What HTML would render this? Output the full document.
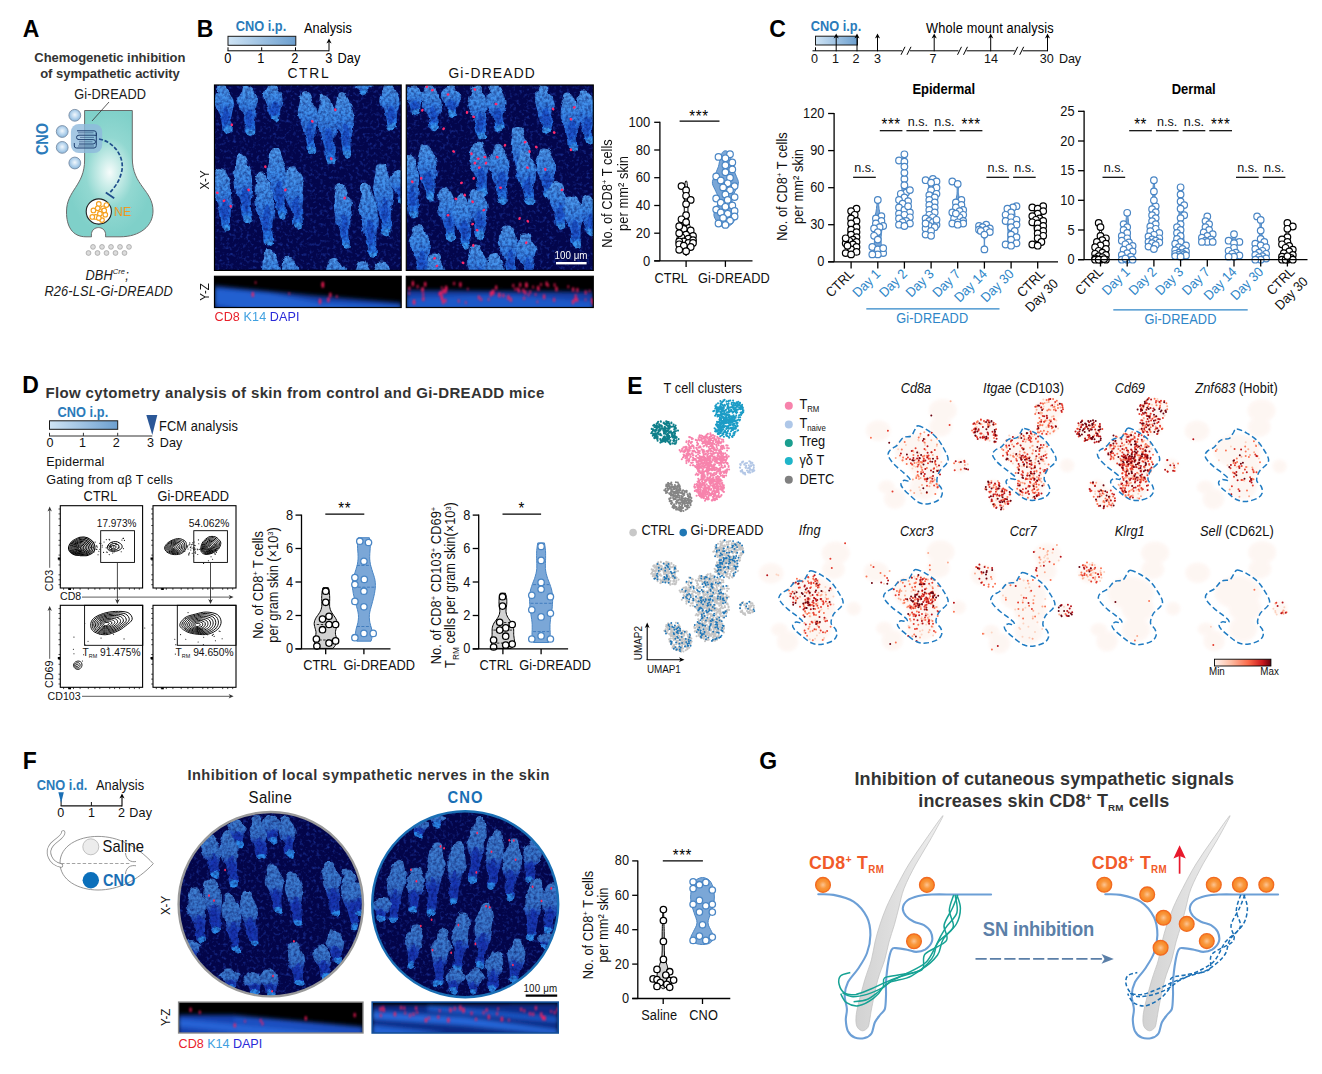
<!DOCTYPE html><html><head><meta charset="utf-8"><title>Figure</title><style>html,body{margin:0;padding:0;background:#fff}svg{display:block}text{font-family:"Liberation Sans",sans-serif}</style></head><body>
<svg width="1322" height="1074" viewBox="0 0 1322 1074">
<rect width="1322" height="1074" fill="#fff"/>
<defs>
<linearGradient id="folg2" x1="0" x2="0" y1="0" y2="1"><stop offset="0" stop-color="#3f80d2"/><stop offset="0.45" stop-color="#3674cc"/><stop offset="0.6" stop-color="#1b42b8"/><stop offset="0.86" stop-color="#1838b4"/><stop offset="1" stop-color="#2a86e6"/></linearGradient>
<linearGradient id="folg" x1="0" x2="0" y1="0" y2="1"><stop offset="0" stop-color="#4f9cee"/><stop offset="0.35" stop-color="#3c8cea"/><stop offset="0.7" stop-color="#2266dc"/><stop offset="1" stop-color="#2a88f2"/></linearGradient>
<filter id="bl" x="-5%" y="-5%" width="110%" height="110%"><feTurbulence type="fractalNoise" baseFrequency="0.11" numOctaves="2" seed="3" result="t"/><feDisplacementMap in="SourceGraphic" in2="t" scale="6" xChannelSelector="R" yChannelSelector="G" result="d"/><feGaussianBlur in="d" stdDeviation="0.75" result="b"/><feTurbulence type="fractalNoise" baseFrequency="0.35" numOctaves="2" seed="9" result="t2"/><feColorMatrix in="t2" type="matrix" values="0 0 0 0 1  0 0 0 0 1  0 0 0 0 1  1.1 0 0 0 0.28" result="m"/><feComposite in="b" in2="m" operator="in"/></filter>
<filter id="bl2" x="-20%" y="-50%" width="140%" height="200%"><feGaussianBlur stdDeviation="2.2"/></filter>
<filter id="rb2" x="-50%" y="-50%" width="200%" height="200%"><feGaussianBlur stdDeviation="0.8"/></filter>
<filter id="rb" x="-50%" y="-50%" width="200%" height="200%"><feGaussianBlur stdDeviation="0.45"/></filter>
<filter id="nz" x="0" y="0" width="100%" height="100%"><feTurbulence type="fractalNoise" baseFrequency="0.3" numOctaves="2" seed="7"/><feColorMatrix type="matrix" values="0 0 0 0 0.02  0 0 0 0 0.07  0 0 0 0 0.55  0 0 1.55 0 -0.8"/></filter>
</defs>
<text font-size="23" font-weight="bold" transform="translate(22.8 37) scale(1 1.08)">A</text>
<text font-size="13" fill="#333" font-weight="bold" textLength="151.1" lengthAdjust="spacing" transform="translate(34.3 61.7)">Chemogenetic inhibition</text>
<text font-size="13" fill="#333" font-weight="bold" textLength="139.6" lengthAdjust="spacing" transform="translate(40.2 78.4)">of sympathetic activity</text>
<text font-size="12.8" fill="#1a1a1a" textLength="71.8" lengthAdjust="spacing" transform="translate(74.2 98.8) scale(1 1.08)">Gi-DREADD</text>
<radialGradient id="neu" cx="0.5" cy="0.49" r="0.5"><stop offset="0" stop-color="#f6fcfb"/><stop offset="0.22" stop-color="#cdeeea"/><stop offset="0.55" stop-color="#92d8d1"/><stop offset="1" stop-color="#7fd0c9"/></radialGradient>
<path d="M84.6 110.5 L132.3 110.5 L132.3 158 C132.3 186 153 190 153 211 C153 226 140 236.8 120 236.8 L105.5 236.8 C107.5 224.5 89.5 224.5 91.5 236.8 L86 236.8 C72 236.8 66.5 226 66.5 212 C66.5 190 84.6 186 84.6 160 Z" fill="url(#neu)" stroke="#6b6b6b" stroke-width="1"/>
<line x1="109" y1="102" x2="92" y2="121" stroke="#333" stroke-width="0.8"/>
<rect x="70.9" y="124" width="31.3" height="29" rx="8" fill="#8fb9dc" opacity="0.8"/>
<path d="M77 130.8 H94 Q96.3 130.8 96.3 133 V136 M96.3 136 Q96.3 135.2 94 135.2 H79 Q76.5 135.2 76.5 137.4 Q76.5 139.6 79 139.6 H93 Q95.5 139.6 95.5 141.8 Q95.5 144 93 144 H79 M96.3 133 V145.5 Q96.3 148 94 148 H76.5 Q74.3 148 74.3 146 V143" fill="none" stroke="#1f3f6f" stroke-width="1.0"/>
<path d="M78 132.8 H93.5 M80 137.4 H94 M79 141.8 H92.5 M78 146 H94" fill="none" stroke="#1f3f6f" stroke-width="0.55"/>
<radialGradient id="cnob" cx="0.5" cy="0.45" r="0.6"><stop offset="0" stop-color="#f2f8fd"/><stop offset="0.5" stop-color="#b9d6ee"/><stop offset="1" stop-color="#7fb0d8"/></radialGradient>
<circle cx="74.8" cy="115.3" r="5.9" fill="url(#cnob)" stroke="#7b8fa6" stroke-width="0.9"/>
<circle cx="62.2" cy="131.5" r="5.9" fill="url(#cnob)" stroke="#7b8fa6" stroke-width="0.9"/>
<circle cx="62.2" cy="147.4" r="5.9" fill="url(#cnob)" stroke="#7b8fa6" stroke-width="0.9"/>
<circle cx="74.8" cy="163" r="5.9" fill="url(#cnob)" stroke="#7b8fa6" stroke-width="0.9"/>
<text font-size="14.5" fill="#2b7bba" text-anchor="middle" font-weight="bold" transform="translate(47.5 139) rotate(-90) scale(1 1.08)">CNO</text>
<path d="M99 139 C116 142 126 160 121 174 C119 182 114 188 110 192.5" fill="none" stroke="#1f4e8c" stroke-width="1.7" stroke-dasharray="4 1.8"/>
<line x1="105.8" y1="192.4" x2="114.2" y2="198.2" stroke="#1f4e8c" stroke-width="1.8"/>
<circle cx="98.8" cy="211.5" r="12.6" fill="#fff" stroke="#222" stroke-width="1.1"/>
<circle cx="93.4" cy="210.4" r="2.3" fill="#fff" stroke="#f5a01e" stroke-width="1.15"/>
<circle cx="98.8" cy="203.9" r="2.3" fill="#fff" stroke="#f5a01e" stroke-width="1.15"/>
<circle cx="103.1" cy="208.3" r="2.3" fill="#fff" stroke="#f5a01e" stroke-width="1.15"/>
<circle cx="105.3" cy="214.7" r="2.3" fill="#fff" stroke="#f5a01e" stroke-width="1.15"/>
<circle cx="99.9" cy="213.7" r="2.3" fill="#fff" stroke="#f5a01e" stroke-width="1.15"/>
<circle cx="95.6" cy="216.9" r="2.3" fill="#fff" stroke="#f5a01e" stroke-width="1.15"/>
<circle cx="102" cy="220.1" r="2.3" fill="#fff" stroke="#f5a01e" stroke-width="1.15"/>
<circle cx="92.3" cy="216.9" r="2.3" fill="#fff" stroke="#f5a01e" stroke-width="1.15"/>
<circle cx="106.4" cy="205" r="2.3" fill="#fff" stroke="#f5a01e" stroke-width="1.15"/>
<circle cx="97.7" cy="208.3" r="2.3" fill="#fff" stroke="#f5a01e" stroke-width="1.15"/>
<circle cx="98.8" cy="218" r="2.3" fill="#fff" stroke="#f5a01e" stroke-width="1.15"/>
<circle cx="104.2" cy="210.4" r="2.3" fill="#fff" stroke="#f5a01e" stroke-width="1.15"/>
<text font-size="12.5" fill="#5ec7bf" transform="translate(114.8 216.4) scale(1 1.08)">NE</text>
<text font-size="12.5" fill="#f39a1e" transform="translate(114 216) scale(1 1.08)">NE</text>
<circle cx="93" cy="246.9" r="2.4" fill="#dcdcdc" stroke="#9c9c9c" stroke-width="0.7"/>
<circle cx="88.5" cy="253" r="2.4" fill="#dcdcdc" stroke="#9c9c9c" stroke-width="0.7"/>
<circle cx="102" cy="246.9" r="2.4" fill="#dcdcdc" stroke="#9c9c9c" stroke-width="0.7"/>
<circle cx="97.5" cy="253" r="2.4" fill="#dcdcdc" stroke="#9c9c9c" stroke-width="0.7"/>
<circle cx="111" cy="246.9" r="2.4" fill="#dcdcdc" stroke="#9c9c9c" stroke-width="0.7"/>
<circle cx="106.5" cy="253" r="2.4" fill="#dcdcdc" stroke="#9c9c9c" stroke-width="0.7"/>
<circle cx="120" cy="246.9" r="2.4" fill="#dcdcdc" stroke="#9c9c9c" stroke-width="0.7"/>
<circle cx="115.5" cy="253" r="2.4" fill="#dcdcdc" stroke="#9c9c9c" stroke-width="0.7"/>
<circle cx="129" cy="246.9" r="2.4" fill="#dcdcdc" stroke="#9c9c9c" stroke-width="0.7"/>
<circle cx="124.5" cy="253" r="2.4" fill="#dcdcdc" stroke="#9c9c9c" stroke-width="0.7"/>
<text font-size="12.8" fill="#1a1a1a" font-style="italic" textLength="43.3" lengthAdjust="spacing" transform="translate(85.4 279.5) scale(1 1.08)">DBH<tspan font-size="7.5" dy="-5">Cre</tspan><tspan dy="5">;</tspan></text>
<text font-size="12.8" fill="#1a1a1a" font-style="italic" textLength="128.4" lengthAdjust="spacing" transform="translate(44.4 295.5) scale(1 1.08)">R26-LSL-Gi-DREADD</text>
<text font-size="23" font-weight="bold" transform="translate(196.8 36.8) scale(1 1.08)">B</text>
<text font-size="12.8" fill="#2b7bba" font-weight="bold" textLength="50.4" lengthAdjust="spacing" transform="translate(235.8 30.8) scale(1 1.08)">CNO i.p.</text>
<text font-size="12.8" textLength="47.8" lengthAdjust="spacing" transform="translate(304 32.5) scale(1 1.08)">Analysis</text>
<linearGradient id="gb" x1="0" x2="1" y1="0" y2="0"><stop offset="0" stop-color="#cfe4f5"/><stop offset="1" stop-color="#6c9fcf"/></linearGradient>
<rect x="228" y="36.3" width="67.8" height="9" fill="url(#gb)" stroke="#1a1a1a" stroke-width="1"/>
<line x1="227.5" y1="50.8" x2="329" y2="50.8" stroke="#000" stroke-width="1"/>
<line x1="228" y1="50.8" x2="228" y2="47.3" stroke="#000" stroke-width="1"/>
<line x1="261.7" y1="50.8" x2="261.7" y2="47.3" stroke="#000" stroke-width="1"/>
<line x1="295.5" y1="50.8" x2="295.5" y2="47.3" stroke="#000" stroke-width="1"/>
<line x1="329" y1="51.3" x2="329" y2="41.5" stroke="#000" stroke-width="1"/>
<path d="M329 38.5L326.4 43.5L329 42L331.6 43.5Z" fill="#000"/>
<text font-size="12.8" text-anchor="middle" transform="translate(227.8 62.5) scale(1 1.08)">0</text>
<text font-size="12.8" text-anchor="middle" transform="translate(260.8 62.5) scale(1 1.08)">1</text>
<text font-size="12.8" text-anchor="middle" transform="translate(294.7 62.5) scale(1 1.08)">2</text>
<text font-size="12.8" text-anchor="middle" transform="translate(328.8 62.5) scale(1 1.08)">3</text>
<text font-size="12.8" textLength="22.8" lengthAdjust="spacing" transform="translate(337.5 62.5) scale(1 1.08)">Day</text>
<text font-size="13.8" fill="#111" textLength="41.3" lengthAdjust="spacing" transform="translate(287.4 78) scale(1 1.08)">CTRL</text>
<text font-size="13.8" fill="#111" textLength="86.4" lengthAdjust="spacing" transform="translate(448.4 78) scale(1 1.08)">Gi-DREADD</text>
<clipPath id="cB1"><rect x="214.5" y="85" width="186.7" height="185.4"/></clipPath>
<g clip-path="url(#cB1)">
<rect x="214.5" y="85" width="186.7" height="185.4" fill="#03064c"/>
<rect x="214.5" y="85" width="186.7" height="185.4" fill="#000" filter="url(#nz)"/>
<g filter="url(#bl)">
<path d="M218.7 85.6C217.2 86.6 217.7 89.8 216.8 91.9C215.9 94 213.6 96.1 213.3 98.2C213 100.3 214.2 102.4 214.9 104.5C215.5 106.7 216.3 108.8 217.2 110.9C218.1 113 219.5 115.1 220.2 117.2C221 119.3 221.3 121.4 221.7 123.5C222.2 125.6 221.9 128.1 222.8 129.8C223.8 131.5 226.1 133.6 227.5 133.6C229 133.6 231 131.5 231.6 129.8C232.2 128.1 231.4 125.6 231.4 123.5C231.4 121.4 231.3 119.3 231.5 117.2C231.7 115.1 232.2 113 232.7 110.9C233.1 108.8 234.1 106.7 234.1 104.5C234.1 102.4 233.4 100.3 232.7 98.2C231.9 96.1 230.5 94 229.4 91.9C228.3 89.8 227.9 86.6 226.1 85.6C224.4 84.5 220.3 84.5 218.7 85.6Z" fill="url(#folg)"/><ellipse cx="225.8" cy="116.3" rx="3.4" ry="9.1" fill="#1a4fc8" opacity="0.75"/><ellipse cx="227.5" cy="129.8" rx="4.2" ry="3.4" fill="#3a9af2" opacity="0.9"/>
<path d="M242.6 85.6C241.1 86.7 241.8 90 240.9 92.2C240 94.4 237.4 96.7 237.1 98.9C236.9 101.1 238.5 103.3 239.3 105.5C240.1 107.7 241.2 109.9 242 112.1C242.7 114.4 243.4 116.6 243.9 118.8C244.4 121 244.8 123.2 245.2 125.4C245.6 127.6 245.3 130.3 246.2 132.1C247.2 133.8 249.6 135.9 251.1 135.9C252.6 135.9 254.4 133.8 255 132.1C255.7 130.3 255.1 127.6 255.1 125.4C255.1 123.2 255.1 121 255.2 118.8C255.3 116.6 255.5 114.4 255.7 112.1C256 109.9 256.3 107.7 256.7 105.5C257.1 103.3 258.5 101.1 258.1 98.9C257.7 96.7 255.6 94.4 254.2 92.2C252.8 90 251.7 86.7 249.8 85.6C247.9 84.5 244.1 84.5 242.6 85.6Z" fill="url(#folg)"/><ellipse cx="249.3" cy="117.8" rx="3.4" ry="9.6" fill="#1a4fc8" opacity="0.75"/><ellipse cx="251.1" cy="132.1" rx="4.2" ry="3.4" fill="#3a9af2" opacity="0.9"/>
<path d="M269.2 85.6C267.4 86.4 266.3 88.7 265.4 90.3C264.5 91.9 264 93.5 263.8 95C263.5 96.6 263.5 98.2 264 99.8C264.4 101.3 265.7 102.9 266.5 104.5C267.4 106.1 268.4 107.6 269 109.2C269.6 110.8 270 112.4 270.4 113.9C270.8 115.5 270.3 117.2 271.3 118.7C272.3 120.1 274.7 122.5 276.1 122.5C277.6 122.5 279.3 120.1 280 118.7C280.7 117.2 280.2 115.5 280.3 113.9C280.3 112.4 280 110.8 280.4 109.2C280.8 107.6 282.3 106.1 282.8 104.5C283.4 102.9 283.6 101.3 283.6 99.8C283.5 98.2 283.3 96.6 282.6 95C281.9 93.5 280.4 91.9 279.3 90.3C278.2 88.7 277.8 86.4 276.1 85.6C274.4 84.8 271 84.8 269.2 85.6Z" fill="url(#folg)"/><ellipse cx="274.8" cy="109.2" rx="3.4" ry="7" fill="#1a4fc8" opacity="0.75"/><ellipse cx="276.1" cy="118.7" rx="4.2" ry="3.4" fill="#3a9af2" opacity="0.9"/>
<path d="M302.4 93.4C300.8 94.8 300.7 98.9 299.9 101.6C299.1 104.4 297.9 107.1 297.8 109.9C297.6 112.6 298.2 115.4 299 118.1C299.7 120.9 301.4 123.6 302.3 126.4C303.1 129.1 303.5 131.8 304.1 134.6C304.7 137.3 305.4 140.1 305.9 142.8C306.4 145.6 306.2 149.1 307.2 151.1C308.2 153.1 310.5 154.9 312 154.9C313.4 154.9 315.3 153.1 316 151.1C316.6 149.1 315.8 145.6 315.7 142.8C315.6 140.1 315.3 137.3 315.4 134.6C315.5 131.8 316 129.1 316.3 126.4C316.5 123.6 316.8 120.9 316.9 118.1C317 115.4 317.6 112.6 317 109.9C316.3 107.1 314.5 104.4 313.2 101.6C312 98.9 311.3 94.8 309.4 93.4C307.6 92 304 92 302.4 93.4Z" fill="url(#folg)"/><ellipse cx="309.8" cy="132.7" rx="3.4" ry="11.7" fill="#1a4fc8" opacity="0.75"/><ellipse cx="312" cy="151.1" rx="4.2" ry="3.4" fill="#3a9af2" opacity="0.9"/>
<path d="M320.5 95.6C319.1 97.2 319.9 101.9 319.4 105C318.8 108.1 317.7 111.2 317.3 114.3C316.9 117.5 316.4 120.6 316.9 123.7C317.5 126.8 319.6 129.9 320.7 133.1C321.7 136.2 322.5 139.3 323.2 142.4C324 145.5 324.6 148.6 325.2 151.8C325.8 154.9 325.8 158.9 326.8 161.1C327.8 163.3 329.9 164.9 331.4 164.9C332.8 164.9 334.8 163.3 335.4 161.1C336 158.9 335.1 154.9 335 151.8C334.9 148.6 334.7 145.5 334.8 142.4C334.9 139.3 335.5 136.2 335.7 133.1C335.9 129.9 336 126.8 336.2 123.7C336.4 120.6 337.5 117.5 336.7 114.3C335.9 111.2 332.8 108.1 331.4 105C330 101.9 329.9 97.2 328.1 95.6C326.3 94.1 322 94.1 320.5 95.6Z" fill="url(#folg)"/><ellipse cx="328.9" cy="140" rx="3.4" ry="13.2" fill="#1a4fc8" opacity="0.75"/><ellipse cx="331.4" cy="161.1" rx="4.2" ry="3.4" fill="#3a9af2" opacity="0.9"/>
<path d="M337.9 93.4C336.4 94.9 337.2 99.2 336.4 102.1C335.6 105 333.5 107.9 333.3 110.8C333 113.7 334.2 116.6 334.8 119.6C335.3 122.5 335.7 125.4 336.6 128.3C337.5 131.2 339.3 134.1 340.2 137C341 139.9 341.3 142.8 341.8 145.7C342.3 148.6 342.2 152.3 343.2 154.4C344.3 156.5 346.5 158.2 347.9 158.2C349.3 158.2 351.3 156.5 351.9 154.4C352.5 152.3 351.5 148.6 351.4 145.7C351.4 142.8 351.4 139.9 351.7 137C351.9 134.1 352.5 131.2 352.9 128.3C353.2 125.4 353.7 122.5 353.8 119.6C353.8 116.6 353.8 113.7 353.1 110.8C352.3 107.9 350.7 105 349.4 102.1C348 99.2 346.9 94.9 345 93.4C343.1 92 339.3 92 337.9 93.4Z" fill="url(#folg)"/><ellipse cx="345.6" cy="134.9" rx="3.4" ry="12.3" fill="#1a4fc8" opacity="0.75"/><ellipse cx="347.9" cy="154.4" rx="4.2" ry="3.4" fill="#3a9af2" opacity="0.9"/>
<path d="M359.6 83.4C357.9 83.6 357.9 84.2 357 84.6C356.1 85 354.4 85.4 354 85.8C353.6 86.2 354.2 86.6 354.6 87C354.9 87.4 355.4 87.8 355.9 88.2C356.5 88.6 357.3 89 357.8 89.4C358.3 89.8 358.4 90.2 358.7 90.6C359 91 358.5 91 359.5 91.8C360.4 92.7 362.8 95.6 364.3 95.6C365.7 95.6 367.6 92.7 368.3 91.8C369 91 368.4 91 368.5 90.6C368.7 90.2 368.9 89.8 369.2 89.4C369.5 89 369.6 88.6 370.3 88.2C371.1 87.8 373.2 87.4 373.5 87C373.8 86.6 372.8 86.2 372.2 85.8C371.5 85.4 370.3 85 369.5 84.6C368.6 84.2 368.7 83.6 367.1 83.4C365.4 83.1 361.2 83.1 359.6 83.4Z" fill="url(#folg)"/><ellipse cx="363.8" cy="91.2" rx="3.4" ry="2.3" fill="#1a4fc8" opacity="0.75"/><ellipse cx="364.3" cy="91.8" rx="4.2" ry="3.4" fill="#3a9af2" opacity="0.9"/>
<path d="M384.4 85.6C382.8 86.6 383.2 89.5 382.6 91.4C382 93.4 381.2 95.3 380.8 97.3C380.5 99.2 380.1 101.2 380.5 103.1C381 105.1 382.8 107 383.7 109C384.5 110.9 384.9 112.8 385.5 114.8C386 116.7 386.6 118.7 387 120.6C387.4 122.6 387.1 124.9 388.1 126.5C389 128.1 391.3 130.3 392.7 130.3C394.2 130.3 396.1 128.1 396.8 126.5C397.5 124.9 396.8 122.6 396.9 120.6C396.9 118.7 396.8 116.7 397 114.8C397.3 112.8 398 110.9 398.4 109C398.8 107 399.5 105.1 399.6 103.1C399.6 101.2 399.4 99.2 398.9 97.3C398.3 95.3 397.2 93.4 396 91.4C394.8 89.5 393.6 86.6 391.7 85.6C389.8 84.6 385.9 84.6 384.4 85.6Z" fill="url(#folg)"/><ellipse cx="391.1" cy="114.2" rx="3.4" ry="8.5" fill="#1a4fc8" opacity="0.75"/><ellipse cx="392.7" cy="126.5" rx="4.2" ry="3.4" fill="#3a9af2" opacity="0.9"/>
<path d="M217 169.4C215.3 170.8 214.9 175 214.3 177.8C213.8 180.6 213.5 183.4 213.6 186.2C213.8 189 214.7 191.8 215.2 194.6C215.6 197.4 215.6 200.2 216.3 203C217.1 205.8 218.7 208.6 219.5 211.4C220.3 214.2 220.6 217 221 219.8C221.5 222.6 221.2 226.1 222.3 228.2C223.3 230.2 225.7 232 227.1 232C228.6 232 230.4 230.2 231 228.2C231.6 226.1 230.9 222.6 230.9 219.8C230.8 217 230.6 214.2 230.9 211.4C231.1 208.6 232.2 205.8 232.3 203C232.5 200.2 232 197.4 231.9 194.6C231.8 191.8 232.4 189 231.9 186.2C231.4 183.4 230 180.6 228.7 177.8C227.4 175 226.1 170.8 224.1 169.4C222.2 168 218.6 168 217 169.4Z" fill="url(#folg)"/><ellipse cx="224.9" cy="209.4" rx="3.4" ry="11.9" fill="#1a4fc8" opacity="0.75"/><ellipse cx="227.1" cy="228.2" rx="4.2" ry="3.4" fill="#3a9af2" opacity="0.9"/>
<path d="M237.5 156C236 157.5 236.4 162 235.6 165C234.8 168 232.8 171 232.6 174C232.4 177.1 234 180.1 234.5 183.1C235 186.1 235 189.1 235.9 192.1C236.7 195.1 238.8 198.1 239.7 201.1C240.5 204.2 240.6 207.2 241.1 210.2C241.6 213.2 241.5 217.1 242.6 219.2C243.7 221.4 246 223 247.5 223C248.9 223 250.8 221.4 251.4 219.2C252 217.1 251.1 213.2 251.1 210.2C251 207.2 250.8 204.2 250.9 201.1C251.1 198.1 251.8 195.1 252 192.1C252.1 189.1 252.2 186.1 252.1 183.1C252 180.1 251.9 177.1 251.2 174C250.5 171 249.1 168 247.9 165C246.7 162 246 157.5 244.2 156C242.5 154.5 238.9 154.5 237.5 156Z" fill="url(#folg)"/><ellipse cx="245.1" cy="198.9" rx="3.4" ry="12.7" fill="#1a4fc8" opacity="0.75"/><ellipse cx="247.5" cy="219.2" rx="4.2" ry="3.4" fill="#3a9af2" opacity="0.9"/>
<path d="M258.3 173.9C256.7 175.5 256.3 180.4 255.7 183.7C255.1 187 254.5 190.2 254.5 193.5C254.5 196.8 255.2 200.1 255.6 203.4C256.1 206.6 256.5 209.9 257.4 213.2C258.2 216.5 259.8 219.7 260.7 223C261.6 226.3 262.3 229.6 262.8 232.8C263.4 236.1 263 240.4 264.1 242.7C265.1 245 267.5 246.5 269 246.5C270.5 246.5 272.4 245 273 242.7C273.6 240.4 272.5 236.1 272.4 232.8C272.4 229.6 272.2 226.3 272.5 223C272.8 219.7 273.9 216.5 274.2 213.2C274.4 209.9 274.2 206.6 274.1 203.4C273.9 200.1 273.9 196.8 273.2 193.5C272.6 190.2 271.4 187 270.1 183.7C268.8 180.4 267.3 175.5 265.4 173.9C263.4 172.2 259.9 172.2 258.3 173.9Z" fill="url(#folg)"/><ellipse cx="266.4" cy="220.3" rx="3.4" ry="13.8" fill="#1a4fc8" opacity="0.75"/><ellipse cx="269" cy="242.7" rx="4.2" ry="3.4" fill="#3a9af2" opacity="0.9"/>
<path d="M271.6 149.3C270 150.9 270.2 155.6 269.4 158.8C268.6 162 266.9 165.1 266.8 168.3C266.7 171.5 268.2 174.6 268.9 177.8C269.6 181 270.3 184.2 271.2 187.3C272.1 190.5 273.6 193.7 274.4 196.8C275.2 200 275.5 203.2 276.1 206.4C276.6 209.5 276.6 213.6 277.7 215.9C278.7 218.1 280.8 219.7 282.3 219.7C283.7 219.7 285.7 218.1 286.3 215.9C286.8 213.6 285.8 209.5 285.7 206.4C285.6 203.2 285.3 200 285.6 196.8C285.9 193.7 287 190.5 287.4 187.3C287.8 184.2 288.3 181 288 177.8C287.7 174.6 286.7 171.5 285.8 168.3C284.9 165.1 283.8 162 282.6 158.8C281.5 155.6 280.6 150.9 278.8 149.3C277 147.7 273.2 147.7 271.6 149.3Z" fill="url(#folg)"/><ellipse cx="279.8" cy="194.3" rx="3.4" ry="13.4" fill="#1a4fc8" opacity="0.75"/><ellipse cx="282.3" cy="215.9" rx="4.2" ry="3.4" fill="#3a9af2" opacity="0.9"/>
<path d="M289.1 167.2C287.5 168.6 287.4 172.7 286.6 175.5C285.7 178.3 284 181.1 283.8 183.9C283.6 186.7 284.6 189.5 285.2 192.3C285.8 195.1 286.4 197.9 287.3 200.7C288.3 203.5 290 206.3 290.8 209.1C291.7 211.9 292 214.7 292.5 217.5C293.1 220.3 293 223.9 294 225.9C295 228 297.2 229.7 298.6 229.7C300 229.7 301.8 228 302.5 225.9C303.1 223.9 302.6 220.3 302.5 217.5C302.4 214.7 302 211.9 302.1 209.1C302.2 206.3 303 203.5 303.2 200.7C303.4 197.9 303.2 195.1 303.4 192.3C303.6 189.5 304.7 186.7 304.2 183.9C303.8 181.1 302 178.3 300.6 175.5C299.3 172.7 297.9 168.6 296 167.2C294 165.8 290.7 165.8 289.1 167.2Z" fill="url(#folg)"/><ellipse cx="296.4" cy="207.2" rx="3.4" ry="11.9" fill="#1a4fc8" opacity="0.75"/><ellipse cx="298.6" cy="225.9" rx="4.2" ry="3.4" fill="#3a9af2" opacity="0.9"/>
<path d="M336.7 185C335.2 186.5 335.7 190.8 335.2 193.7C334.7 196.6 333.8 199.6 333.6 202.5C333.5 205.4 334 208.3 334.3 211.2C334.7 214.1 334.8 217 335.6 219.9C336.4 222.8 338.3 225.7 339.1 228.6C339.9 231.5 340 234.4 340.5 237.3C341 240.2 340.9 243.9 342 246C343 248.1 345.3 249.8 346.8 249.8C348.3 249.8 350.3 248.1 350.9 246C351.5 243.9 350.6 240.2 350.5 237.3C350.4 234.4 350.3 231.5 350.3 228.6C350.3 225.7 350.3 222.8 350.5 219.9C350.8 217 351.6 214.1 351.8 211.2C352 208.3 352.6 205.4 351.9 202.5C351.2 199.6 348.9 196.6 347.6 193.7C346.3 190.8 346.1 186.5 344.2 185C342.4 183.6 338.2 183.6 336.7 185Z" fill="url(#folg)"/><ellipse cx="344.5" cy="226.5" rx="3.4" ry="12.3" fill="#1a4fc8" opacity="0.75"/><ellipse cx="346.8" cy="246" rx="4.2" ry="3.4" fill="#3a9af2" opacity="0.9"/>
<path d="M361.7 185C360.3 186.7 361.5 191.7 360.7 195C359.9 198.4 357 201.7 356.9 205C356.8 208.3 359.1 211.7 360 215C360.8 218.3 361 221.7 361.9 225C362.7 228.3 364 231.7 364.8 235C365.6 238.3 365.9 241.6 366.5 245C367.1 248.3 367.1 252.7 368.2 255C369.3 257.3 371.5 258.8 372.9 258.8C374.4 258.8 376.5 257.3 377.1 255C377.6 252.7 376.5 248.3 376.4 245C376.3 241.6 376.1 238.3 376.3 235C376.5 231.7 377.3 228.3 377.6 225C377.9 221.7 378 218.3 377.9 215C377.7 211.7 377.5 208.3 376.6 205C375.7 201.7 373.6 198.4 372.4 195C371.2 191.7 371.3 186.7 369.5 185C367.8 183.4 363.2 183.4 361.7 185Z" fill="url(#folg)"/><ellipse cx="370.4" cy="232.2" rx="3.4" ry="14" fill="#1a4fc8" opacity="0.75"/><ellipse cx="372.9" cy="255" rx="4.2" ry="3.4" fill="#3a9af2" opacity="0.9"/>
<path d="M376.9 164.9C375.4 166.5 375.7 171.4 375.2 174.6C374.6 177.8 373.7 181 373.4 184.3C373 187.5 372.7 190.7 373.2 193.9C373.6 197.2 375.3 200.4 376.3 203.6C377.3 206.8 378.5 210.1 379.3 213.3C380.1 216.5 380.6 219.7 381.2 223C381.7 226.2 381.5 230.4 382.6 232.6C383.6 234.9 385.9 236.4 387.3 236.4C388.8 236.4 390.7 234.9 391.3 232.6C391.9 230.4 391.1 226.2 391 223C390.9 219.7 390.7 216.5 390.9 213.3C391.1 210.1 391.6 206.8 392 203.6C392.4 200.4 393.4 197.2 393.4 193.9C393.3 190.7 392.3 187.5 391.5 184.3C390.7 181 389.8 177.8 388.5 174.6C387.2 171.4 385.8 166.5 383.9 164.9C382 163.3 378.3 163.3 376.9 164.9Z" fill="url(#folg)"/><ellipse cx="384.8" cy="210.7" rx="3.4" ry="13.6" fill="#1a4fc8" opacity="0.75"/><ellipse cx="387.3" cy="232.6" rx="4.2" ry="3.4" fill="#3a9af2" opacity="0.9"/>
<path d="M265.4 250.9C263.8 252.2 263.3 255.8 262.8 258.2C262.3 260.7 262.5 263.1 262.4 265.5C262.3 267.9 261.9 270.4 262.2 272.8C262.4 275.2 263.1 277.6 264 280.1C264.9 282.5 266.6 284.9 267.4 287.3C268.2 289.8 268.5 292.2 268.9 294.6C269.3 297 269.1 300.1 270 301.9C271 303.7 273.3 305.7 274.8 305.7C276.2 305.7 278.1 303.7 278.8 301.9C279.5 300.1 278.7 297 278.7 294.6C278.7 292.2 278.5 289.8 278.8 287.3C279.1 284.9 280 282.5 280.4 280.1C280.8 277.6 281.3 275.2 281.1 272.8C280.9 270.4 280 267.9 279.2 265.5C278.4 263.1 277.5 260.7 276.4 258.2C275.3 255.8 274.3 252.2 272.5 250.9C270.7 249.7 267 249.7 265.4 250.9Z" fill="url(#folg)"/><ellipse cx="272.9" cy="286" rx="3.4" ry="10.4" fill="#1a4fc8" opacity="0.75"/><ellipse cx="274.8" cy="301.9" rx="4.2" ry="3.4" fill="#3a9af2" opacity="0.9"/>
<path d="M285.3 256.5C283.6 257.6 282.7 260.9 282 263C281.3 265.2 281 267.3 280.9 269.5C280.7 271.7 280.7 273.8 281.1 276C281.5 278.1 282.3 280.3 283.2 282.5C284 284.6 285.5 286.8 286.2 288.9C286.9 291.1 287 293.3 287.4 295.4C287.8 297.6 287.7 300.2 288.7 301.9C289.7 303.6 292 305.7 293.5 305.7C295 305.7 296.9 303.6 297.6 301.9C298.3 300.2 297.6 297.6 297.5 295.4C297.5 293.3 297.3 291.1 297.4 288.9C297.5 286.8 297.7 284.6 298.1 282.5C298.4 280.3 299.3 278.1 299.4 276C299.6 273.8 299.6 271.7 299 269.5C298.4 267.3 297.1 265.2 295.9 263C294.8 260.9 293.7 257.6 291.9 256.5C290.1 255.5 286.9 255.5 285.3 256.5Z" fill="url(#folg)"/><ellipse cx="291.8" cy="288" rx="3.4" ry="9.3" fill="#1a4fc8" opacity="0.75"/><ellipse cx="293.5" cy="301.9" rx="4.2" ry="3.4" fill="#3a9af2" opacity="0.9"/>
<path d="M330.9 257.7C329.3 258.7 328.6 261.9 327.8 264C327 266.1 326.4 268.2 326.1 270.3C325.9 272.4 325.6 274.5 326.2 276.6C326.9 278.7 329.1 280.8 330.1 282.9C331 285 331.5 287.2 332.1 289.3C332.6 291.4 333 293.5 333.4 295.6C333.8 297.7 333.5 300.2 334.4 301.9C335.4 303.6 337.8 305.7 339.2 305.7C340.7 305.7 342.5 303.6 343.1 301.9C343.8 300.2 343.1 297.7 343.1 295.6C343.1 293.5 342.7 291.4 343.1 289.3C343.5 287.2 345 285 345.5 282.9C346 280.8 346.1 278.7 346.1 276.6C346.1 274.5 346.4 272.4 345.7 270.3C345 268.2 343.2 266.1 341.9 264C340.6 261.9 339.6 258.7 337.8 257.7C335.9 256.6 332.6 256.6 330.9 257.7Z" fill="url(#folg)"/><ellipse cx="337.6" cy="288.4" rx="3.4" ry="9.1" fill="#1a4fc8" opacity="0.75"/><ellipse cx="339.2" cy="301.9" rx="4.2" ry="3.4" fill="#3a9af2" opacity="0.9"/>
<path d="M359.3 261C357.5 262 356.6 264.9 355.6 266.8C354.7 268.8 353.5 270.7 353.4 272.7C353.3 274.6 354.5 276.6 355.2 278.5C355.9 280.5 356.9 282.4 357.7 284.4C358.5 286.3 359.4 288.3 360 290.2C360.5 292.2 360.7 294.1 361.1 296.1C361.5 298 361.4 300.3 362.4 301.9C363.4 303.5 365.6 305.7 367 305.7C368.4 305.7 370.4 303.5 371 301.9C371.6 300.3 370.7 298 370.8 296.1C370.8 294.1 371 292.2 371.3 290.2C371.7 288.3 372.3 286.3 372.8 284.4C373.4 282.4 374.6 280.5 374.5 278.5C374.5 276.6 373.3 274.6 372.4 272.7C371.5 270.7 370.2 268.8 369.2 266.8C368.2 264.9 367.9 262 366.2 261C364.6 260 361.1 260 359.3 261Z" fill="url(#folg)"/><ellipse cx="365.4" cy="289.6" rx="3.4" ry="8.5" fill="#1a4fc8" opacity="0.75"/><ellipse cx="367" cy="301.9" rx="4.2" ry="3.4" fill="#3a9af2" opacity="0.9"/>
<path d="M378.3 263.2C376.7 264.2 376.2 266.9 375.3 268.8C374.4 270.6 373.1 272.4 372.9 274.3C372.7 276.1 373.7 278 374.1 279.8C374.6 281.6 374.9 283.5 375.7 285.3C376.4 287.2 378.1 289 378.8 290.9C379.5 292.7 379.6 294.5 379.9 296.4C380.3 298.2 380.1 300.3 381.1 301.9C382.1 303.5 384.4 305.7 385.9 305.7C387.4 305.7 389.4 303.5 390 301.9C390.7 300.3 389.7 298.2 389.7 296.4C389.7 294.5 389.7 292.7 389.9 290.9C390.1 289 390.4 287.2 391 285.3C391.6 283.5 393.4 281.6 393.5 279.8C393.7 278 392.7 276.1 391.9 274.3C391.2 272.4 390.2 270.6 389 268.8C387.8 266.9 386.7 264.2 384.9 263.2C383.1 262.3 379.9 262.3 378.3 263.2Z" fill="url(#folg)"/><ellipse cx="384.4" cy="290.4" rx="3.4" ry="8.1" fill="#1a4fc8" opacity="0.75"/><ellipse cx="385.9" cy="301.9" rx="4.2" ry="3.4" fill="#3a9af2" opacity="0.9"/>
<path d="M395.5 169.4C393.9 170.1 393.3 172.4 392.2 174C391.2 175.5 389.4 177 389.1 178.5C388.8 180 389.7 181.6 390.2 183.1C390.8 184.6 391.5 186.1 392.3 187.6C393.2 189.2 394.6 190.7 395.3 192.2C396 193.7 396.1 195.3 396.5 196.8C396.9 198.3 396.7 199.9 397.7 201.3C398.6 202.7 400.9 205.1 402.3 205.1C403.8 205.1 405.7 202.7 406.4 201.3C407.1 199.9 406.6 198.3 406.6 196.8C406.7 195.3 406.5 193.7 406.7 192.2C406.8 190.7 407.2 189.2 407.7 187.6C408.1 186.1 409 184.6 409.3 183.1C409.7 181.6 410.6 180 410 178.5C409.3 177 406.6 175.5 405.3 174C404 172.4 403.7 170.1 402.1 169.4C400.4 168.6 397.1 168.6 395.5 169.4Z" fill="url(#folg)"/><ellipse cx="401.1" cy="192.3" rx="3.4" ry="6.8" fill="#1a4fc8" opacity="0.75"/><ellipse cx="402.3" cy="201.3" rx="4.2" ry="3.4" fill="#3a9af2" opacity="0.9"/>
</g>
<g filter="url(#rb)" fill="#ff2a6d">
<ellipse cx="312.3" cy="121.3" rx="1.25" ry="1.55" transform="rotate(135 312.3 121.3)"/>
<ellipse cx="231.8" cy="124.7" rx="1.25" ry="1.55" transform="rotate(0 231.8 124.7)"/>
<ellipse cx="248.6" cy="189.9" rx="1.25" ry="1.55" transform="rotate(141 248.6 189.9)"/>
<ellipse cx="285.4" cy="189.9" rx="1.25" ry="1.55" transform="rotate(36 285.4 189.9)"/>
<ellipse cx="224" cy="200.7" rx="1.25" ry="1.55" transform="rotate(55 224 200.7)"/>
<ellipse cx="217.3" cy="192.8" rx="1.25" ry="1.55" transform="rotate(100 217.3 192.8)"/>
<ellipse cx="344.7" cy="198" rx="1.25" ry="1.55" transform="rotate(19 344.7 198)"/>
<ellipse cx="331.3" cy="158.7" rx="1.25" ry="1.55" transform="rotate(151 331.3 158.7)"/>
<ellipse cx="230.7" cy="206.3" rx="1.25" ry="1.55" transform="rotate(160 230.7 206.3)"/>
<ellipse cx="265.3" cy="166.7" rx="1.25" ry="1.55" transform="rotate(174 265.3 166.7)"/>
<ellipse cx="335.3" cy="109.7" rx="1.25" ry="1.55" transform="rotate(160 335.3 109.7)"/>
</g></g>
<rect x="214.5" y="85" width="186.7" height="185.4" fill="none" stroke="#000" stroke-width="1.2"/>
<clipPath id="cB2"><rect x="406.3" y="85" width="187" height="185.4"/></clipPath>
<g clip-path="url(#cB2)">
<rect x="406.3" y="85" width="187" height="185.4" fill="#03064c"/>
<rect x="406.3" y="85" width="187" height="185.4" fill="#000" filter="url(#nz)"/>
<g filter="url(#bl)">
<path d="M409.6 86.3C408.1 86.9 408.6 88.7 407.6 89.9C406.6 91.2 403.9 92.4 403.5 93.6C403.2 94.8 404.7 96 405.4 97.3C406.1 98.5 407.1 99.7 407.8 100.9C408.4 102.2 409 103.4 409.4 104.6C409.8 105.8 410.1 107.1 410.4 108.3C410.7 109.5 410.2 110.7 411.2 112C412.1 113.2 414.5 115.8 416 115.8C417.5 115.8 419.2 113.2 419.9 112C420.7 110.7 420.2 109.5 420.3 108.3C420.4 107.1 420.5 105.8 420.7 104.6C420.9 103.4 421.2 102.2 421.5 100.9C421.9 99.7 422.3 98.5 422.8 97.3C423.3 96 424.8 94.8 424.5 93.6C424.2 92.4 422.2 91.2 420.9 89.9C419.6 88.7 418.6 86.9 416.8 86.3C414.9 85.6 411.1 85.6 409.6 86.3Z" fill="url(#folg)"/><ellipse cx="415" cy="105.1" rx="3.4" ry="5.6" fill="#1a4fc8" opacity="0.75"/><ellipse cx="416" cy="112" rx="4.2" ry="3.4" fill="#3a9af2" opacity="0.9"/>
<path d="M426.9 86.3C425.2 87.2 424.1 90.2 423.3 92.2C422.4 94.1 421.9 96.1 421.7 98.1C421.5 100 421.5 102 422 104C422.5 105.9 423.8 107.9 424.7 109.9C425.6 111.8 426.6 113.8 427.3 115.8C428 117.8 428.4 119.7 428.8 121.7C429.2 123.7 428.9 126 429.8 127.6C430.8 129.2 433.2 131.4 434.7 131.4C436.1 131.4 437.9 129.2 438.6 127.6C439.2 126 438.7 123.7 438.7 121.7C438.7 119.7 438.3 117.8 438.7 115.8C439.1 113.8 440.5 111.8 441 109.9C441.5 107.9 441.7 105.9 441.7 104C441.6 102 441.3 100 440.5 98.1C439.8 96.1 438.2 94.1 437.1 92.2C436 90.2 435.5 87.2 433.8 86.3C432.1 85.3 428.7 85.3 426.9 86.3Z" fill="url(#folg)"/><ellipse cx="433.1" cy="115.1" rx="3.4" ry="8.6" fill="#1a4fc8" opacity="0.75"/><ellipse cx="434.7" cy="127.6" rx="4.2" ry="3.4" fill="#3a9af2" opacity="0.9"/>
<path d="M446.5 86.3C444.8 86.9 444.4 88.8 443.5 90.1C442.6 91.4 441.2 92.6 440.9 93.9C440.6 95.2 441.1 96.5 441.7 97.7C442.3 99 443.8 100.3 444.5 101.6C445.3 102.9 445.5 104.1 446 105.4C446.4 106.7 446.9 108 447.3 109.2C447.7 110.5 447.2 111.8 448.2 113.1C449.1 114.3 451.5 116.9 452.9 116.9C454.4 116.9 456.2 114.3 456.9 113.1C457.6 111.8 457 110.5 457.1 109.2C457.1 108 457 106.7 457.3 105.4C457.5 104.1 458.1 102.9 458.5 101.6C458.9 100.3 459.4 99 459.6 97.7C459.9 96.5 460.6 95.2 460.1 93.9C459.6 92.6 457.9 91.4 456.8 90.1C455.7 88.8 455.2 86.9 453.5 86.3C451.7 85.6 448.1 85.6 446.5 86.3Z" fill="url(#folg)"/><ellipse cx="451.9" cy="105.9" rx="3.4" ry="5.8" fill="#1a4fc8" opacity="0.75"/><ellipse cx="452.9" cy="113.1" rx="4.2" ry="3.4" fill="#3a9af2" opacity="0.9"/>
<path d="M472.7 86.3C471.2 87.5 471.9 91 471.3 93.4C470.7 95.8 469.5 98.2 469 100.6C468.5 103 468 105.4 468.5 107.8C469 110.2 471 112.6 472 115C473 117.4 473.6 119.8 474.3 122.2C475 124.6 475.5 127 476.1 129.4C476.6 131.7 476.5 134.7 477.5 136.5C478.5 138.4 480.6 140.3 482 140.3C483.5 140.3 485.4 138.4 486 136.5C486.7 134.7 485.9 131.7 485.9 129.4C485.9 127 485.7 124.6 485.9 122.2C486.1 119.8 486.7 117.4 487 115C487.3 112.6 487.5 110.2 487.7 107.8C488 105.4 489.2 103 488.5 100.6C487.7 98.2 484.7 95.8 483.4 93.4C482 91 482 87.5 480.2 86.3C478.5 85.1 474.2 85.1 472.7 86.3Z" fill="url(#folg)"/><ellipse cx="480.1" cy="120.9" rx="3.4" ry="10.3" fill="#1a4fc8" opacity="0.75"/><ellipse cx="482" cy="136.5" rx="4.2" ry="3.4" fill="#3a9af2" opacity="0.9"/>
<path d="M491.3 86.3C489.9 87.3 490.5 90.3 489.6 92.3C488.8 94.3 486.6 96.4 486.2 98.4C485.8 100.4 487 102.4 487.5 104.5C487.9 106.5 488.2 108.5 489 110.5C489.8 112.5 491.5 114.6 492.3 116.6C493.1 118.6 493.2 120.6 493.7 122.6C494.1 124.7 493.9 127.1 494.9 128.7C495.8 130.4 498.1 132.5 499.5 132.5C501 132.5 502.9 130.4 503.5 128.7C504.1 127.1 503.3 124.7 503.3 122.6C503.4 120.6 503.5 118.6 503.8 116.6C504.1 114.6 504.8 112.5 505.3 110.5C505.7 108.5 506.3 106.5 506.4 104.5C506.5 102.4 506.7 100.4 506 98.4C505.4 96.4 503.9 94.3 502.6 92.3C501.3 90.3 500.3 87.3 498.4 86.3C496.6 85.2 492.8 85.2 491.3 86.3Z" fill="url(#folg)"/><ellipse cx="497.9" cy="115.9" rx="3.4" ry="8.8" fill="#1a4fc8" opacity="0.75"/><ellipse cx="499.5" cy="128.7" rx="4.2" ry="3.4" fill="#3a9af2" opacity="0.9"/>
<path d="M539.3 86.3C537.7 87.3 538.1 90.5 537.3 92.6C536.6 94.8 535 96.9 534.8 99C534.6 101.2 535.4 103.3 535.9 105.4C536.4 107.5 537.1 109.7 537.8 111.8C538.5 113.9 539.5 116.1 540.2 118.2C540.8 120.3 541.2 122.4 541.6 124.6C542.1 126.7 541.9 129.3 542.9 130.9C543.9 132.6 546.2 134.7 547.7 134.7C549.1 134.7 551.1 132.6 551.7 130.9C552.3 129.3 551.4 126.7 551.4 124.6C551.4 122.4 551.5 120.3 551.6 118.2C551.7 116.1 551.6 113.9 552.2 111.8C552.7 109.7 554.7 107.5 554.8 105.4C555 103.3 553.8 101.2 553 99C552.1 96.9 550.8 94.8 549.8 92.6C548.8 90.5 548.6 87.3 546.8 86.3C545.1 85.2 540.9 85.2 539.3 86.3Z" fill="url(#folg)"/><ellipse cx="546" cy="117.3" rx="3.4" ry="9.2" fill="#1a4fc8" opacity="0.75"/><ellipse cx="547.7" cy="130.9" rx="4.2" ry="3.4" fill="#3a9af2" opacity="0.9"/>
<path d="M564.2 93.4C562.7 94.7 563.1 98.6 562.6 101.2C562.1 103.8 561.3 106.3 561 108.9C560.7 111.5 560.4 114.1 560.9 116.7C561.5 119.3 563.3 121.9 564.2 124.4C565.1 127 565.6 129.6 566.2 132.2C566.8 134.8 567.4 137.4 567.9 140C568.4 142.5 568.2 145.8 569.2 147.7C570.2 149.6 572.4 151.5 573.9 151.5C575.3 151.5 577.3 149.6 578 147.7C578.6 145.8 577.8 142.5 577.8 140C577.8 137.4 577.6 134.8 577.8 132.2C578 129.6 578.6 127 579 124.4C579.4 121.9 579.9 119.3 579.9 116.7C579.9 114.1 579.7 111.5 579 108.9C578.4 106.3 577.3 103.8 576 101.2C574.7 98.6 573.5 94.7 571.5 93.4C569.5 92.1 565.6 92.1 564.2 93.4Z" fill="url(#folg)"/><ellipse cx="571.8" cy="130.6" rx="3.4" ry="11" fill="#1a4fc8" opacity="0.75"/><ellipse cx="573.9" cy="147.7" rx="4.2" ry="3.4" fill="#3a9af2" opacity="0.9"/>
<path d="M580 91.2C578.4 92.4 577.9 95.9 577.3 98.3C576.7 100.7 576.3 103 576.4 105.4C576.5 107.8 577.4 110.2 577.8 112.5C578.2 114.9 578.2 117.3 578.9 119.6C579.6 122 581.2 124.4 581.9 126.8C582.6 129.1 582.9 131.5 583.3 133.9C583.7 136.3 583.4 139.2 584.4 141C585.4 142.8 587.8 144.8 589.3 144.8C590.7 144.8 592.5 142.8 593.2 141C593.8 139.2 593.1 136.3 593.1 133.9C593.2 131.5 593 129.1 593.3 126.8C593.5 124.4 594.7 122 594.9 119.6C595.1 117.3 594.6 114.9 594.5 112.5C594.5 110.2 595.1 107.8 594.7 105.4C594.2 103 592.9 100.7 591.7 98.3C590.4 95.9 589.1 92.4 587.2 91.2C585.2 90 581.7 90 580 91.2Z" fill="url(#folg)"/><ellipse cx="587.4" cy="125.5" rx="3.4" ry="10.2" fill="#1a4fc8" opacity="0.75"/><ellipse cx="589.3" cy="141" rx="4.2" ry="3.4" fill="#3a9af2" opacity="0.9"/>
<path d="M404.8 156C403.3 157.4 403.6 161.6 402.8 164.4C402 167.2 400 170 399.8 172.8C399.6 175.6 401.1 178.4 401.6 181.2C402.1 184 402.1 186.8 402.9 189.6C403.7 192.4 405.8 195.2 406.6 198C407.5 200.8 407.5 203.6 408 206.4C408.5 209.2 408.4 212.7 409.4 214.7C410.5 216.8 412.8 218.5 414.3 218.5C415.8 218.5 417.6 216.8 418.3 214.7C418.9 212.7 418 209.2 418 206.4C417.9 203.6 417.7 200.8 417.9 198C418.1 195.2 418.8 192.4 419 189.6C419.2 186.8 419.3 184 419.2 181.2C419.1 178.4 419.1 175.6 418.4 172.8C417.7 170 416.3 167.2 415.1 164.4C414 161.6 413.2 157.4 411.5 156C409.8 154.6 406.2 154.6 404.8 156Z" fill="url(#folg)"/><ellipse cx="412.1" cy="196" rx="3.4" ry="11.9" fill="#1a4fc8" opacity="0.75"/><ellipse cx="414.3" cy="214.7" rx="4.2" ry="3.4" fill="#3a9af2" opacity="0.9"/>
<path d="M421.8 145.9C420.1 147.1 419.6 150.8 418.9 153.2C418.2 155.6 417.6 158.1 417.5 160.5C417.4 162.9 418 165.3 418.4 167.8C418.8 170.2 419.1 172.6 419.9 175C420.6 177.5 422.1 179.9 422.9 182.3C423.8 184.7 424.3 187.2 424.8 189.6C425.3 192 424.8 195 425.8 196.9C426.7 198.7 429.2 200.7 430.7 200.7C432.2 200.7 434.1 198.7 434.7 196.9C435.3 195 434.4 192 434.4 189.6C434.4 187.2 434.4 184.7 434.7 182.3C435.1 179.9 436.3 177.5 436.6 175C437 172.6 436.9 170.2 436.8 167.8C436.7 165.3 436.8 162.9 436.2 160.5C435.7 158.1 434.6 155.6 433.3 153.2C432.1 150.8 430.8 147.1 428.8 145.9C426.9 144.7 423.4 144.7 421.8 145.9Z" fill="url(#folg)"/><ellipse cx="428.8" cy="181" rx="3.4" ry="10.4" fill="#1a4fc8" opacity="0.75"/><ellipse cx="430.7" cy="196.9" rx="4.2" ry="3.4" fill="#3a9af2" opacity="0.9"/>
<path d="M474.2 142.6C472.5 143.8 472.6 147.3 471.7 149.7C470.9 152.1 469.1 154.4 468.9 156.8C468.7 159.2 470.1 161.6 470.7 163.9C471.4 166.3 472 168.7 472.8 171C473.6 173.4 475 175.8 475.7 178.2C476.4 180.5 476.7 182.9 477.2 185.3C477.6 187.7 477.5 190.6 478.5 192.4C479.5 194.2 481.7 196.2 483.1 196.2C484.6 196.2 486.5 194.2 487.1 192.4C487.7 190.6 486.9 187.7 486.8 185.3C486.8 182.9 486.6 180.5 487 178.2C487.3 175.8 488.5 173.4 489 171C489.5 168.7 490 166.3 489.8 163.9C489.6 161.6 488.7 159.2 487.9 156.8C487.1 154.4 486 152.1 484.9 149.7C483.8 147.3 483.1 143.8 481.3 142.6C479.5 141.4 475.8 141.4 474.2 142.6Z" fill="url(#folg)"/><ellipse cx="481.3" cy="176.9" rx="3.4" ry="10.2" fill="#1a4fc8" opacity="0.75"/><ellipse cx="483.1" cy="192.4" rx="4.2" ry="3.4" fill="#3a9af2" opacity="0.9"/>
<path d="M494.3 144.8C492.7 146.1 492.6 150.1 491.7 152.7C490.8 155.4 489.2 158 488.9 160.6C488.7 163.3 489.7 165.9 490.2 168.6C490.8 171.2 491.5 173.8 492.4 176.5C493.3 179.1 495 181.7 495.8 184.4C496.7 187 497 189.7 497.5 192.3C498 194.9 497.9 198.3 498.9 200.2C499.9 202.2 502.1 204 503.5 204C504.9 204 506.7 202.2 507.4 200.2C508 198.3 507.5 194.9 507.4 192.3C507.4 189.7 506.9 187 507.1 184.4C507.2 181.7 508 179.1 508.2 176.5C508.5 173.8 508.3 171.2 508.5 168.6C508.7 165.9 509.8 163.3 509.4 160.6C508.9 158 507.2 155.4 505.8 152.7C504.5 150.1 503.1 146.1 501.2 144.8C499.3 143.5 495.9 143.5 494.3 144.8Z" fill="url(#folg)"/><ellipse cx="501.4" cy="182.7" rx="3.4" ry="11.3" fill="#1a4fc8" opacity="0.75"/><ellipse cx="503.5" cy="200.2" rx="4.2" ry="3.4" fill="#3a9af2" opacity="0.9"/>
<path d="M514.1 128C512.6 129.4 513.1 133.3 512.5 136C512 138.6 511 141.2 510.9 143.9C510.7 146.5 511.2 149.2 511.5 151.8C511.8 154.4 511.9 157.1 512.7 159.7C513.4 162.4 515.3 165 516.1 167.6C516.9 170.3 516.9 172.9 517.4 175.5C517.8 178.2 517.8 181.5 518.8 183.5C519.9 185.4 522.1 187.3 523.6 187.3C525.1 187.3 527.1 185.4 527.8 183.5C528.4 181.5 527.5 178.2 527.4 175.5C527.3 172.9 527.2 170.3 527.3 167.6C527.3 165 527.4 162.4 527.6 159.7C527.9 157.1 528.7 154.4 528.9 151.8C529.2 149.2 529.8 146.5 529.1 143.9C528.5 141.2 526.2 138.6 524.9 136C523.7 133.3 523.4 129.4 521.6 128C519.8 126.7 515.6 126.7 514.1 128Z" fill="url(#folg)"/><ellipse cx="521.6" cy="165.9" rx="3.4" ry="11.3" fill="#1a4fc8" opacity="0.75"/><ellipse cx="523.6" cy="183.5" rx="4.2" ry="3.4" fill="#3a9af2" opacity="0.9"/>
<path d="M520.9 151.5C519.3 152.7 520.4 156.3 519.5 158.6C518.6 161 515.7 163.4 515.4 165.7C515.2 168.1 517.5 170.5 518.2 172.9C519 175.2 519.1 177.6 519.8 180C520.6 182.4 521.8 184.7 522.5 187.1C523.2 189.5 523.5 191.8 523.9 194.2C524.4 196.6 524.3 199.5 525.3 201.3C526.3 203.2 528.6 205.1 530.1 205.1C531.5 205.1 533.6 203.2 534.2 201.3C534.8 199.5 533.8 196.6 533.8 194.2C533.8 191.8 533.7 189.5 534 187.1C534.3 184.7 535.2 182.4 535.6 180C536 177.6 536.2 175.2 536.1 172.9C536.1 170.5 536 168.1 535.2 165.7C534.4 163.4 532.3 161 531.2 158.6C530.1 156.3 530.4 152.7 528.7 151.5C527 150.3 522.4 150.3 520.9 151.5Z" fill="url(#folg)"/><ellipse cx="528.2" cy="185.8" rx="3.4" ry="10.2" fill="#1a4fc8" opacity="0.75"/><ellipse cx="530.1" cy="201.3" rx="4.2" ry="3.4" fill="#3a9af2" opacity="0.9"/>
<path d="M540.6 149.3C539.1 150.4 539.3 153.6 538.6 155.8C537.9 157.9 536.9 160.1 536.4 162.2C536 164.4 535.5 166.6 535.9 168.7C536.3 170.9 537.8 173 538.7 175.2C539.7 177.4 540.7 179.5 541.4 181.7C542.1 183.8 542.5 186 543 188.2C543.4 190.3 543.1 192.9 544 194.6C545 196.3 547.4 198.4 548.8 198.4C550.3 198.4 552.1 196.3 552.8 194.6C553.5 192.9 552.8 190.3 552.8 188.2C552.8 186 552.7 183.8 553 181.7C553.3 179.5 553.9 177.4 554.4 175.2C555 173 556.1 170.9 556.1 168.7C556.1 166.6 555.3 164.4 554.6 162.2C553.9 160.1 553 157.9 551.9 155.8C550.7 153.6 549.5 150.4 547.6 149.3C545.7 148.2 542.1 148.2 540.6 149.3Z" fill="url(#folg)"/><ellipse cx="547.1" cy="180.7" rx="3.4" ry="9.3" fill="#1a4fc8" opacity="0.75"/><ellipse cx="548.8" cy="194.6" rx="4.2" ry="3.4" fill="#3a9af2" opacity="0.9"/>
<path d="M441.6 189.5C440 190.6 439.5 194 438.9 196.3C438.4 198.6 438.6 200.8 438.5 203.1C438.4 205.4 438 207.6 438.2 209.9C438.4 212.2 439.1 214.4 440 216.7C440.8 219 442.6 221.2 443.4 223.5C444.2 225.8 444.4 228 444.8 230.3C445.2 232.6 444.9 235.3 445.9 237.1C446.9 238.9 449.2 240.9 450.6 240.9C452.1 240.9 454 238.9 454.6 237.1C455.3 235.3 454.6 232.6 454.6 230.3C454.6 228 454.4 225.8 454.7 223.5C455 221.2 456 219 456.4 216.7C456.8 214.4 457.3 212.2 457.1 209.9C457 207.6 456.1 205.4 455.3 203.1C454.5 200.8 453.6 198.6 452.5 196.3C451.4 194 450.5 190.6 448.7 189.5C446.8 188.4 443.2 188.4 441.6 189.5Z" fill="url(#folg)"/><ellipse cx="448.8" cy="222.4" rx="3.4" ry="9.8" fill="#1a4fc8" opacity="0.75"/><ellipse cx="450.6" cy="237.1" rx="4.2" ry="3.4" fill="#3a9af2" opacity="0.9"/>
<path d="M457.8 196.2C456.1 197.4 455.3 200.8 454.5 203.2C453.8 205.5 453.6 207.8 453.5 210.1C453.3 212.4 453.3 214.8 453.7 217.1C454.1 219.4 455 221.7 455.8 224C456.7 226.4 458.2 228.7 458.9 231C459.6 233.3 459.8 235.6 460.2 238C460.6 240.3 460.5 243.1 461.6 244.9C462.6 246.7 464.8 248.7 466.3 248.7C467.8 248.7 469.8 246.7 470.4 244.9C471.1 243.1 470.4 240.3 470.3 238C470.3 235.6 470.1 233.3 470.1 231C470.2 228.7 470.4 226.4 470.7 224C471 221.7 471.9 219.4 472.1 217.1C472.2 214.8 472.2 212.4 471.6 210.1C471 207.8 469.7 205.5 468.5 203.2C467.3 200.8 466.2 197.4 464.4 196.2C462.6 195 459.4 195 457.8 196.2Z" fill="url(#folg)"/><ellipse cx="464.5" cy="229.8" rx="3.4" ry="10" fill="#1a4fc8" opacity="0.75"/><ellipse cx="466.3" cy="244.9" rx="4.2" ry="3.4" fill="#3a9af2" opacity="0.9"/>
<path d="M472.2 189.5C470.6 190.6 469.9 193.8 469.1 196C468.3 198.1 467.7 200.3 467.5 202.5C467.2 204.6 466.9 206.8 467.6 208.9C468.2 211.1 470.5 213.3 471.4 215.4C472.4 217.6 472.9 219.7 473.5 221.9C474 224.1 474.4 226.2 474.8 228.4C475.2 230.5 474.9 233.1 475.9 234.9C476.8 236.6 479.2 238.7 480.7 238.7C482.1 238.7 483.9 236.6 484.5 234.9C485.2 233.1 484.5 230.5 484.5 228.4C484.5 226.2 484.1 224.1 484.5 221.9C484.9 219.7 486.4 217.6 486.9 215.4C487.4 213.3 487.4 211.1 487.4 208.9C487.5 206.8 487.7 204.6 487 202.5C486.3 200.3 484.6 198.1 483.3 196C481.9 193.8 480.9 190.6 479.1 189.5C477.2 188.4 473.9 188.4 472.2 189.5Z" fill="url(#folg)"/><ellipse cx="478.9" cy="221" rx="3.4" ry="9.3" fill="#1a4fc8" opacity="0.75"/><ellipse cx="480.7" cy="234.9" rx="4.2" ry="3.4" fill="#3a9af2" opacity="0.9"/>
<path d="M553 181.7C551.3 182.7 550.4 185.9 549.4 188C548.4 190.1 547.2 192.2 547.2 194.3C547.1 196.4 548.3 198.5 549 200.6C549.8 202.7 550.8 204.9 551.6 207C552.4 209.1 553.3 211.2 553.9 213.3C554.5 215.4 554.7 217.5 555.1 219.6C555.5 221.7 555.4 224.2 556.4 225.9C557.4 227.6 559.6 229.7 561.1 229.7C562.5 229.7 564.4 227.6 565 225.9C565.7 224.2 564.8 221.7 564.8 219.6C564.8 217.5 565 215.4 565.3 213.3C565.6 211.2 566.2 209.1 566.7 207C567.2 204.9 568.5 202.7 568.4 200.6C568.3 198.5 567.1 196.4 566.2 194.3C565.3 192.2 564 190.1 562.9 188C561.9 185.9 561.6 182.7 560 181.7C558.3 180.6 554.8 180.6 553 181.7Z" fill="url(#folg)"/><ellipse cx="559.4" cy="212.4" rx="3.4" ry="9.1" fill="#1a4fc8" opacity="0.75"/><ellipse cx="561.1" cy="225.9" rx="4.2" ry="3.4" fill="#3a9af2" opacity="0.9"/>
<path d="M568.4 196.2C566.8 197.3 566.3 200.7 565.5 203C564.6 205.3 563.4 207.5 563.3 209.8C563.1 212.1 564.1 214.3 564.6 216.6C565.1 218.9 565.4 221.1 566.2 223.4C567.1 225.7 568.8 227.9 569.5 230.2C570.3 232.5 570.4 234.7 570.8 237C571.2 239.3 571 242 572.1 243.8C573.1 245.6 575.4 247.6 576.9 247.6C578.4 247.6 580.4 245.6 581 243.8C581.6 242 580.6 239.3 580.6 237C580.5 234.7 580.5 232.5 580.6 230.2C580.8 227.9 581 225.7 581.6 223.4C582.2 221.1 583.9 218.9 584 216.6C584.1 214.3 583 212.1 582.2 209.8C581.5 207.5 580.4 205.3 579.2 203C578 200.7 576.8 197.3 575 196.2C573.2 195.1 570 195.1 568.4 196.2Z" fill="url(#folg)"/><ellipse cx="575.1" cy="229.1" rx="3.4" ry="9.8" fill="#1a4fc8" opacity="0.75"/><ellipse cx="576.9" cy="243.8" rx="4.2" ry="3.4" fill="#3a9af2" opacity="0.9"/>
<path d="M584.7 196.2C583.1 197.1 582.5 199.7 581.5 201.4C580.4 203.1 578.7 204.9 578.4 206.6C578.1 208.3 579.1 210.1 579.6 211.8C580.2 213.5 580.9 215.3 581.8 217C582.7 218.7 584.1 220.5 584.8 222.2C585.5 224 585.7 225.7 586.1 227.4C586.5 229.2 586.3 231.1 587.3 232.6C588.3 234.1 590.5 236.4 592 236.4C593.4 236.4 595.3 234.1 596 232.6C596.7 231.1 596.2 229.2 596.2 227.4C596.2 225.7 596 224 596.2 222.2C596.3 220.5 596.7 218.7 597.1 217C597.6 215.3 598.4 213.5 598.7 211.8C599.1 210.1 600 208.3 599.3 206.6C598.6 204.9 595.9 203.1 594.5 201.4C593.2 199.7 592.9 197.1 591.2 196.2C589.6 195.3 586.3 195.3 584.7 196.2Z" fill="url(#folg)"/><ellipse cx="590.5" cy="221.9" rx="3.4" ry="7.6" fill="#1a4fc8" opacity="0.75"/><ellipse cx="592" cy="232.6" rx="4.2" ry="3.4" fill="#3a9af2" opacity="0.9"/>
<path d="M414.9 225.3C413.3 226.5 413.3 230.2 412.4 232.7C411.6 235.2 410 237.6 409.7 240.1C409.5 242.6 410.3 245.1 411 247.6C411.6 250 412.8 252.5 413.7 255C414.6 257.5 415.6 260 416.3 262.4C417 264.9 417.4 267.4 417.9 269.9C418.5 272.4 418.4 275.4 419.4 277.3C420.4 279.2 422.6 281.1 424 281.1C425.5 281.1 427.5 279.2 428.1 277.3C428.8 275.4 427.9 272.4 427.9 269.9C427.9 267.4 427.9 264.9 428.1 262.4C428.3 260 428.5 257.5 429 255C429.4 252.5 430.4 250 430.7 247.6C431 245.1 431.3 242.6 430.5 240.1C429.7 237.6 427.4 235.2 426 232.7C424.6 230.2 424 226.5 422.1 225.3C420.3 224 416.5 224 414.9 225.3Z" fill="url(#folg)"/><ellipse cx="422.1" cy="261" rx="3.4" ry="10.6" fill="#1a4fc8" opacity="0.75"/><ellipse cx="424" cy="277.3" rx="4.2" ry="3.4" fill="#3a9af2" opacity="0.9"/>
<path d="M430.3 254.3C428.7 255.4 428.8 258.8 428.2 261.1C427.7 263.4 427.2 265.6 427.1 267.9C427 270.2 427.3 272.4 427.8 274.7C428.3 277 429.4 279.2 430.1 281.5C430.8 283.8 431.4 286 432 288.3C432.5 290.6 433 292.8 433.4 295.1C433.8 297.4 433.5 300.1 434.5 301.9C435.6 303.7 438 305.7 439.4 305.7C440.9 305.7 442.8 303.7 443.5 301.9C444.1 300.1 443.3 297.4 443.3 295.1C443.2 292.8 443.2 290.6 443.2 288.3C443.3 286 443.5 283.8 443.7 281.5C444 279.2 444.6 277 444.8 274.7C445 272.4 445.4 270.2 444.8 267.9C444.3 265.6 442.5 263.4 441.4 261.1C440.2 258.8 439.8 255.4 437.9 254.3C436.1 253.2 431.9 253.2 430.3 254.3Z" fill="url(#folg)"/><ellipse cx="437.6" cy="287.2" rx="3.4" ry="9.8" fill="#1a4fc8" opacity="0.75"/><ellipse cx="439.4" cy="301.9" rx="4.2" ry="3.4" fill="#3a9af2" opacity="0.9"/>
<path d="M472.1 245.4C470.6 246.4 470.7 249.7 470.1 251.8C469.6 254 469.2 256.2 468.7 258.3C468.2 260.5 467.1 262.6 467.3 264.8C467.6 267 469.1 269.1 470.1 271.3C471.1 273.4 472.7 275.6 473.5 277.8C474.3 279.9 474.3 282.1 474.7 284.2C475.1 286.4 474.9 289 475.9 290.7C476.9 292.4 479.2 294.5 480.7 294.5C482.1 294.5 484.1 292.4 484.8 290.7C485.4 289 484.8 286.4 484.8 284.2C484.7 282.1 484.1 279.9 484.5 277.8C484.8 275.6 486.4 273.4 486.8 271.3C487.2 269.1 486.9 267 486.8 264.8C486.8 262.6 487.2 260.5 486.5 258.3C485.9 256.2 484.2 254 482.9 251.8C481.7 249.7 480.8 246.4 479 245.4C477.2 244.3 473.6 244.3 472.1 245.4Z" fill="url(#folg)"/><ellipse cx="478.9" cy="276.8" rx="3.4" ry="9.3" fill="#1a4fc8" opacity="0.75"/><ellipse cx="480.7" cy="290.7" rx="4.2" ry="3.4" fill="#3a9af2" opacity="0.9"/>
<path d="M502.9 226.4C501.2 227.6 500.9 231.2 500 233.6C499.1 236.1 497.7 238.5 497.7 240.9C497.6 243.4 498.8 245.8 499.6 248.2C500.5 250.6 502.1 253.1 503 255.5C503.9 257.9 504.3 260.3 504.8 262.8C505.3 265.2 505.7 267.6 506.2 270C506.6 272.5 506.6 275.5 507.6 277.3C508.6 279.2 510.8 281.1 512.2 281.1C513.7 281.1 515.6 279.2 516.3 277.3C516.9 275.5 516.1 272.5 516.1 270C516 267.6 515.9 265.2 516 262.8C516 260.3 516.2 257.9 516.5 255.5C516.7 253.1 517.4 250.6 517.4 248.2C517.5 245.8 517.4 243.4 516.8 240.9C516.3 238.5 515.3 236.1 514.2 233.6C513.1 231.2 512.3 227.6 510.4 226.4C508.5 225.2 504.6 225.2 502.9 226.4Z" fill="url(#folg)"/><ellipse cx="510.3" cy="261.4" rx="3.4" ry="10.4" fill="#1a4fc8" opacity="0.75"/><ellipse cx="512.2" cy="277.3" rx="4.2" ry="3.4" fill="#3a9af2" opacity="0.9"/>
<path d="M521.3 234.2C519.7 235.3 519.9 238.7 519 241C518.1 243.3 516.2 245.5 515.9 247.8C515.6 250.1 516.4 252.3 517.1 254.6C517.8 256.9 519.2 259.1 520.1 261.4C521 263.7 522 265.9 522.6 268.2C523.3 270.5 523.6 272.7 524 275C524.5 277.3 524.4 280 525.4 281.8C526.4 283.6 528.5 285.6 529.9 285.6C531.4 285.6 533.3 283.6 534 281.8C534.6 280 533.8 277.3 533.8 275C533.8 272.7 533.7 270.5 533.8 268.2C534 265.9 534.6 263.7 534.8 261.4C535 259.1 534.8 256.9 535 254.6C535.3 252.3 536.8 250.1 536.3 247.8C535.7 245.5 532.9 243.3 531.6 241C530.4 238.7 530.5 235.3 528.8 234.2C527.1 233.1 522.9 233.1 521.3 234.2Z" fill="url(#folg)"/><ellipse cx="528.1" cy="267.1" rx="3.4" ry="9.8" fill="#1a4fc8" opacity="0.75"/><ellipse cx="529.9" cy="281.8" rx="4.2" ry="3.4" fill="#3a9af2" opacity="0.9"/>
<path d="M490.2 254.3C488.6 255.4 488.7 258.8 487.8 261.1C486.8 263.4 485 265.6 484.7 267.9C484.4 270.2 485.6 272.4 486.1 274.7C486.7 277 487 279.2 487.9 281.5C488.8 283.8 490.5 286 491.3 288.3C492.1 290.6 492.3 292.8 492.7 295.1C493.1 297.4 492.8 300.1 493.8 301.9C494.8 303.7 497.2 305.7 498.7 305.7C500.1 305.7 501.9 303.7 502.6 301.9C503.2 300.1 502.6 297.4 502.6 295.1C502.6 292.8 502.1 290.6 502.4 288.3C502.7 286 504.2 283.8 504.4 281.5C504.7 279.2 503.8 277 503.8 274.7C503.8 272.4 505 270.2 504.6 267.9C504.2 265.6 502.6 263.4 501.4 261.1C500.2 258.8 499.3 255.4 497.4 254.3C495.5 253.2 491.8 253.2 490.2 254.3Z" fill="url(#folg)"/><ellipse cx="496.9" cy="287.2" rx="3.4" ry="9.8" fill="#1a4fc8" opacity="0.75"/><ellipse cx="498.7" cy="301.9" rx="4.2" ry="3.4" fill="#3a9af2" opacity="0.9"/>
</g>
<g filter="url(#rb)" fill="#ff2a6d">
<ellipse cx="426.8" cy="86.7" rx="1.25" ry="1.55" transform="rotate(30 426.8 86.7)"/>
<ellipse cx="432.4" cy="90.1" rx="1.25" ry="1.55" transform="rotate(70 432.4 90.1)"/>
<ellipse cx="448" cy="94.5" rx="1.25" ry="1.55" transform="rotate(80 448 94.5)"/>
<ellipse cx="474.9" cy="89.4" rx="1.25" ry="1.55" transform="rotate(131 474.9 89.4)"/>
<ellipse cx="496.1" cy="104.1" rx="1.25" ry="1.55" transform="rotate(94 496.1 104.1)"/>
<ellipse cx="422.3" cy="110.2" rx="1.25" ry="1.55" transform="rotate(25 422.3 110.2)"/>
<ellipse cx="473.7" cy="116.9" rx="1.25" ry="1.55" transform="rotate(105 473.7 116.9)"/>
<ellipse cx="467" cy="112.4" rx="1.25" ry="1.55" transform="rotate(15 467 112.4)"/>
<ellipse cx="443.6" cy="128.7" rx="1.25" ry="1.55" transform="rotate(39 443.6 128.7)"/>
<ellipse cx="553.1" cy="109.1" rx="1.25" ry="1.55" transform="rotate(145 553.1 109.1)"/>
<ellipse cx="574.3" cy="107.3" rx="1.25" ry="1.55" transform="rotate(66 574.3 107.3)"/>
<ellipse cx="570.9" cy="119.1" rx="1.25" ry="1.55" transform="rotate(120 570.9 119.1)"/>
<ellipse cx="554.2" cy="132.5" rx="1.25" ry="1.55" transform="rotate(135 554.2 132.5)"/>
<ellipse cx="453.6" cy="151.5" rx="1.25" ry="1.55" transform="rotate(120 453.6 151.5)"/>
<ellipse cx="471.5" cy="153.7" rx="1.25" ry="1.55" transform="rotate(170 471.5 153.7)"/>
<ellipse cx="478.2" cy="158.7" rx="1.25" ry="1.55" transform="rotate(86 478.2 158.7)"/>
<ellipse cx="474.9" cy="163.1" rx="1.25" ry="1.55" transform="rotate(41 474.9 163.1)"/>
<ellipse cx="479.3" cy="167.6" rx="1.25" ry="1.55" transform="rotate(61 479.3 167.6)"/>
<ellipse cx="484.9" cy="157.1" rx="1.25" ry="1.55" transform="rotate(95 484.9 157.1)"/>
<ellipse cx="486" cy="163.1" rx="1.25" ry="1.55" transform="rotate(31 486 163.1)"/>
<ellipse cx="505" cy="145.3" rx="1.25" ry="1.55" transform="rotate(26 505 145.3)"/>
<ellipse cx="525.1" cy="142.1" rx="1.25" ry="1.55" transform="rotate(74 525.1 142.1)"/>
<ellipse cx="529.6" cy="151.5" rx="1.25" ry="1.55" transform="rotate(160 529.6 151.5)"/>
<ellipse cx="527.4" cy="167.6" rx="1.25" ry="1.55" transform="rotate(126 527.4 167.6)"/>
<ellipse cx="497.2" cy="157.1" rx="1.25" ry="1.55" transform="rotate(120 497.2 157.1)"/>
<ellipse cx="421.2" cy="178.3" rx="1.25" ry="1.55" transform="rotate(5 421.2 178.3)"/>
<ellipse cx="461.5" cy="182.8" rx="1.25" ry="1.55" transform="rotate(65 461.5 182.8)"/>
<ellipse cx="412.3" cy="181.7" rx="1.25" ry="1.55" transform="rotate(130 412.3 181.7)"/>
<ellipse cx="473.7" cy="178.3" rx="1.25" ry="1.55" transform="rotate(30 473.7 178.3)"/>
<ellipse cx="500.6" cy="187.7" rx="1.25" ry="1.55" transform="rotate(96 500.6 187.7)"/>
<ellipse cx="464.8" cy="195.1" rx="1.25" ry="1.55" transform="rotate(155 464.8 195.1)"/>
<ellipse cx="455.9" cy="198.9" rx="1.25" ry="1.55" transform="rotate(106 455.9 198.9)"/>
<ellipse cx="472.6" cy="201.8" rx="1.25" ry="1.55" transform="rotate(130 472.6 201.8)"/>
<ellipse cx="483.8" cy="210.1" rx="1.25" ry="1.55" transform="rotate(51 483.8 210.1)"/>
<ellipse cx="448" cy="215.2" rx="1.25" ry="1.55" transform="rotate(80 448 215.2)"/>
<ellipse cx="472.6" cy="224.1" rx="1.25" ry="1.55" transform="rotate(70 472.6 224.1)"/>
<ellipse cx="477.1" cy="230.2" rx="1.25" ry="1.55" transform="rotate(111 477.1 230.2)"/>
<ellipse cx="519.6" cy="218.5" rx="1.25" ry="1.55" transform="rotate(25 519.6 218.5)"/>
<ellipse cx="527.8" cy="221.2" rx="1.25" ry="1.55" transform="rotate(140 527.8 221.2)"/>
<ellipse cx="562" cy="189.9" rx="1.25" ry="1.55" transform="rotate(71 562 189.9)"/>
<ellipse cx="526.3" cy="242.7" rx="1.25" ry="1.55" transform="rotate(19 526.3 242.7)"/>
<ellipse cx="473.3" cy="245.4" rx="1.25" ry="1.55" transform="rotate(16 473.3 245.4)"/>
<ellipse cx="463" cy="262.8" rx="1.25" ry="1.55" transform="rotate(108 463 262.8)"/>
<ellipse cx="434.6" cy="258.3" rx="1.25" ry="1.55" transform="rotate(59 434.6 258.3)"/>
<ellipse cx="436.9" cy="265.9" rx="1.25" ry="1.55" transform="rotate(51 436.9 265.9)"/>
<ellipse cx="570.9" cy="149.7" rx="1.25" ry="1.55" transform="rotate(171 570.9 149.7)"/>
<ellipse cx="536.3" cy="147" rx="1.25" ry="1.55" transform="rotate(130 536.3 147)"/>
<ellipse cx="545.3" cy="169.4" rx="1.25" ry="1.55" transform="rotate(170 545.3 169.4)"/>
</g></g>
<rect x="406.3" y="85" width="187" height="185.4" fill="none" stroke="#000" stroke-width="1.2"/>
<line x1="556" y1="263.2" x2="586.6" y2="263.2" stroke="#fff" stroke-width="2.4"/>
<text font-size="9.8" fill="#fff" text-anchor="middle" transform="translate(571 259) scale(1 1.08)">100 μm</text>
<clipPath id="cB3"><rect x="214.5" y="276.3" width="186.7" height="31.2"/></clipPath>
<g clip-path="url(#cB3)">
<rect x="214.5" y="276.3" width="186.7" height="31.2" fill="#000"/>
<g filter="url(#bl2)">
<polygon points="214.5,285.7 307.9,295 401.2,302.8 401.2,316.9 214.5,316.9" fill="#153fa8"/>
<polygon points="214.5,288.8 270.5,293.5 345.2,307.5 270.5,313.7 214.5,304.4" fill="#2460d0"/>
<polygon points="326.5,302.8 401.2,305.9 401.2,313.7 326.5,313.7" fill="#2460d0"/>
</g>
<g filter="url(#rb2)" fill="#ff1f5a" opacity="0.92">
<ellipse cx="252.8" cy="294.4" rx="1.2" ry="2.8"/>
<ellipse cx="322.8" cy="284.7" rx="1.4" ry="3.2"/>
<ellipse cx="330.3" cy="295" rx="1.2" ry="2.8"/>
<ellipse cx="320" cy="301.3" rx="1.3" ry="3"/>
<ellipse cx="328.4" cy="299.7" rx="1.2" ry="2.8"/>
<ellipse cx="289.2" cy="293.5" rx="0.7" ry="1.6"/>
<ellipse cx="255.6" cy="282.5" rx="0.7" ry="1.6"/>
<ellipse cx="336.8" cy="296.6" rx="0.8" ry="1.8"/>
</g></g>
<rect x="214.5" y="276.3" width="186.7" height="31.2" fill="none" stroke="#000" stroke-width="1.2"/>
<clipPath id="cB4"><rect x="406.3" y="276.3" width="187" height="31.2"/></clipPath>
<g clip-path="url(#cB4)">
<rect x="406.3" y="276.3" width="187" height="31.2" fill="#000"/>
<g filter="url(#bl2)">
<polygon points="406.3,290.3 593.3,291.9 593.3,316.9 406.3,316.9" fill="#143ca4"/>
<polygon points="406.3,298.1 499.8,295 593.3,301.3 593.3,316.9 406.3,316.9" fill="#1f58c8"/>
</g>
<g filter="url(#rb2)" fill="#ff1f5a" opacity="0.92">
<ellipse cx="490.9" cy="294" rx="1.3" ry="2.9"/>
<ellipse cx="493.4" cy="293" rx="1.1" ry="2.4"/>
<ellipse cx="440.8" cy="293.1" rx="1.1" ry="2.5"/>
<ellipse cx="554.6" cy="285" rx="0.9" ry="2"/>
<ellipse cx="423.3" cy="298.8" rx="1.1" ry="2.6"/>
<ellipse cx="414.1" cy="302.2" rx="1.3" ry="2.9"/>
<ellipse cx="528.6" cy="295.1" rx="0.8" ry="1.8"/>
<ellipse cx="409.1" cy="293.4" rx="0.7" ry="1.7"/>
<ellipse cx="441.9" cy="287.8" rx="0.7" ry="1.7"/>
<ellipse cx="493.1" cy="291.7" rx="1.2" ry="2.8"/>
<ellipse cx="503.4" cy="295.5" rx="1" ry="2.3"/>
<ellipse cx="530.2" cy="292" rx="0.9" ry="2"/>
<ellipse cx="592.9" cy="302.4" rx="1.2" ry="2.8"/>
<ellipse cx="538.7" cy="289.3" rx="0.8" ry="1.9"/>
<ellipse cx="460.4" cy="284.5" rx="1.2" ry="2.7"/>
<ellipse cx="481.2" cy="299.5" rx="0.9" ry="2.1"/>
<ellipse cx="585.5" cy="299.6" rx="0.7" ry="1.6"/>
<ellipse cx="445.5" cy="300.8" rx="1" ry="2.3"/>
<ellipse cx="589.6" cy="290.9" rx="0.7" ry="1.7"/>
<ellipse cx="524" cy="298.2" rx="0.9" ry="2"/>
<ellipse cx="422.6" cy="289.6" rx="1.3" ry="2.9"/>
<ellipse cx="548.1" cy="285.4" rx="0.8" ry="2"/>
<ellipse cx="425.2" cy="284.3" rx="1.2" ry="2.7"/>
<ellipse cx="439.5" cy="294" rx="1" ry="2.2"/>
<ellipse cx="442" cy="297.3" rx="0.8" ry="1.8"/>
<ellipse cx="526.7" cy="285.4" rx="1" ry="2.2"/>
<ellipse cx="446.1" cy="288.4" rx="1.3" ry="2.9"/>
<ellipse cx="556.5" cy="289" rx="1.2" ry="2.8"/>
<ellipse cx="445.7" cy="290.8" rx="1.2" ry="2.8"/>
<ellipse cx="526.3" cy="285.1" rx="1.3" ry="3"/>
<ellipse cx="446.2" cy="288.2" rx="1.2" ry="2.7"/>
<ellipse cx="467.8" cy="288.9" rx="0.7" ry="1.7"/>
<ellipse cx="423.2" cy="294.4" rx="0.8" ry="1.9"/>
<ellipse cx="518.7" cy="290.4" rx="1" ry="2.2"/>
<ellipse cx="585.7" cy="292.5" rx="1" ry="2.4"/>
<ellipse cx="568.3" cy="286.7" rx="0.8" ry="1.8"/>
<ellipse cx="576.2" cy="299" rx="0.8" ry="2"/>
<ellipse cx="441.8" cy="297.5" rx="1.3" ry="2.9"/>
<ellipse cx="443.1" cy="301.5" rx="1.2" ry="2.8"/>
<ellipse cx="519.2" cy="291.3" rx="0.8" ry="1.8"/>
<ellipse cx="413.5" cy="301.8" rx="0.8" ry="1.9"/>
<ellipse cx="538.1" cy="288.1" rx="1.2" ry="2.7"/>
<ellipse cx="517.8" cy="288.8" rx="0.8" ry="1.9"/>
<ellipse cx="541" cy="284.5" rx="0.8" ry="1.9"/>
<ellipse cx="510.9" cy="299.7" rx="1.1" ry="2.5"/>
<ellipse cx="458.7" cy="300.9" rx="0.8" ry="1.9"/>
<ellipse cx="409.4" cy="288.4" rx="1" ry="2.2"/>
<ellipse cx="417.6" cy="286.6" rx="0.9" ry="2.1"/>
<ellipse cx="513.3" cy="285.7" rx="0.9" ry="2.1"/>
<ellipse cx="572.9" cy="302.1" rx="1.1" ry="2.5"/>
<ellipse cx="535.6" cy="294.5" rx="0.8" ry="1.8"/>
<ellipse cx="412.9" cy="283.5" rx="1.2" ry="2.9"/>
<ellipse cx="537.4" cy="301.8" rx="0.7" ry="1.6"/>
<ellipse cx="525.3" cy="292.5" rx="1.1" ry="2.6"/>
<ellipse cx="465.9" cy="302.5" rx="0.7" ry="1.7"/>
<ellipse cx="508.4" cy="297.4" rx="1.2" ry="2.9"/>
<ellipse cx="544.1" cy="296.8" rx="1.2" ry="2.7"/>
<ellipse cx="577.4" cy="290" rx="1.1" ry="2.6"/>
<ellipse cx="574.8" cy="300" rx="1" ry="2.2"/>
<ellipse cx="554.1" cy="299.9" rx="1" ry="2.4"/>
<ellipse cx="523.2" cy="290.6" rx="1" ry="2.4"/>
<ellipse cx="520.2" cy="284.7" rx="1.1" ry="2.5"/>
<ellipse cx="592.1" cy="300.2" rx="1.1" ry="2.6"/>
<ellipse cx="478.9" cy="297.4" rx="1" ry="2.4"/>
<ellipse cx="488.7" cy="299.4" rx="0.8" ry="1.7"/>
<ellipse cx="546.6" cy="283.7" rx="1.1" ry="2.4"/>
<ellipse cx="496.2" cy="287.6" rx="1.1" ry="2.6"/>
<ellipse cx="499.3" cy="295.1" rx="1.3" ry="2.9"/>
<ellipse cx="454.1" cy="283.4" rx="0.9" ry="2"/>
<ellipse cx="533.1" cy="287.1" rx="0.8" ry="1.8"/>
<ellipse cx="575.7" cy="295.9" rx="1" ry="2.2"/>
<ellipse cx="573.1" cy="289.5" rx="1.1" ry="2.5"/>
<ellipse cx="443.4" cy="291.5" rx="1.2" ry="2.7"/>
<ellipse cx="577.3" cy="300.2" rx="0.9" ry="2.1"/>
<ellipse cx="515.3" cy="289.3" rx="0.8" ry="1.8"/>
</g></g>
<rect x="406.3" y="276.3" width="187" height="31.2" fill="none" stroke="#000" stroke-width="1.2"/>
<text font-size="11.5" fill="#111" text-anchor="middle" transform="translate(208.5 180) rotate(-90) scale(1 1.08)">X-Y</text>
<text font-size="11.5" fill="#111" text-anchor="middle" transform="translate(208.5 292) rotate(-90) scale(1 1.08)">Y-Z</text>
<text font-size="12.6" textLength="85" lengthAdjust="spacing" transform="translate(214.5 320.5) scale(1 1.08)"><tspan fill="#e8212b">CD8</tspan> <tspan fill="#3fa0e0">K14</tspan> <tspan fill="#2a2ad8">DAPI</tspan></text>
<path d="M685.3 181.9C684.9 183.5 684.7 187.7 684.5 191.6C684.3 195.5 684.4 200.8 684.3 205.5C684.2 210.1 684.4 215.6 683.9 219.3C683.4 223 682.6 224.9 681.6 227.6C680.6 230.4 678.4 233.6 677.6 236C676.8 238.3 676.3 239.6 676.6 241.5C676.9 243.3 678.4 245.2 679.6 247C680.8 248.9 682.6 251.2 683.6 252.6C684.6 254 685 254.9 685.5 255.4C686 255.8 686.2 255.8 686.7 255.4C687.2 254.9 687.6 254 688.6 252.6C689.6 251.2 691.4 248.9 692.6 247C693.8 245.2 695.3 243.3 695.6 241.5C695.9 239.6 695.4 238.3 694.6 236C693.8 233.6 691.6 230.4 690.6 227.6C689.6 224.9 688.8 223 688.3 219.3C687.9 215.6 688 210.1 687.9 205.5C687.8 200.8 687.9 195.5 687.7 191.6C687.5 187.7 687.3 183.5 686.9 181.9C686.5 180.3 685.7 180.3 685.3 181.9Z" fill="#fff" stroke="#000" stroke-width="1"/>
<path d="M723.4 151.4C722.2 152.3 721.2 154.4 720.4 156.9C719.6 159.5 719.4 163.4 718.4 166.7C717.4 169.9 715.4 173.6 714.4 176.4C713.4 179.1 712.1 180.7 712.4 183.3C712.6 185.8 714.8 188.8 715.9 191.6C717 194.4 718.9 197.1 718.9 199.9C718.9 202.7 716.7 205.7 715.9 208.2C715.1 210.8 713.6 212.9 713.9 215.2C714.1 217.5 715.9 220.1 717.4 222.1C718.9 224.1 721.1 226.1 722.9 226.9C724.6 227.8 726.1 227.8 727.9 226.9C729.6 226.1 731.9 224.1 733.4 222.1C734.9 220.1 736.6 217.5 736.9 215.2C737.1 212.9 735.7 210.8 734.9 208.2C734.1 205.7 731.9 202.7 731.9 199.9C731.9 197.1 733.8 194.4 734.9 191.6C736 188.8 738.1 185.8 738.4 183.3C738.6 180.7 737.4 179.1 736.4 176.4C735.4 173.6 733.4 169.9 732.4 166.7C731.4 163.4 731.2 159.5 730.4 156.9C729.6 154.4 728.6 152.3 727.4 151.4C726.2 150.5 724.6 150.5 723.4 151.4Z" fill="#7ba7d7" stroke="#4a86c5" stroke-width="1"/>
<circle cx="681.5" cy="186.1" r="3.3" fill="#fff" stroke="#000" stroke-width="1.2"/>
<circle cx="686.1" cy="190.2" r="3.3" fill="#fff" stroke="#000" stroke-width="1.2"/>
<circle cx="686.1" cy="195.8" r="3.3" fill="#fff" stroke="#000" stroke-width="1.2"/>
<circle cx="690.7" cy="199.9" r="3.3" fill="#fff" stroke="#000" stroke-width="1.2"/>
<circle cx="686.1" cy="204.1" r="3.3" fill="#fff" stroke="#000" stroke-width="1.2"/>
<circle cx="686.1" cy="215.2" r="3.3" fill="#fff" stroke="#000" stroke-width="1.2"/>
<circle cx="681.5" cy="219.3" r="3.3" fill="#fff" stroke="#000" stroke-width="1.2"/>
<circle cx="686.1" cy="222.1" r="3.3" fill="#fff" stroke="#000" stroke-width="1.2"/>
<circle cx="683.8" cy="229" r="3.3" fill="#fff" stroke="#000" stroke-width="1.2"/>
<circle cx="690.7" cy="230.4" r="3.3" fill="#fff" stroke="#000" stroke-width="1.2"/>
<circle cx="686.1" cy="234.6" r="3.3" fill="#fff" stroke="#000" stroke-width="1.2"/>
<circle cx="693" cy="236" r="3.3" fill="#fff" stroke="#000" stroke-width="1.2"/>
<circle cx="681.5" cy="237.3" r="3.3" fill="#fff" stroke="#000" stroke-width="1.2"/>
<circle cx="688.4" cy="238.7" r="3.3" fill="#fff" stroke="#000" stroke-width="1.2"/>
<circle cx="693" cy="240.1" r="3.3" fill="#fff" stroke="#000" stroke-width="1.2"/>
<circle cx="683.8" cy="241.5" r="3.3" fill="#fff" stroke="#000" stroke-width="1.2"/>
<circle cx="679.2" cy="241.5" r="3.3" fill="#fff" stroke="#000" stroke-width="1.2"/>
<circle cx="688.4" cy="242.9" r="3.3" fill="#fff" stroke="#000" stroke-width="1.2"/>
<circle cx="693" cy="242.9" r="3.3" fill="#fff" stroke="#000" stroke-width="1.2"/>
<circle cx="679.2" cy="244.3" r="3.3" fill="#fff" stroke="#000" stroke-width="1.2"/>
<circle cx="683.8" cy="245.7" r="3.3" fill="#fff" stroke="#000" stroke-width="1.2"/>
<circle cx="690.7" cy="247" r="3.3" fill="#fff" stroke="#000" stroke-width="1.2"/>
<circle cx="679.2" cy="249.8" r="3.3" fill="#fff" stroke="#000" stroke-width="1.2"/>
<circle cx="686.1" cy="251.2" r="3.3" fill="#fff" stroke="#000" stroke-width="1.2"/>
<circle cx="679.2" cy="233.2" r="3.3" fill="#fff" stroke="#000" stroke-width="1.2"/>
<circle cx="679.2" cy="226.2" r="3.3" fill="#fff" stroke="#000" stroke-width="1.2"/>
<circle cx="730" cy="154.2" r="3.3" fill="#fff" stroke="#4a86c5" stroke-width="1.2"/>
<circle cx="718.5" cy="156.9" r="3.3" fill="#fff" stroke="#4a86c5" stroke-width="1.2"/>
<circle cx="725.4" cy="158.3" r="3.3" fill="#fff" stroke="#4a86c5" stroke-width="1.2"/>
<circle cx="732.3" cy="162.5" r="3.3" fill="#fff" stroke="#4a86c5" stroke-width="1.2"/>
<circle cx="725.4" cy="165.3" r="3.3" fill="#fff" stroke="#4a86c5" stroke-width="1.2"/>
<circle cx="732.3" cy="169.4" r="3.3" fill="#fff" stroke="#4a86c5" stroke-width="1.2"/>
<circle cx="725.4" cy="172.2" r="3.3" fill="#fff" stroke="#4a86c5" stroke-width="1.2"/>
<circle cx="716.2" cy="176.4" r="3.3" fill="#fff" stroke="#4a86c5" stroke-width="1.2"/>
<circle cx="730" cy="177.7" r="3.3" fill="#fff" stroke="#4a86c5" stroke-width="1.2"/>
<circle cx="720.8" cy="180.5" r="3.3" fill="#fff" stroke="#4a86c5" stroke-width="1.2"/>
<circle cx="727.7" cy="183.3" r="3.3" fill="#fff" stroke="#4a86c5" stroke-width="1.2"/>
<circle cx="734.6" cy="186.1" r="3.3" fill="#fff" stroke="#4a86c5" stroke-width="1.2"/>
<circle cx="723.1" cy="187.4" r="3.3" fill="#fff" stroke="#4a86c5" stroke-width="1.2"/>
<circle cx="730" cy="190.2" r="3.3" fill="#fff" stroke="#4a86c5" stroke-width="1.2"/>
<circle cx="725.4" cy="194.4" r="3.3" fill="#fff" stroke="#4a86c5" stroke-width="1.2"/>
<circle cx="734.6" cy="197.1" r="3.3" fill="#fff" stroke="#4a86c5" stroke-width="1.2"/>
<circle cx="716.2" cy="198.5" r="3.3" fill="#fff" stroke="#4a86c5" stroke-width="1.2"/>
<circle cx="727.7" cy="199.9" r="3.3" fill="#fff" stroke="#4a86c5" stroke-width="1.2"/>
<circle cx="720.8" cy="202.7" r="3.3" fill="#fff" stroke="#4a86c5" stroke-width="1.2"/>
<circle cx="732.3" cy="205.5" r="3.3" fill="#fff" stroke="#4a86c5" stroke-width="1.2"/>
<circle cx="725.4" cy="206.8" r="3.3" fill="#fff" stroke="#4a86c5" stroke-width="1.2"/>
<circle cx="716.2" cy="209.6" r="3.3" fill="#fff" stroke="#4a86c5" stroke-width="1.2"/>
<circle cx="734.6" cy="211" r="3.3" fill="#fff" stroke="#4a86c5" stroke-width="1.2"/>
<circle cx="720.8" cy="212.4" r="3.3" fill="#fff" stroke="#4a86c5" stroke-width="1.2"/>
<circle cx="727.7" cy="213.8" r="3.3" fill="#fff" stroke="#4a86c5" stroke-width="1.2"/>
<circle cx="734.6" cy="216.5" r="3.3" fill="#fff" stroke="#4a86c5" stroke-width="1.2"/>
<circle cx="723.1" cy="217.9" r="3.3" fill="#fff" stroke="#4a86c5" stroke-width="1.2"/>
<circle cx="730" cy="220.7" r="3.3" fill="#fff" stroke="#4a86c5" stroke-width="1.2"/>
<circle cx="718.5" cy="223.5" r="3.3" fill="#fff" stroke="#4a86c5" stroke-width="1.2"/>
<circle cx="725.4" cy="224.9" r="3.3" fill="#fff" stroke="#4a86c5" stroke-width="1.2"/>
<line x1="659.9" y1="121.8" x2="659.9" y2="260.9" stroke="#000" stroke-width="1.3"/>
<line x1="654.2" y1="260.9" x2="752.5" y2="260.9" stroke="#000" stroke-width="1.3"/>
<line x1="654.2" y1="260.9" x2="659.9" y2="260.9" stroke="#000" stroke-width="1.3"/>
<text font-size="13" fill="#111" text-anchor="end" transform="translate(650.3 265.6) scale(1 1.08)">0</text>
<line x1="654.2" y1="233.2" x2="659.9" y2="233.2" stroke="#000" stroke-width="1.3"/>
<text font-size="13" fill="#111" text-anchor="end" transform="translate(650.3 237.9) scale(1 1.08)">20</text>
<line x1="654.2" y1="205.5" x2="659.9" y2="205.5" stroke="#000" stroke-width="1.3"/>
<text font-size="13" fill="#111" text-anchor="end" transform="translate(650.3 210.2) scale(1 1.08)">40</text>
<line x1="654.2" y1="177.7" x2="659.9" y2="177.7" stroke="#000" stroke-width="1.3"/>
<text font-size="13" fill="#111" text-anchor="end" transform="translate(650.3 182.4) scale(1 1.08)">60</text>
<line x1="654.2" y1="150" x2="659.9" y2="150" stroke="#000" stroke-width="1.3"/>
<text font-size="13" fill="#111" text-anchor="end" transform="translate(650.3 154.7) scale(1 1.08)">80</text>
<line x1="654.2" y1="122.3" x2="659.9" y2="122.3" stroke="#000" stroke-width="1.3"/>
<text font-size="13" fill="#111" text-anchor="end" transform="translate(650.3 127) scale(1 1.08)">100</text>
<line x1="686.1" y1="260.9" x2="686.1" y2="266.9" stroke="#000" stroke-width="1.3"/>
<line x1="725.4" y1="260.9" x2="725.4" y2="266.9" stroke="#000" stroke-width="1.3"/>
<text font-size="12.8" fill="#111" textLength="33.4" lengthAdjust="spacing" transform="translate(654.6 282.5) scale(1 1.08)">CTRL</text>
<text font-size="12.8" fill="#111" textLength="71.6" lengthAdjust="spacing" transform="translate(698.1 282.5) scale(1 1.08)">Gi-DREADD</text>
<line x1="679.6" y1="121.2" x2="719.5" y2="121.2" stroke="#000" stroke-width="1.2"/>
<text font-size="15" text-anchor="middle" letter-spacing="0.6" transform="translate(699 121.5) scale(1 1.08)">***</text>
<text font-size="12.8" fill="#111" text-anchor="middle" textLength="108.5" lengthAdjust="spacing" transform="translate(612.2 193.5) rotate(-90) scale(1 1.08)">No. of CD8<tspan font-size="7.5" dy="-4.5">+</tspan><tspan dy="4.5"> T cells</tspan></text>
<text font-size="12.8" fill="#111" text-anchor="middle" textLength="75" lengthAdjust="spacing" transform="translate(628.4 193.5) rotate(-90) scale(1 1.08)">per mm² skin</text>
<text font-size="23" font-weight="bold" transform="translate(769.3 36.7) scale(1 1.08)">C</text>
<text font-size="12.8" fill="#2b7bba" font-weight="bold" textLength="50.5" lengthAdjust="spacing" transform="translate(810.7 30.5) scale(1 1.08)">CNO i.p.</text>
<linearGradient id="gc" x1="0" x2="1" y1="0" y2="0"><stop offset="0" stop-color="#cfe4f5"/><stop offset="1" stop-color="#6c9fcf"/></linearGradient>
<rect x="815.5" y="36.2" width="42" height="8.8" fill="url(#gc)" stroke="#1a1a1a" stroke-width="1"/>
<text font-size="12.8" textLength="127.7" lengthAdjust="spacing" transform="translate(926 33) scale(1 1.08)">Whole mount analysis</text>
<line x1="812.5" y1="50.8" x2="902" y2="50.8" stroke="#000" stroke-width="1"/>
<line x1="910" y1="50.8" x2="958.5" y2="50.8" stroke="#000" stroke-width="1"/>
<line x1="966.5" y1="50.8" x2="1014.7" y2="50.8" stroke="#000" stroke-width="1"/>
<line x1="1022.7" y1="50.8" x2="1047.5" y2="50.8" stroke="#000" stroke-width="1"/>
<line x1="901" y1="54.8" x2="905" y2="46.8" stroke="#000" stroke-width="1"/>
<line x1="907" y1="54.8" x2="911" y2="46.8" stroke="#000" stroke-width="1"/>
<line x1="957.5" y1="54.8" x2="961.5" y2="46.8" stroke="#000" stroke-width="1"/>
<line x1="963.5" y1="54.8" x2="967.5" y2="46.8" stroke="#000" stroke-width="1"/>
<line x1="1013.7" y1="54.8" x2="1017.7" y2="46.8" stroke="#000" stroke-width="1"/>
<line x1="1019.7" y1="54.8" x2="1023.7" y2="46.8" stroke="#000" stroke-width="1"/>
<line x1="815.5" y1="50.8" x2="815.5" y2="47.3" stroke="#000" stroke-width="1"/>
<line x1="836.2" y1="51.3" x2="836.2" y2="36.5" stroke="#000" stroke-width="1"/>
<path d="M836.2 33.5L833.6 38.5L836.2 37L838.8 38.5Z" fill="#000"/>
<line x1="857" y1="51.3" x2="857" y2="36.5" stroke="#000" stroke-width="1"/>
<path d="M857 33.5L854.4 38.5L857 37L859.6 38.5Z" fill="#000"/>
<line x1="877.5" y1="51.3" x2="877.5" y2="36.5" stroke="#000" stroke-width="1"/>
<path d="M877.5 33.5L874.9 38.5L877.5 37L880.1 38.5Z" fill="#000"/>
<line x1="934.2" y1="51.3" x2="934.2" y2="36.5" stroke="#000" stroke-width="1"/>
<path d="M934.2 33.5L931.6 38.5L934.2 37L936.8 38.5Z" fill="#000"/>
<line x1="990.7" y1="51.3" x2="990.7" y2="36.5" stroke="#000" stroke-width="1"/>
<path d="M990.7 33.5L988.1 38.5L990.7 37L993.3 38.5Z" fill="#000"/>
<line x1="1047.5" y1="51.3" x2="1047.5" y2="36.5" stroke="#000" stroke-width="1"/>
<path d="M1047.5 33.5L1044.9 38.5L1047.5 37L1050.1 38.5Z" fill="#000"/>
<text font-size="12.6" fill="#111" text-anchor="middle" transform="translate(814.5 63) scale(1 1.08)">0</text>
<text font-size="12.6" fill="#111" text-anchor="middle" transform="translate(835.5 63) scale(1 1.08)">1</text>
<text font-size="12.6" fill="#111" text-anchor="middle" transform="translate(856 63) scale(1 1.08)">2</text>
<text font-size="12.6" fill="#111" text-anchor="middle" transform="translate(877.5 63) scale(1 1.08)">3</text>
<text font-size="12.6" fill="#111" text-anchor="middle" transform="translate(933 63) scale(1 1.08)">7</text>
<text font-size="12.6" fill="#111" text-anchor="middle" transform="translate(991 63) scale(1 1.08)">14</text>
<text font-size="12.6" fill="#111" text-anchor="middle" transform="translate(1046.7 63) scale(1 1.08)">30</text>
<text font-size="12.6" fill="#111" textLength="22" lengthAdjust="spacing" transform="translate(1059 63) scale(1 1.08)">Day</text>
<text font-size="13" text-anchor="middle" font-weight="bold" transform="translate(943.8 93.6) scale(1 1.08)">Epidermal</text>
<path d="M849.8 208.7L849.7 209.8L849.5 211L849.4 212.2L849.3 213.3L849.2 214.5L849.1 215.7L849.1 216.9L849 218L849 219.2L848.9 220.4L848.8 221.6L848.8 222.7L848.7 223.9L848.7 225.1L848.6 226.2L848.5 227.4L848.4 228.6L848.3 229.8L848.1 230.9L848 232.1L847.8 233.3L847.7 234.5L847.5 235.6L847.3 236.8L847.2 238L847 239.1L847 240.3L846.9 241.5L846.9 242.7L846.9 243.8L847 245L847.1 246.2L847.3 247.4L847.5 248.5L847.7 249.7L848 250.9L848.2 252L848.5 253.2L848.8 254.4L853.4 254.4L853.7 253.2L854 252L854.2 250.9L854.5 249.7L854.7 248.5L854.9 247.4L855.1 246.2L855.2 245L855.3 243.8L855.3 242.7L855.3 241.5L855.2 240.3L855.2 239.1L855 238L854.9 236.8L854.7 235.6L854.5 234.5L854.4 233.3L854.2 232.1L854.1 230.9L853.9 229.8L853.8 228.6L853.7 227.4L853.6 226.2L853.5 225.1L853.5 223.9L853.4 222.7L853.4 221.6L853.3 220.4L853.2 219.2L853.2 218L853.1 216.9L853.1 215.7L853 214.5L852.9 213.3L852.8 212.2L852.7 211L852.5 209.8L852.4 208.7Z" fill="#fff" stroke="#000" stroke-width="1"/>
<circle cx="856.5" cy="208.7" r="3.3" fill="#fff" stroke="#000" stroke-width="1.2"/>
<circle cx="851.1" cy="211.1" r="3.3" fill="#fff" stroke="#000" stroke-width="1.2"/>
<circle cx="854.7" cy="214.8" r="3.3" fill="#fff" stroke="#000" stroke-width="1.2"/>
<circle cx="851.1" cy="218.5" r="3.3" fill="#fff" stroke="#000" stroke-width="1.2"/>
<circle cx="856.5" cy="221" r="3.3" fill="#fff" stroke="#000" stroke-width="1.2"/>
<circle cx="851.1" cy="223.5" r="3.3" fill="#fff" stroke="#000" stroke-width="1.2"/>
<circle cx="856.5" cy="227.2" r="3.3" fill="#fff" stroke="#000" stroke-width="1.2"/>
<circle cx="851.1" cy="229.7" r="3.3" fill="#fff" stroke="#000" stroke-width="1.2"/>
<circle cx="856.5" cy="232.1" r="3.3" fill="#fff" stroke="#000" stroke-width="1.2"/>
<circle cx="851.1" cy="234.6" r="3.3" fill="#fff" stroke="#000" stroke-width="1.2"/>
<circle cx="856.5" cy="237.1" r="3.3" fill="#fff" stroke="#000" stroke-width="1.2"/>
<circle cx="852.9" cy="239.6" r="3.3" fill="#fff" stroke="#000" stroke-width="1.2"/>
<circle cx="849.3" cy="240.8" r="3.3" fill="#fff" stroke="#000" stroke-width="1.2"/>
<circle cx="856.5" cy="242" r="3.3" fill="#fff" stroke="#000" stroke-width="1.2"/>
<circle cx="845.7" cy="243.3" r="3.3" fill="#fff" stroke="#000" stroke-width="1.2"/>
<circle cx="852.9" cy="244.5" r="3.3" fill="#fff" stroke="#000" stroke-width="1.2"/>
<circle cx="856.5" cy="247" r="3.3" fill="#fff" stroke="#000" stroke-width="1.2"/>
<circle cx="851.1" cy="249.4" r="3.3" fill="#fff" stroke="#000" stroke-width="1.2"/>
<circle cx="856.5" cy="251.9" r="3.3" fill="#fff" stroke="#000" stroke-width="1.2"/>
<circle cx="845.7" cy="253.1" r="3.3" fill="#fff" stroke="#000" stroke-width="1.2"/>
<circle cx="851.1" cy="254.4" r="3.3" fill="#fff" stroke="#000" stroke-width="1.2"/>
<circle cx="847.5" cy="245.7" r="3.3" fill="#fff" stroke="#000" stroke-width="1.2"/>
<circle cx="845.7" cy="238.3" r="3.3" fill="#fff" stroke="#000" stroke-width="1.2"/>
<path d="M877.1 200L877 201.4L876.9 202.8L876.9 204.2L876.8 205.6L876.6 207L876.5 208.4L876.3 209.8L876.1 211.2L875.8 212.6L875.5 214L875.2 215.3L874.8 216.7L874.5 218.1L874.2 219.5L874 220.9L873.8 222.3L873.7 223.7L873.6 225.1L873.6 226.5L873.6 227.9L873.7 229.3L873.8 230.7L873.9 232.1L874.1 233.5L874.2 234.9L874.3 236.3L874.4 237.7L874.4 239L874.4 240.4L874.4 241.8L874.3 243.2L874.3 244.6L874.2 246L874.1 247.4L874.1 248.8L874.1 250.2L874.2 251.6L874.4 253L874.6 254.4L880.9 254.4L881.1 253L881.3 251.6L881.4 250.2L881.4 248.8L881.4 247.4L881.3 246L881.3 244.6L881.2 243.2L881.1 241.8L881.1 240.4L881.1 239L881.1 237.7L881.2 236.3L881.3 234.9L881.5 233.5L881.6 232.1L881.7 230.7L881.9 229.3L881.9 227.9L882 226.5L881.9 225.1L881.9 223.7L881.7 222.3L881.5 220.9L881.3 219.5L881 218.1L880.7 216.7L880.4 215.3L880 214L879.7 212.6L879.5 211.2L879.2 209.8L879 208.4L878.9 207L878.7 205.6L878.7 204.2L878.6 202.8L878.5 201.4L878.5 200Z" fill="#7ba7d7" stroke="#4a86c5" stroke-width="1"/>
<circle cx="877.8" cy="200" r="3.3" fill="#fff" stroke="#4a86c5" stroke-width="1.2"/>
<circle cx="881.4" cy="216.1" r="3.3" fill="#fff" stroke="#4a86c5" stroke-width="1.2"/>
<circle cx="875.9" cy="218.5" r="3.3" fill="#fff" stroke="#4a86c5" stroke-width="1.2"/>
<circle cx="881.4" cy="221" r="3.3" fill="#fff" stroke="#4a86c5" stroke-width="1.2"/>
<circle cx="875.9" cy="223.5" r="3.3" fill="#fff" stroke="#4a86c5" stroke-width="1.2"/>
<circle cx="883.2" cy="226" r="3.3" fill="#fff" stroke="#4a86c5" stroke-width="1.2"/>
<circle cx="879.6" cy="227.2" r="3.3" fill="#fff" stroke="#4a86c5" stroke-width="1.2"/>
<circle cx="874.1" cy="228.4" r="3.3" fill="#fff" stroke="#4a86c5" stroke-width="1.2"/>
<circle cx="877.8" cy="232.1" r="3.3" fill="#fff" stroke="#4a86c5" stroke-width="1.2"/>
<circle cx="874.1" cy="235.8" r="3.3" fill="#fff" stroke="#4a86c5" stroke-width="1.2"/>
<circle cx="877.8" cy="239.6" r="3.3" fill="#fff" stroke="#4a86c5" stroke-width="1.2"/>
<circle cx="872.3" cy="247" r="3.3" fill="#fff" stroke="#4a86c5" stroke-width="1.2"/>
<circle cx="877.8" cy="249.4" r="3.3" fill="#fff" stroke="#4a86c5" stroke-width="1.2"/>
<circle cx="883.2" cy="253.1" r="3.3" fill="#fff" stroke="#4a86c5" stroke-width="1.2"/>
<circle cx="877.8" cy="254.4" r="3.3" fill="#fff" stroke="#4a86c5" stroke-width="1.2"/>
<circle cx="872.3" cy="254.4" r="3.3" fill="#fff" stroke="#4a86c5" stroke-width="1.2"/>
<circle cx="883.2" cy="248.2" r="3.3" fill="#fff" stroke="#4a86c5" stroke-width="1.2"/>
<path d="M903.3 154.3L903.2 156.1L903.1 158L903 159.8L902.9 161.6L902.9 163.5L902.8 165.3L902.8 167.1L902.8 169L902.8 170.8L902.8 172.7L902.7 174.5L902.7 176.3L902.6 178.2L902.6 180L902.5 181.9L902.3 183.7L902.2 185.5L902 187.4L901.9 189.2L901.7 191L901.5 192.9L901.3 194.7L901.1 196.6L901 198.4L900.8 200.2L900.6 202.1L900.5 203.9L900.4 205.7L900.3 207.6L900.3 209.4L900.2 211.3L900.2 213.1L900.3 214.9L900.4 216.8L900.5 218.6L900.7 220.4L901 222.3L901.3 224.1L901.6 226L907.3 226L907.6 224.1L907.9 222.3L908.1 220.4L908.3 218.6L908.5 216.8L908.6 214.9L908.6 213.1L908.6 211.3L908.6 209.4L908.5 207.6L908.4 205.7L908.3 203.9L908.2 202.1L908 200.2L907.9 198.4L907.7 196.6L907.5 194.7L907.4 192.9L907.2 191L907 189.2L906.8 187.4L906.7 185.5L906.5 183.7L906.4 181.9L906.3 180L906.2 178.2L906.1 176.3L906.1 174.5L906.1 172.7L906.1 170.8L906 169L906 167.1L906 165.3L906 163.5L905.9 161.6L905.9 159.8L905.8 158L905.6 156.1L905.5 154.3Z" fill="#7ba7d7" stroke="#4a86c5" stroke-width="1"/>
<circle cx="904.4" cy="154.3" r="3.3" fill="#fff" stroke="#4a86c5" stroke-width="1.2"/>
<circle cx="899" cy="160.5" r="3.3" fill="#fff" stroke="#4a86c5" stroke-width="1.2"/>
<circle cx="904.4" cy="161.7" r="3.3" fill="#fff" stroke="#4a86c5" stroke-width="1.2"/>
<circle cx="904.4" cy="179" r="3.3" fill="#fff" stroke="#4a86c5" stroke-width="1.2"/>
<circle cx="904.4" cy="185.2" r="3.3" fill="#fff" stroke="#4a86c5" stroke-width="1.2"/>
<circle cx="906.2" cy="192.6" r="3.3" fill="#fff" stroke="#4a86c5" stroke-width="1.2"/>
<circle cx="900.8" cy="193.8" r="3.3" fill="#fff" stroke="#4a86c5" stroke-width="1.2"/>
<circle cx="904.4" cy="197.5" r="3.3" fill="#fff" stroke="#4a86c5" stroke-width="1.2"/>
<circle cx="899" cy="200" r="3.3" fill="#fff" stroke="#4a86c5" stroke-width="1.2"/>
<circle cx="908.1" cy="201.2" r="3.3" fill="#fff" stroke="#4a86c5" stroke-width="1.2"/>
<circle cx="902.6" cy="203.7" r="3.3" fill="#fff" stroke="#4a86c5" stroke-width="1.2"/>
<circle cx="899" cy="207.4" r="3.3" fill="#fff" stroke="#4a86c5" stroke-width="1.2"/>
<circle cx="904.4" cy="209.9" r="3.3" fill="#fff" stroke="#4a86c5" stroke-width="1.2"/>
<circle cx="909.9" cy="212.4" r="3.3" fill="#fff" stroke="#4a86c5" stroke-width="1.2"/>
<circle cx="899" cy="213.6" r="3.3" fill="#fff" stroke="#4a86c5" stroke-width="1.2"/>
<circle cx="904.4" cy="214.8" r="3.3" fill="#fff" stroke="#4a86c5" stroke-width="1.2"/>
<circle cx="909.9" cy="217.3" r="3.3" fill="#fff" stroke="#4a86c5" stroke-width="1.2"/>
<circle cx="899" cy="218.5" r="3.3" fill="#fff" stroke="#4a86c5" stroke-width="1.2"/>
<circle cx="906.2" cy="221" r="3.3" fill="#fff" stroke="#4a86c5" stroke-width="1.2"/>
<circle cx="902.6" cy="222.3" r="3.3" fill="#fff" stroke="#4a86c5" stroke-width="1.2"/>
<circle cx="909.9" cy="223.5" r="3.3" fill="#fff" stroke="#4a86c5" stroke-width="1.2"/>
<circle cx="899" cy="224.7" r="3.3" fill="#fff" stroke="#4a86c5" stroke-width="1.2"/>
<circle cx="904.4" cy="226" r="3.3" fill="#fff" stroke="#4a86c5" stroke-width="1.2"/>
<circle cx="908.1" cy="206.2" r="3.3" fill="#fff" stroke="#4a86c5" stroke-width="1.2"/>
<circle cx="909.9" cy="190.1" r="3.3" fill="#fff" stroke="#4a86c5" stroke-width="1.2"/>
<circle cx="904.4" cy="172.8" r="3.3" fill="#fff" stroke="#4a86c5" stroke-width="1.2"/>
<circle cx="904.4" cy="166.6" r="3.3" fill="#fff" stroke="#4a86c5" stroke-width="1.2"/>
<path d="M929.2 179L929.1 180.5L928.9 181.9L928.8 183.4L928.7 184.8L928.6 186.3L928.5 187.7L928.5 189.2L928.4 190.7L928.4 192.1L928.3 193.6L928.3 195L928.3 196.5L928.2 197.9L928.2 199.4L928.2 200.9L928.1 202.3L928.1 203.8L928 205.2L927.9 206.7L927.9 208.2L927.7 209.6L927.6 211.1L927.5 212.5L927.4 214L927.2 215.4L927.1 216.9L927 218.4L926.9 219.8L926.9 221.3L926.9 222.7L927 224.2L927.1 225.6L927.3 227.1L927.5 228.6L927.7 230L928 231.5L928.3 232.9L928.7 234.4L929 235.8L933.2 235.8L933.5 234.4L933.8 232.9L934.1 231.5L934.4 230L934.7 228.6L934.9 227.1L935.1 225.6L935.2 224.2L935.3 222.7L935.3 221.3L935.2 219.8L935.2 218.4L935.1 216.9L934.9 215.4L934.8 214L934.7 212.5L934.5 211.1L934.4 209.6L934.3 208.2L934.2 206.7L934.1 205.2L934.1 203.8L934 202.3L934 200.9L934 199.4L933.9 197.9L933.9 196.5L933.9 195L933.8 193.6L933.8 192.1L933.7 190.7L933.7 189.2L933.6 187.7L933.6 186.3L933.5 184.8L933.4 183.4L933.2 181.9L933.1 180.5L932.9 179Z" fill="#7ba7d7" stroke="#4a86c5" stroke-width="1"/>
<circle cx="932.9" cy="179" r="3.3" fill="#fff" stroke="#4a86c5" stroke-width="1.2"/>
<circle cx="925.6" cy="180.2" r="3.3" fill="#fff" stroke="#4a86c5" stroke-width="1.2"/>
<circle cx="936.5" cy="181.5" r="3.3" fill="#fff" stroke="#4a86c5" stroke-width="1.2"/>
<circle cx="931.1" cy="182.7" r="3.3" fill="#fff" stroke="#4a86c5" stroke-width="1.2"/>
<circle cx="936.5" cy="187.7" r="3.3" fill="#fff" stroke="#4a86c5" stroke-width="1.2"/>
<circle cx="931.1" cy="190.1" r="3.3" fill="#fff" stroke="#4a86c5" stroke-width="1.2"/>
<circle cx="936.5" cy="193.8" r="3.3" fill="#fff" stroke="#4a86c5" stroke-width="1.2"/>
<circle cx="929.3" cy="195.1" r="3.3" fill="#fff" stroke="#4a86c5" stroke-width="1.2"/>
<circle cx="934.7" cy="197.5" r="3.3" fill="#fff" stroke="#4a86c5" stroke-width="1.2"/>
<circle cx="929.3" cy="200" r="3.3" fill="#fff" stroke="#4a86c5" stroke-width="1.2"/>
<circle cx="934.7" cy="202.5" r="3.3" fill="#fff" stroke="#4a86c5" stroke-width="1.2"/>
<circle cx="929.3" cy="205" r="3.3" fill="#fff" stroke="#4a86c5" stroke-width="1.2"/>
<circle cx="934.7" cy="207.4" r="3.3" fill="#fff" stroke="#4a86c5" stroke-width="1.2"/>
<circle cx="929.3" cy="209.9" r="3.3" fill="#fff" stroke="#4a86c5" stroke-width="1.2"/>
<circle cx="934.7" cy="212.4" r="3.3" fill="#fff" stroke="#4a86c5" stroke-width="1.2"/>
<circle cx="929.3" cy="214.8" r="3.3" fill="#fff" stroke="#4a86c5" stroke-width="1.2"/>
<circle cx="932.9" cy="217.3" r="3.3" fill="#fff" stroke="#4a86c5" stroke-width="1.2"/>
<circle cx="925.6" cy="218.5" r="3.3" fill="#fff" stroke="#4a86c5" stroke-width="1.2"/>
<circle cx="929.3" cy="221" r="3.3" fill="#fff" stroke="#4a86c5" stroke-width="1.2"/>
<circle cx="932.9" cy="222.3" r="3.3" fill="#fff" stroke="#4a86c5" stroke-width="1.2"/>
<circle cx="936.5" cy="224.7" r="3.3" fill="#fff" stroke="#4a86c5" stroke-width="1.2"/>
<circle cx="929.3" cy="226" r="3.3" fill="#fff" stroke="#4a86c5" stroke-width="1.2"/>
<circle cx="934.7" cy="227.2" r="3.3" fill="#fff" stroke="#4a86c5" stroke-width="1.2"/>
<circle cx="925.6" cy="228.4" r="3.3" fill="#fff" stroke="#4a86c5" stroke-width="1.2"/>
<circle cx="931.1" cy="230.9" r="3.3" fill="#fff" stroke="#4a86c5" stroke-width="1.2"/>
<circle cx="925.6" cy="234.6" r="3.3" fill="#fff" stroke="#4a86c5" stroke-width="1.2"/>
<circle cx="931.1" cy="235.8" r="3.3" fill="#fff" stroke="#4a86c5" stroke-width="1.2"/>
<circle cx="925.6" cy="223.5" r="3.3" fill="#fff" stroke="#4a86c5" stroke-width="1.2"/>
<circle cx="936.5" cy="219.8" r="3.3" fill="#fff" stroke="#4a86c5" stroke-width="1.2"/>
<path d="M956.9 181.5L956.8 182.6L956.9 183.7L956.9 184.8L956.9 185.9L957 187L957 188.1L957.1 189.2L957.1 190.3L957.1 191.5L957 192.6L957 193.7L956.9 194.8L956.7 195.9L956.5 197L956.3 198.1L956.1 199.2L955.9 200.3L955.6 201.4L955.4 202.5L955.2 203.7L954.9 204.8L954.7 205.9L954.5 207L954.3 208.1L954.1 209.2L954 210.3L953.8 211.4L953.7 212.5L953.6 213.6L953.6 214.7L953.5 215.9L953.5 217L953.6 218.1L953.7 219.2L953.8 220.3L954 221.4L954.2 222.5L954.5 223.6L954.8 224.7L960.7 224.7L961 223.6L961.3 222.5L961.5 221.4L961.7 220.3L961.8 219.2L961.9 218.1L961.9 217L961.9 215.9L961.9 214.7L961.9 213.6L961.8 212.5L961.7 211.4L961.5 210.3L961.4 209.2L961.2 208.1L961 207L960.8 205.9L960.6 204.8L960.3 203.7L960.1 202.5L959.8 201.4L959.6 200.3L959.4 199.2L959.1 198.1L958.9 197L958.8 195.9L958.6 194.8L958.5 193.7L958.4 192.6L958.4 191.5L958.4 190.3L958.4 189.2L958.5 188.1L958.5 187L958.6 185.9L958.6 184.8L958.6 183.7L958.6 182.6L958.6 181.5Z" fill="#7ba7d7" stroke="#4a86c5" stroke-width="1"/>
<circle cx="952.3" cy="181.5" r="3.3" fill="#fff" stroke="#4a86c5" stroke-width="1.2"/>
<circle cx="957.7" cy="183.9" r="3.3" fill="#fff" stroke="#4a86c5" stroke-width="1.2"/>
<circle cx="961.4" cy="200" r="3.3" fill="#fff" stroke="#4a86c5" stroke-width="1.2"/>
<circle cx="955.9" cy="202.5" r="3.3" fill="#fff" stroke="#4a86c5" stroke-width="1.2"/>
<circle cx="961.4" cy="205" r="3.3" fill="#fff" stroke="#4a86c5" stroke-width="1.2"/>
<circle cx="955.9" cy="207.4" r="3.3" fill="#fff" stroke="#4a86c5" stroke-width="1.2"/>
<circle cx="963.2" cy="209.9" r="3.3" fill="#fff" stroke="#4a86c5" stroke-width="1.2"/>
<circle cx="959.6" cy="211.1" r="3.3" fill="#fff" stroke="#4a86c5" stroke-width="1.2"/>
<circle cx="952.3" cy="212.4" r="3.3" fill="#fff" stroke="#4a86c5" stroke-width="1.2"/>
<circle cx="963.2" cy="214.8" r="3.3" fill="#fff" stroke="#4a86c5" stroke-width="1.2"/>
<circle cx="959.6" cy="217.3" r="3.3" fill="#fff" stroke="#4a86c5" stroke-width="1.2"/>
<circle cx="954.1" cy="218.5" r="3.3" fill="#fff" stroke="#4a86c5" stroke-width="1.2"/>
<circle cx="963.2" cy="221" r="3.3" fill="#fff" stroke="#4a86c5" stroke-width="1.2"/>
<circle cx="957.7" cy="222.3" r="3.3" fill="#fff" stroke="#4a86c5" stroke-width="1.2"/>
<circle cx="952.3" cy="223.5" r="3.3" fill="#fff" stroke="#4a86c5" stroke-width="1.2"/>
<circle cx="963.2" cy="223.5" r="3.3" fill="#fff" stroke="#4a86c5" stroke-width="1.2"/>
<circle cx="957.7" cy="224.7" r="3.3" fill="#fff" stroke="#4a86c5" stroke-width="1.2"/>
<circle cx="955.9" cy="213.6" r="3.3" fill="#fff" stroke="#4a86c5" stroke-width="1.2"/>
<path d="M981.7 224.7L981.3 225.4L981 226L980.7 226.6L980.5 227.3L980.3 227.9L980.2 228.5L980.2 229.2L980.2 229.8L980.4 230.4L980.5 231.1L980.8 231.7L981.1 232.3L981.4 233L981.7 233.6L982 234.2L982.4 234.9L982.7 235.5L983 236.1L983.2 236.8L983.5 237.4L983.7 238L983.8 238.7L984 239.3L984.1 239.9L984.2 240.6L984.2 241.2L984.2 241.8L984.2 242.5L984.2 243.1L984.2 243.7L984.2 244.4L984.1 245L984 245.6L984 246.3L983.9 246.9L983.9 247.5L983.8 248.2L983.8 248.8L983.8 249.4L985 249.4L985 248.8L985 248.2L984.9 247.5L984.9 246.9L984.8 246.3L984.8 245.6L984.7 245L984.6 244.4L984.6 243.7L984.6 243.1L984.6 242.5L984.6 241.8L984.6 241.2L984.6 240.6L984.7 239.9L984.8 239.3L985 238.7L985.1 238L985.3 237.4L985.6 236.8L985.8 236.1L986.1 235.5L986.4 234.9L986.8 234.2L987.1 233.6L987.4 233L987.7 232.3L988 231.7L988.3 231.1L988.4 230.4L988.6 229.8L988.6 229.2L988.6 228.5L988.5 227.9L988.3 227.3L988.1 226.6L987.8 226L987.5 225.4L987.1 224.7Z" fill="#7ba7d7" stroke="#4a86c5" stroke-width="1"/>
<circle cx="986.2" cy="224.7" r="3.3" fill="#fff" stroke="#4a86c5" stroke-width="1.2"/>
<circle cx="979" cy="226" r="3.3" fill="#fff" stroke="#4a86c5" stroke-width="1.2"/>
<circle cx="982.6" cy="227.2" r="3.3" fill="#fff" stroke="#4a86c5" stroke-width="1.2"/>
<circle cx="989.8" cy="228.4" r="3.3" fill="#fff" stroke="#4a86c5" stroke-width="1.2"/>
<circle cx="986.2" cy="229.7" r="3.3" fill="#fff" stroke="#4a86c5" stroke-width="1.2"/>
<circle cx="979" cy="229.7" r="3.3" fill="#fff" stroke="#4a86c5" stroke-width="1.2"/>
<circle cx="980.8" cy="230.9" r="3.3" fill="#fff" stroke="#4a86c5" stroke-width="1.2"/>
<circle cx="989.8" cy="232.1" r="3.3" fill="#fff" stroke="#4a86c5" stroke-width="1.2"/>
<circle cx="984.4" cy="234.6" r="3.3" fill="#fff" stroke="#4a86c5" stroke-width="1.2"/>
<circle cx="984.4" cy="249.4" r="3.3" fill="#fff" stroke="#4a86c5" stroke-width="1.2"/>
<path d="M1008.5 206.2L1008.2 207.2L1008 208.2L1007.8 209.2L1007.6 210.2L1007.5 211.3L1007.4 212.3L1007.3 213.3L1007.2 214.3L1007.1 215.3L1007 216.3L1006.9 217.3L1006.9 218.4L1006.9 219.4L1006.9 220.4L1006.9 221.4L1007 222.4L1007 223.4L1007.2 224.4L1007.3 225.5L1007.4 226.5L1007.5 227.5L1007.7 228.5L1007.8 229.5L1007.8 230.5L1007.9 231.5L1007.9 232.6L1007.9 233.6L1007.9 234.6L1007.9 235.6L1007.8 236.6L1007.8 237.6L1007.8 238.6L1007.8 239.7L1007.8 240.7L1007.9 241.7L1008 242.7L1008.1 243.7L1008.3 244.7L1008.5 245.7L1013.6 245.7L1013.8 244.7L1014 243.7L1014.2 242.7L1014.3 241.7L1014.3 240.7L1014.4 239.7L1014.4 238.6L1014.3 237.6L1014.3 236.6L1014.3 235.6L1014.2 234.6L1014.2 233.6L1014.2 232.6L1014.2 231.5L1014.3 230.5L1014.4 229.5L1014.5 228.5L1014.6 227.5L1014.7 226.5L1014.8 225.5L1015 224.4L1015.1 223.4L1015.2 222.4L1015.2 221.4L1015.3 220.4L1015.3 219.4L1015.2 218.4L1015.2 217.3L1015.1 216.3L1015 215.3L1015 214.3L1014.9 213.3L1014.7 212.3L1014.6 211.3L1014.5 210.2L1014.3 209.2L1014.1 208.2L1013.9 207.2L1013.7 206.2Z" fill="#7ba7d7" stroke="#4a86c5" stroke-width="1"/>
<circle cx="1016.5" cy="206.2" r="3.3" fill="#fff" stroke="#4a86c5" stroke-width="1.2"/>
<circle cx="1012.9" cy="207.4" r="3.3" fill="#fff" stroke="#4a86c5" stroke-width="1.2"/>
<circle cx="1007.4" cy="208.7" r="3.3" fill="#fff" stroke="#4a86c5" stroke-width="1.2"/>
<circle cx="1011.1" cy="212.4" r="3.3" fill="#fff" stroke="#4a86c5" stroke-width="1.2"/>
<circle cx="1005.6" cy="214.8" r="3.3" fill="#fff" stroke="#4a86c5" stroke-width="1.2"/>
<circle cx="1011.1" cy="217.3" r="3.3" fill="#fff" stroke="#4a86c5" stroke-width="1.2"/>
<circle cx="1016.5" cy="219.8" r="3.3" fill="#fff" stroke="#4a86c5" stroke-width="1.2"/>
<circle cx="1005.6" cy="221" r="3.3" fill="#fff" stroke="#4a86c5" stroke-width="1.2"/>
<circle cx="1011.1" cy="222.3" r="3.3" fill="#fff" stroke="#4a86c5" stroke-width="1.2"/>
<circle cx="1016.5" cy="224.7" r="3.3" fill="#fff" stroke="#4a86c5" stroke-width="1.2"/>
<circle cx="1011.1" cy="227.2" r="3.3" fill="#fff" stroke="#4a86c5" stroke-width="1.2"/>
<circle cx="1014.7" cy="230.9" r="3.3" fill="#fff" stroke="#4a86c5" stroke-width="1.2"/>
<circle cx="1011.1" cy="234.6" r="3.3" fill="#fff" stroke="#4a86c5" stroke-width="1.2"/>
<circle cx="1016.5" cy="237.1" r="3.3" fill="#fff" stroke="#4a86c5" stroke-width="1.2"/>
<circle cx="1011.1" cy="239.6" r="3.3" fill="#fff" stroke="#4a86c5" stroke-width="1.2"/>
<circle cx="1016.5" cy="243.3" r="3.3" fill="#fff" stroke="#4a86c5" stroke-width="1.2"/>
<circle cx="1005.6" cy="244.5" r="3.3" fill="#fff" stroke="#4a86c5" stroke-width="1.2"/>
<circle cx="1011.1" cy="245.7" r="3.3" fill="#fff" stroke="#4a86c5" stroke-width="1.2"/>
<path d="M1035.3 206.2L1035.1 207.2L1034.8 208.2L1034.6 209.2L1034.5 210.2L1034.3 211.3L1034.2 212.3L1034.1 213.3L1034 214.3L1033.8 215.3L1033.7 216.3L1033.7 217.3L1033.6 218.4L1033.5 219.4L1033.5 220.4L1033.5 221.4L1033.6 222.4L1033.6 223.4L1033.7 224.4L1033.8 225.5L1033.9 226.5L1034.1 227.5L1034.2 228.5L1034.3 229.5L1034.4 230.5L1034.5 231.5L1034.6 232.6L1034.6 233.6L1034.7 234.6L1034.8 235.6L1034.8 236.6L1034.9 237.6L1034.9 238.6L1035 239.7L1035.1 240.7L1035.2 241.7L1035.3 242.7L1035.4 243.7L1035.6 244.7L1035.8 245.7L1039.7 245.7L1039.8 244.7L1040 243.7L1040.1 242.7L1040.3 241.7L1040.4 240.7L1040.4 239.7L1040.5 238.6L1040.6 237.6L1040.6 236.6L1040.7 235.6L1040.7 234.6L1040.8 233.6L1040.9 232.6L1041 231.5L1041.1 230.5L1041.2 229.5L1041.3 228.5L1041.4 227.5L1041.5 226.5L1041.6 225.5L1041.7 224.4L1041.8 223.4L1041.9 222.4L1041.9 221.4L1041.9 220.4L1041.9 219.4L1041.8 218.4L1041.8 217.3L1041.7 216.3L1041.6 215.3L1041.5 214.3L1041.4 213.3L1041.3 212.3L1041.1 211.3L1041 210.2L1040.8 209.2L1040.6 208.2L1040.4 207.2L1040.1 206.2Z" fill="#fff" stroke="#000" stroke-width="1"/>
<circle cx="1043.2" cy="206.2" r="3.3" fill="#fff" stroke="#000" stroke-width="1.2"/>
<circle cx="1032.3" cy="207.4" r="3.3" fill="#fff" stroke="#000" stroke-width="1.2"/>
<circle cx="1037.7" cy="208.7" r="3.3" fill="#fff" stroke="#000" stroke-width="1.2"/>
<circle cx="1043.2" cy="211.1" r="3.3" fill="#fff" stroke="#000" stroke-width="1.2"/>
<circle cx="1037.7" cy="213.6" r="3.3" fill="#fff" stroke="#000" stroke-width="1.2"/>
<circle cx="1032.3" cy="216.1" r="3.3" fill="#fff" stroke="#000" stroke-width="1.2"/>
<circle cx="1039.5" cy="218.5" r="3.3" fill="#fff" stroke="#000" stroke-width="1.2"/>
<circle cx="1035.9" cy="219.8" r="3.3" fill="#fff" stroke="#000" stroke-width="1.2"/>
<circle cx="1043.2" cy="221" r="3.3" fill="#fff" stroke="#000" stroke-width="1.2"/>
<circle cx="1032.3" cy="222.3" r="3.3" fill="#fff" stroke="#000" stroke-width="1.2"/>
<circle cx="1037.7" cy="223.5" r="3.3" fill="#fff" stroke="#000" stroke-width="1.2"/>
<circle cx="1043.2" cy="226" r="3.3" fill="#fff" stroke="#000" stroke-width="1.2"/>
<circle cx="1037.7" cy="228.4" r="3.3" fill="#fff" stroke="#000" stroke-width="1.2"/>
<circle cx="1043.2" cy="230.9" r="3.3" fill="#fff" stroke="#000" stroke-width="1.2"/>
<circle cx="1037.7" cy="233.4" r="3.3" fill="#fff" stroke="#000" stroke-width="1.2"/>
<circle cx="1043.2" cy="235.8" r="3.3" fill="#fff" stroke="#000" stroke-width="1.2"/>
<circle cx="1037.7" cy="238.3" r="3.3" fill="#fff" stroke="#000" stroke-width="1.2"/>
<circle cx="1041.4" cy="242" r="3.3" fill="#fff" stroke="#000" stroke-width="1.2"/>
<circle cx="1032.3" cy="244.5" r="3.3" fill="#fff" stroke="#000" stroke-width="1.2"/>
<circle cx="1037.7" cy="245.7" r="3.3" fill="#fff" stroke="#000" stroke-width="1.2"/>
<line x1="834.1" y1="113" x2="834.1" y2="261.8" stroke="#000" stroke-width="1.3"/>
<line x1="828.1" y1="261.8" x2="1058" y2="261.8" stroke="#000" stroke-width="1.3"/>
<line x1="828.1" y1="261.8" x2="834.1" y2="261.8" stroke="#000" stroke-width="1.3"/>
<text font-size="12.8" fill="#111" text-anchor="end" transform="translate(824.4 266.3) scale(1 1.08)">0</text>
<line x1="828.1" y1="224.7" x2="834.1" y2="224.7" stroke="#000" stroke-width="1.3"/>
<text font-size="12.8" fill="#111" text-anchor="end" transform="translate(824.4 229.2) scale(1 1.08)">30</text>
<line x1="828.1" y1="187.7" x2="834.1" y2="187.7" stroke="#000" stroke-width="1.3"/>
<text font-size="12.8" fill="#111" text-anchor="end" transform="translate(824.4 192.2) scale(1 1.08)">60</text>
<line x1="828.1" y1="150.6" x2="834.1" y2="150.6" stroke="#000" stroke-width="1.3"/>
<text font-size="12.8" fill="#111" text-anchor="end" transform="translate(824.4 155.1) scale(1 1.08)">90</text>
<line x1="828.1" y1="113.5" x2="834.1" y2="113.5" stroke="#000" stroke-width="1.3"/>
<text font-size="12.8" fill="#111" text-anchor="end" transform="translate(824.4 118) scale(1 1.08)">120</text>
<line x1="851.1" y1="261.8" x2="851.1" y2="268.6" stroke="#000" stroke-width="1.3"/>
<line x1="877.8" y1="261.8" x2="877.8" y2="268.6" stroke="#000" stroke-width="1.3"/>
<line x1="904.4" y1="261.8" x2="904.4" y2="268.6" stroke="#000" stroke-width="1.3"/>
<line x1="931.1" y1="261.8" x2="931.1" y2="268.6" stroke="#000" stroke-width="1.3"/>
<line x1="957.7" y1="261.8" x2="957.7" y2="268.6" stroke="#000" stroke-width="1.3"/>
<line x1="984.4" y1="261.8" x2="984.4" y2="268.6" stroke="#000" stroke-width="1.3"/>
<line x1="1011.1" y1="261.8" x2="1011.1" y2="268.6" stroke="#000" stroke-width="1.3"/>
<line x1="1037.7" y1="261.8" x2="1037.7" y2="268.6" stroke="#000" stroke-width="1.3"/>
<text font-size="12.6" fill="#111" text-anchor="end" transform="translate(854.6 274.8) rotate(-45) scale(1 1.08)">CTRL</text>
<text font-size="12.6" fill="#2e86c8" text-anchor="end" transform="translate(881.3 274.8) rotate(-45) scale(1 1.08)">Day 1</text>
<text font-size="12.6" fill="#2e86c8" text-anchor="end" transform="translate(907.9 274.8) rotate(-45) scale(1 1.08)">Day 2</text>
<text font-size="12.6" fill="#2e86c8" text-anchor="end" transform="translate(934.6 274.8) rotate(-45) scale(1 1.08)">Day 3</text>
<text font-size="12.6" fill="#2e86c8" text-anchor="end" transform="translate(961.2 274.8) rotate(-45) scale(1 1.08)">Day 7</text>
<text font-size="12.6" fill="#2e86c8" text-anchor="end" transform="translate(987.9 274.8) rotate(-45) scale(1 1.08)">Day 14</text>
<text font-size="12.6" fill="#2e86c8" text-anchor="end" transform="translate(1014.6 274.8) rotate(-45) scale(1 1.08)">Day 30</text>
<g transform="translate(1045.7 274.8) rotate(-45) scale(1 1.08)"><text font-size="12.6" text-anchor="end" fill="#111">CTRL</text><text x="2.5" y="15.1" font-size="12.6" text-anchor="end" fill="#111">Day 30</text></g>
<line x1="866.3" y1="308.8" x2="999.5" y2="308.8" stroke="#2e86c8" stroke-width="1.3"/>
<text font-size="12.8" fill="#2e86c8" textLength="72" lengthAdjust="spacing" transform="translate(896.2 322.6) scale(1 1.08)">Gi-DREADD</text>
<line x1="853.1" y1="177.3" x2="875.8" y2="177.3" stroke="#000" stroke-width="1.2"/>
<text font-size="12.6" fill="#111" text-anchor="middle" transform="translate(864.4 172.3) scale(1 1.08)">n.s.</text>
<line x1="986.4" y1="177.3" x2="1009.1" y2="177.3" stroke="#000" stroke-width="1.2"/>
<text font-size="12.6" fill="#111" text-anchor="middle" transform="translate(997.7 172.3) scale(1 1.08)">n.s.</text>
<line x1="1013.1" y1="177.3" x2="1035.7" y2="177.3" stroke="#000" stroke-width="1.2"/>
<text font-size="12.6" fill="#111" text-anchor="middle" transform="translate(1024.4 172.3) scale(1 1.08)">n.s.</text>
<line x1="879.8" y1="130.7" x2="902.4" y2="130.7" stroke="#000" stroke-width="1.2"/>
<text font-size="15" text-anchor="middle" letter-spacing="0.6" transform="translate(891.1 130.2) scale(1 1.08)">***</text>
<line x1="906.4" y1="130.7" x2="929.1" y2="130.7" stroke="#000" stroke-width="1.2"/>
<text font-size="12.6" fill="#111" text-anchor="middle" transform="translate(917.8 125.7) scale(1 1.08)">n.s.</text>
<line x1="933.1" y1="130.7" x2="955.7" y2="130.7" stroke="#000" stroke-width="1.2"/>
<text font-size="12.6" fill="#111" text-anchor="middle" transform="translate(944.4 125.7) scale(1 1.08)">n.s.</text>
<line x1="959.7" y1="130.7" x2="982.4" y2="130.7" stroke="#000" stroke-width="1.2"/>
<text font-size="15" text-anchor="middle" letter-spacing="0.6" transform="translate(971.1 130.2) scale(1 1.08)">***</text>
<text font-size="12.8" fill="#111" text-anchor="middle" textLength="108.5" lengthAdjust="spacing" transform="translate(787 186.5) rotate(-90) scale(1 1.08)">No. of CD8<tspan font-size="7.5" dy="-4.5">+</tspan><tspan dy="4.5"> T cells</tspan></text>
<text font-size="12.8" fill="#111" text-anchor="middle" textLength="75" lengthAdjust="spacing" transform="translate(803.4 186.5) rotate(-90) scale(1 1.08)">per mm² skin</text>
<text font-size="13" text-anchor="middle" font-weight="bold" transform="translate(1193.7 93.6) scale(1 1.08)">Dermal</text>
<path d="M1099.8 222.9L1099.8 223.8L1099.7 224.8L1099.7 225.7L1099.7 226.7L1099.7 227.6L1099.7 228.6L1099.6 229.5L1099.6 230.4L1099.5 231.4L1099.4 232.3L1099.3 233.3L1099.2 234.2L1099 235.2L1098.9 236.1L1098.7 237.1L1098.6 238L1098.4 238.9L1098.3 239.9L1098.1 240.8L1098 241.8L1097.9 242.7L1097.8 243.7L1097.7 244.6L1097.6 245.5L1097.5 246.5L1097.4 247.4L1097.3 248.4L1097.2 249.3L1097 250.3L1096.9 251.2L1096.7 252.2L1096.6 253.1L1096.4 254L1096.3 255L1096.3 255.9L1096.3 256.9L1096.4 257.8L1096.6 258.8L1096.8 259.7L1104.2 259.7L1104.4 258.8L1104.6 257.8L1104.7 256.9L1104.7 255.9L1104.7 255L1104.6 254L1104.4 253.1L1104.3 252.2L1104.1 251.2L1104 250.3L1103.8 249.3L1103.7 248.4L1103.6 247.4L1103.5 246.5L1103.4 245.5L1103.3 244.6L1103.2 243.7L1103.1 242.7L1103 241.8L1102.9 240.8L1102.7 239.9L1102.6 238.9L1102.4 238L1102.3 237.1L1102.1 236.1L1102 235.2L1101.8 234.2L1101.7 233.3L1101.6 232.3L1101.5 231.4L1101.4 230.4L1101.4 229.5L1101.3 228.6L1101.3 227.6L1101.3 226.7L1101.3 225.7L1101.3 224.8L1101.2 223.8L1101.2 222.9Z" fill="#fff" stroke="#000" stroke-width="1"/>
<circle cx="1098.7" cy="222.9" r="3.3" fill="#fff" stroke="#000" stroke-width="1.2"/>
<circle cx="1100.5" cy="227.1" r="3.3" fill="#fff" stroke="#000" stroke-width="1.2"/>
<circle cx="1100.5" cy="236" r="3.3" fill="#fff" stroke="#000" stroke-width="1.2"/>
<circle cx="1105.9" cy="238.3" r="3.3" fill="#fff" stroke="#000" stroke-width="1.2"/>
<circle cx="1102.3" cy="240.1" r="3.3" fill="#fff" stroke="#000" stroke-width="1.2"/>
<circle cx="1096.9" cy="241.9" r="3.3" fill="#fff" stroke="#000" stroke-width="1.2"/>
<circle cx="1105.9" cy="243.7" r="3.3" fill="#fff" stroke="#000" stroke-width="1.2"/>
<circle cx="1100.5" cy="245.5" r="3.3" fill="#fff" stroke="#000" stroke-width="1.2"/>
<circle cx="1095.1" cy="247.2" r="3.3" fill="#fff" stroke="#000" stroke-width="1.2"/>
<circle cx="1105.9" cy="249" r="3.3" fill="#fff" stroke="#000" stroke-width="1.2"/>
<circle cx="1098.7" cy="250.8" r="3.3" fill="#fff" stroke="#000" stroke-width="1.2"/>
<circle cx="1102.3" cy="252.6" r="3.3" fill="#fff" stroke="#000" stroke-width="1.2"/>
<circle cx="1095.1" cy="253.8" r="3.3" fill="#fff" stroke="#000" stroke-width="1.2"/>
<circle cx="1105.9" cy="255" r="3.3" fill="#fff" stroke="#000" stroke-width="1.2"/>
<circle cx="1098.7" cy="256.1" r="3.3" fill="#fff" stroke="#000" stroke-width="1.2"/>
<circle cx="1102.3" cy="257.3" r="3.3" fill="#fff" stroke="#000" stroke-width="1.2"/>
<circle cx="1095.1" cy="258.5" r="3.3" fill="#fff" stroke="#000" stroke-width="1.2"/>
<circle cx="1100.5" cy="259.7" r="3.3" fill="#fff" stroke="#000" stroke-width="1.2"/>
<circle cx="1095.1" cy="259.7" r="3.3" fill="#fff" stroke="#000" stroke-width="1.2"/>
<circle cx="1105.9" cy="259.7" r="3.3" fill="#fff" stroke="#000" stroke-width="1.2"/>
<circle cx="1098.7" cy="259.7" r="3.3" fill="#fff" stroke="#000" stroke-width="1.2"/>
<circle cx="1104.1" cy="259.1" r="3.3" fill="#fff" stroke="#000" stroke-width="1.2"/>
<path d="M1126.6 212.8L1126.5 214L1126.5 215.2L1126.4 216.4L1126.3 217.6L1126.2 218.8L1126.1 220L1126 221.2L1125.8 222.4L1125.7 223.6L1125.5 224.8L1125.4 226L1125.2 227.2L1125.1 228.4L1124.9 229.6L1124.8 230.8L1124.6 232L1124.5 233.2L1124.4 234.4L1124.3 235.7L1124.1 236.9L1124 238.1L1123.9 239.3L1123.8 240.5L1123.6 241.7L1123.5 242.9L1123.4 244.1L1123.3 245.3L1123.2 246.5L1123.1 247.7L1123.1 248.9L1123 250.1L1123 251.3L1123 252.5L1123 253.7L1123.1 254.9L1123.2 256.1L1123.4 257.3L1123.6 258.5L1123.9 259.7L1130.5 259.7L1130.8 258.5L1131 257.3L1131.2 256.1L1131.3 254.9L1131.4 253.7L1131.4 252.5L1131.4 251.3L1131.4 250.1L1131.3 248.9L1131.3 247.7L1131.2 246.5L1131.1 245.3L1131 244.1L1130.9 242.9L1130.8 241.7L1130.6 240.5L1130.5 239.3L1130.4 238.1L1130.3 236.9L1130.1 235.7L1130 234.4L1129.9 233.2L1129.8 232L1129.6 230.8L1129.5 229.6L1129.3 228.4L1129.2 227.2L1129 226L1128.9 224.8L1128.7 223.6L1128.6 222.4L1128.4 221.2L1128.3 220L1128.2 218.8L1128.1 217.6L1128 216.4L1127.9 215.2L1127.9 214L1127.8 212.8Z" fill="#7ba7d7" stroke="#4a86c5" stroke-width="1"/>
<circle cx="1127.2" cy="212.8" r="3.3" fill="#fff" stroke="#4a86c5" stroke-width="1.2"/>
<circle cx="1123.6" cy="224.1" r="3.3" fill="#fff" stroke="#4a86c5" stroke-width="1.2"/>
<circle cx="1127.2" cy="227.1" r="3.3" fill="#fff" stroke="#4a86c5" stroke-width="1.2"/>
<circle cx="1123.6" cy="230" r="3.3" fill="#fff" stroke="#4a86c5" stroke-width="1.2"/>
<circle cx="1127.2" cy="233" r="3.3" fill="#fff" stroke="#4a86c5" stroke-width="1.2"/>
<circle cx="1121.8" cy="236" r="3.3" fill="#fff" stroke="#4a86c5" stroke-width="1.2"/>
<circle cx="1127.2" cy="238.3" r="3.3" fill="#fff" stroke="#4a86c5" stroke-width="1.2"/>
<circle cx="1121.8" cy="240.7" r="3.3" fill="#fff" stroke="#4a86c5" stroke-width="1.2"/>
<circle cx="1129" cy="242.5" r="3.3" fill="#fff" stroke="#4a86c5" stroke-width="1.2"/>
<circle cx="1125.4" cy="244.3" r="3.3" fill="#fff" stroke="#4a86c5" stroke-width="1.2"/>
<circle cx="1132.6" cy="246" r="3.3" fill="#fff" stroke="#4a86c5" stroke-width="1.2"/>
<circle cx="1129" cy="247.8" r="3.3" fill="#fff" stroke="#4a86c5" stroke-width="1.2"/>
<circle cx="1123.6" cy="249.6" r="3.3" fill="#fff" stroke="#4a86c5" stroke-width="1.2"/>
<circle cx="1132.6" cy="251.4" r="3.3" fill="#fff" stroke="#4a86c5" stroke-width="1.2"/>
<circle cx="1127.2" cy="253.2" r="3.3" fill="#fff" stroke="#4a86c5" stroke-width="1.2"/>
<circle cx="1121.8" cy="255" r="3.3" fill="#fff" stroke="#4a86c5" stroke-width="1.2"/>
<circle cx="1130.8" cy="256.7" r="3.3" fill="#fff" stroke="#4a86c5" stroke-width="1.2"/>
<circle cx="1127.2" cy="259.7" r="3.3" fill="#fff" stroke="#4a86c5" stroke-width="1.2"/>
<circle cx="1121.8" cy="259.7" r="3.3" fill="#fff" stroke="#4a86c5" stroke-width="1.2"/>
<circle cx="1132.6" cy="259.7" r="3.3" fill="#fff" stroke="#4a86c5" stroke-width="1.2"/>
<circle cx="1125.4" cy="258.5" r="3.3" fill="#fff" stroke="#4a86c5" stroke-width="1.2"/>
<path d="M1153.4 180.2L1153.3 181.9L1153.3 183.7L1153.2 185.5L1153.1 187.2L1153.1 189L1153 190.8L1152.9 192.5L1152.8 194.3L1152.8 196L1152.6 197.8L1152.5 199.6L1152.4 201.3L1152.3 203.1L1152.1 204.9L1152 206.6L1151.9 208.4L1151.7 210.2L1151.6 211.9L1151.5 213.7L1151.3 215.5L1151.2 217.2L1151 219L1150.9 220.8L1150.7 222.5L1150.6 224.3L1150.4 226.1L1150.2 227.8L1150.1 229.6L1149.9 231.4L1149.8 233.1L1149.7 234.9L1149.7 236.7L1149.7 238.4L1149.8 240.2L1150 242L1150.2 243.7L1150.5 245.5L1150.8 247.2L1151.2 249L1156.6 249L1157 247.2L1157.3 245.5L1157.6 243.7L1157.8 242L1158 240.2L1158.1 238.4L1158.1 236.7L1158.1 234.9L1158 233.1L1157.9 231.4L1157.7 229.6L1157.6 227.8L1157.4 226.1L1157.2 224.3L1157.1 222.5L1156.9 220.8L1156.8 219L1156.6 217.2L1156.5 215.5L1156.3 213.7L1156.2 211.9L1156.1 210.2L1155.9 208.4L1155.8 206.6L1155.7 204.9L1155.5 203.1L1155.4 201.3L1155.3 199.6L1155.2 197.8L1155 196L1155 194.3L1154.9 192.5L1154.8 190.8L1154.7 189L1154.7 187.2L1154.6 185.5L1154.5 183.7L1154.5 181.9L1154.4 180.2Z" fill="#7ba7d7" stroke="#4a86c5" stroke-width="1"/>
<circle cx="1153.9" cy="180.2" r="3.3" fill="#fff" stroke="#4a86c5" stroke-width="1.2"/>
<circle cx="1153.9" cy="191.4" r="3.3" fill="#fff" stroke="#4a86c5" stroke-width="1.2"/>
<circle cx="1155.7" cy="206.3" r="3.3" fill="#fff" stroke="#4a86c5" stroke-width="1.2"/>
<circle cx="1152.1" cy="209.2" r="3.3" fill="#fff" stroke="#4a86c5" stroke-width="1.2"/>
<circle cx="1155.7" cy="212.2" r="3.3" fill="#fff" stroke="#4a86c5" stroke-width="1.2"/>
<circle cx="1152.1" cy="215.2" r="3.3" fill="#fff" stroke="#4a86c5" stroke-width="1.2"/>
<circle cx="1155.7" cy="218.1" r="3.3" fill="#fff" stroke="#4a86c5" stroke-width="1.2"/>
<circle cx="1152.1" cy="221.1" r="3.3" fill="#fff" stroke="#4a86c5" stroke-width="1.2"/>
<circle cx="1155.7" cy="224.1" r="3.3" fill="#fff" stroke="#4a86c5" stroke-width="1.2"/>
<circle cx="1150.3" cy="226.5" r="3.3" fill="#fff" stroke="#4a86c5" stroke-width="1.2"/>
<circle cx="1155.7" cy="228.8" r="3.3" fill="#fff" stroke="#4a86c5" stroke-width="1.2"/>
<circle cx="1150.3" cy="231.2" r="3.3" fill="#fff" stroke="#4a86c5" stroke-width="1.2"/>
<circle cx="1159.3" cy="233" r="3.3" fill="#fff" stroke="#4a86c5" stroke-width="1.2"/>
<circle cx="1153.9" cy="234.8" r="3.3" fill="#fff" stroke="#4a86c5" stroke-width="1.2"/>
<circle cx="1148.5" cy="236.5" r="3.3" fill="#fff" stroke="#4a86c5" stroke-width="1.2"/>
<circle cx="1159.3" cy="238.3" r="3.3" fill="#fff" stroke="#4a86c5" stroke-width="1.2"/>
<circle cx="1152.1" cy="239.5" r="3.3" fill="#fff" stroke="#4a86c5" stroke-width="1.2"/>
<circle cx="1155.7" cy="240.7" r="3.3" fill="#fff" stroke="#4a86c5" stroke-width="1.2"/>
<circle cx="1148.5" cy="241.9" r="3.3" fill="#fff" stroke="#4a86c5" stroke-width="1.2"/>
<circle cx="1159.3" cy="242.5" r="3.3" fill="#fff" stroke="#4a86c5" stroke-width="1.2"/>
<circle cx="1152.1" cy="243.1" r="3.3" fill="#fff" stroke="#4a86c5" stroke-width="1.2"/>
<circle cx="1155.7" cy="244.9" r="3.3" fill="#fff" stroke="#4a86c5" stroke-width="1.2"/>
<circle cx="1148.5" cy="246.6" r="3.3" fill="#fff" stroke="#4a86c5" stroke-width="1.2"/>
<circle cx="1153.9" cy="249" r="3.3" fill="#fff" stroke="#4a86c5" stroke-width="1.2"/>
<circle cx="1153.9" cy="200.3" r="3.3" fill="#fff" stroke="#4a86c5" stroke-width="1.2"/>
<path d="M1179.9 187.3L1179.8 189.1L1179.7 190.8L1179.7 192.6L1179.6 194.4L1179.5 196.2L1179.4 198L1179.4 199.7L1179.3 201.5L1179.2 203.3L1179.2 205.1L1179.2 206.9L1179.1 208.7L1179.1 210.4L1179 212.2L1179 214L1178.9 215.8L1178.9 217.6L1178.8 219.3L1178.8 221.1L1178.7 222.9L1178.6 224.7L1178.5 226.5L1178.4 228.2L1178.2 230L1178.1 231.8L1177.9 233.6L1177.7 235.4L1177.5 237.1L1177.3 238.9L1177.1 240.7L1176.9 242.5L1176.7 244.3L1176.5 246L1176.4 247.8L1176.4 249.6L1176.4 251.4L1176.6 253.2L1176.8 255L1177.1 256.7L1184.1 256.7L1184.4 255L1184.6 253.2L1184.8 251.4L1184.8 249.6L1184.8 247.8L1184.7 246L1184.5 244.3L1184.3 242.5L1184.1 240.7L1183.9 238.9L1183.7 237.1L1183.5 235.4L1183.3 233.6L1183.1 231.8L1183 230L1182.8 228.2L1182.7 226.5L1182.6 224.7L1182.5 222.9L1182.4 221.1L1182.4 219.3L1182.3 217.6L1182.3 215.8L1182.2 214L1182.2 212.2L1182.1 210.4L1182.1 208.7L1182 206.9L1182 205.1L1182 203.3L1181.9 201.5L1181.8 199.7L1181.8 198L1181.7 196.2L1181.6 194.4L1181.5 192.6L1181.5 190.8L1181.4 189.1L1181.3 187.3Z" fill="#7ba7d7" stroke="#4a86c5" stroke-width="1"/>
<circle cx="1180.6" cy="187.3" r="3.3" fill="#fff" stroke="#4a86c5" stroke-width="1.2"/>
<circle cx="1180.6" cy="201.5" r="3.3" fill="#fff" stroke="#4a86c5" stroke-width="1.2"/>
<circle cx="1184.2" cy="205.1" r="3.3" fill="#fff" stroke="#4a86c5" stroke-width="1.2"/>
<circle cx="1180.6" cy="208.7" r="3.3" fill="#fff" stroke="#4a86c5" stroke-width="1.2"/>
<circle cx="1184.2" cy="215.2" r="3.3" fill="#fff" stroke="#4a86c5" stroke-width="1.2"/>
<circle cx="1180.6" cy="218.1" r="3.3" fill="#fff" stroke="#4a86c5" stroke-width="1.2"/>
<circle cx="1180.6" cy="224.1" r="3.3" fill="#fff" stroke="#4a86c5" stroke-width="1.2"/>
<circle cx="1177" cy="227.1" r="3.3" fill="#fff" stroke="#4a86c5" stroke-width="1.2"/>
<circle cx="1180.6" cy="230" r="3.3" fill="#fff" stroke="#4a86c5" stroke-width="1.2"/>
<circle cx="1177" cy="233" r="3.3" fill="#fff" stroke="#4a86c5" stroke-width="1.2"/>
<circle cx="1180.6" cy="236" r="3.3" fill="#fff" stroke="#4a86c5" stroke-width="1.2"/>
<circle cx="1177" cy="238.9" r="3.3" fill="#fff" stroke="#4a86c5" stroke-width="1.2"/>
<circle cx="1180.6" cy="241.9" r="3.3" fill="#fff" stroke="#4a86c5" stroke-width="1.2"/>
<circle cx="1175.2" cy="243.7" r="3.3" fill="#fff" stroke="#4a86c5" stroke-width="1.2"/>
<circle cx="1186" cy="245.5" r="3.3" fill="#fff" stroke="#4a86c5" stroke-width="1.2"/>
<circle cx="1178.8" cy="247.2" r="3.3" fill="#fff" stroke="#4a86c5" stroke-width="1.2"/>
<circle cx="1182.4" cy="249" r="3.3" fill="#fff" stroke="#4a86c5" stroke-width="1.2"/>
<circle cx="1175.2" cy="250.2" r="3.3" fill="#fff" stroke="#4a86c5" stroke-width="1.2"/>
<circle cx="1186" cy="251.4" r="3.3" fill="#fff" stroke="#4a86c5" stroke-width="1.2"/>
<circle cx="1178.8" cy="252.6" r="3.3" fill="#fff" stroke="#4a86c5" stroke-width="1.2"/>
<circle cx="1182.4" cy="253.2" r="3.3" fill="#fff" stroke="#4a86c5" stroke-width="1.2"/>
<circle cx="1175.2" cy="253.8" r="3.3" fill="#fff" stroke="#4a86c5" stroke-width="1.2"/>
<circle cx="1184.2" cy="254.4" r="3.3" fill="#fff" stroke="#4a86c5" stroke-width="1.2"/>
<circle cx="1178.8" cy="255" r="3.3" fill="#fff" stroke="#4a86c5" stroke-width="1.2"/>
<circle cx="1186" cy="255.5" r="3.3" fill="#fff" stroke="#4a86c5" stroke-width="1.2"/>
<circle cx="1175.2" cy="256.1" r="3.3" fill="#fff" stroke="#4a86c5" stroke-width="1.2"/>
<circle cx="1180.6" cy="256.7" r="3.3" fill="#fff" stroke="#4a86c5" stroke-width="1.2"/>
<circle cx="1180.6" cy="194.4" r="3.3" fill="#fff" stroke="#4a86c5" stroke-width="1.2"/>
<path d="M1206.3 216.4L1206.2 217L1206.1 217.7L1206 218.3L1205.9 219L1205.8 219.6L1205.8 220.3L1205.7 220.9L1205.6 221.6L1205.6 222.3L1205.5 222.9L1205.4 223.6L1205.4 224.2L1205.3 224.9L1205.3 225.5L1205.2 226.2L1205.2 226.8L1205.1 227.5L1205 228.1L1205 228.8L1204.9 229.5L1204.8 230.1L1204.7 230.8L1204.6 231.4L1204.5 232.1L1204.3 232.7L1204.2 233.4L1204.1 234L1203.9 234.7L1203.8 235.3L1203.6 236L1203.5 236.7L1203.4 237.3L1203.2 238L1203.1 238.6L1203.1 239.3L1203.1 239.9L1203.2 240.6L1203.3 241.2L1203.6 241.9L1211 241.9L1211.3 241.2L1211.4 240.6L1211.5 239.9L1211.5 239.3L1211.5 238.6L1211.4 238L1211.2 237.3L1211.1 236.7L1211 236L1210.8 235.3L1210.7 234.7L1210.5 234L1210.4 233.4L1210.3 232.7L1210.1 232.1L1210 231.4L1209.9 230.8L1209.8 230.1L1209.7 229.5L1209.6 228.8L1209.6 228.1L1209.5 227.5L1209.4 226.8L1209.4 226.2L1209.3 225.5L1209.3 224.9L1209.2 224.2L1209.2 223.6L1209.1 222.9L1209 222.3L1209 221.6L1208.9 220.9L1208.8 220.3L1208.8 219.6L1208.7 219L1208.6 218.3L1208.5 217.7L1208.4 217L1208.3 216.4Z" fill="#7ba7d7" stroke="#4a86c5" stroke-width="1"/>
<circle cx="1207.3" cy="216.4" r="3.3" fill="#fff" stroke="#4a86c5" stroke-width="1.2"/>
<circle cx="1205.5" cy="221.1" r="3.3" fill="#fff" stroke="#4a86c5" stroke-width="1.2"/>
<circle cx="1209.1" cy="224.1" r="3.3" fill="#fff" stroke="#4a86c5" stroke-width="1.2"/>
<circle cx="1205.5" cy="227.1" r="3.3" fill="#fff" stroke="#4a86c5" stroke-width="1.2"/>
<circle cx="1209.1" cy="230" r="3.3" fill="#fff" stroke="#4a86c5" stroke-width="1.2"/>
<circle cx="1203.7" cy="232.4" r="3.3" fill="#fff" stroke="#4a86c5" stroke-width="1.2"/>
<circle cx="1212.7" cy="234.2" r="3.3" fill="#fff" stroke="#4a86c5" stroke-width="1.2"/>
<circle cx="1207.3" cy="236" r="3.3" fill="#fff" stroke="#4a86c5" stroke-width="1.2"/>
<circle cx="1201.9" cy="237.7" r="3.3" fill="#fff" stroke="#4a86c5" stroke-width="1.2"/>
<circle cx="1210.9" cy="239.5" r="3.3" fill="#fff" stroke="#4a86c5" stroke-width="1.2"/>
<circle cx="1205.5" cy="240.7" r="3.3" fill="#fff" stroke="#4a86c5" stroke-width="1.2"/>
<circle cx="1207.3" cy="241.9" r="3.3" fill="#fff" stroke="#4a86c5" stroke-width="1.2"/>
<circle cx="1201.9" cy="241.9" r="3.3" fill="#fff" stroke="#4a86c5" stroke-width="1.2"/>
<circle cx="1212.7" cy="241.9" r="3.3" fill="#fff" stroke="#4a86c5" stroke-width="1.2"/>
<path d="M1233 234.2L1232.9 234.8L1232.8 235.3L1232.8 235.9L1232.7 236.5L1232.6 237.1L1232.4 237.6L1232.3 238.2L1232.1 238.8L1231.9 239.4L1231.7 240L1231.6 240.5L1231.4 241.1L1231.4 241.7L1231.3 242.3L1231.3 242.9L1231.4 243.4L1231.5 244L1231.5 244.6L1231.6 245.2L1231.7 245.7L1231.7 246.3L1231.7 246.9L1231.6 247.5L1231.5 248.1L1231.4 248.6L1231.2 249.2L1231 249.8L1230.8 250.4L1230.6 250.9L1230.4 251.5L1230.2 252.1L1230 252.7L1229.9 253.3L1229.8 253.8L1229.8 254.4L1229.9 255L1230 255.6L1230.2 256.2L1230.4 256.7L1237.6 256.7L1237.8 256.2L1238 255.6L1238.1 255L1238.2 254.4L1238.2 253.8L1238.1 253.3L1238 252.7L1237.8 252.1L1237.6 251.5L1237.4 250.9L1237.2 250.4L1237 249.8L1236.8 249.2L1236.6 248.6L1236.5 248.1L1236.4 247.5L1236.3 246.9L1236.3 246.3L1236.3 245.7L1236.4 245.2L1236.5 244.6L1236.5 244L1236.6 243.4L1236.7 242.9L1236.7 242.3L1236.6 241.7L1236.6 241.1L1236.4 240.5L1236.3 240L1236.1 239.4L1235.9 238.8L1235.7 238.2L1235.6 237.6L1235.4 237.1L1235.3 236.5L1235.2 235.9L1235.2 235.3L1235.1 234.8L1235 234.2Z" fill="#7ba7d7" stroke="#4a86c5" stroke-width="1"/>
<circle cx="1234" cy="234.2" r="3.3" fill="#fff" stroke="#4a86c5" stroke-width="1.2"/>
<circle cx="1228.6" cy="240.7" r="3.3" fill="#fff" stroke="#4a86c5" stroke-width="1.2"/>
<circle cx="1239.4" cy="241.9" r="3.3" fill="#fff" stroke="#4a86c5" stroke-width="1.2"/>
<circle cx="1234" cy="243.1" r="3.3" fill="#fff" stroke="#4a86c5" stroke-width="1.2"/>
<circle cx="1234" cy="247.8" r="3.3" fill="#fff" stroke="#4a86c5" stroke-width="1.2"/>
<circle cx="1228.6" cy="250.8" r="3.3" fill="#fff" stroke="#4a86c5" stroke-width="1.2"/>
<circle cx="1235.8" cy="252.6" r="3.3" fill="#fff" stroke="#4a86c5" stroke-width="1.2"/>
<circle cx="1232.2" cy="253.8" r="3.3" fill="#fff" stroke="#4a86c5" stroke-width="1.2"/>
<circle cx="1239.4" cy="255.5" r="3.3" fill="#fff" stroke="#4a86c5" stroke-width="1.2"/>
<circle cx="1234" cy="256.7" r="3.3" fill="#fff" stroke="#4a86c5" stroke-width="1.2"/>
<circle cx="1228.6" cy="256.7" r="3.3" fill="#fff" stroke="#4a86c5" stroke-width="1.2"/>
<path d="M1259.9 216.4L1259.8 217.5L1259.8 218.6L1259.8 219.7L1259.8 220.8L1259.8 221.9L1259.9 223L1259.9 224.1L1259.9 225.3L1259.9 226.4L1259.9 227.5L1259.9 228.6L1259.8 229.7L1259.8 230.8L1259.7 231.9L1259.6 233L1259.5 234.1L1259.3 235.3L1259.2 236.4L1259 237.5L1258.8 238.6L1258.6 239.7L1258.3 240.8L1258.1 241.9L1257.9 243L1257.6 244.1L1257.4 245.3L1257.2 246.4L1257 247.5L1256.9 248.6L1256.7 249.7L1256.6 250.8L1256.5 251.9L1256.5 253L1256.5 254.1L1256.6 255.3L1256.7 256.4L1256.9 257.5L1257.2 258.6L1257.5 259.7L1263.9 259.7L1264.2 258.6L1264.5 257.5L1264.7 256.4L1264.8 255.3L1264.9 254.1L1264.9 253L1264.9 251.9L1264.8 250.8L1264.7 249.7L1264.5 248.6L1264.4 247.5L1264.2 246.4L1264 245.3L1263.8 244.1L1263.5 243L1263.3 241.9L1263.1 240.8L1262.8 239.7L1262.6 238.6L1262.4 237.5L1262.2 236.4L1262.1 235.3L1261.9 234.1L1261.8 233L1261.7 231.9L1261.6 230.8L1261.6 229.7L1261.5 228.6L1261.5 227.5L1261.5 226.4L1261.5 225.3L1261.5 224.1L1261.5 223L1261.6 221.9L1261.6 220.8L1261.6 219.7L1261.6 218.6L1261.6 217.5L1261.5 216.4Z" fill="#7ba7d7" stroke="#4a86c5" stroke-width="1"/>
<circle cx="1257.1" cy="216.4" r="3.3" fill="#fff" stroke="#4a86c5" stroke-width="1.2"/>
<circle cx="1260.7" cy="219.9" r="3.3" fill="#fff" stroke="#4a86c5" stroke-width="1.2"/>
<circle cx="1260.7" cy="230.6" r="3.3" fill="#fff" stroke="#4a86c5" stroke-width="1.2"/>
<circle cx="1260.7" cy="238.9" r="3.3" fill="#fff" stroke="#4a86c5" stroke-width="1.2"/>
<circle cx="1264.3" cy="241.9" r="3.3" fill="#fff" stroke="#4a86c5" stroke-width="1.2"/>
<circle cx="1255.3" cy="243.7" r="3.3" fill="#fff" stroke="#4a86c5" stroke-width="1.2"/>
<circle cx="1260.7" cy="245.5" r="3.3" fill="#fff" stroke="#4a86c5" stroke-width="1.2"/>
<circle cx="1266.1" cy="247.2" r="3.3" fill="#fff" stroke="#4a86c5" stroke-width="1.2"/>
<circle cx="1255.3" cy="249" r="3.3" fill="#fff" stroke="#4a86c5" stroke-width="1.2"/>
<circle cx="1262.5" cy="250.8" r="3.3" fill="#fff" stroke="#4a86c5" stroke-width="1.2"/>
<circle cx="1258.9" cy="252.6" r="3.3" fill="#fff" stroke="#4a86c5" stroke-width="1.2"/>
<circle cx="1266.1" cy="253.8" r="3.3" fill="#fff" stroke="#4a86c5" stroke-width="1.2"/>
<circle cx="1255.3" cy="255" r="3.3" fill="#fff" stroke="#4a86c5" stroke-width="1.2"/>
<circle cx="1262.5" cy="256.1" r="3.3" fill="#fff" stroke="#4a86c5" stroke-width="1.2"/>
<circle cx="1258.9" cy="257.3" r="3.3" fill="#fff" stroke="#4a86c5" stroke-width="1.2"/>
<circle cx="1266.1" cy="258.5" r="3.3" fill="#fff" stroke="#4a86c5" stroke-width="1.2"/>
<circle cx="1260.7" cy="259.7" r="3.3" fill="#fff" stroke="#4a86c5" stroke-width="1.2"/>
<circle cx="1255.3" cy="259.7" r="3.3" fill="#fff" stroke="#4a86c5" stroke-width="1.2"/>
<path d="M1286.4 222.9L1286.3 223.8L1286.2 224.8L1286.2 225.7L1286.1 226.7L1286.1 227.6L1286.1 228.6L1286.1 229.5L1286.1 230.4L1286.1 231.4L1286.1 232.3L1286.1 233.3L1286 234.2L1286 235.2L1285.8 236.1L1285.7 237.1L1285.6 238L1285.4 238.9L1285.3 239.9L1285.1 240.8L1285 241.8L1284.9 242.7L1284.7 243.7L1284.6 244.6L1284.5 245.5L1284.4 246.5L1284.2 247.4L1284.1 248.4L1284 249.3L1283.8 250.3L1283.7 251.2L1283.5 252.2L1283.4 253.1L1283.3 254L1283.2 255L1283.2 255.9L1283.2 256.9L1283.4 257.8L1283.5 258.8L1283.8 259.7L1291 259.7L1291.3 258.8L1291.4 257.8L1291.6 256.9L1291.6 255.9L1291.6 255L1291.5 254L1291.4 253.1L1291.3 252.2L1291.1 251.2L1291 250.3L1290.8 249.3L1290.7 248.4L1290.6 247.4L1290.4 246.5L1290.3 245.5L1290.2 244.6L1290.1 243.7L1289.9 242.7L1289.8 241.8L1289.7 240.8L1289.5 239.9L1289.4 238.9L1289.2 238L1289.1 237.1L1289 236.1L1288.8 235.2L1288.8 234.2L1288.7 233.3L1288.7 232.3L1288.7 231.4L1288.7 230.4L1288.7 229.5L1288.7 228.6L1288.7 227.6L1288.7 226.7L1288.6 225.7L1288.6 224.8L1288.5 223.8L1288.4 222.9Z" fill="#fff" stroke="#000" stroke-width="1"/>
<circle cx="1287.4" cy="222.9" r="3.3" fill="#fff" stroke="#000" stroke-width="1.2"/>
<circle cx="1292.8" cy="226.5" r="3.3" fill="#fff" stroke="#000" stroke-width="1.2"/>
<circle cx="1287.4" cy="228.8" r="3.3" fill="#fff" stroke="#000" stroke-width="1.2"/>
<circle cx="1287.4" cy="237.1" r="3.3" fill="#fff" stroke="#000" stroke-width="1.2"/>
<circle cx="1282" cy="239.5" r="3.3" fill="#fff" stroke="#000" stroke-width="1.2"/>
<circle cx="1287.4" cy="241.9" r="3.3" fill="#fff" stroke="#000" stroke-width="1.2"/>
<circle cx="1282" cy="244.3" r="3.3" fill="#fff" stroke="#000" stroke-width="1.2"/>
<circle cx="1289.2" cy="246" r="3.3" fill="#fff" stroke="#000" stroke-width="1.2"/>
<circle cx="1285.6" cy="247.8" r="3.3" fill="#fff" stroke="#000" stroke-width="1.2"/>
<circle cx="1292.8" cy="249.6" r="3.3" fill="#fff" stroke="#000" stroke-width="1.2"/>
<circle cx="1289.2" cy="251.4" r="3.3" fill="#fff" stroke="#000" stroke-width="1.2"/>
<circle cx="1283.8" cy="253.2" r="3.3" fill="#fff" stroke="#000" stroke-width="1.2"/>
<circle cx="1292.8" cy="255" r="3.3" fill="#fff" stroke="#000" stroke-width="1.2"/>
<circle cx="1282" cy="256.7" r="3.3" fill="#fff" stroke="#000" stroke-width="1.2"/>
<circle cx="1291" cy="257.9" r="3.3" fill="#fff" stroke="#000" stroke-width="1.2"/>
<circle cx="1287.4" cy="259.7" r="3.3" fill="#fff" stroke="#000" stroke-width="1.2"/>
<circle cx="1282" cy="259.7" r="3.3" fill="#fff" stroke="#000" stroke-width="1.2"/>
<circle cx="1292.8" cy="259.7" r="3.3" fill="#fff" stroke="#000" stroke-width="1.2"/>
<circle cx="1285.6" cy="259.7" r="3.3" fill="#fff" stroke="#000" stroke-width="1.2"/>
<circle cx="1287.4" cy="256.1" r="3.3" fill="#fff" stroke="#000" stroke-width="1.2"/>
<line x1="1084.1" y1="110.8" x2="1084.1" y2="259.7" stroke="#000" stroke-width="1.3"/>
<line x1="1078" y1="259.7" x2="1307.5" y2="259.7" stroke="#000" stroke-width="1.3"/>
<line x1="1078" y1="259.7" x2="1084.1" y2="259.7" stroke="#000" stroke-width="1.3"/>
<text font-size="12.8" fill="#111" text-anchor="end" transform="translate(1074.5 264.2) scale(1 1.08)">0</text>
<line x1="1078" y1="230" x2="1084.1" y2="230" stroke="#000" stroke-width="1.3"/>
<text font-size="12.8" fill="#111" text-anchor="end" transform="translate(1074.5 234.5) scale(1 1.08)">5</text>
<line x1="1078" y1="200.3" x2="1084.1" y2="200.3" stroke="#000" stroke-width="1.3"/>
<text font-size="12.8" fill="#111" text-anchor="end" transform="translate(1074.5 204.8) scale(1 1.08)">10</text>
<line x1="1078" y1="170.7" x2="1084.1" y2="170.7" stroke="#000" stroke-width="1.3"/>
<text font-size="12.8" fill="#111" text-anchor="end" transform="translate(1074.5 175.2) scale(1 1.08)">15</text>
<line x1="1078" y1="141" x2="1084.1" y2="141" stroke="#000" stroke-width="1.3"/>
<text font-size="12.8" fill="#111" text-anchor="end" transform="translate(1074.5 145.5) scale(1 1.08)">20</text>
<line x1="1078" y1="111.3" x2="1084.1" y2="111.3" stroke="#000" stroke-width="1.3"/>
<text font-size="12.8" fill="#111" text-anchor="end" transform="translate(1074.5 115.8) scale(1 1.08)">25</text>
<line x1="1100.5" y1="259.7" x2="1100.5" y2="266.5" stroke="#000" stroke-width="1.3"/>
<line x1="1127.2" y1="259.7" x2="1127.2" y2="266.5" stroke="#000" stroke-width="1.3"/>
<line x1="1153.9" y1="259.7" x2="1153.9" y2="266.5" stroke="#000" stroke-width="1.3"/>
<line x1="1180.6" y1="259.7" x2="1180.6" y2="266.5" stroke="#000" stroke-width="1.3"/>
<line x1="1207.3" y1="259.7" x2="1207.3" y2="266.5" stroke="#000" stroke-width="1.3"/>
<line x1="1234" y1="259.7" x2="1234" y2="266.5" stroke="#000" stroke-width="1.3"/>
<line x1="1260.7" y1="259.7" x2="1260.7" y2="266.5" stroke="#000" stroke-width="1.3"/>
<line x1="1287.4" y1="259.7" x2="1287.4" y2="266.5" stroke="#000" stroke-width="1.3"/>
<text font-size="12.6" fill="#111" text-anchor="end" transform="translate(1104 272.7) rotate(-45) scale(1 1.08)">CTRL</text>
<text font-size="12.6" fill="#2e86c8" text-anchor="end" transform="translate(1130.7 272.7) rotate(-45) scale(1 1.08)">Day 1</text>
<text font-size="12.6" fill="#2e86c8" text-anchor="end" transform="translate(1157.4 272.7) rotate(-45) scale(1 1.08)">Day 2</text>
<text font-size="12.6" fill="#2e86c8" text-anchor="end" transform="translate(1184.1 272.7) rotate(-45) scale(1 1.08)">Day 3</text>
<text font-size="12.6" fill="#2e86c8" text-anchor="end" transform="translate(1210.8 272.7) rotate(-45) scale(1 1.08)">Day 7</text>
<text font-size="12.6" fill="#2e86c8" text-anchor="end" transform="translate(1237.5 272.7) rotate(-45) scale(1 1.08)">Day 14</text>
<text font-size="12.6" fill="#2e86c8" text-anchor="end" transform="translate(1264.2 272.7) rotate(-45) scale(1 1.08)">Day 30</text>
<g transform="translate(1295.4 272.7) rotate(-45) scale(1 1.08)"><text font-size="12.6" text-anchor="end" fill="#111">CTRL</text><text x="2.5" y="15.1" font-size="12.6" text-anchor="end" fill="#111">Day 30</text></g>
<line x1="1113.3" y1="309.8" x2="1247.7" y2="309.8" stroke="#2e86c8" stroke-width="1.3"/>
<text font-size="12.8" fill="#2e86c8" textLength="72" lengthAdjust="spacing" transform="translate(1144.4 323.8) scale(1 1.08)">Gi-DREADD</text>
<line x1="1102.5" y1="177.3" x2="1125.2" y2="177.3" stroke="#000" stroke-width="1.2"/>
<text font-size="12.6" fill="#111" text-anchor="middle" transform="translate(1113.8 172.3) scale(1 1.08)">n.s.</text>
<line x1="1236" y1="177.3" x2="1258.7" y2="177.3" stroke="#000" stroke-width="1.2"/>
<text font-size="12.6" fill="#111" text-anchor="middle" transform="translate(1247.3 172.3) scale(1 1.08)">n.s.</text>
<line x1="1262.7" y1="177.3" x2="1285.4" y2="177.3" stroke="#000" stroke-width="1.2"/>
<text font-size="12.6" fill="#111" text-anchor="middle" transform="translate(1274.1 172.3) scale(1 1.08)">n.s.</text>
<line x1="1129.2" y1="130.7" x2="1151.9" y2="130.7" stroke="#000" stroke-width="1.2"/>
<text font-size="15" text-anchor="middle" letter-spacing="0.6" transform="translate(1140.6 130.2) scale(1 1.08)">**</text>
<line x1="1155.9" y1="130.7" x2="1178.6" y2="130.7" stroke="#000" stroke-width="1.2"/>
<text font-size="12.6" fill="#111" text-anchor="middle" transform="translate(1167.2 125.7) scale(1 1.08)">n.s.</text>
<line x1="1182.6" y1="130.7" x2="1205.3" y2="130.7" stroke="#000" stroke-width="1.2"/>
<text font-size="12.6" fill="#111" text-anchor="middle" transform="translate(1193.9 125.7) scale(1 1.08)">n.s.</text>
<line x1="1209.3" y1="130.7" x2="1232" y2="130.7" stroke="#000" stroke-width="1.2"/>
<text font-size="15" text-anchor="middle" letter-spacing="0.6" transform="translate(1220.7 130.2) scale(1 1.08)">***</text>
<text font-size="23" font-weight="bold" transform="translate(22.3 392.7) scale(1 1.08)">D</text>
<text font-size="15" fill="#333" font-weight="bold" textLength="498.8" lengthAdjust="spacing" transform="translate(45.5 397.5)">Flow cytometry analysis of skin from control and Gi-DREADD mice</text>
<text font-size="12.8" fill="#2b7bba" font-weight="bold" textLength="50.8" lengthAdjust="spacing" transform="translate(57.4 416.6) scale(1 1.08)">CNO i.p.</text>
<linearGradient id="gd" x1="0" x2="1" y1="0" y2="0"><stop offset="0" stop-color="#cfe4f5"/><stop offset="1" stop-color="#6c9fcf"/></linearGradient>
<rect x="49.5" y="420.8" width="68.2" height="8.5" fill="url(#gd)" stroke="#1a1a1a" stroke-width="1"/>
<line x1="49" y1="436" x2="152.3" y2="436" stroke="#333" stroke-width="1.2"/>
<line x1="49.5" y1="436" x2="49.5" y2="432.8" stroke="#333" stroke-width="1"/>
<line x1="83.4" y1="436" x2="83.4" y2="432.8" stroke="#333" stroke-width="1"/>
<line x1="117.7" y1="436" x2="117.7" y2="432.8" stroke="#333" stroke-width="1"/>
<path d="M146.3 414.9L157.3 414.9L152.3 435Z" fill="#2b5797"/>
<text font-size="12.8" fill="#111" textLength="78.8" lengthAdjust="spacing" transform="translate(159 430.8) scale(1 1.08)">FCM analysis</text>
<text font-size="12.6" fill="#111" text-anchor="middle" transform="translate(50 447.3) scale(1 1.08)">0</text>
<text font-size="12.6" fill="#111" text-anchor="middle" transform="translate(82.4 447.3) scale(1 1.08)">1</text>
<text font-size="12.6" fill="#111" text-anchor="middle" transform="translate(116.2 447.3) scale(1 1.08)">2</text>
<text font-size="12.6" fill="#111" text-anchor="middle" transform="translate(150.6 447.3) scale(1 1.08)">3</text>
<text font-size="12.6" fill="#111" textLength="22.6" lengthAdjust="spacing" transform="translate(159.7 447.3) scale(1 1.08)">Day</text>
<text font-size="12.6" fill="#111" textLength="58.1" lengthAdjust="spacing" transform="translate(46.3 465.7) scale(1 1.08)">Epidermal</text>
<text font-size="12.6" fill="#111" textLength="126.5" lengthAdjust="spacing" transform="translate(46.3 484.4) scale(1 1.08)">Gating from αβ T cells</text>
<text font-size="12.8" fill="#111" textLength="33.9" lengthAdjust="spacing" transform="translate(83.5 500.8) scale(1 1.08)">CTRL</text>
<text font-size="12.8" fill="#111" textLength="71.7" lengthAdjust="spacing" transform="translate(157.4 500.8) scale(1 1.08)">Gi-DREADD</text>
<rect x="60.3" y="505.7" width="82.3" height="82.3" fill="none" stroke="#000" stroke-width="1.1"/>
<path d="M60.3 509h-1.8M63.6 588v1.8M60.3 513.9h-1.8M68.5 588v1.8M60.3 518.9h-1.8M73.5 588v1.8M60.3 525.5h-1.8M80.1 588v1.8M60.3 533.7h-1.8M88.3 588v1.8M60.3 540.3h-1.8M94.9 588v1.8M60.3 545.2h-1.8M99.8 588v1.8M60.3 555.1h-1.8M109.7 588v1.8M60.3 560h-1.8M114.6 588v1.8M60.3 565h-1.8M119.6 588v1.8M60.3 574.8h-1.8M129.4 588v1.8M60.3 579.8h-1.8M134.4 588v1.8M60.3 584.7h-1.8M139.3 588v1.8" fill="none" stroke="#000" stroke-width="0.7"/>
<rect x="57.8" y="557.5" width="2.5" height="2.2" fill="#000"/>
<rect x="68.5" y="588" width="2.5" height="2" fill="#000"/>
<rect x="153" y="505.7" width="83" height="82.3" fill="none" stroke="#000" stroke-width="1.1"/>
<path d="M153 509h-1.8M156.3 588v1.8M153 513.9h-1.8M161.3 588v1.8M153 518.9h-1.8M166.3 588v1.8M153 525.5h-1.8M172.9 588v1.8M153 533.7h-1.8M181.2 588v1.8M153 540.3h-1.8M187.9 588v1.8M153 545.2h-1.8M192.8 588v1.8M153 555.1h-1.8M202.8 588v1.8M153 560h-1.8M207.8 588v1.8M153 565h-1.8M212.8 588v1.8M153 574.8h-1.8M222.7 588v1.8M153 579.8h-1.8M227.7 588v1.8M153 584.7h-1.8M232.7 588v1.8" fill="none" stroke="#000" stroke-width="0.7"/>
<rect x="150.5" y="557.5" width="2.5" height="2.2" fill="#000"/>
<rect x="161.3" y="588" width="2.5" height="2" fill="#000"/>
<rect x="60.3" y="605.3" width="82.3" height="82" fill="none" stroke="#000" stroke-width="1.1"/>
<path d="M60.3 608.6h-1.8M63.6 687.3v1.8M60.3 613.5h-1.8M68.5 687.3v1.8M60.3 618.4h-1.8M73.5 687.3v1.8M60.3 625h-1.8M80.1 687.3v1.8M60.3 633.2h-1.8M88.3 687.3v1.8M60.3 639.7h-1.8M94.9 687.3v1.8M60.3 644.7h-1.8M99.8 687.3v1.8M60.3 654.5h-1.8M109.7 687.3v1.8M60.3 659.4h-1.8M114.6 687.3v1.8M60.3 664.3h-1.8M119.6 687.3v1.8M60.3 674.2h-1.8M129.4 687.3v1.8M60.3 679.1h-1.8M134.4 687.3v1.8M60.3 684h-1.8M139.3 687.3v1.8" fill="none" stroke="#000" stroke-width="0.7"/>
<rect x="57.8" y="657" width="2.5" height="2.2" fill="#000"/>
<rect x="68.5" y="687.3" width="2.5" height="2" fill="#000"/>
<rect x="153" y="605.3" width="83" height="82" fill="none" stroke="#000" stroke-width="1.1"/>
<path d="M153 608.6h-1.8M156.3 687.3v1.8M153 613.5h-1.8M161.3 687.3v1.8M153 618.4h-1.8M166.3 687.3v1.8M153 625h-1.8M172.9 687.3v1.8M153 633.2h-1.8M181.2 687.3v1.8M153 639.7h-1.8M187.9 687.3v1.8M153 644.7h-1.8M192.8 687.3v1.8M153 654.5h-1.8M202.8 687.3v1.8M153 659.4h-1.8M207.8 687.3v1.8M153 664.3h-1.8M212.8 687.3v1.8M153 674.2h-1.8M222.7 687.3v1.8M153 679.1h-1.8M227.7 687.3v1.8M153 684h-1.8M232.7 687.3v1.8" fill="none" stroke="#000" stroke-width="0.7"/>
<rect x="150.5" y="657" width="2.5" height="2.2" fill="#000"/>
<rect x="161.3" y="687.3" width="2.5" height="2" fill="#000"/>
<rect x="100.7" y="530.7" width="33.8" height="31.7" fill="none" stroke="#000" stroke-width="0.9"/>
<rect x="193.8" y="530.7" width="33.6" height="31.7" fill="none" stroke="#000" stroke-width="0.9"/>
<rect x="84.6" y="605.3" width="58.2" height="40" fill="none" stroke="#000" stroke-width="0.9"/>
<rect x="177.3" y="605.3" width="58.7" height="40" fill="none" stroke="#000" stroke-width="0.9"/>
<g transform="rotate(-10 82 546.8)" fill="none" stroke="#000" stroke-width="0.95"><path d="M94.7 546.8C94.9 548.8 94.6 551.7 93.1 553.3C91.7 554.9 88.3 556 85.9 556.3C83.4 556.6 80.9 555.8 78.6 555.2C76.3 554.6 73.7 554 72 552.6C70.3 551.2 68.4 548.8 68.3 546.8C68.3 544.8 70 542.3 71.6 540.8C73.3 539.2 75.9 538.1 78.3 537.6C80.6 537 83.5 536.9 85.8 537.5C88 538.1 90.2 539.6 91.7 541.2C93.2 542.7 94.4 544.8 94.7 546.8Z"/><path d="M93.1 546.9C93.3 548.7 93 551.3 91.6 552.7C90.3 554.1 87.3 555.2 85.2 555.5C83 555.8 80.7 555.1 78.6 554.5C76.5 553.9 74.2 553.4 72.7 552.1C71.2 550.8 69.5 548.7 69.5 546.9C69.4 545.1 70.9 542.9 72.4 541.5C73.9 540.1 76.2 539.1 78.3 538.6C80.4 538.1 83.1 538 85.1 538.5C87.1 539.1 89.1 540.4 90.4 541.8C91.8 543.2 92.9 545.1 93.1 546.9Z"/><path d="M91.5 547C91.7 548.6 91.4 550.8 90.2 552.1C89 553.4 86.4 554.3 84.5 554.6C82.5 554.9 80.5 554.3 78.6 553.8C76.8 553.3 74.7 552.8 73.4 551.6C72 550.5 70.6 548.6 70.6 547C70.5 545.4 71.8 543.4 73.1 542.2C74.4 541 76.5 540 78.4 539.6C80.3 539.2 82.6 539.1 84.4 539.5C86.2 540 88 541.2 89.2 542.5C90.3 543.7 91.3 545.4 91.5 547Z"/><path d="M89.9 547.1C90.1 548.5 89.7 550.4 88.7 551.6C87.7 552.7 85.5 553.5 83.8 553.8C82.1 554 80.2 553.5 78.6 553.1C77 552.7 75.2 552.2 74.1 551.2C72.9 550.2 71.7 548.5 71.6 547.1C71.6 545.7 72.7 544 73.8 542.9C75 541.8 76.8 541 78.4 540.6C80.1 540.2 82.1 540.2 83.7 540.6C85.3 541 86.9 542 87.9 543.1C88.9 544.2 89.8 545.7 89.9 547.1Z"/><path d="M88.3 547.2C88.4 548.4 88.2 550 87.3 551C86.4 551.9 84.5 552.7 83.1 552.9C81.6 553.1 80 552.8 78.6 552.4C77.3 552 75.7 551.6 74.8 550.7C73.8 549.8 72.7 548.4 72.7 547.2C72.7 546 73.6 544.5 74.6 543.6C75.5 542.7 77.1 542 78.5 541.6C79.9 541.3 81.7 541.2 83 541.6C84.4 542 85.7 542.9 86.6 543.8C87.5 544.7 88.2 546 88.3 547.2Z"/><path d="M86.8 547.3C86.8 548.3 86.6 549.7 85.8 550.4C85.1 551.2 83.6 551.9 82.4 552.1C81.2 552.3 79.8 552 78.7 551.7C77.5 551.3 76.2 550.9 75.4 550.2C74.6 549.5 73.8 548.3 73.8 547.3C73.8 546.3 74.5 545.1 75.3 544.3C76.1 543.5 77.4 542.9 78.5 542.6C79.7 542.4 81.2 542.3 82.3 542.6C83.5 542.9 84.6 543.7 85.3 544.4C86.1 545.2 86.7 546.3 86.8 547.3Z"/><path d="M85.2 547.4C85.2 548.2 85 549.3 84.4 549.9C83.8 550.5 82.6 551 81.7 551.2C80.7 551.4 79.6 551.2 78.7 550.9C77.8 550.7 76.8 550.3 76.1 549.7C75.5 549.1 74.8 548.2 74.8 547.4C74.8 546.6 75.4 545.6 76 545C76.6 544.4 77.7 543.9 78.6 543.7C79.5 543.4 80.7 543.4 81.6 543.7C82.6 543.9 83.5 544.5 84.1 545.1C84.6 545.7 85.1 546.6 85.2 547.4Z"/><path d="M83.6 547.5C83.6 548.1 83.5 548.9 83 549.4C82.6 549.8 81.7 550.2 81 550.4C80.3 550.5 79.4 550.3 78.7 550.2C78 550 77.3 549.7 76.8 549.2C76.3 548.8 75.9 548.1 75.9 547.5C75.8 546.9 76.3 546.2 76.7 545.7C77.2 545.2 78 544.9 78.7 544.7C79.4 544.5 80.3 544.5 81 544.7C81.6 544.9 82.3 545.3 82.8 545.8C83.2 546.2 83.6 546.9 83.6 547.5Z"/><path d="M82 547.6C82 548 81.9 548.5 81.6 548.8C81.3 549.2 80.7 549.4 80.3 549.5C79.8 549.6 79.2 549.5 78.8 549.4C78.3 549.3 77.8 549.1 77.5 548.8C77.2 548.5 76.9 548 76.9 547.6C76.9 547.2 77.1 546.7 77.5 546.4C77.8 546.1 78.3 545.8 78.7 545.7C79.2 545.6 79.8 545.6 80.3 545.7C80.7 545.8 81.2 546.1 81.5 546.5C81.8 546.8 82 547.2 82 547.6Z"/><path d="M80.4 547.7C80.5 547.9 80.4 548.2 80.2 548.3C80.1 548.5 79.8 548.6 79.6 548.7C79.3 548.7 79.1 548.7 78.8 548.6C78.6 548.5 78.3 548.4 78.2 548.3C78 548.1 77.9 547.9 77.9 547.7C77.9 547.5 78 547.3 78.2 547.1C78.3 546.9 78.6 546.8 78.8 546.8C79 546.7 79.3 546.7 79.6 546.8C79.8 546.8 80 547 80.2 547.1C80.3 547.3 80.4 547.5 80.4 547.7Z"/></g>
<g transform="rotate(-15 114.6 546.6)" fill="none" stroke="#000" stroke-width="0.9"><path d="M121.8 546.6C122.1 547.5 122.1 548.9 121.3 549.7C120.5 550.5 118.5 551.2 117 551.4C115.5 551.6 113.8 551.2 112.4 550.9C111.1 550.5 109.6 550 108.7 549.3C107.9 548.6 107.2 547.5 107.1 546.6C107.1 545.7 107.6 544.6 108.5 543.7C109.3 542.9 110.7 542 112.1 541.7C113.5 541.4 115.6 541.6 117 542C118.3 542.4 119.2 543.3 120 544.1C120.8 544.9 121.6 545.7 121.8 546.6Z"/><path d="M118.9 546.8C119 547.4 119 548.3 118.4 548.8C117.9 549.4 116.6 549.8 115.6 549.9C114.6 550.1 113.4 549.9 112.5 549.7C111.6 549.5 110.6 549.1 110 548.6C109.4 548.1 109 547.4 108.9 546.8C108.9 546.1 109.3 545.4 109.9 544.8C110.4 544.3 111.4 543.7 112.3 543.5C113.3 543.3 114.7 543.4 115.6 543.6C116.5 543.9 117.2 544.5 117.7 545C118.3 545.5 118.8 546.1 118.9 546.8Z"/><path d="M115.9 546.9C116 547.2 115.9 547.7 115.6 548C115.4 548.2 114.7 548.5 114.2 548.6C113.7 548.6 113.1 548.6 112.6 548.4C112.1 548.3 111.6 548.1 111.3 547.9C111 547.6 110.8 547.2 110.8 546.9C110.8 546.6 110.9 546.2 111.2 545.9C111.5 545.6 112 545.3 112.5 545.2C113 545.1 113.7 545.2 114.2 545.3C114.7 545.4 115.1 545.7 115.4 546C115.7 546.3 115.9 546.6 115.9 546.9Z"/></g>
<path d="M112.6 553h0.1M106.4 552h0.1M110.4 547h0.1M123.4 548.6h0.1M111.7 550.9h0.1M118.8 547.9h0.1M115.5 544.1h0.1M109.8 546.2h0.1M104 542h0.1M102.2 547h0.1M111 546.7h0.1M112.4 542.7h0.1M111.5 549h0.1M116.5 544.6h0.1M109.6 539.9h0.1M109 539.2h0.1M103.5 552.4h0.1M98.8 551.2h0.1M114 546.8h0.1M114.8 550.1h0.1M118.3 547.1h0.1M108.4 545.6h0.1M106.1 547.8h0.1M107.3 552.3h0.1M100.8 543.6h0.1M106.3 539.6h0.1M123.4 538.4h0.1M110.3 545.9h0.1M121.9 540.1h0.1M118.4 545.1h0.1M111.1 545.3h0.1M115.8 543.4h0.1M111.5 549.4h0.1M123 538.4h0.1M121.2 551.8h0.1M109.1 549.2h0.1M109.2 554.6h0.1M113.3 547.1h0.1M110.6 547.2h0.1M110.9 544.5h0.1M124.4 540.4h0.1M90.4 547.5h0.1M111.1 549.5h0.1M110.8 547.4h0.1M114 551.9h0.1" fill="none" stroke="#222" stroke-width="1.1" stroke-linecap="round"/>
<path d="M96.2 549.4h0.1M94.2 549.1h0.1M99.7 549.2h0.1M102.2 545.3h0.1M96.3 545.9h0.1M92.9 547.4h0.1M96.9 549.3h0.1M98 554.7h0.1M99.5 543.2h0.1M96.8 546.1h0.1M93.9 551.9h0.1M95.1 542.1h0.1M97.2 547.1h0.1M91.3 545.2h0.1" fill="none" stroke="#222" stroke-width="1.1" stroke-linecap="round"/>
<g transform="rotate(-5 176 546.8)" fill="none" stroke="#000" stroke-width="0.9"><path d="M186.4 546.8C186.2 548.3 185.9 549.7 184.8 551C183.7 552.2 181.8 553.8 179.7 554.3C177.7 554.8 174.5 554.7 172.3 554.2C170.1 553.7 167.8 552.5 166.5 551.3C165.2 550.1 164.4 548.2 164.5 546.8C164.7 545.4 166.1 543.9 167.4 542.7C168.8 541.6 170.5 540.5 172.6 539.9C174.6 539.2 177.7 538.5 179.9 538.9C182.1 539.3 184.7 540.8 185.8 542.2C186.8 543.5 186.5 545.3 186.4 546.8Z"/><path d="M184.8 546.9C184.7 548.2 184.4 549.5 183.4 550.6C182.4 551.7 180.7 553 178.9 553.4C177.1 553.9 174.4 553.8 172.4 553.3C170.5 552.9 168.5 551.9 167.4 550.8C166.2 549.7 165.5 548.1 165.6 546.9C165.7 545.6 166.9 544.3 168.1 543.3C169.3 542.3 170.8 541.4 172.6 540.8C174.4 540.3 177.1 539.7 179.1 540C181 540.4 183.2 541.7 184.2 542.9C185.1 544 184.9 545.6 184.8 546.9Z"/><path d="M183.2 547C183.1 548.1 182.8 549.2 181.9 550.1C181.1 551.1 179.6 552.2 178.1 552.6C176.5 552.9 174.2 552.9 172.5 552.5C170.9 552.1 169.2 551.2 168.2 550.3C167.2 549.4 166.6 548.1 166.7 547C166.8 545.9 167.8 544.8 168.8 543.9C169.8 543 171.1 542.2 172.7 541.8C174.3 541.3 176.5 540.9 178.2 541.2C179.8 541.5 181.7 542.6 182.5 543.5C183.4 544.5 183.3 545.9 183.2 547Z"/><path d="M181.5 547.1C181.5 548 181.2 548.9 180.5 549.7C179.8 550.5 178.5 551.4 177.2 551.7C175.9 552 174 551.9 172.6 551.6C171.3 551.3 169.9 550.6 169 549.9C168.2 549.1 167.7 548 167.8 547.1C167.8 546.2 168.6 545.2 169.5 544.5C170.3 543.8 171.4 543.1 172.8 542.7C174.1 542.4 176 542 177.3 542.3C178.7 542.5 180.2 543.4 180.9 544.2C181.6 545 181.6 546.2 181.5 547.1Z"/><path d="M179.9 547.2C179.8 547.9 179.6 548.7 179 549.3C178.4 549.9 177.4 550.6 176.4 550.8C175.3 551.1 173.8 551 172.7 550.8C171.7 550.6 170.5 550 169.9 549.4C169.2 548.8 168.8 547.9 168.8 547.2C168.9 546.5 169.5 545.7 170.2 545.1C170.8 544.5 171.8 544 172.8 543.7C173.9 543.4 175.4 543.2 176.5 543.4C177.5 543.6 178.8 544.3 179.3 544.9C179.9 545.5 179.9 546.4 179.9 547.2Z"/><path d="M178.2 547.3C178.2 547.8 178 548.4 177.5 548.9C177.1 549.3 176.3 549.8 175.6 550C174.8 550.2 173.7 550.2 172.8 550C172 549.8 171.2 549.4 170.7 548.9C170.2 548.5 169.9 547.8 169.9 547.3C170 546.7 170.4 546.1 170.9 545.7C171.4 545.3 172.1 544.9 172.9 544.7C173.7 544.5 174.8 544.3 175.6 544.4C176.4 544.6 177.3 545.1 177.8 545.6C178.2 546.1 178.2 546.7 178.2 547.3Z"/><path d="M176.5 547.4C176.5 547.7 176.3 548.1 176.1 548.4C175.8 548.7 175.2 549 174.7 549.2C174.2 549.3 173.5 549.3 172.9 549.2C172.4 549 171.8 548.8 171.5 548.5C171.2 548.2 171 547.7 171 547.4C171 547 171.3 546.6 171.6 546.3C172 546 172.5 545.8 173 545.6C173.5 545.5 174.2 545.4 174.8 545.5C175.3 545.6 175.9 545.9 176.2 546.3C176.5 546.6 176.5 547 176.5 547.4Z"/><path d="M174.8 547.5C174.8 547.6 174.7 547.8 174.6 548C174.4 548.1 174.2 548.3 173.9 548.3C173.7 548.4 173.3 548.4 173 548.3C172.8 548.3 172.5 548.1 172.3 548C172.2 547.8 172.1 547.6 172.1 547.5C172.1 547.3 172.2 547.1 172.4 547C172.6 546.8 172.8 546.7 173 546.6C173.3 546.6 173.7 546.5 173.9 546.6C174.2 546.6 174.5 546.8 174.6 546.9C174.8 547.1 174.8 547.3 174.8 547.5Z"/></g>
<g transform="rotate(-38 210.5 545.5)" fill="none" stroke="#000" stroke-width="0.9"><path d="M220.7 545.5C220.8 547 221.1 548.7 220.1 550C219 551.3 216.6 552.8 214.4 553.3C212.2 553.7 209.1 553.2 207 552.6C204.8 552 202.8 550.9 201.5 549.8C200.2 548.6 199.3 546.9 199.3 545.5C199.3 544.1 200.3 542.5 201.5 541.3C202.8 540 204.6 538.6 206.8 538C208.9 537.5 212.3 537.2 214.4 537.7C216.5 538.3 218.3 540 219.4 541.3C220.4 542.6 220.6 544 220.7 545.5Z"/><path d="M219.3 545.6C219.4 546.9 219.7 548.5 218.7 549.6C217.7 550.8 215.6 552.1 213.6 552.5C211.7 552.8 208.9 552.4 207 551.9C205.1 551.4 203.3 550.4 202.2 549.4C201 548.3 200.2 546.8 200.2 545.6C200.2 544.3 201.1 542.9 202.2 541.8C203.3 540.7 205 539.5 206.9 539C208.8 538.5 211.7 538.2 213.6 538.7C215.5 539.2 217.2 540.7 218.1 541.8C219.1 543 219.2 544.3 219.3 545.6Z"/><path d="M218 545.7C218 546.8 218.2 548.2 217.3 549.2C216.5 550.2 214.6 551.3 212.9 551.7C211.2 552 208.8 551.7 207.1 551.2C205.4 550.8 203.8 549.9 202.8 549C201.8 548.1 201.1 546.8 201.1 545.7C201.1 544.6 201.9 543.3 202.8 542.3C203.8 541.4 205.3 540.3 207 539.9C208.7 539.4 211.2 539.2 212.9 539.7C214.5 540.1 216 541.4 216.8 542.4C217.7 543.4 217.9 544.5 218 545.7Z"/><path d="M216.6 545.7C216.6 546.7 216.7 547.9 215.9 548.8C215.2 549.6 213.6 550.6 212.1 550.9C210.6 551.2 208.6 550.9 207.2 550.5C205.7 550.1 204.3 549.4 203.5 548.6C202.6 547.8 202 546.7 202 545.7C202 544.8 202.7 543.7 203.5 542.9C204.3 542.1 205.7 541.2 207.1 540.8C208.5 540.4 210.7 540.3 212.1 540.6C213.5 541 214.8 542 215.6 542.9C216.3 543.8 216.5 544.8 216.6 545.7Z"/><path d="M215.1 545.8C215.2 546.6 215.2 547.6 214.6 548.4C213.9 549.1 212.6 549.8 211.4 550.1C210.1 550.3 208.4 550.1 207.2 549.8C206 549.5 204.9 548.9 204.2 548.2C203.4 547.6 202.9 546.6 202.9 545.8C202.9 545 203.5 544.1 204.2 543.4C204.9 542.7 206 542 207.2 541.7C208.4 541.4 210.2 541.3 211.4 541.6C212.5 541.9 213.6 542.7 214.3 543.4C214.9 544.2 215.1 545 215.1 545.8Z"/><path d="M213.7 545.9C213.7 546.6 213.7 547.4 213.2 547.9C212.7 548.5 211.6 549.1 210.6 549.3C209.6 549.5 208.3 549.4 207.3 549.1C206.4 548.9 205.4 548.4 204.8 547.9C204.2 547.3 203.8 546.6 203.8 545.9C203.8 545.3 204.3 544.5 204.8 544C205.4 543.4 206.3 542.9 207.3 542.6C208.2 542.4 209.7 542.3 210.6 542.5C211.6 542.7 212.5 543.4 213 544C213.5 544.6 213.7 545.3 213.7 545.9Z"/><path d="M212.2 546C212.3 546.5 212.2 547.1 211.8 547.5C211.4 547.9 210.6 548.4 209.9 548.6C209.1 548.7 208.1 548.6 207.4 548.4C206.7 548.2 205.9 547.9 205.5 547.5C205.1 547.1 204.8 546.5 204.8 546C204.8 545.5 205.1 544.9 205.5 544.5C205.9 544.1 206.6 543.7 207.4 543.5C208.1 543.3 209.2 543.3 209.9 543.4C210.6 543.6 211.3 544.1 211.7 544.5C212.1 545 212.2 545.5 212.2 546Z"/><path d="M210.8 546.1C210.8 546.4 210.7 546.8 210.5 547.1C210.2 547.4 209.6 547.7 209.1 547.8C208.6 547.9 208 547.8 207.5 547.7C207 547.6 206.5 547.3 206.2 547.1C205.9 546.8 205.7 546.4 205.7 546.1C205.7 545.7 205.9 545.4 206.2 545.1C206.5 544.8 207 544.5 207.4 544.4C207.9 544.3 208.7 544.2 209.1 544.4C209.6 544.5 210.1 544.8 210.4 545.1C210.6 545.4 210.8 545.7 210.8 546.1Z"/><path d="M209.3 546.2C209.3 546.3 209.2 546.5 209.1 546.7C209 546.8 208.7 547 208.4 547.1C208.2 547.1 207.8 547.1 207.5 547C207.3 547 207 546.8 206.9 546.7C206.7 546.5 206.6 546.3 206.6 546.2C206.6 546 206.7 545.8 206.9 545.6C207 545.5 207.3 545.3 207.5 545.3C207.8 545.2 208.2 545.2 208.4 545.3C208.7 545.3 208.9 545.5 209.1 545.6C209.2 545.8 209.3 546 209.3 546.2Z"/></g>
<path d="M190.7 550h0.1M190.9 546.7h0.1M187.3 547.1h0.1M197.6 549.7h0.1M197.2 549h0.1M194 548.7h0.1M183.7 551.4h0.1M194.5 550h0.1M183.5 541h0.1M187.6 546.1h0.1M193.5 547.8h0.1M194.6 545.4h0.1M193.5 549.6h0.1M188.7 554.9h0.1M194.8 552.8h0.1M188.9 545h0.1M190.3 547.6h0.1M195.2 549h0.1M189.8 544.2h0.1M189.4 552.9h0.1M188 549h0.1M194.1 542h0.1M192.2 553.2h0.1M181.9 546.7h0.1M191.5 544.7h0.1M194.5 547.8h0.1M184.7 551.3h0.1M195.3 551.8h0.1M199.2 549.4h0.1M192.6 542.8h0.1M195.1 545.6h0.1M189.7 542.9h0.1M187.2 545.9h0.1M198.4 539.9h0.1M184.7 549h0.1" fill="none" stroke="#222" stroke-width="1.1" stroke-linecap="round"/>
<path d="M208.4 560.7h0.1M214.9 553.6h0.1M210.8 549.9h0.1M211.2 548h0.1M198.7 543.7h0.1M194.9 549.7h0.1M211 556.8h0.1M210.6 549.9h0.1M212 548.5h0.1M188.8 553.9h0.1M201.8 549.7h0.1M203.5 563.4h0.1M216.6 550.7h0.1M195.5 553.1h0.1M197.7 554.5h0.1M192 548.1h0.1M214.7 544.2h0.1M207.1 549.4h0.1M214.8 546.1h0.1M212.5 559.3h0.1M192.2 544.2h0.1M210.4 545.2h0.1M193.5 556h0.1M215.1 554.4h0.1M216.3 552.4h0.1" fill="none" stroke="#222" stroke-width="1.1" stroke-linecap="round"/>
<g transform="rotate(-8 110.5 622.4)" fill="none" stroke="#000" stroke-width="0.9"><path d="M132.4 622.4C131.7 624.5 127.5 626.4 124.8 628C122.1 629.6 119.8 631 116.3 632C112.8 633 107.4 634.4 103.5 633.9C99.6 633.5 95 631.2 92.8 629.3C90.6 627.4 90.2 624.6 90.5 622.4C90.7 620.2 92 617.7 94.3 616.1C96.7 614.5 100.8 613.2 104.6 612.6C108.3 611.9 112.6 611.8 116.7 612.2C120.8 612.6 126.5 613.4 129.1 615.1C131.8 616.8 133.1 620.3 132.4 622.4Z"/><path d="M129.4 622.5C128.8 624.4 125.2 626.1 122.8 627.5C120.5 629 118.3 630.3 115.2 631.1C112 632 107.3 633.1 103.8 632.7C100.3 632.3 96.2 630.4 94.2 628.7C92.3 627 91.8 624.5 92.1 622.5C92.3 620.6 93.4 618.3 95.5 616.9C97.6 615.4 101.3 614.3 104.6 613.7C108 613.1 111.8 613 115.5 613.4C119.1 613.8 124.1 614.6 126.5 616.1C128.8 617.6 130 620.6 129.4 622.5Z"/><path d="M126.4 622.6C125.9 624.3 122.9 625.8 120.8 627.1C118.8 628.4 116.8 629.5 114 630.3C111.2 631 107.1 631.9 104 631.6C100.9 631.2 97.3 629.5 95.6 628C93.9 626.5 93.5 624.4 93.6 622.6C93.8 620.9 94.8 619 96.7 617.7C98.5 616.4 101.8 615.4 104.7 614.9C107.6 614.4 111.1 614.3 114.3 614.6C117.4 615 121.8 615.7 123.8 617C125.9 618.3 126.9 621 126.4 622.6Z"/><path d="M123.5 622.8C123.1 624.2 120.6 625.5 118.8 626.6C117.1 627.7 115.3 628.7 112.8 629.4C110.4 630 106.8 630.7 104.2 630.4C101.6 630.1 98.5 628.6 97 627.4C95.5 626.1 95.1 624.2 95.2 622.8C95.4 621.3 96.2 619.6 97.8 618.5C99.4 617.3 102.2 616.5 104.8 616C107.3 615.6 110.3 615.5 113 615.8C115.8 616.1 119.5 616.8 121.2 617.9C122.9 619.1 123.9 621.3 123.5 622.8Z"/><path d="M120.6 622.9C120.3 624.1 118.3 625.2 116.8 626.2C115.3 627.1 113.7 627.9 111.7 628.5C109.6 629 106.6 629.6 104.4 629.3C102.2 629 99.6 627.8 98.4 626.7C97.1 625.7 96.7 624.1 96.8 622.9C96.9 621.6 97.7 620.2 99 619.3C100.4 618.3 102.7 617.6 104.9 617.2C107 616.8 109.5 616.7 111.8 617C114.1 617.3 117.2 617.9 118.6 618.8C120.1 619.8 120.9 621.7 120.6 622.9Z"/><path d="M117.7 623C117.4 624 115.9 624.9 114.7 625.7C113.5 626.5 112.2 627.1 110.5 627.6C108.8 628 106.4 628.4 104.6 628.2C102.8 627.9 100.8 627 99.7 626.1C98.7 625.3 98.3 624 98.4 623C98.5 622 99.1 620.8 100.2 620.1C101.3 619.3 103.2 618.7 104.9 618.4C106.7 618.1 108.8 618 110.6 618.2C112.5 618.5 114.9 619 116.1 619.7C117.2 620.5 117.9 622 117.7 623Z"/><path d="M114.8 623.1C114.6 623.9 113.5 624.6 112.6 625.2C111.7 625.8 110.6 626.3 109.3 626.6C108 626.9 106.2 627.2 104.8 627.1C103.4 626.9 101.9 626.2 101.1 625.5C100.3 624.8 100 623.9 100 623.1C100.1 622.3 100.6 621.4 101.4 620.8C102.2 620.3 103.7 619.8 105 619.5C106.4 619.3 108 619.3 109.4 619.5C110.8 619.6 112.6 620 113.5 620.6C114.4 621.2 114.9 622.3 114.8 623.1Z"/><path d="M111.9 623.2C111.8 623.8 111.1 624.3 110.4 624.7C109.8 625.1 109 625.5 108.1 625.7C107.2 625.9 105.9 626.1 105 626C104 625.8 102.9 625.3 102.4 624.9C101.8 624.4 101.6 623.8 101.6 623.2C101.7 622.7 102 622.1 102.6 621.6C103.2 621.2 104.2 620.9 105.1 620.7C106.1 620.6 107.2 620.5 108.2 620.7C109.2 620.8 110.4 621.1 111 621.5C111.6 621.9 112 622.7 111.9 623.2Z"/><path d="M109.1 623.3C109 623.6 108.6 624 108.3 624.2C107.9 624.4 107.5 624.6 106.9 624.8C106.4 624.9 105.7 625 105.2 624.9C104.6 624.8 104 624.5 103.7 624.3C103.4 624 103.2 623.7 103.3 623.3C103.3 623 103.5 622.7 103.8 622.5C104.1 622.2 104.7 622 105.2 621.9C105.8 621.8 106.4 621.8 107 621.9C107.5 622 108.2 622.1 108.6 622.4C108.9 622.6 109.1 623 109.1 623.3Z"/></g>
<path d="M94.6 626.8h0.1M99.6 627.8h0.1M118.1 618h0.1M103.3 626.6h0.1M95.6 629.2h0.1M108 647.3h0.1M112.2 630h0.1M120.1 622.7h0.1M99.6 633.9h0.1M101 623.1h0.1M99.9 620.5h0.1M124 638.9h0.1M144.7 628h0.1M104.8 628.6h0.1M115.5 630.1h0.1M119.1 627.8h0.1M88 641.2h0.1M101 638.1h0.1M103.3 631h0.1M84.7 623.2h0.1M113.5 634.2h0.1M104.7 631h0.1" fill="none" stroke="#222" stroke-width="1.1" stroke-linecap="round"/>
<path d="M73.9 653.8h0.1M85 644.9h0.1M73.4 649.3h0.1M82.4 661h0.1M73.9 637.1h0.1M83.5 654.7h0.1" fill="none" stroke="#222" stroke-width="1.1" stroke-linecap="round"/>
<g transform="rotate(0 77.8 665.2)" fill="none" stroke="#000" stroke-width="0.9"><path d="M82 665.2C81.9 666 81.6 666.9 81.1 667.6C80.6 668.3 79.9 668.9 79.1 669.2C78.3 669.5 77.3 669.5 76.5 669.2C75.7 669 74.9 668.4 74.4 667.7C73.9 667 73.5 666 73.5 665.2C73.5 664.4 74 663.4 74.5 662.8C75 662.1 75.8 661.6 76.6 661.4C77.3 661.1 78.3 660.9 79.1 661.1C79.9 661.3 80.9 661.9 81.4 662.6C81.8 663.3 82 664.4 82 665.2Z"/><path d="M80.1 665.3C80.1 665.9 79.9 666.5 79.6 666.9C79.3 667.3 78.8 667.8 78.3 667.9C77.8 668.1 77.1 668.1 76.6 668C76.1 667.8 75.5 667.4 75.2 667C74.9 666.5 74.6 665.9 74.7 665.3C74.7 664.8 74.9 664.2 75.3 663.8C75.6 663.4 76.1 663 76.6 662.8C77.1 662.7 77.8 662.6 78.3 662.7C78.8 662.9 79.4 663.2 79.7 663.7C80 664.1 80.2 664.8 80.1 665.3Z"/><path d="M78.3 665.5C78.3 665.7 78.2 666 78.1 666.2C77.9 666.4 77.7 666.6 77.5 666.7C77.2 666.8 76.9 666.8 76.7 666.7C76.4 666.6 76.2 666.4 76 666.2C75.9 666 75.8 665.7 75.8 665.5C75.8 665.2 75.9 665 76.1 664.8C76.2 664.6 76.5 664.4 76.7 664.3C76.9 664.2 77.2 664.2 77.5 664.3C77.7 664.3 78 664.5 78.1 664.7C78.3 664.9 78.3 665.2 78.3 665.5Z"/></g>
<g transform="rotate(-5 201.5 623.5)" fill="none" stroke="#000" stroke-width="0.9"><path d="M221.2 623.5C221 626 219.5 628.8 217.1 630.7C214.8 632.5 210.8 634.2 207.3 634.7C203.8 635.2 199.7 634.5 196.2 633.8C192.7 633.1 189 632.2 186.2 630.5C183.5 628.8 179.8 625.9 179.7 623.5C179.7 621.1 182.9 617.9 185.7 616.2C188.5 614.6 192.8 614.2 196.4 613.6C200 613 203.5 612.1 207.1 612.5C210.7 612.9 215.6 614.1 218 615.9C220.3 617.8 221.3 621 221.2 623.5Z"/><path d="M218.5 623.6C218.4 625.8 217 628.4 214.9 630C212.9 631.7 209.3 633.2 206.1 633.7C203 634.1 199.4 633.5 196.2 632.9C193.1 632.2 189.8 631.4 187.4 629.9C184.9 628.3 181.8 625.7 181.7 623.6C181.7 621.5 184.5 618.6 186.9 617.2C189.3 615.7 193.2 615.3 196.4 614.7C199.6 614.2 202.8 613.5 206 613.8C209.2 614.2 213.6 615.3 215.6 616.9C217.7 618.5 218.6 621.4 218.5 623.6Z"/><path d="M215.8 623.8C215.7 625.7 214.5 627.9 212.7 629.4C210.9 630.8 207.8 632.2 205 632.6C202.3 633 199 632.5 196.3 631.9C193.5 631.4 190.6 630.6 188.5 629.3C186.4 627.9 183.7 625.6 183.7 623.8C183.6 621.9 186 619.4 188.1 618.1C190.2 616.8 193.6 616.3 196.4 615.8C199.2 615.4 202.1 614.8 204.9 615.1C207.7 615.4 211.5 616.4 213.3 617.9C215.1 619.3 215.9 621.8 215.8 623.8Z"/><path d="M213.2 623.9C213.1 625.5 212.1 627.5 210.5 628.7C209 630 206.3 631.1 203.9 631.5C201.5 631.9 198.7 631.5 196.3 631C193.9 630.5 191.4 629.8 189.6 628.6C187.8 627.5 185.6 625.5 185.6 623.9C185.5 622.3 187.5 620.1 189.3 619C191.1 617.8 194 617.4 196.4 617C198.8 616.6 201.4 616.1 203.8 616.4C206.2 616.7 209.4 617.6 211 618.8C212.6 620.1 213.3 622.2 213.2 623.9Z"/><path d="M210.6 624C210.5 625.4 209.6 627 208.3 628.1C207 629.2 204.8 630.1 202.8 630.4C200.8 630.8 198.4 630.4 196.4 630C194.4 629.6 192.2 629 190.7 628C189.3 627 187.5 625.4 187.5 624C187.4 622.7 189 620.9 190.5 619.9C192 618.9 194.4 618.5 196.4 618.2C198.5 617.8 200.7 617.4 202.7 617.7C204.7 618 207.4 618.7 208.7 619.8C210 620.8 210.6 622.6 210.6 624Z"/><path d="M207.9 624.1C207.9 625.3 207.2 626.6 206.1 627.4C205.1 628.3 203.3 629.1 201.6 629.4C200 629.6 198 629.4 196.4 629.1C194.8 628.7 193.1 628.2 191.9 627.4C190.7 626.6 189.3 625.2 189.3 624.1C189.3 623 190.5 621.6 191.7 620.8C192.9 620 194.8 619.6 196.5 619.3C198.1 619 199.9 618.8 201.6 619C203.2 619.2 205.3 619.9 206.4 620.7C207.5 621.6 208 623 207.9 624.1Z"/><path d="M205.3 624.3C205.3 625.1 204.8 626.1 204 626.8C203.1 627.5 201.7 628.1 200.5 628.3C199.3 628.5 197.7 628.3 196.5 628.1C195.2 627.8 193.9 627.4 193 626.8C192.1 626.1 191.1 625.1 191.1 624.3C191.1 623.4 192 622.3 192.9 621.7C193.8 621.1 195.3 620.8 196.5 620.6C197.8 620.3 199.2 620.1 200.5 620.3C201.7 620.5 203.3 621 204.1 621.7C204.9 622.3 205.4 623.4 205.3 624.3Z"/><path d="M202.7 624.4C202.7 625 202.3 625.7 201.8 626.2C201.2 626.6 200.2 627.1 199.4 627.2C198.5 627.4 197.4 627.2 196.6 627.1C195.7 626.9 194.8 626.6 194.1 626.1C193.5 625.7 192.9 625 192.8 624.4C192.8 623.8 193.4 623.1 194.1 622.6C194.7 622.2 195.7 622 196.6 621.8C197.5 621.6 198.5 621.5 199.3 621.6C200.2 621.8 201.3 622.1 201.9 622.6C202.4 623 202.7 623.8 202.7 624.4Z"/><path d="M200.1 624.5C200.1 624.9 199.9 625.3 199.6 625.5C199.3 625.8 198.7 626 198.2 626.1C197.7 626.2 197.1 626.2 196.6 626.1C196.1 626 195.6 625.8 195.3 625.5C194.9 625.3 194.6 624.9 194.6 624.5C194.6 624.2 194.9 623.8 195.2 623.5C195.6 623.3 196.1 623.1 196.6 623C197.1 622.9 197.7 622.9 198.2 623C198.7 623 199.3 623.2 199.6 623.5C200 623.8 200.1 624.2 200.1 624.5Z"/></g>
<path d="M222.1 638.8h0.1M185.8 618.4h0.1M203.6 637.3h0.1M202.9 621.8h0.1M198.1 642h0.1M185.7 639.3h0.1M212.3 635.4h0.1M215.7 628.2h0.1M203.3 644.6h0.1M199.6 629.1h0.1M185.4 628.7h0.1M215.4 640.7h0.1M214.1 636.4h0.1M213.2 634.4h0.1M219.1 631h0.1M220 631.5h0.1M182.8 623.1h0.1M202.4 628.9h0.1M188.2 626.7h0.1M207.6 634.8h0.1" fill="none" stroke="#222" stroke-width="1.1" stroke-linecap="round"/>
<path d="M175.7 644.7h0.1M174.7 639.2h0.1M175.9 644.8h0.1M180.5 634.6h0.1M188 612.6h0.1M175.3 654.1h0.1" fill="none" stroke="#222" stroke-width="1.1" stroke-linecap="round"/>
<line x1="117.4" y1="562.4" x2="117.4" y2="601" stroke="#333" stroke-width="0.9"/>
<path d="M117.4 604L115.1 599L117.4 600.5L119.7 599Z" fill="#333"/>
<line x1="210.5" y1="562.4" x2="210.5" y2="601" stroke="#333" stroke-width="0.9"/>
<path d="M210.5 604L208.2 599L210.5 600.5L212.8 599Z" fill="#333"/>
<text font-size="10.4" fill="#111" transform="translate(96.8 526.7) scale(1 1.08)" textLength="39.6" lengthAdjust="spacingAndGlyphs">17.973%</text>
<text font-size="10.4" fill="#111" transform="translate(188.8 526.7) scale(1 1.08)" textLength="40.5" lengthAdjust="spacingAndGlyphs">54.062%</text>
<text font-size="10.4" fill="#111" transform="translate(82.5 655.6) scale(1 1.08)" textLength="58" lengthAdjust="spacingAndGlyphs">T<tspan font-size="5.5" dy="2.5">RM</tspan><tspan dy="-2.5"> 91.475%</tspan></text>
<text font-size="10.4" fill="#111" transform="translate(175.6 655.6) scale(1 1.08)" textLength="58" lengthAdjust="spacingAndGlyphs">T<tspan font-size="5.5" dy="2.5">RM</tspan><tspan dy="-2.5"> 94.650%</tspan></text>
<text font-size="10.7" fill="#111" transform="translate(53.2 591.2) rotate(-90) scale(1 1.08)">CD3</text>
<line x1="49.7" y1="567.8" x2="49.7" y2="509.5" stroke="#333" stroke-width="0.8"/>
<path d="M49.7 506.5L47.5 511.5L49.7 510L51.9 511.5Z" fill="#333"/>
<text font-size="10.6" fill="#111" transform="translate(60 599.9) scale(1 1.08)">CD8</text>
<line x1="82" y1="597.1" x2="230.6" y2="597.1" stroke="#333" stroke-width="0.8"/>
<path d="M233.6 597.1L228.6 594.9L230.1 597.1L228.6 599.3Z" fill="#333"/>
<text font-size="10.7" fill="#111" transform="translate(53.2 688) rotate(-90) scale(1 1.08)">CD69</text>
<line x1="49.7" y1="658.8" x2="49.7" y2="609" stroke="#333" stroke-width="0.8"/>
<path d="M49.7 606L47.5 611L49.7 609.5L51.9 611Z" fill="#333"/>
<text font-size="10.6" fill="#111" transform="translate(47.6 699.5) scale(1 1.08)">CD103</text>
<line x1="82" y1="696.3" x2="230.6" y2="696.3" stroke="#333" stroke-width="0.8"/>
<path d="M233.6 696.3L228.6 694.1L230.1 696.3L228.6 698.5Z" fill="#333"/>
<path d="M323 587.7L322.6 589.2L322.3 590.8L322 592.3L321.9 593.9L321.8 595.4L321.7 597L321.7 598.6L321.7 600.1L321.8 601.7L321.8 603.2L321.8 604.8L321.8 606.3L321.5 607.9L321.1 609.5L320.5 611L319.6 612.6L318.6 614.1L317.5 615.7L316.4 617.2L315.5 618.8L314.8 620.4L314.4 621.9L314.2 623.5L314.3 625L314.7 626.6L315.1 628.2L315.5 629.7L315.9 631.3L316 632.8L315.9 634.4L315.5 635.9L315.1 637.5L314.7 639.1L314.5 640.6L314.6 642.2L315.1 643.7L316 645.3L317.1 646.8L318.5 648.4L332.9 648.4L334.3 646.8L335.4 645.3L336.3 643.7L336.8 642.2L336.9 640.6L336.7 639.1L336.3 637.5L335.9 635.9L335.5 634.4L335.4 632.8L335.5 631.3L335.9 629.7L336.3 628.2L336.7 626.6L337.1 625L337.2 623.5L337 621.9L336.6 620.4L335.9 618.8L335 617.2L333.9 615.7L332.8 614.1L331.8 612.6L330.9 611L330.3 609.5L329.9 607.9L329.6 606.3L329.6 604.8L329.6 603.2L329.6 601.7L329.7 600.1L329.7 598.6L329.7 597L329.6 595.4L329.5 593.9L329.4 592.3L329.1 590.8L328.8 589.2L328.4 587.7Z" fill="#d2d2d2" stroke="#000" stroke-width="1"/>
<path d="M358.4 537.7L357.9 540.4L357.6 543L357.5 545.7L357.6 548.3L357.8 551L358 553.7L358.1 556.3L358.1 559L357.8 561.6L357.4 564.3L356.7 566.9L355.9 569.6L355.1 572.2L354.2 574.9L353.4 577.5L352.8 580.2L352.5 582.8L352.4 585.5L352.5 588.2L352.9 590.8L353.3 593.5L353.9 596.1L354.5 598.8L355.2 601.4L355.9 604.1L356.6 606.7L357.4 609.4L358 612L358.4 614.7L358.5 617.3L358.3 620L357.9 622.7L357.2 625.3L356.4 628L355.8 630.6L355.5 633.3L355.6 635.9L356 638.6L356.8 641.2L371 641.2L371.8 638.6L372.2 635.9L372.3 633.3L372 630.6L371.4 628L370.6 625.3L369.9 622.7L369.5 620L369.3 617.3L369.4 614.7L369.8 612L370.4 609.4L371.2 606.7L371.9 604.1L372.6 601.4L373.3 598.8L373.9 596.1L374.5 593.5L374.9 590.8L375.3 588.2L375.4 585.5L375.3 582.8L375 580.2L374.4 577.5L373.6 574.9L372.7 572.2L371.9 569.6L371.1 566.9L370.4 564.3L370 561.6L369.7 559L369.7 556.3L369.8 553.7L370 551L370.2 548.3L370.3 545.7L370.2 543L369.9 540.4L369.4 537.7Z" fill="#7ba7d7" stroke="#4a86c5" stroke-width="1"/>
<line x1="316.7" y1="624.5" x2="334.7" y2="624.5" stroke="#000" stroke-width="0.8" stroke-dasharray="2.5 1.5"/>
<line x1="319.2" y1="640" x2="332.2" y2="640" stroke="#000" stroke-width="0.8" stroke-dasharray="2.5 1.5"/>
<line x1="356.9" y1="565.4" x2="370.9" y2="565.4" stroke="#3b78bb" stroke-width="0.9" stroke-dasharray="3 1.5"/>
<line x1="353.4" y1="587.2" x2="374.4" y2="587.2" stroke="#3b78bb" stroke-width="0.9" stroke-dasharray="3 1.5"/>
<line x1="356.9" y1="626.5" x2="370.9" y2="626.5" stroke="#3b78bb" stroke-width="0.9" stroke-dasharray="3 1.5"/>
<circle cx="325.7" cy="591.2" r="3.2" fill="#fff" stroke="#000" stroke-width="1.3"/>
<circle cx="325.7" cy="602.3" r="3.2" fill="#fff" stroke="#000" stroke-width="1.3"/>
<circle cx="329" cy="616.3" r="3.2" fill="#fff" stroke="#000" stroke-width="1.3"/>
<circle cx="322.5" cy="619.1" r="3.2" fill="#fff" stroke="#000" stroke-width="1.3"/>
<circle cx="329" cy="624.5" r="3.2" fill="#fff" stroke="#000" stroke-width="1.3"/>
<circle cx="335.6" cy="624.5" r="3.2" fill="#fff" stroke="#000" stroke-width="1.3"/>
<circle cx="322.5" cy="629.7" r="3.2" fill="#fff" stroke="#000" stroke-width="1.3"/>
<circle cx="316.4" cy="639" r="3.2" fill="#fff" stroke="#000" stroke-width="1.3"/>
<circle cx="335.6" cy="640.9" r="3.2" fill="#fff" stroke="#000" stroke-width="1.3"/>
<circle cx="329" cy="643.1" r="3.2" fill="#fff" stroke="#000" stroke-width="1.3"/>
<circle cx="316.9" cy="646.1" r="3.2" fill="#fff" stroke="#000" stroke-width="1.3"/>
<circle cx="359.8" cy="541.2" r="3.2" fill="#fff" stroke="#4a86c5" stroke-width="1.3"/>
<circle cx="368.5" cy="542.5" r="3.2" fill="#fff" stroke="#4a86c5" stroke-width="1.3"/>
<circle cx="363.9" cy="561.3" r="3.2" fill="#fff" stroke="#4a86c5" stroke-width="1.3"/>
<circle cx="354.9" cy="577.6" r="3.2" fill="#fff" stroke="#4a86c5" stroke-width="1.3"/>
<circle cx="364.3" cy="579.4" r="3.2" fill="#fff" stroke="#4a86c5" stroke-width="1.3"/>
<circle cx="354.9" cy="584.6" r="3.2" fill="#fff" stroke="#4a86c5" stroke-width="1.3"/>
<circle cx="363.9" cy="591.2" r="3.2" fill="#fff" stroke="#4a86c5" stroke-width="1.3"/>
<circle cx="354.9" cy="601.4" r="3.2" fill="#fff" stroke="#4a86c5" stroke-width="1.3"/>
<circle cx="363.9" cy="606.8" r="3.2" fill="#fff" stroke="#4a86c5" stroke-width="1.3"/>
<circle cx="354.9" cy="637.7" r="3.2" fill="#fff" stroke="#4a86c5" stroke-width="1.3"/>
<circle cx="363.9" cy="633.4" r="3.2" fill="#fff" stroke="#4a86c5" stroke-width="1.3"/>
<circle cx="373.2" cy="633.4" r="3.2" fill="#fff" stroke="#4a86c5" stroke-width="1.3"/>
<line x1="301.5" y1="514.6" x2="301.5" y2="648.9" stroke="#000" stroke-width="1.3"/>
<line x1="295.5" y1="648.9" x2="390.5" y2="648.9" stroke="#000" stroke-width="1.3"/>
<line x1="295.5" y1="648.9" x2="301.5" y2="648.9" stroke="#000" stroke-width="1.3"/>
<text font-size="12.8" fill="#111" text-anchor="end" transform="translate(293 653.4) scale(1 1.08)">0</text>
<line x1="295.5" y1="615.5" x2="301.5" y2="615.5" stroke="#000" stroke-width="1.3"/>
<text font-size="12.8" fill="#111" text-anchor="end" transform="translate(293 620) scale(1 1.08)">2</text>
<line x1="295.5" y1="582" x2="301.5" y2="582" stroke="#000" stroke-width="1.3"/>
<text font-size="12.8" fill="#111" text-anchor="end" transform="translate(293 586.5) scale(1 1.08)">4</text>
<line x1="295.5" y1="548.5" x2="301.5" y2="548.5" stroke="#000" stroke-width="1.3"/>
<text font-size="12.8" fill="#111" text-anchor="end" transform="translate(293 553) scale(1 1.08)">6</text>
<line x1="295.5" y1="515.1" x2="301.5" y2="515.1" stroke="#000" stroke-width="1.3"/>
<text font-size="12.8" fill="#111" text-anchor="end" transform="translate(293 519.6) scale(1 1.08)">8</text>
<line x1="325.7" y1="648.9" x2="325.7" y2="654.3" stroke="#000" stroke-width="1.3"/>
<line x1="363.9" y1="648.9" x2="363.9" y2="654.3" stroke="#000" stroke-width="1.3"/>
<text font-size="12.8" fill="#111" textLength="33.4" lengthAdjust="spacing" transform="translate(303.3 669.8) scale(1 1.08)">CTRL</text>
<text font-size="12.8" fill="#111" textLength="71.7" lengthAdjust="spacing" transform="translate(343.4 669.8) scale(1 1.08)">Gi-DREADD</text>
<line x1="325.3" y1="514.2" x2="364.3" y2="514.2" stroke="#000" stroke-width="1.2"/>
<text font-size="15" text-anchor="middle" letter-spacing="0.6" transform="translate(344.8 513.5) scale(1 1.08)">**</text>
<text font-size="12.8" fill="#111" text-anchor="middle" transform="translate(263.3 585) rotate(-90) scale(1 1.08)">No. of CD8<tspan font-size="7.5" dy="-4.5">+</tspan><tspan dy="4.5"> T cells</tspan></text>
<text font-size="12.8" fill="#111" text-anchor="middle" transform="translate(278.2 585) rotate(-90) scale(1 1.08)">per gram skin (×10<tspan font-size="7.5" dy="-4.5">3</tspan><tspan dy="4.5">)</tspan></text>
<path d="M500.4 593.2L500 594.7L499.6 596.1L499.3 597.5L499.1 598.9L499 600.3L499 601.7L499 603.1L499.1 604.6L499.3 606L499.5 607.4L499.7 608.8L499.8 610.2L499.8 611.6L499.6 613L499.3 614.5L498.7 615.9L498 617.3L497.1 618.7L496.1 620.1L495.1 621.5L494.1 622.9L493.4 624.4L492.8 625.8L492.4 627.2L492.2 628.6L492.1 630L492.1 631.4L492.1 632.8L492.1 634.3L492 635.7L491.8 637.1L491.6 638.5L491.4 639.9L491.4 641.3L491.5 642.7L491.9 644.2L492.6 645.6L493.5 647L494.6 648.4L511.2 648.4L512.3 647L513.2 645.6L513.9 644.2L514.3 642.7L514.4 641.3L514.4 639.9L514.2 638.5L514 637.1L513.8 635.7L513.7 634.3L513.7 632.8L513.7 631.4L513.7 630L513.6 628.6L513.4 627.2L513 625.8L512.4 624.4L511.7 622.9L510.7 621.5L509.7 620.1L508.7 618.7L507.8 617.3L507.1 615.9L506.5 614.5L506.2 613L506 611.6L506 610.2L506.1 608.8L506.3 607.4L506.5 606L506.7 604.6L506.8 603.1L506.8 601.7L506.8 600.3L506.7 598.9L506.5 597.5L506.2 596.1L505.8 594.7L505.4 593.2Z" fill="#d2d2d2" stroke="#000" stroke-width="1"/>
<path d="M537.8 542.9L537.3 545.5L537 548.1L536.7 550.6L536.6 553.2L536.6 555.7L536.6 558.3L536.7 560.8L536.8 563.4L536.8 565.9L536.8 568.5L536.5 571L536 573.6L535.3 576.1L534.5 578.7L533.5 581.2L532.5 583.8L531.6 586.4L530.8 588.9L530.2 591.5L529.9 594L529.7 596.6L529.6 599.1L529.6 601.7L529.8 604.2L529.9 606.8L530.2 609.3L530.5 611.9L530.9 614.4L531.3 617L531.7 619.5L532 622.1L532.2 624.7L532.2 627.2L532.2 629.8L532 632.3L532 634.9L532.2 637.4L532.7 640L533.4 642.5L548.8 642.5L549.5 640L550 637.4L550.2 634.9L550.2 632.3L550 629.8L550 627.2L550 624.7L550.2 622.1L550.5 619.5L550.9 617L551.3 614.4L551.7 611.9L552 609.3L552.3 606.8L552.4 604.2L552.6 601.7L552.6 599.1L552.5 596.6L552.3 594L552 591.5L551.4 588.9L550.6 586.4L549.7 583.8L548.7 581.2L547.7 578.7L546.9 576.1L546.2 573.6L545.7 571L545.4 568.5L545.4 565.9L545.4 563.4L545.5 560.8L545.6 558.3L545.6 555.7L545.6 553.2L545.5 550.6L545.2 548.1L544.9 545.5L544.4 542.9Z" fill="#7ba7d7" stroke="#4a86c5" stroke-width="1"/>
<line x1="495.9" y1="622.6" x2="509.9" y2="622.6" stroke="#000" stroke-width="0.8" stroke-dasharray="2.5 1.5"/>
<line x1="493.4" y1="630.1" x2="512.4" y2="630.1" stroke="#000" stroke-width="0.8" stroke-dasharray="2.5 1.5"/>
<line x1="496.9" y1="643.1" x2="508.9" y2="643.1" stroke="#000" stroke-width="0.8" stroke-dasharray="2.5 1.5"/>
<line x1="533.1" y1="584.6" x2="549.1" y2="584.6" stroke="#3b78bb" stroke-width="0.9" stroke-dasharray="3 1.5"/>
<line x1="530.6" y1="603.3" x2="551.6" y2="603.3" stroke="#3b78bb" stroke-width="0.9" stroke-dasharray="3 1.5"/>
<line x1="533.1" y1="631.6" x2="549.1" y2="631.6" stroke="#3b78bb" stroke-width="0.9" stroke-dasharray="3 1.5"/>
<circle cx="502.5" cy="596.7" r="3.2" fill="#fff" stroke="#000" stroke-width="1.3"/>
<circle cx="502.5" cy="606.1" r="3.2" fill="#fff" stroke="#000" stroke-width="1.3"/>
<circle cx="499.7" cy="622.3" r="3.2" fill="#fff" stroke="#000" stroke-width="1.3"/>
<circle cx="512.2" cy="624.5" r="3.2" fill="#fff" stroke="#000" stroke-width="1.3"/>
<circle cx="505.7" cy="627.9" r="3.2" fill="#fff" stroke="#000" stroke-width="1.3"/>
<circle cx="499.7" cy="630.1" r="3.2" fill="#fff" stroke="#000" stroke-width="1.3"/>
<circle cx="505.7" cy="636.2" r="3.2" fill="#fff" stroke="#000" stroke-width="1.3"/>
<circle cx="493.6" cy="640" r="3.2" fill="#fff" stroke="#000" stroke-width="1.3"/>
<circle cx="512.2" cy="644.1" r="3.2" fill="#fff" stroke="#000" stroke-width="1.3"/>
<circle cx="505.7" cy="645" r="3.2" fill="#fff" stroke="#000" stroke-width="1.3"/>
<circle cx="493.6" cy="647" r="3.2" fill="#fff" stroke="#000" stroke-width="1.3"/>
<circle cx="541.1" cy="546.4" r="3.2" fill="#fff" stroke="#4a86c5" stroke-width="1.3"/>
<circle cx="541.1" cy="560.4" r="3.2" fill="#fff" stroke="#4a86c5" stroke-width="1.3"/>
<circle cx="541.1" cy="582.4" r="3.2" fill="#fff" stroke="#4a86c5" stroke-width="1.3"/>
<circle cx="541.1" cy="589.3" r="3.2" fill="#fff" stroke="#4a86c5" stroke-width="1.3"/>
<circle cx="531.8" cy="595.3" r="3.2" fill="#fff" stroke="#4a86c5" stroke-width="1.3"/>
<circle cx="550.4" cy="596.7" r="3.2" fill="#fff" stroke="#4a86c5" stroke-width="1.3"/>
<circle cx="531.8" cy="609.8" r="3.2" fill="#fff" stroke="#4a86c5" stroke-width="1.3"/>
<circle cx="550.4" cy="613.3" r="3.2" fill="#fff" stroke="#4a86c5" stroke-width="1.3"/>
<circle cx="541.1" cy="616.9" r="3.2" fill="#fff" stroke="#4a86c5" stroke-width="1.3"/>
<circle cx="541.1" cy="635.9" r="3.2" fill="#fff" stroke="#4a86c5" stroke-width="1.3"/>
<circle cx="531.8" cy="639" r="3.2" fill="#fff" stroke="#4a86c5" stroke-width="1.3"/>
<circle cx="550.4" cy="639" r="3.2" fill="#fff" stroke="#4a86c5" stroke-width="1.3"/>
<line x1="478.7" y1="514.6" x2="478.7" y2="648.9" stroke="#000" stroke-width="1.3"/>
<line x1="472.7" y1="648.9" x2="568.1" y2="648.9" stroke="#000" stroke-width="1.3"/>
<line x1="472.7" y1="648.9" x2="478.7" y2="648.9" stroke="#000" stroke-width="1.3"/>
<text font-size="12.8" fill="#111" text-anchor="end" transform="translate(470.3 653.4) scale(1 1.08)">0</text>
<line x1="472.7" y1="615.5" x2="478.7" y2="615.5" stroke="#000" stroke-width="1.3"/>
<text font-size="12.8" fill="#111" text-anchor="end" transform="translate(470.3 620) scale(1 1.08)">2</text>
<line x1="472.7" y1="582" x2="478.7" y2="582" stroke="#000" stroke-width="1.3"/>
<text font-size="12.8" fill="#111" text-anchor="end" transform="translate(470.3 586.5) scale(1 1.08)">4</text>
<line x1="472.7" y1="548.5" x2="478.7" y2="548.5" stroke="#000" stroke-width="1.3"/>
<text font-size="12.8" fill="#111" text-anchor="end" transform="translate(470.3 553) scale(1 1.08)">6</text>
<line x1="472.7" y1="515.1" x2="478.7" y2="515.1" stroke="#000" stroke-width="1.3"/>
<text font-size="12.8" fill="#111" text-anchor="end" transform="translate(470.3 519.6) scale(1 1.08)">8</text>
<line x1="502.9" y1="648.9" x2="502.9" y2="654.3" stroke="#000" stroke-width="1.3"/>
<line x1="541.1" y1="648.9" x2="541.1" y2="654.3" stroke="#000" stroke-width="1.3"/>
<text font-size="12.8" fill="#111" textLength="33.4" lengthAdjust="spacing" transform="translate(479.6 669.8) scale(1 1.08)">CTRL</text>
<text font-size="12.8" fill="#111" textLength="71.7" lengthAdjust="spacing" transform="translate(519.3 669.8) scale(1 1.08)">Gi-DREADD</text>
<line x1="502.5" y1="514.2" x2="541.1" y2="514.2" stroke="#000" stroke-width="1.2"/>
<text font-size="15" text-anchor="middle" letter-spacing="0.6" transform="translate(521.8 513.5) scale(1 1.08)">*</text>
<text font-size="12.8" fill="#111" text-anchor="middle" textLength="157.4" lengthAdjust="spacing" transform="translate(440.5 585.5) rotate(-90) scale(1 1.08)">No. of CD8<tspan font-size="7.5" dy="-4.5">+</tspan><tspan dy="4.5"> CD103</tspan><tspan font-size="7.5" dy="-4.5">+</tspan><tspan dy="4.5"> CD69</tspan><tspan font-size="7.5" dy="-4.5">+</tspan></text>
<text font-size="12.8" fill="#111" text-anchor="middle" textLength="165.8" lengthAdjust="spacing" transform="translate(455.4 585) rotate(-90) scale(1 1.08)">T<tspan font-size="8.3" dy="3">RM</tspan><tspan dy="-3"> cells per gram skin(×10</tspan><tspan font-size="7.5" dy="-4.5">3</tspan><tspan dy="4.5">)</tspan></text>
<defs><filter id="ebl" x="-20%" y="-20%" width="140%" height="140%"><feGaussianBlur stdDeviation="1.6"/></filter><linearGradient id="cbar" x1="0" x2="1" y1="0" y2="0"><stop offset="0" stop-color="#fff5f0"/><stop offset="0.3" stop-color="#fcbba1"/><stop offset="0.6" stop-color="#fb6a4a"/><stop offset="0.85" stop-color="#cb181d"/><stop offset="1" stop-color="#67000d"/></linearGradient></defs>
<text font-size="23" font-weight="bold" transform="translate(627.3 393.5) scale(1 1.08)">E</text>
<text font-size="12.8" fill="#111" textLength="78.4" lengthAdjust="spacing" transform="translate(663.6 392.7) scale(1 1.08)">T cell clusters</text>
<path d="M706.6 434.9h0m.2-.1h0m.6-.3h0m.5-.8h0m2.5-.4h0m0 1.3h0m.4 .3h0m6.5 2h0m-2.6-.9h0m-.3 .5h0m-.1 1.1h0m-1.3-2.5h0m-1.4 .8h0m-1.5 .9h0m-.9 .6h0m0-.2h0m-2.3-.3h0m-.2-.1h0m-.2 .4h0m0-.2h0m-.3-.8h0m-.9 .2h0m-.2 .6h0m-.2-.3h0m-1.3 .4h0m-.2 .2h0m-.8-1h0m-.9-.5h0m-.4-.3h0m-1 2h0m-.6-2.1h0m-.4 .9h0m-9.1 .9h0m-1-.1h0m-.1 3.8h0m2.6-2.8h0m.2 .8h0m.9-.2h0m3 1.2h0m1.3 .7h0m1.5-.9h0m0-1.7h0m1.2 2.4h0m1.4-.7h0m.1-1.7h0m1.6 .8h0m.5-.5h0m1 .1h0m0 2.5h0m.2-2.9h0m.3 .7h0m.8 .9h0m1.7-1.4h0m1.2 1.5h0m0 1.2h0m.6-2.9h0m.4 .4h0m.3 1.6h0m.3-.6h0m.1-.6h0m.4 .5h0m.3 1h0m.4-1.7h0m1.2-.6h0m.3 2.9h0m.6 0h0m.9-2h0m.2 .2h0m1.3 1.3h0m.3-1.1h0m1.9-1.3h0m.5 .9h0m.3 2h0m.9-2.5h0m2 1.2h0m1.4 .3h0m.2 1.8h0m-2 .4h0m-.6 1.1h0m-.1-.8h0m-.8-.2h0m-1.1 1.1h0m-.5-.6h0m-.2 .4h0m-.2 .2h0m-.4 .2h0m0-2.1h0m-1.7 .8h0m-2.7 .9h0m-.1 .5h0m-.2-.7h0m-.4 .8h0m-.7-.7h0m-.4 .4h0m-.4 .4h0m-.2-.3h0m-.1-.5h0m-.7-1.1h0m-.8-.1h0m-.1 .8h0m-1.7-.7h0m-.3 .5h0m-.2-1.1h0m-.5 1.2h0m-.9 .9h0m-.5-1.9h0m-.6 .6h0m-.3 .6h0m-.5 .3h0m0-1.2h0m-.6 1.1h0m-.5 .7h0m-.3-2.3h0m-4 2.6h0m-1-1.3h0m-5.2-.7h0m-.7 .5h0m-.3 .8h0m-.1-.9h0m-2-.4h0m-2.2-.6h0m-.2 1h0m-1.1 4.5h0m1.2-.1h0m1.8-2.6h0m.8 1.2h0m1.5 1.5h0m1.5-.7h0m.1-.9h0m1 .7h0m.4 .6h0m3.4-1.2h0m.7-.4h0m2.3 1.5h0m.3 .2h0m3.2-.2h0m.7-.7h0m1.7-1h0m.9 1.7h0m.4-1.8h0m.9-.6h0m1.4 .3h0m1 1.8h0m.6-.1h0m.2-2h0m.3 2.1h0m0-.5h0m.1-1.6h0m.5 .4h0m.3 1.2h0m.4 .7h0m1.5-2.3h0m1.9 .7h0m.2 .7h0m2.2-.1h0m2.1 1.4h0m.7-1h0m1.7 0h0m.4 1h0m2.7-1.3h0m1.3 .2h0m1.2 2.7h0m-1.7-.3h0m-2.7 .2h0m-1.4-1h0m-.6 1.8h0m-1.2-1.1h0m-.1 .8h0m-.6 .6h0m-3.2-.6h0m-.5-1.6h0m-2.1 2.4h0m0-1.2h0m-1-1h0m-.3 1.6h0m-.8-1.6h0m-.9 .7h0m-1.2 1h0m-.5 .4h0m-.7-.6h0m-.4-1.7h0m-6.8 2.6h0m-.3 .1h0m-.1-.4h0m-1.1-2.1h0m-1.7 .5h0m-.5-.4h0m-1.3 2h0m-.9-1.5h0m-2.4 .1h0m-2.9 .3h0m-1.1 .5h0m0-1.6h0m-.7 0h0m-.6 2.1h0m-1.7-1.3h0m-.2 1.4h0m0-1.9h0m-.1 .8h0m-.4-1.2h0m-.4 1.3h0m0 1.5h0m-2.2-2.5h0m-1.3 1.5h0m-2.6 1.2h0m1 1.6h0m1.2-1.1h0m1.4 1.2h0m1.1-1.5h0m.1 1.8h0m.9-1.4h0m.2 .4h0m.3-.9h0m1.7 2.7h0m.1-1h0m.4-1.8h0m0 .6h0m.1 1.8h0m.3-.7h0m1-1.5h0m.4 .4h0m2.6 .2h0m.9 .5h0m.8-.8h0m.9 .9h0m1 1h0m1.8-.3h0m.3-1.6h0m.8 1.3h0m.9-.8h0m2.9 .8h0m.3-.8h0m.4-.2h0m.3 1.6h0m0-2.4h0m.9 1.3h0m2.2-.3h0m.7 .9h0m.9-.6h0m.1-1.1h0m2.1 .6h0m.1-.7h0m1.1 1h0m1.2 .5h0m.2 .5h0m1-2.1h0m1.6-.1h0m.1 2.5h0m.4-2h0m2.2 0h0m.2 .3h0m.7 1.8h0m.2-.1h0m.1-2.5h0m.1 1.8h0m.8-.4h0m.4 .5h0m0-.7h0m.2 1.2h0m5.9-1.9h0m-.4 4.3h0m-.1 .7h0m-1.4-2.2h0m-1.9 .9h0m-.2-.9h0m-.4 2h0m-1.2-2.3h0m0 .1h0m-.3 1.1h0m-1.1-.6h0m-.8-.5h0m-.6 2.8h0m-.5-1.6h0m-.2 1.6h0m0-1.3h0m-.2-1.3h0m-.2 .1h0m-.1 2.5h0m-2.6-2.8h0m-1.1 .7h0m-.5-.6h0m-1 2h0m0-.7h0m0 .1h0m-.4 1.1h0m-.1-1.2h0m-.8-.9h0m-.2 1.9h0m-.4-2.3h0m-.3 2.6h0m-1.8-2.1h0m-.7 .9h0m-.1 .4h0m-.1 .9h0m-1.5-2.4h0m-.7 .9h0m-.9-.1h0m-.4-.2h0m-.3 .6h0m-.2-1.2h0m-3.6-.3h0m-1.7 1.1h0m-1.8 1.4h0m-2.9-.5h0m-.4 .3h0m-.5-1.9h0m-.9-.3h0m-.9 1.3h0m-1.6-1.1h0m-.2 1.4h0m-1.6-.5h0m-.3 .2h0m-.6 1.2h0m0-1.8h0m-1.3 1.7h0m-1.1-.7h0m-.4-.4h0m-.6 2.9h0m.2-.2h0m.8-1.2h0m1.4 2h0m.7-1.6h0m.7 .5h0m.3 1.1h0m.3-1.7h0m1.9 2.3h0m1.1-1.8h0m.4-.3h0m0 0h0m2.2 1.2h0m.2 .4h0m.9 .5h0m1.9-2.4h0m1.4 1.4h0m1.1 .4h0m1-2h0m.8 1.2h0m.2 1.2h0m.1-1.8h0m.5 .6h0m.2 .3h0m.4-.9h0m1.1 .6h0m.7-1.2h0m.3 1h0m.4-.3h0m.1 1.8h0m1.2-.8h0m.2 1h0m1.5-2.7h0m.2 2.2h0m.1-1.9h0m0 1.9h0m.3 0h0m.9-1.4h0m.2 .6h0m.7 1.3h0m.8-2.6h0m.1 2.3h0m.1-1.7h0m2.6 .1h0m.2 1.6h0m.4-1.2h0m.8 0h0m.1-.7h0m1 1.7h0m.6-.5h0m1 1.1h0m.4-.9h0m0 0h0m1.3-2h0m.6 1.8h0m.4-.4h0m.4-.9h0m0 1.9h0m.8-.4h0m.1-2h0m.1 2.3h0m.1-2h0m0 .8h0m.5 1.4h0m.8 .2h0m0-.6h0m.1-1.5h0m.3 1.2h0m.4-.1h0m.2-.8h0m.7 .2h0m.1 .5h0m.9-.9h0m1.4 1.7h0m.1-1.2h0m1.7-.8h0m-2.4 3h0m-.3 1.4h0m-.6 1.1h0m-.3-1.6h0m-.9-.4h0m-.7-.3h0m-.6-.4h0m0 .3h0m0 .9h0m-.2 .8h0m0-1.3h0m-.4 1.3h0m-.6-1.3h0m-.7 1.1h0m-.4-.6h0m-.2-1.3h0m-1.1 0h0m-.1 .7h0m-1.7-.3h0m-.6 1.9h0m-.5-1.6h0m-.1-.1h0m-.4 .2h0m-.4 1.3h0m-.6-1.4h0m0 1.9h0m0-2.6h0m-.2 2.4h0m-1.8-1.2h0m-.4-.7h0m-.9 2.1h0m-.6-.3h0m-1-.9h0m-.1-1h0m-.3-.4h0m-.4 2.8h0m-.2-1.7h0m-.4-.9h0m-1.2 .7h0m-.5 1.5h0m-.4-2.4h0m-.1 1.5h0m-.5-1.2h0m-.2 1.2h0m-.2-1.5h0m-.6 2.2h0m-.1 0h0m-.4-.5h0m-.2-1.6h0m-.4 .2h0m-.6 .1h0m-.5 1.1h0m-.9-1.5h0m-.1 .8h0m0 1h0m-.1 .1h0m-.3 .4h0m-.4 .2h0m0-1.8h0m-.1 1.1h0m0-.6h0m-.8 1.2h0m-.4-1.5h0m0-.9h0m-.7 1.8h0m-.1 .3h0m-.2 .1h0m-.3-.5h0m-.1 .4h0m-1.7 .7h0m-.4-1.5h0m-.5-1.4h0m-1.6 1h0m-.7-.1h0m-.9 .1h0m-3.1 .5h0m-.3-1.2h0m-.2 2.1h0m-.1 .3h0m-.4-1.2h0m-.8-.2h0m-.8-.3h0m-.4 1h0m-4.5-1.8h0m4.6 3.9h0m4.7-.3h0m.5 .2h0m1.2-.5h0m4.1-.2h0m.1 2.1h0m.1-2.3h0m1.6 1.1h0m.6 .9h0m1.3 0h0m.4-.3h0m.2-1.6h0m.4 1.5h0m1-.5h0m.1 .8h0m.3-.1h0m.1-1.1h0m.2 .5h0m.1 .7h0m1.1-1.2h0m.4 .5h0m1-.2h0m.1 .1h0m.9 1.2h0m.3-1.2h0m.2 1.6h0m.4-1.8h0m.3 .9h0m.3 .7h0m.3-1.6h0m.7-.5h0m.1-.4h0m.6 1.4h0m.3 .1h0m.1 .6h0m.1-1.8h0m.3-.1h0m.6 2.4h0m.1-2.5h0m2.6 2.1h0m.4 .4h0m.4-.3h0m1.5-1.8h0m.9 .3h0m1 0h0m.7 .6h0m.2-.3h0m1.2-1h0m.6 1.2h0m.1 1h0m.3-2.4h0m1.5 .7h0m.9 .3h0m2.7 .2h0m.2-.2h0m.6 .1h0m.3 .8h0m.9 3.1h0m0-1h0m-3.5 .7h0m-.3-1.1h0m-.2 1.1h0m-1.7 1.1h0m-1.1-2.1h0m-.5 1.3h0m-.8 .7h0m-1.2-2.4h0m-2.7 2.5h0m-1.8-.5h0m-.1 .6h0m-.5-2.5h0m-.5-.4h0m-.1 2.8h0m-.1-.4h0m-.1-1.7h0m-.6 .8h0m-1.2-.1h0m-.5-.3h0m-1.5-.5h0m-.4 1.3h0m-.7 .5h0m-.5-1.1h0m-.6-1h0m-.5 1.8h0m-.1-.1h0m-.7 .4h0m-.4-2.3h0m-1.3 .7h0m-.1 .9h0m-.2-.4h0m0-.4h0m-.1 1.8h0m-.3 0h0m-.1-1.3h0m-1.3-.4h0m-.3-.2h0m-1.3 1.5h0m-.3 0h0m-.3-.2h0m-.1-.7h0m-.1-.7h0m-.5 .6h0m-.1 1.4h0m-.7-2h0m0 1.7h0m-.2-1.7h0m-.2-.6h0m-.3 1.6h0m-1.1 1.2h0m0-.1h0m-.2-1.6h0m-1.1 .8h0m-.5-.9h0m-1.7-.9h0m-.4 0h0m-2.5 0h0m7.2 4h0m.3-.1h0m.2 .5h0m.2 .1h0m.3 0h0m1.1-1.2h0m2.2-.5h0m.5 2.3h0m.5-.7h0m.1 .2h0m3.2 .4h0m.6-1.5h0m.9 0h0m.1 1.7h0m1.5-1.7h0m.3 1.2h0m.6-1.2h0m1.3 1.4h0m.4-1.5h0m.4 1.7h0m.7-1.2h0m.5 .7h0m1.2 .4h0m.1-1h0m.8 .6h0m.6-.2h0m1.8-.6h0m.3 1.4h0m1.4-.3h0m0-1.7h0m.5 1.8h0m.1-.9h0m5 1.2h0m.7 .1h0m1.1-.1h0m.1-1.3h0m1.9 .3h0m-2.2 2.3h0m-.6 1.3h0m-.6-.9h0m-.8-.5h0m-.9 1.4h0m-.5-.9h0m-.3-.3h0m-.1-.3h0m-2 1.5h0m-.2-1.2h0m-1.4 1.1h0m-.6-1.7h0m-1.7 .2h0m-.6 1.6h0m-.1-.7h0m-.3 .3h0m-2 .4h0m-3.3 .3h0m-.5 .4h0m-1.1-.5h0m-.7 .1h0m-.1-2.4h0m-1.2 1h0m0 1.1h0m-.3-1.2h0m-.5-.8h0m-1.2 0h0m-1.4 1.8h0m-.3-1.3h0m-.4 .2h0m-.8 1.1h0m-.2-1.6h0m-1.7 2h0m0-1h0m-.7-1.3h0m-.9 1h0m-.2-.8h0m-.1 0h0m-.6-.2h0m-1.4 2.6h0m-.9 1.2h0m2.2 .3h0m.4-.5h0m.2-.4h0m2.9 1.9h0m.4-2.1h0m.1 1.6h0m.1-1.1h0m.9-.3h0m.1 .5h0m.6 .3h0m.3 1h0m.6-1h0m.1 .5h0m.3 1.1h0m2.5-1.8h0m.2 .2h0m3.3 .1h0m.1 .6h0m.2-.4h0m1.5 .1h0m.1-1h0m.8 .4h0m.6 .3h0m1.8-.8h0m1.7 1.8h0m2.5-1.8h0m.7 1.5h0m1.6-.6h0m.6 1.7h0m1-1.1h0m2-.2h0m-2 1.5h0m-3.8 2.1h0m-.6 .4h0m-.1 .3h0m-.4-2.9h0m-.3 1.9h0m-.3 .8h0m-.2 .1h0m-.8 .1h0m-.1-1.9h0m-.4 1.1h0m-.1 .5h0m-.1-1h0m-.7 .3h0m0-1.5h0m-.1-.3h0m-1.8 2.4h0m-.6 .1h0m-.1 .2h0m-.1-.6h0m-.1-1.9h0m-.1 .2h0m-.5 2.4h0m-.3-.6h0m-.4-.6h0m-.2 .9h0m-.8 .2h0m-.8-2h0m-.2-.8h0m-.3 1.5h0m-.4-1.2h0m-1 1.6h0m-1.2-1.6h0m0 0h0m-.4 1.7h0m-2.1-1.3h0m-1.2 .5h0m-.4 1.4h0m-.4-2.3h0m-.2 .7h0m-.1 1.2h0m-.6-1.3h0m-.3-.4h0m-.9 2.1h0m-2.3-.8h0m-.7 2.7h0m.5 1h0m.9 .4h0m0-2.5h0m.1 .3h0m.2 1h0m.7 1.2h0m2-1.7h0m.2 1.7h0m.9-.2h0m1.1 .1h0m.7-2.6h0m.1 .9h0m.1-1h0m.5 .8h0m.1 .9h0m.2-1.8h0m.8 .3h0m.2 .3h0m2.1 .1h0m.4 1.8h0m.8-2.5h0m.1 .7h0m.1-.1h0m.1-.2h0m.1 1.4h0m.5-1.1h0m0-.1h0m.1 .3h0m.6 .7h0m.1-.7h0m.7 .7h0m.3 .8h0m.2-2.1h0m.1 1.6h0m.2-1h0m.4 .5h0m.3 .2h0m.5-.9h0m1.3 .7h0m.9 1.3h0m.2-.4h0m.2-1.3h0m0 1.7h0m.2-.6h0m.1-2.1h0m1 .7h0m.2 2h0m.2-1.6h0m.3 .9h0m.7-.2h0m1-1.7h0m0 .7h0m.8-.1h0m2.1 4.5h0m-.2 .3h0m-1-.5h0m-.3-2h0m-.9 .4h0m-.9 2.2h0m-.8-1.5h0m-.7-.8h0m-1.4 2.2h0m-.1-2.1h0m-.1 1.1h0m-1.1-.6h0m0 2h0m-.1-1.6h0m-.1-.2h0m-.4-.2h0m-1.1 .4h0m-.6 1.4h0m-.4-1.4h0m-.6-.6h0m-.8 1.8h0m-1.2-2.1h0m0-.3h0m-.3 1h0m-.2 .6h0m-.3-.6h0m-.3-.8h0m-3.2 1.1h0m-1.5 .8h0m-.6-1.8h0m0 1.8h0m-1.3-.4h0m-.6 .3h0m-.1-.8h0m-.1 1h0m-.4-1.7h0m-.5 1.9h0m-1-1.2h0m-.7 .4h0m-.3-.5h0m-1.5 1.4h0m-.3-.5h0m-.4 .5h0m-.4 .2h0m-.3-1.8h0m-1.9 .5h0m-.5 1.9h0m.2 1.2h0m.9-.2h0m2.2-.3h0m.5 .2h0m.4 0h0m.8-.3h0m.4 0h0m.1 .6h0m.1-1.6h0m.2 .2h0m.1-.2h0m.1 1.6h0m1.3-.5h0m.2 .1h0m1.6 1.6h0m.7-1.7h0m1.2 1.3h0m0-1.5h0m.3-.1h0m.1 .4h0m0 1.1h0m.9-.6h0m1.2 0h0m.1 1.1h0m.3-2.7h0m.1 1.2h0m.3 .2h0m.8 .5h0m.2-.4h0m.1-1.4h0m2.9 .2h0m.2 .4h0m.3 0h0m.4 1h0m.4 .3h0m.8-1.3h0m.6 1.5h0m0-1.4h0m.3 .5h0m.3 1h0m.5 .1h0m.7-2h0m.9 1.6h0m.4 .2h0m.4-1.8h0m1.4-.3h0m.1 .5h0m.9 .1h0m.2 .6h0m.8 0h0m.1 1.1h0m.3-1.1h0m1.1 1.2h0m.1-1.6h0m.2 .8h0m-.1 4.1h0m-.6-.3h0m-.7-1.1h0m-.2 .3h0m-1-1.1h0m-1-.4h0m-.3-.1h0m-1.6 1.7h0m-.3 .1h0m-.2-1.4h0m-.2 1.9h0m-.7 .4h0m0-2.1h0m-.8 .9h0m-.2 1.2h0m-1.7-.7h0m-.2-.5h0m-.3-1.7h0m-.7 2.2h0m-.5 .2h0m-1.4-2.3h0m-.4 .8h0m-1.4-.5h0m-1 .2h0m-.1 1.4h0m-1.5 .8h0m-.5-.4h0m-.4-1.3h0m-.1-.9h0m-1.2 2.3h0m-.3-2.1h0m0 2.1h0m-.9-1.7h0m-.7 1.1h0m-2-1h0m-.2 2h0m-.1 0h0m-.1-2.7h0m-.6 2.5h0m-.3-.4h0m-.1 .6h0m-.3-.2h0m-.3-2.2h0m-.1 2h0m-.5-.5h0m-.4-2h0m-.3 1.5h0m-.3-.2h0m-.5 1.3h0m-.5-1.6h0m-1.4 .9h0m3.1 1.1h0m.4 1h0m.4 .3h0m.2 1.6h0m.2-1.9h0m.8 .9h0m.4 .2h0m.2-1.5h0m.2 .1h0m.8 .9h0m.4 .1h0m.1 .9h0m.4-1h0m.2 .6h0m.1-2.1h0m.5 2.4h0m.7-1.1h0m.7 .1h0m.6-.9h0m.4 1.9h0m.1-2.4h0m.3 1.9h0m.8-1.9h0m.7 2.2h0m.1-.3h0m.5-1.1h0m1.2-.1h0m.7 1.2h0m0 .3h0m.1-.5h0m.7 .6h0m.2 .1h0m.7-1.1h0m.5-1.4h0m.7 1.4h0m.1 .8h0m1-.1h0m.2 .7h0m.8-2.1h0m.5 1.4h0m3.1 .7h0m.1-2.5h0m.2 .9h0m2.6 1.9h0m-.9 1.4h0m-1.4 .7h0m-.4-.3h0m-.1-1.4h0m-.6 .3h0m-.7 .7h0m-.7 1.1h0m-.2-.5h0m-.2-1.1h0m-1.7-.1h0m-.6-.5h0m-1 1.5h0m-2-1.5h0m-1.6-.3h0m-.4 .4h0m0 .1h0m-.3-.1h0m-.3 1.6h0m-1.5 .2h0m0 .3h0m-1.1-1.8h0m-1.5 .4h0m-.2 .7h0m-.4-1.5h0m-.7 2.2h0m-.7-.6h0m-.4-.9h0m-.6 1.5h0m-.1-.6h0m-.4-1.1h0m-.9 .3h0m-1.1-1.1h0m-2.2 .6h0m7.3 2.6h0m1.1 2.4h0m.7-1.2h0m.3-.8h0m1.8 .7h0m.8-.3h0m.2 0h0m3 1.3h0m.6 .1h0m.5-1.3h0m.3 .5h0m.9-1.4h0m0 .1h0m.8 1.8h0m0-.3h0m.4-1.1h0m.6-.4h0m.8-.4h0m.3 1.2h0" fill="none" stroke="#f783ac" stroke-width="2.1" stroke-linecap="round"/>
<path d="M738.3 401.7h0m-5.2-1.1h0m-2.8-.1h0m-1.4 .4h0m-.3 .7h0m-1.8-.3h0m-.3 .4h0m-1.9-1.9h0m-.3 .3h0m-.8 .2h0m-.2 .9h0m-2.9-.2h0m-4.1 3.5h0m1.7-1.2h0m2.5 .1h0m.2 1.5h0m.9-.4h0m.5-2.1h0m.1-.4h0m2.5 2.7h0m2.2-.6h0m1.7-.3h0m3 .3h0m.2-1.3h0m1.8 0h0m.5 1.2h0m0-1h0m1 .7h0m.8 .8h0m.2-1.3h0m.6-.8h0m1.2 1.4h0m0 .8h0m2-.7h0m.1-1.1h0m2.1 2.1h0m.8 3h0m-.6-1h0m-.4 .8h0m-.3-2h0m-.4 2.1h0m-.7-1.1h0m-.6-1.2h0m-.7 2.3h0m-.8-2.6h0m-.7 1.4h0m-.5-.4h0m-.1 .4h0m-.8-1.5h0m-.5 2.4h0m-1.3-1.7h0m-1.4-.6h0m-.3 1.2h0m-.4-1.2h0m-.2 1.7h0m-1.4 .5h0m-1.4 .3h0m-.7-.4h0m-.3-.9h0m-.6-.8h0m-.1 .9h0m-2.7-.8h0m-.1 .1h0m-1 2.1h0m-.7-1.1h0m0-1.3h0m-.6-.5h0m-1.6 1.7h0m-.8-.7h0m-1 1.5h0m-1.2-.2h0m-1.7-.5h0m-.2 .4h0m-.3 .5h0m-.5-1.6h0m-.9 4.7h0m.9-2.3h0m.8-.3h0m.6 .1h0m.2 1.6h0m1-1h0m.8 2h0m.3-1.6h0m.1-1.3h0m.1 1.7h0m1.1-1h0m.8 .3h0m.1-.2h0m.1-.6h0m0 1.5h0m.9-1.7h0m.3 2.5h0m.4-1.1h0m0 1.2h0m.2 0h0m.5-2.5h0m.8 2.5h0m.8 0h0m1-.9h0m1.1-1.7h0m1.2 .8h0m0 .1h0m.7 1.4h0m1.9-.4h0m2.1-1.1h0m.5-.7h0m.2 1.2h0m.6-.9h0m.5 2.3h0m.5-1.6h0m.9 1.7h0m.2-1.2h0m1.3 0h0m1.8-.9h0m.7 .5h0m2 .1h0m.2-.4h0m.3 2h0m.5-.7h0m-.1 1.6h0m-.1 .4h0m-1 1.1h0m-.5 .4h0m-.4-1.4h0m-.2 .8h0m-.5-.3h0m-3.4-.6h0m-.8 .9h0m-.7-1h0m-1.8-.6h0m-.8 .7h0m-.3-.7h0m-.1 1.3h0m-.8-1.6h0m-1.6 .3h0m-1.1 .6h0m-.4-1h0m-.1 1.5h0m-1.4-.4h0m-.5 .1h0m-1.7 1.3h0m-.9-1.6h0m-.1 .9h0m-2-1.4h0m-.3 1.4h0m-.6 .5h0m-.3-1.8h0m0 1.8h0m-.2-.5h0m-.4-.8h0m-2.3-.7h0m-.2 .5h0m-.2-.4h0m-.5-.2h0m-.5 0h0m0 1.3h0m0 .2h0m-3.3-1.5h0m1.8 4.4h0m.9-1.5h0m1 .4h0m.5 1.9h0m1.1-1.8h0m.3 1.2h0m.6-.4h0m.5-.5h0m.8-.8h0m.3 1.9h0m.3 .1h0m.6 0h0m0-1.4h0m0-.6h0m.9 .2h0m0-.4h0m1.8 .7h0m.4-.4h0m.6-.3h0m.3 2.7h0m.4-1.3h0m.6-1h0m1.3 .9h0m.2-.2h0m.3-.1h0m.2-.3h0m.5 .5h0m.2 1.3h0m.8-.2h0m1.5 0h0m1.5-1h0m.4 .9h0m2.3-.7h0m2.9-.2h0m1.3-.6h0m.7 .3h0m-.9 2.2h0m-.2 2.5h0m-1.4-.1h0m-.1-2.3h0m-2.9-.3h0m0 .8h0m-.2-.2h0m-1 1.8h0m-.9-1.6h0m-.7 2.1h0m-.5-1.7h0m-.1 1.1h0m-.3-1.3h0m-.1 .4h0m-.9 0h0m-.5 .7h0m-.3-.8h0m-.2 .4h0m-.7-.1h0m-.1-.8h0m-.2-.1h0m-.1 2.2h0m0-2.9h0m-1.6 2h0m-.2 .9h0m-.2-2.5h0m-.1 .3h0m-.2-.4h0m-.6 2.3h0m-.2-1.9h0m-.1-.3h0m-.1 2.2h0m-.4-.8h0m-1.1-.8h0m0-.1h0m-.1 2h0m-.1-.7h0m-.2-2.1h0m-.9 .6h0m-.4-.7h0m-1.2 1.6h0m-.1 .8h0m-1.1-1.5h0m0 .7h0m-.2 1.2h0m-.3 0h0m-2.4 2.1h0m1.1 .3h0m.4-.1h0m.8-.2h0m.4-1.8h0m.3 2.2h0m1.2 .1h0m0-.6h0m.2-1.4h0m.3 2h0m.4 .1h0m.7-.9h0m.4 1.1h0m.1-1.9h0m.2 1.8h0m.6-2h0m1.2 1.8h0m0-.8h0m.7-1.6h0m0 1.6h0m.1 1h0m.7-.5h0m.6 .7h0m.7-2.3h0m.1 1.6h0m.5-1.8h0m.5 .3h0m.1 2h0m.1 .2h0m.1-.9h0m.1 .6h0m.4-2.1h0m.1 1.8h0m.9-.3h0m.1 .4h0m.1-1.5h0m.1 1.2h0m.4-.5h0m.2 0h0m.3-.7h0m0 1.1h0m.3 0h0m0-1.2h0m.1 1.8h0m1.3-2.4h0m0 .5h0m.5 .6h0m.4 0h0m0-.3h0m.7 0h0m.8 1.3h0m.8-2h0m.4 2.7h0m2-2.5h0m-1.9 5.5h0m-.6-2h0m-.6-.5h0m-1 2.4h0m-.4-.1h0m-.8 .1h0m0-2.1h0m-1.3 .9h0m-.6 .3h0m-1.5-1.7h0m-.1-.2h0m-.5 1.8h0m-.1 .4h0m-.8-.2h0m-.5-1.7h0m-2.9-.1h0m-1.6 .1h0m-.3 .2h0m0 1.6h0m-.5-2h0m0 1h0m-1.1 1.8h0m-.2-2.4h0m-.8 .5h0m-.2-.5h0m-.9 1.5h0m-.3-1.5h0m0 2.2h0m-.7-.6h0m-.8 .2h0m-.3-.3h0m0 .5h0m-.2-1h0m-.2 1h0m-1-1.4h0m-.4 1.3h0m-.4-.9h0m-1.4 3.8h0m2.8-1.8h0m.5 .3h0m0 .7h0m.7-.4h0m0 0h0m.6 1.3h0m.4-1h0m.7-.8h0m.4-.1h0m.2-.2h0m.1 .9h0m.9 1.7h0m.3-2h0m.9-.8h0m.6 1.2h0m.3-.1h0m1.1-.7h0m.8-.4h0m.4 2.8h0m.8-1.5h0m.3-.9h0m.4 1.6h0m.2-2h0m.3 1.2h0m.2-.6h0m.1 2h0m0-1.2h0m1.5 1h0m.7-.6h0m.6 .2h0m0-.3h0m1.3 1h0m.3-1.5h0m1.8 1.5h0m.2-1h0m.7-.3h0m.1 1.2h0m0-2.5h0m.1 2.2h0m.9-2h0m1.3 3.8h0m-.5 .4h0m-2.1 1.2h0m-1.7-2.8h0m-.8 1h0m-.6-.9h0m-.5 .9h0m-.9 1.3h0m-3-.4h0m-2.4 .8h0m-.5-.8h0m-.1 .5h0m-.5-.4h0m-1.1-1.7h0m-1.4 .9h0m-.2 1.1h0m-1-1.9h0m-.4-.1h0m-.1 .1h0m-.4 1.3h0m-.2-1.1h0m-.9-.1h0m-.3 .6h0m-.2-.6h0m-.4 2.2h0m-.1-.4h0m-.4-.8h0m-.2 .5h0m-.1 .5h0m-.6-.4h0m-.2-1.1h0m-.7 1.4h0m-.1-2.3h0m-.4 2.1h0m2.7 2.7h0m.6-1.2h0m.1 .2h0m.2-.5h0m.2 1.6h0m.4-.3h0m1.2-.7h0m.2-.1h0m0-.4h0m2 1h0m.7 .8h0m.4-1.9h0m1.7-.3h0m.6 2.8h0m.3-1.2h0m.1-1.1h0m.4-.1h0m.7 .9h0m2.4 .2h0m3.5-.4h0m.8-1h0m.2 1.6h0m-.6 1.4h0m-1.1 .4h0m-.4 1.4h0m-.4-.4h0m-1.9-1.5h0m-.9 2.6h0m-.4-.8h0m-1.6-.8h0m-.9-.5h0m-2.4 1.2h0m-1.9-1.5h0m-1.7 .9h0" fill="none" stroke="#1b9cc6" stroke-width="2.1" stroke-linecap="round"/>
<path d="M657.6 422.9h0m.3-.7h0m.3-.4h0m2.6-.6h0m.1 .6h0m3 .8h0m2.3-1.2h0m.2 1.2h0m1-.7h0m1.3 .1h0m2.7 .6h0m4.2 3h0m-2-1.1h0m-2.2-1.2h0m-1.7 2.2h0m-.3-1.2h0m-.2-.4h0m-.4-.5h0m-.3 2.3h0m0-2.2h0m-.3-.5h0m-.4 .3h0m0 2.5h0m-1.2-.8h0m-.3-.1h0m-.3-1.3h0m-1.2 .3h0m-1.2-.8h0m-1.8 2.8h0m-1-.7h0m-.2 .6h0m-1.3-.9h0m-.1-.6h0m-1.6-.8h0m-.6 2.2h0m-.4-1.8h0m-1.3 1.9h0m-1.2-.9h0m-.9 .6h0m-1.5 3.4h0m2.8-1.8h0m1.2 .1h0m1.2 1.5h0m.2-1.9h0m.7-.6h0m.4 1.1h0m.4-.9h0m.2 .9h0m.9 .2h0m1.6 1.1h0m.6-2h0m.1 1.6h0m.9 .4h0m1.4-.4h0m.3-1.2h0m.1-.1h0m.8 .3h0m.7 1.3h0m1.7 .4h0m.1-2.2h0m.3 .8h0m.1 .8h0m.6-2h0m.2 2.3h0m.4-1.4h0m0 1.4h0m1.3-1.9h0m1 0h0m1.3-.5h0m.4 .3h0m1 1.7h0m.3-1.3h0m.2 1.2h0m.5 .5h0m.1-.9h0m.2 1h0m2.1 1.9h0m-2 .4h0m-1.3 .7h0m-.5-2.1h0m-.1 2.3h0m-3.2-.6h0m-1.5 .4h0m-1-1.2h0m-.9 .6h0m-.8 .8h0m-.1-.7h0m-.3-.3h0m-1.1-.6h0m0 .4h0m-.4-1.5h0m-1.1 2.4h0m0-1.1h0m-.5-.4h0m-2.5-.5h0m-.5 .8h0m-.9 .6h0m0-1.8h0m-.6 1.1h0m-.2 .7h0m-2-2h0m0 1.1h0m-.7 .3h0m-.2 .9h0m-.3-.1h0m-.1-1.2h0m-.3 .2h0m-1 .6h0m-.1-.1h0m-.6-1.3h0m-.2 1h0m-1.8 2.9h0m.8-1.3h0m1.1 1.9h0m.1 1h0m.4-.1h0m0-.9h0m0 .3h0m1.3-.2h0m.2-.7h0m1.2 .7h0m.4 .9h0m0 0h0m.5-1.8h0m1 .5h0m.1-.8h0m.2-.7h0m0 .1h0m.4 2.1h0m1.5-.6h0m3.6-.1h0m.1-.8h0m.8-.3h0m.4 1.2h0m1.4 1h0m.6-.7h0m.2 0h0m.5 .9h0m.9-2.1h0m.8 0h0m1.7-.2h0m.2 1.1h0m.3-.9h0m.6 .7h0m.4-.7h0m.1 .2h0m1.7 1.7h0m.3-1.3h0m1.7 3.9h0m-.8 .2h0m-.3-.7h0m-.1 .9h0m-.1-1.3h0m-.4-.2h0m-.1 1.2h0m-.2-.5h0m-.3 1h0m-.1-2h0m0-.6h0m-.7 1.4h0m-.5-1.2h0m-.2 0h0m-.3 1.9h0m-.6-1h0m-.1-1.4h0m-1.9 2.2h0m-.8-1.4h0m-.3 1.8h0m-.8-1.5h0m-.1 1.8h0m-.1-2.9h0m-.9 1.3h0m0 0h0m-1.7 1.5h0m-.4-1.2h0m-.6-.1h0m-.6 .5h0m-.2 .2h0m-2.1-2h0m-.5 .1h0m-.6-.3h0m-2.7 1.3h0m-.9 .7h0m-.9-1.3h0m-.1 1.8h0m-.5-.5h0m-.1 .9h0m-.2-1.7h0m0 0h0m-.2-.6h0m-.4 2.1h0m-1.5-1.9h0m1.6 2.5h0m2.7 .6h0m.5 .1h0m0 1.7h0m.2-2.7h0m2.4 1.1h0m.6 1.3h0m0-.3h0m.5 .8h0m1.3-1.2h0m.1-1h0m.1 .7h0m.8-.6h0m.4 .2h0m.1 1.8h0m.4-1.9h0m.6 1.1h0m1 .2h0m0-.5h0m.2-1.3h0m.1-.4h0m.6 1.9h0m.1-.1h0m.5 1h0m.1 0h0m.3-1.1h0m.6-1.2h0m.1 .6h0m.2-.5h0m.1 .1h0m1.5 1.7h0m2.8 .2h0m.7-1h0m.5 1.2h0m1.5-2.7h0m.5 2.2h0m2.1-1.2h0m-2.4 2.9h0m-.5 1.4h0m-.3 .4h0m-.9-.5h0m-.1 .5h0m-.6-2.6h0m-1.4 2.2h0m-2.2-2.4h0m-.3 2.4h0m-.3-1.1h0m-.3 .4h0m-.7-.4h0m-1.1-1.3h0m-2 .5h0m-.1 .5h0m-1.3-1h0m-1.3 .6h0m-1.4 .4h0m-.4 .3h0m-.7 .3h0m10 1.6h0" fill="none" stroke="#0f7f8a" stroke-width="2.1" stroke-linecap="round"/>
<path d="M750.5 461.9h0m-1.2-.6h0m-6.2 .3h0m-2.9 2.7h0m.1-.3h0m.4 .3h0m1.2-1.9h0m.4 0h0m.5-.4h0m1.4 2.4h0m.2 .4h0m1-1.4h0m1.6-.4h0m3.7 .2h0m1.7-.3h0m1.4 2.4h0m0 2h0m-.8-2.3h0m-1.9 .2h0m-.1 1h0m-1.2 .9h0m-.9-1.8h0m-.2 2.4h0m-2.5-2h0m-.2 1.3h0m-.1 .9h0m-.4-.4h0m-4.9-2.4h0m-.5 2.6h0m-.2-.1h0m2.2 2.4h0m4.9 .5h0m1-2.2h0m.5-.1h0m1.6 1.2h0m.1-.3h0m.5 .6h0m1.6 .4h0m1.3-1.2h0m.7 1.7h0m-1.1 .6h0m-.8 .5h0m-2.1 .9h0m-1.1-1.3h0m-.4 1.2h0m0-1.1h0m-.8 .8h0m-3.1 .6h0m-1.5 .6h0m-.3-.5h0m-.4-.9h0m-.4-.6h0m-1.5 0h0m-.1-.4h0m4.5 3.4h0" fill="none" stroke="#b3c7e6" stroke-width="2.1" stroke-linecap="round"/>
<path d="M671.3 482.5h0m4.6-.3h0m1.9 .4h0m1.5 2.7h0m-.6-.9h0m-1.1 1.3h0m-2.7-.7h0m-3-.5h0m-.7-.1h0m-.8-.6h0m-1.6 1.4h0m-.1-1.2h0m-.2 .6h0m-.2-.4h0m0-1.2h0m-.3 .1h0m-.3 1.6h0m-1.2 .6h0m-.1-.8h0m-.7 4.2h0m.4-2.6h0m1.3 1h0m.4 1.4h0m.7-2.2h0m.9 2.3h0m.2-2.6h0m.3 1.9h0m.8-.1h0m.1 1h0m0-1.6h0m.3 .9h0m.2-.8h0m.1 .3h0m.5-.6h0m.3-.8h0m1.1 1h0m.5-.3h0m.2 .6h0m1.4-1.2h0m.1 1.7h0m.8 .6h0m.9-.9h0m.1-1.1h0m1.4 .1h0m.5 .3h0m.2 1h0m.4-1.6h0m.3 1.8h0m6.7 2.9h0m-.4-.3h0m-1.6 .4h0m-.1 .2h0m-1.6-1.2h0m-.8 .7h0m-2-1.5h0m-.2 .8h0m-.5 .5h0m-.8-.5h0m-.1-1h0m-.7 1.1h0m-.4 .4h0m-.2-.3h0m-.6 1.3h0m-.2-2.2h0m-.2 2.3h0m0-2.7h0m-.1 2.2h0m-.3-.3h0m-1.6-1.8h0m-1.2-.1h0m-.4 2.3h0m-.5 .4h0m-.8-1.6h0m-.3 1.6h0m0-1.9h0m-.1 1.6h0m-2.9-1.9h0m-.5 .7h0m-1.4 .9h0m-.7-.1h0m-.2-.8h0m-.1 .3h0m-1-.3h0m1.7 2.7h0m1.1-.6h0m2.1 1h0m.6 .6h0m.9-1.3h0m.1 .5h0m1.2 1.2h0m1.2 .5h0m.4-.4h0m0-1.7h0m.5 1h0m.2-1.7h0m.2 0h0m0 1h0m.3 0h0m.1-.8h0m1 1.1h0m.7-.5h0m.1-.9h0m.2 .1h0m.7 .3h0m.3-.4h0m.1 2.3h0m.1-1.7h0m.5 .1h0m1.3-.1h0m1.1 .3h0m.2 .1h0m.6-.6h0m0 .4h0m.2 .7h0m.1-.8h0m.1-.1h0m.6 1.4h0m.1-.5h0m1.4-.1h0m2.2-1.1h0m1.1 2.1h0m2-.8h0m.5 1h0m.6 2.9h0m-.5-1.2h0m-.5 0h0m-.2 .5h0m-.4 1h0m-1.1-1.6h0m0-.8h0m-3.8-.4h0m-1.4 1.3h0m-.5 .9h0m-.6-.8h0m-.2 .9h0m-.1-1.2h0m-2-.4h0m-.1 1.7h0m-.1-.3h0m-.9-2.1h0m-.3 2.4h0m-.8-.3h0m-.1-1h0m-.3 1.3h0m-.6 .4h0m-.6-2.2h0m-.1 1.9h0m-.5-1.6h0m-1.5 .2h0m-.4 1.8h0m-.8-2.2h0m-1.4-.1h0m-1.7 3.4h0m.2-.5h0m.4 2.3h0m.4-.3h0m.5 .2h0m.1-2.7h0m2.7 .5h0m.2 .9h0m1-.8h0m.5-.6h0m.1 .2h0m0 .9h0m1.6 1.3h0m.8 0h0m1-.4h0m1.2-.6h0m1.2 .3h0m.1 .5h0m.2-2.2h0m1.2 .8h0m.4 1.7h0m.9-2h0m.4 2.3h0m.3-2.3h0m.4 1.2h0m.3-1.4h0m.1 2.5h0m.4-2.4h0m0 2.2h0m1.1 .2h0m.4-2h0m.2 1.1h0m1.2-.6h0m.1-1h0m1 2.2h0m.8-.6h0m.8-1.9h0m.3 3h0m-1 1.5h0m-.6 .3h0m-1 0h0m-.2-1.2h0m0 1.4h0m0-1.9h0m-.9 1.8h0m-.6 .4h0m-.1 .2h0m-.7-1.3h0m-.4-.6h0m-.1 1.4h0m-.1-1.2h0m-1.6 1.9h0m-.2-1.5h0m-.1 .7h0m-1.1-1.5h0m-.3 2.4h0m0-2.1h0m0 1.7h0m-.4 .2h0m-.2-1.2h0m-.9-.2h0m-1.7 .7h0m-.1 .2h0m-.1-.5h0m-.7 1h0m-1.2-1.7h0m-1.2 1.8h0m-.1-1.8h0m-3.9 .8h0m-.5-1.6h0m-.1 1.6h0m-.1 .1h0m0-.6h0m-.5 1.3h0m-1.3-2.2h0m1.8 2.7h0m1.3 2.3h0m.3-.5h0m.2 .4h0m.8-1.9h0m.2 1.4h0m.7 1.2h0m.3-.3h0m4.1-.7h0m.7-1.9h0m1.6 2.7h0m.3-1.6h0m.1 .7h0m2.5-1.7h0m.3 2h0m.4-.5h0m1 .8h0m.5 .5h0m.8-1.6h0m.5 .3h0m.1-.4h0m2.2-.9h0m.2 1h0m-1.3 1.9h0m-1.6 .3h0m-.3 1.2h0m-1.7 1.1h0m-2.7-1.9h0m-1.6 1.5h0m-.4-1.5h0m-.2-.9h0m-.9 .5h0m-.1 1.4h0m0-1.9h0m-.2 1.4h0m-.3 1.5h0m-.5-.7h0m0-1.7h0m-.8 2.1h0m-1-1h0m-.5-1.6h0m-.1 2.3h0m-.3 .3h0m-.2-2.2h0m-.1 .1h0m-1.3 .2h0m-.1-.2h0m-.6 .8h0m-1.3-1h0m7.6 3.3h0m.9 .6h0m.6-1.2h0m1.8 1h0" fill="none" stroke="#858585" stroke-width="2.1" stroke-linecap="round"/>
<circle cx="788.8" cy="405.8" r="4" fill="#f783ac"/>
<text font-size="12.8" fill="#111" transform="translate(799.4 409) scale(1 1.08)">T<tspan font-size="7.8" dy="3">RM</tspan></text>
<circle cx="788.8" cy="424.5" r="4" fill="#aec7e8"/>
<text font-size="12.8" fill="#111" transform="translate(799.4 427.7) scale(1 1.08)">T<tspan font-size="7.8" dy="3">naive</tspan></text>
<circle cx="788.8" cy="443" r="4" fill="#1a9e8f"/>
<text font-size="12.8" fill="#111" transform="translate(799.4 446.3) scale(1 1.08)">Treg</text>
<circle cx="788.8" cy="461.1" r="4" fill="#1fb5c9"/>
<text font-size="12.8" fill="#111" transform="translate(799.4 464.8) scale(1 1.08)">γδ T</text>
<circle cx="788.8" cy="479.8" r="4" fill="#808080"/>
<text font-size="12.8" fill="#111" transform="translate(799.4 483.5) scale(1 1.08)">DETC</text>
<circle cx="633.1" cy="532.6" r="3.8" fill="#c8c8c8"/>
<text font-size="12.8" fill="#111" textLength="33.1" lengthAdjust="spacing" transform="translate(641.4 535.3) scale(1 1.08)">CTRL</text>
<circle cx="683.2" cy="532.6" r="3.8" fill="#2077b4"/>
<text font-size="12.8" fill="#111" textLength="73" lengthAdjust="spacing" transform="translate(690.4 535.3) scale(1 1.08)">Gi-DREADD</text>
<path d="M720.4 541.5h0m1.7 1.4h0m.1-.4h0m1.1-.8h0m.2-.9h0m.8-.2h0m2.2 1.6h0m.3-.4h0m1.8 .3h0m.3-.7h0m1.4-.4h0m6.4 1.9h0m3.2 1.5h0m-1.5 1.3h0m-.5-1.4h0m0 .8h0m-1.6 .5h0m-.2-1.9h0m-2 .8h0m0-1h0m-.5-.2h0m-1.8 0h0m-.2 1.3h0m-3-.3h0m-1.7 .3h0m-2.2 .6h0m-2.1 .3h0m-1-.5h0m-.9 .4h0m-.2-1.5h0m-2.5-.1h0m-2.7 2.8h0m.5 1.6h0m.3 .5h0m.6 .1h0m1.3-1h0m1.1 .7h0m.1-.5h0m1-1.5h0m.8 .7h0m.3 1.5h0m.9-.2h0m1-1.2h0m0-1.3h0m1.7 .3h0m.1-.1h0m2.3 2.3h0m.5-2.4h0m.6 .8h0m.3 .9h0m.7 .4h0m1.4-.3h0m2-1h0m.9 1.7h0m.8-2.3h0m1.3 1.7h0m1.4-1.3h0m.5 .4h0m1.5 1.2h0m.7-2.3h0m.6 1.2h0m.7 1.1h0m.4-2.1h0m.3 2h0m.4-.8h0m.6 1h0m.5 2.3h0m-.8-1.3h0m-.2 .4h0m-2-.1h0m-.7-.5h0m-1.8 .9h0m-1.3 0h0m-.2 1.2h0m-.9-1.7h0m-.5 1.6h0m-1.1-1.4h0m-.7-.5h0m-2.1 1.1h0m-1.9 .4h0m-.4 .8h0m-.3-2.3h0m0 .1h0m-2.3 .8h0m-1 .9h0m-2.3-1.2h0m0 1.2h0m-.4-.1h0m-1.2-.8h0m-.1-.9h0m-.1 .2h0m-.8-.3h0m-1.3 .6h0m-.3 1.6h0m-.7 .5h0m-.1-2.5h0m-.8 2.4h0m-1.8-2.8h0m-.9 2.3h0m-1.1 .5h0m2.7 2.9h0m.6-1.6h0m0 .2h0m1-1.3h0m.2 .4h0m2.5 .2h0m.5 2.1h0m.1-2.6h0m0 1.8h0m.3 0h0m.6-.5h0m.3-1.4h0m.8 2.9h0m0-.4h0m1.2-1.1h0m.1-.9h0m.9 2.3h0m0-.7h0m.6 .4h0m1.3 .4h0m.3-2.2h0m1.4 .4h0m1.6-1.1h0m2.4 1.3h0m.1-1.3h0m.3 .7h0m.8-.7h0m1.8 .6h0m.7 1h0m4.2-.3h0m.5 .3h0m.2-.8h0m.4 1.4h0m.5-.4h0m1-1.1h0m-2.1 2.8h0m-.7-.3h0m-.2 2.5h0m-1.1-1.9h0m-3.5 1.7h0m-2.1-1.7h0m-1.5 1h0m-1.5 0h0m-1-1.1h0m-.5-.5h0m-.2 .3h0m0 2h0m-.3-1.9h0m-2 2.2h0m-.1-1.9h0m-.4 1.3h0m-.4 .7h0m-.9-2.7h0m-2.4 2.3h0m-.3-.8h0m0-1.4h0m-.6 1.4h0m-.3-.1h0m-1.6-.6h0m-.6 .4h0m-.3-1.2h0m-1.1 1.8h0m-.5-1.9h0m2.7 5.2h0m.2-1.9h0m0 .7h0m1.2 0h0m.3 1.8h0m1.3-2.7h0m1.2 2.2h0m.1-1.9h0m1.1 .8h0m.4 .8h0m.4 0h0m.1 .4h0m1-.1h0m.2-.9h0m1.5 1.3h0m.1-.4h0m.1-2.2h0m.2 .1h0m.8 .9h0m.1 1.7h0m.1-2.1h0m.8 .1h0m.9 0h0m.1-.4h0m.4 .2h0m2.1 1.2h0m1.2-1.6h0m3 1.8h0m.9 .8h0m.5-.7h0m-3.6 3.7h0m-.1-1.2h0m-.8-1.3h0m-.7 0h0m-.4 .3h0m-.5-.6h0m-1.3 1.9h0m-.1-.6h0m0-1.2h0m-.3 .1h0m0 1.1h0m-.3-.4h0m-.2 0h0m-.4 .5h0m-.1-1.2h0m-.1 1.5h0m-.1-.4h0m-.2 1.3h0m-.1-.2h0m-1.1-.5h0m-.1-.6h0m-.1 .9h0m-.1-.2h0m-1.1-.5h0m-.1-1.6h0m-.7 2.3h0m-.6-.7h0m-.8-.5h0m-.1 1.6h0m-.6-.8h0m0-.8h0m-1 1.7h0m-.2-2.7h0m-.6 2h0m0 .5h0m-.3-.4h0m-.4-1.1h0m-1.1 .8h0m-.5-.6h0m-1.9 .1h0m-.8 .2h0m-.4 .1h0m-1.1-.3h0m-45.6 .7h0m0 .7h0m-2.6 .1h0m-.1-1.4h0m-.5 1h0m-.4 .3h0m-.4-1.4h0m-1 .7h0m-.2-1.2h0m-2.3 1.2h0m-3-.8h0m-.1-.6h0m-2.6 .6h0m-.3 .4h0m-.3 .7h0m-4.4 2.6h0m.9-.6h0m1.2 .9h0m1.3-1.9h0m.4 1.8h0m.8 .5h0m.8 .2h0m.6-2.1h0m.1 .6h0m1.3 .9h0m.2-.6h0m1 .7h0m3-2h0m1.2-.3h0m.3 1.3h0m2.2 .8h0m.5 .6h0m.2-2.4h0m.2 .4h0m.3 1.2h0m3.5 .7h0m.4-1.7h0m2 1.1h0m40.4-1.1h0m.8-.4h0m1 1.4h0m.4-.5h0m0 .5h0m.3-.2h0m.8-.2h0m1-.1h0m.6 1.3h0m.3-2.8h0m.2 .5h0m1 1.9h0m.7 .2h0m.4-2h0m.5-.6h0m0 1.6h0m1.9 1h0m3.4-1.1h0m.8 .2h0m.1-.4h0m2.1 .1h0m.6-.3h0m1.3-.9h0m.8 2h0m.4 .1h0m1.4 .6h0m.2-2.5h0m-1.2 4.8h0m-.8-.9h0m-.2 1h0m-1 .2h0m-.8-1.7h0m-.3 1.5h0m-.3 .3h0m-1-1h0m0-.3h0m-.6 .1h0m-.7 .6h0m-1.5 .2h0m-.3-1.4h0m-.5 .8h0m-.4-1.6h0m-.3 .9h0m-.8 1.5h0m-2.6-1.6h0m-.3 2h0m-1.2-2.4h0m-.3 2h0m-.9-1.7h0m-.6 2.1h0m-.1 .1h0m-.7-2h0m-.4 1h0m-.6-1.3h0m-.7 .4h0m-.5-1h0m-1.9 2.6h0m-.9-.8h0m-38.7 .4h0m-.2-1h0m-.1 .9h0m-2-2.1h0m-1.7 .2h0m-1 0h0m-1.3 .5h0m-.4 1.4h0m-.8-.3h0m-.1-.8h0m-.4 1.4h0m-1.7-.4h0m-1.4 .7h0m-.1-2.3h0m-.1 .1h0m-.3 1.2h0m-1.4 .4h0m-.9-.4h0m-.1-1.6h0m-2.2 .9h0m-.4 1.7h0m-1.1-1.9h0m-1.1-.5h0m-.2 1.9h0m-.4 .3h0m-.8-1.8h0m-1.2-.1h0m-1.3 2.3h0m-1.5-.5h0m.3 3.1h0m1-1.6h0m.8 .3h0m.1 .1h0m1-.6h0m.3-.2h0m.1 1.2h0m.3 .1h0m.2-.9h0m.7-.3h0m2 2h0m0 .1h0m0-1.2h0m.8 0h0m.9-.6h0m.5-.8h0m2.5 .5h0m.5 1.5h0m0-1.1h0m1.5 .2h0m1.1 .2h0m.3 .3h0m.1 .7h0m.8-.8h0m.9-.6h0m1 1.2h0m4.8-2.1h0m1.8 1.4h0m2-.4h0m37.1 .6h0m.5 .2h0m.7-1.4h0m.2 1.1h0m.6 .4h0m.1-.5h0m.6 .3h0m.1 .4h0m.6-1.6h0m.2 2.3h0m1-2.8h0m.2 1.1h0m1.9 .6h0m.2-1.1h0m1.8 2.2h0m.7-1.4h0m.6-.1h0m.5 .8h0m2.4-.8h0m3 .4h0m.9-1.3h0m1.1 0h0m1.3 2.2h0m3.3-1.6h0m.5-.4h0m-3.6 3.6h0m-4.4 1.3h0m-.1-1.5h0m-2.4-.2h0m-.7-.9h0m-.4 .1h0m-.1 1.1h0m-.3 1.2h0m-2.7-.6h0m-.7-.8h0m-2-.6h0m0-.4h0m-.2 .5h0m-1.6 1h0m-.5-1.3h0m-.6 1.2h0m-4.8 1.2h0m-2.2-.2h0m-.4-1.6h0m0 1.3h0m-2.5-.9h0m-.5 .8h0m-.6 .3h0m-.2 .1h0m-6.9 .5h0m-24.7-2h0m-.3 1.3h0m-.4 .6h0m-1.3-2.3h0m-.1-.2h0m-.4 .7h0m-.6 1.5h0m-.3-1.3h0m-.2-1.1h0m-1.7 .2h0m-.8 0h0m-.9 2.1h0m-.1 .1h0m-.4-1h0m-.2 0h0m-2-.3h0m-.4-1.2h0m-.8 .3h0m-.1 .8h0m-2.6 1.6h0m-.5 .1h0m-.5-1.6h0m-.1 1.3h0m-1.4-.7h0m-.6-1.5h0m-.1 .8h0m-1.5 1.3h0m-.4-.9h0m-1.2-.7h0m-.2 .7h0m-1.3 .8h0m0-.9h0m0 .3h0m-.4 .7h0m-.1-1h0m-1.9-.6h0m1.6 2.5h0m1.5 1.9h0m.4-2.1h0m.2 .6h0m0 0h0m.3 .8h0m.5 .5h0m.1-1.8h0m.9 1.3h0m1.1 1h0m5.7-.8h0m.2-.2h0m1.2-.4h0m1.4 1.8h0m.7-2.1h0m1 1.6h0m.1-1.8h0m.8 1.5h0m.3-1.8h0m.8 1.4h0m2-.8h0m.6 1h0m.3-1.9h0m.7 1.2h0m.7-.8h0m.1 2h0m.6-1.7h0m.4 .2h0m.1 1.3h0m.1-.9h0m.3 .7h0m.1 .6h0m.7-.8h0m12.5-.2h0m2.5 1h0m6.9-.1h0m.7-1.7h0m1 1.2h0m1.4-1.7h0m.9 .5h0m.8 1h0m0 1h0m.2-1.2h0m.8 1.3h0m.5-1.7h0m.2 .3h0m1.1-.8h0m.3 1h0m0-.2h0m.4-.1h0m.5 1.3h0m1.8-.2h0m0-.6h0m0-.2h0m.9-.4h0m1.5-.9h0m1 2.1h0m1.7-.4h0m3.8 .4h0m1.7 .4h0m6.5-2.8h0m.9 .5h0m1.6 .8h0m.4 .8h0m2.8-1.1h0m.4 .4h0m.4-1.4h0m-9.6 4.3h0m-1.4-.3h0m-2.9 1.3h0m-.3-2h0m-1.1 2.5h0m-1.3-2.1h0m-.3 1.1h0m-1.3-1.3h0m-.2-.2h0m-.9 2h0m-.6 0h0m-1.5-2.3h0m-.4 1.7h0m-.3-1h0m-.4-.5h0m-.1 .6h0m-.3 .6h0m-1.3-.3h0m0 1.2h0m-1.8 .4h0m-1.1-1.7h0m-.8-.9h0m-.5 2.2h0m-1.5-2.1h0m-.8 2.5h0m-.9-1.6h0m-1.4 .7h0m-1.2-.7h0m-1.5 .9h0m-1.3-.7h0m-3-1.2h0m-.9 .2h0m-2.8 2h0m-10.5-1.8h0m-2.1 1.2h0m-2 .5h0m-.5-1.2h0m-.2 1.6h0m-.5-.6h0m-2.8-.2h0m-.3 .6h0m-1.2-2.3h0m-.1-.1h0m-.9 1.1h0m-.3 1.1h0m-.1 0h0m-.1 .2h0m-.4-1.2h0m-.1 .1h0m-.9 .3h0m0-.5h0m-1 .3h0m-1 1h0m0-.2h0m-.1-1.8h0m-.4-.2h0m-.8 .6h0m-.1-.7h0m-.1 1h0m-1.3 1.2h0m-.5-.5h0m0-.3h0m-.6-1h0m-2.6 1.6h0m-.5-1.8h0m3.2 3.7h0m.7-.3h0m.4-.3h0m4.1-.5h0m3.8 1.2h0m.3-.4h0m.3 1.1h0m.4 .8h0m2.1-.8h0m2 .4h0m.1-.5h0m.9 .5h0m.3-.4h0m.5-1.4h0m10.2 .3h0m1.9 1.8h0m.5-2.2h0m2.1 1.3h0m1-1.3h0m5.2 .7h0m1 1.3h0m4.8-1h0m.6 .1h0m0-1.2h0m.5 .9h0m2.3-.2h0m.7-.1h0m2 .2h0m.1-.8h0m.4 2.5h0m.4-2.4h0m.7 1.1h0m.1 .5h0m.2 .3h0m.4-.4h0m.4 .6h0m.5 .4h0m.6-1.5h0m.2 .7h0m.1-.5h0m1.3 .9h0m3.1-.5h0m.4-.2h0m.4-.6h0m.5 .6h0m1.9-.9h0m.1 .8h0m.6-1.1h0m2-.4h0m4.2 3.9h0m-4 1.1h0m-.6 .5h0m-1.5-1.5h0m-.7 1h0m-2.1-1.4h0m-1.9 1.8h0m-.3-1.7h0m-.2-.7h0m-2.6 2.6h0m-.8-1h0m-.4-.7h0m-1.4 .4h0m-.6 .1h0m-1.6 1h0m-1.7-2.5h0m-.4 1.8h0m-2.6-.7h0m-3.6 1.6h0m-.3-.7h0m-.3-.2h0m-1.6 1h0m-.7-2.5h0m-.7 .4h0m-3.8 .6h0m-1-.7h0m-.1 .9h0m-2.3 1.1h0m-.7 0h0m0-1.9h0m-2.6 1.4h0m-.4 .4h0m-.8-.3h0m-1.8 .6h0m-3.9 2.7h0m4.7 .2h0m1.4-1.9h0m0 1.5h0m.8-1.6h0m.1 1.1h0m0-1.9h0m.2 .5h0m1.2 2.1h0m.5-.8h0m.9 1h0m.4-1.5h0m1.1-.5h0m5.3-.4h0m2.7-.1h0m2.9 2h0m.3-.1h0m1.6 .4h0m4.8 .2h0m.8-1.5h0m.7 .6h0m1.7-1.4h0m1.7 .9h0m.8 1.2h0m.5-.6h0m0-1.2h0m1.1 1.7h0m1.5-1.3h0m2.4 1.3h0m1.4-1.3h0m.1-.8h0m1.2 1.1h0m2-.8h0m2.7-.2h0m1.7 .3h0m-1.7 2.2h0m-1.9 2.8h0m-3.7-.3h0m0 .1h0m-.5-1.9h0m-.4 .2h0m-.8 .4h0m-.2 .7h0m-.9-1.7h0m-.9 2.5h0m-.2 .1h0m-1.3-2.9h0m-.4 2h0m-1 .6h0m-1.6 .1h0m-.3-1.5h0m-1.2-.5h0m-1.2-.3h0m-.2 2.3h0m-2-1.8h0m-1.6-.3h0m-2.2 .3h0m-.9 1.1h0m-.3-1.6h0m-.7 1h0m-2.9 1.3h0m-.9-1.3h0m-1.1 .3h0m-1.8 .3h0m-1-1h0m-.9-.9h0m-.8 .8h0m-.9-.5h0m-.8 2.4h0m-1.8-2.6h0m-1.4 1.1h0m-.3 .7h0m-.1-1.8h0m-.4 1.2h0m-.1 1h0m-2.2-2.2h0m-.9 1.4h0m-1.2-.3h0m-1.4-1.2h0m-1.2 1.1h0m3 2.9h0m.4 .4h0m0 1.1h0m1.1-.4h0m1.3 .1h0m0-1.8h0m1 2.4h0m1.5-1.5h0m3.6-1.3h0m.5 1.9h0m.4-.3h0m2.9 .5h0m1.8-1.4h0m1.4 1.8h0m3.9-2.6h0m.1 2.6h0m.1-1.4h0m.3-.6h0m.4 .2h0m.9 .1h0m.7-.9h0m1.3 2.6h0m.2-.2h0m.1 .5h0m0-1.4h0m.1-.4h0m.7-.9h0m2.1 2.5h0m.4-.7h0m.2-1.9h0m.8 .9h0m.5 0h0m0 .1h0m1.5-.8h0m3.7 2.1h0m.5-1.3h0m.2-.3h0m.5 1.6h0m.3 .1h0m1.1-2.4h0m1.1 .6h0m.1 1.8h0m.2 .3h0m1.2-1h0m.6-1.1h0m3.3 1.3h0m.1-.7h0m2 1.6h0m-1.8 2h0m-.6 1h0m-.8-2.7h0m-.9 .9h0m-.1-.5h0m-.7-.2h0m-.2 .8h0m-.7-1.1h0m-.1 2.1h0m-.8-.2h0m-.5-1.4h0m-.1 1.2h0m-.2-.3h0m-.8 1.1h0m-.4-1.7h0m-.4 .4h0m-.3 1.3h0m-1.6-1.1h0m-.4 .9h0m-1-1.1h0m-.6 .5h0m-.8 .8h0m-.2-2.5h0m-.1 .7h0m-.8 0h0m-.4 1.2h0m-.2-1.6h0m-2.6-.1h0m-1 2.3h0m0-.3h0m-.7-1.3h0m-.2-.6h0m-.9 1.4h0m-.3 0h0m-.1 0h0m-.9 .8h0m-1-1.3h0m0 1.3h0m-1.2-.5h0m-.1 .6h0m0-2.4h0m-.4 2.6h0m0-2.3h0m-1 .2h0m-1 1.8h0m-.7-1.8h0m-.5-.6h0m-.1 1.8h0m-.9 .6h0m-1.1-1h0m-1.1-.4h0m-1.8 1.3h0m-1.5-.3h0m-1.1-.9h0m-2.2-1.2h0m-.4 .3h0m-1.4 2.4h0m-2.2-2.3h0m-1.4 1.1h0m-2.4-.6h0m-1.2 1.7h0m4.5 1.8h0m.4-1h0m.8 .3h0m.8 .2h0m.4 1.2h0m.6-1.2h0m3.1-.5h0m1.6 0h0m2.1 .4h0m.4 1.5h0m.4 .4h0m.2-.2h0m1.1-.9h0m.4 .1h0m.2-.1h0m.8-1.2h0m.4 1.5h0m.8-.6h0m0-.6h0m.1 1.3h0m.4-.2h0m.4-1.5h0m0 1h0m1-.3h0m1.7 .2h0m.5 .5h0m.8-.7h0m.7 0h0m.5 .9h0m.5-1.5h0m1.6 .2h0m.5 1.9h0m.5-1.6h0m.6 1.9h0m.3-.1h0m.1-.9h0m.6 .3h0m0 .5h0m3.1-.7h0m.2-1.7h0m0 1.9h0m.6-.5h0m.4-1.3h0m.4-.2h0m.1 .1h0m.5 1.6h0m.6-1.9h0m1.7 .3h0m1.3 2.4h0m.1-1.8h0m.4 .6h0m.5 1h0m.2-2.1h0m.6 1.3h0m.4 0h0m0-1.3h0m.2-.4h0m0 .9h0m.6-.8h0m1.6 .7h0m.9 .5h0m15.9 1.6h0m.9-.4h0m.3-.4h0m7.4 .3h0m3.3 3.4h0m-.8-.3h0m-.6-2.1h0m-1.3 2.3h0m-.4-2h0m-1.8 2.1h0m-3.5-1.9h0m-1 1.4h0m-.2-.4h0m-3.6 .7h0m-.3-1.1h0m-12.6-.1h0m-.3-.8h0m-.6-.1h0m-.2 .2h0m-2.7-.2h0m-2.7 1.4h0m-.1-1h0m-1.8 1.9h0m0-2.1h0m-.2 .3h0m-.7-.6h0m-1 0h0m-.9-.3h0m-1.5 1.8h0m-.4 .3h0m-.4 .7h0m-.5-.4h0m-2.2-.3h0m-1.1-1.1h0m-.3-.1h0m-.7-1h0m-.7 .5h0m-.6 .9h0m-.7 .9h0m-.2-1.6h0m-.3 1.2h0m-.9-1.2h0m-.1-.1h0m-.2 2h0m-.8-1.8h0m-.4-.5h0m-1.1 1.2h0m-.1-.7h0m-.2-.5h0m-.4 1.2h0m-.1-.8h0m-1 .5h0m-.6 .1h0m-.4 .3h0m-1.3 0h0m-.6-.9h0m-.5 1.9h0m-4.9 .1h0m-.4 0h0m-.1-2.7h0m-1.2 .5h0m-.5-.2h0m-.7 2.4h0m-4-2.1h0m9.1 3.9h0m1.1-.8h0m.2 1.7h0m0-.1h0m1.1-1.1h0m.5-1h0m.2 0h0m0 1.7h0m.8-1.1h0m.5-.6h0m.1 .7h0m.1 .7h0m1.9-1.3h0m.3 .2h0m1.3 .4h0m.1 1.3h0m.3 0h0m.1-1.4h0m0-.4h0m.2 .8h0m.1-.9h0m1.7 1.6h0m.7-.4h0m.1 .1h0m1.1-.8h0m.5 1.1h0m.7-.5h0m.4-1.3h0m1.5 .5h0m.5 .3h0m1.8-.7h0m.1 1.7h0m.1 .4h0m1.2-.5h0m1.8 .5h0m3.1 .6h0m.8-.7h0m.8-.7h0m.5-1.3h0m1.1 2.1h0m1.7-1.1h0m.2-1.1h0m.3 1.1h0m3.5 .3h0m0-1h0m11.3 1.6h0m5.6-.1h0m.4 .4h0m.1-.9h0m2.5 1.2h0m.2-.5h0m1.1-.6h0m1.2-.9h0m2.8 1.1h0m-.6 3.9h0m-.9-1.1h0m-1.6-.4h0m-.5-.6h0m-.1 .3h0m-.9 1.9h0m-.4 .1h0m-1.8-.9h0m-4.7 .9h0m-.2-1.4h0m-1.3 1.4h0m-.1-.4h0m-11.6-1.5h0m-1.9-.3h0m-.1 1.3h0m-1.8 0h0m-5-1.2h0m-.1 .9h0m-.5-.1h0m-.8 1.2h0m-.6-.9h0m-.3-1.4h0m-1.8 .6h0m-.6 .2h0m-.8-.6h0m-.1 1h0m-1.2-.4h0m-.5-.7h0m-.7 1.2h0m-.4-1.7h0m-1.7 .1h0m-2.4 1.7h0m-.1-1.7h0m-.9 0h0m-.3 2.4h0m-1.2 0h0m-2.3-1.3h0m-.8 1.5h0m-2.4-.3h0m-1.1 .2h0m-.1 0h0m-.5-1.6h0m-.1 1.4h0m-.1-1.9h0m-.3 .1h0m-1 4.4h0m1.9 .6h0m.4-2.2h0m1.6 1.3h0m0-1h0m1.9 .6h0m.5 1.3h0m.3-2.4h0m.4-.2h0m3.7 .4h0m0 1.1h0m1.3 .3h0m.7-.1h0m1.1 .5h0m.5-.4h0m1.9 1h0m3.2-.1h0m.2-1.6h0m.3-.3h0m.1 .7h0m.6-1.6h0m2.3 1.5h0m.7 1.3h0m.7-2.4h0m.2 1.2h0m2-1.5h0m2.6 .6h0m.6 .9h0m.6-1.3h0m15.8 .2h0m.4 .9h0m.3 .5h0m1.5-.6h0m.3 1.6h0m2.8-2.2h0m.8 .3h0m1.5 .1h0m2.1-.9h0m-28.3 4.1h0m-1 1.1h0m-.6-1.7h0m-1.6 .6h0m-3.2 .3h0m-1.5 1.3h0m-.1-.3h0m-2.7 .2h0m-.7-1.9h0m-1.5-.1h0m-.2 .4h0m-.1-.6h0m-.8 1.9h0m-.7 .3h0m-1.8-2.3h0m-.2-.2h0m-2.5 1.8h0m-.4-1.6h0m-.6 1h0m-.3-1h0m-.6-.3h0m-1-.2h0m-.6 1.6h0m-3.1-1.5h0m-.4 .5h0m-2.2-.3h0m2.6 4h0m.7 1.6h0m2.5-2.9h0m.9 1.7h0m.1-1.2h0m.6 1.6h0m.4-1.4h0m1.2-.5h0m.2 2.5h0m.2-.1h0m1.6 .2h0m.1-1.3h0m1.6-.1h0m1.4-.4h0m.4 1.5h0m.1-2.2h0m.8 2h0m.8-.2h0m1.2 .7h0m.2-2.8h0m.2 1.7h0m.1 .6h0m.1-.2h0m.6-.1h0m1.9-.6h0m.8 .7h0m.1-.5h0m.4-1.1h0m0 2h0m.1-.1h0m.8-.1h0m.2-.1h0m.3-.8h0m.8 .7h0m.6-.4h0m.6 .9h0m1.4 2.9h0m-.9 .4h0m-.5-2.6h0m-1 1h0m-.7 .2h0m-.2 1.3h0m-.1-2.2h0m-.2 1.6h0m-.2-2h0m-1 2.7h0m-.1-1.3h0m-.2-1.1h0m0 1.7h0m-.4 0h0m-2.2-2h0m-.5 .9h0m-.3-.2h0m-.4-.5h0m-.2 1h0m-.3 .5h0m-.3-.8h0m-.7-.7h0m-.1 .7h0m-.6-.7h0m-.1-.2h0m-.1 2.4h0m-.4-1.3h0m-.2-1.2h0m-.1 .1h0m-.4 2.6h0m-.5-.8h0m-.4-1.8h0m-2.1-.1h0m-1.2 1.2h0m-.1-.9h0m-.6 .2h0m-.4 2.3h0m-.4-.6h0m-1.1-.1h0m-.9 .2h0m-.2-1.7h0m-2.7 .5h0m-.2-1h0m-1 1.8h0m-22.2-.3h0m-7.6 .8h0m-.3 .1h0m-1.9 3h0m.3-1.6h0m.1 .8h0m1.2-.6h0m.6-.5h0m.2 2.1h0m.3-1.1h0m1.6-1.4h0m.8 .6h0m.7 .1h0m3.5 1.8h0m2.2-.6h0m1.1-1.3h0m.6 .9h0m.5 1.1h0m14.5 0h0m2.4-2.4h0m.3 1.8h0m.4-.2h0m.4-.5h0m.3 .5h0m1.5-1.4h0m.3 .5h0m0 1.3h0m.2 .2h0m.1-.2h0m.4-1.7h0m1 1.2h0m.9-.2h0m.1-1h0m2 .9h0m2.1-.8h0m1.5 1.7h0m2-2h0m.5 0h0m1.5 1.4h0m.4 .9h0m.4-2.7h0m.6 .6h0m.4 1.4h0m.6-1.4h0m1.5-.2h0m.1 .2h0m.1 1.6h0m1.3-.4h0m2.1-1.4h0m.5 2.1h0m.3-.6h0m3.3-.4h0m.2 2.6h0m-.2-.8h0m-.1 1.6h0m-1.1-1.2h0m-.3 1.1h0m-.9-1.1h0m-.2-.6h0m-.8 2.5h0m-.1-2.6h0m-.2 2.5h0m-1.3-2.7h0m-2.4 2h0m-.5-.1h0m-.3-1h0m-.3 .9h0m-.6-1.5h0m-.8 2.2h0m0-.9h0m-.4-.3h0m-.4-1h0m-.3 0h0m-1.5 2.3h0m-1.9-1.1h0m-.8-.5h0m-.3-.2h0m-.4 1.5h0m-.1-1.1h0m-1.2 0h0m-.7 1.5h0m-.2-2h0m0 1.1h0m-.1-1.5h0m-.3 1.6h0m0-1.5h0m-.9 2.5h0m-.3-2.3h0m-2.3 .1h0m-.2-.1h0m-1.2 2.1h0m-.1-1.6h0m-.5 0h0m-.1-.6h0m-1.2 .3h0m-.4 0h0m-.5-.2h0m-2.2 .3h0m-.9 .2h0m-14.2 1.8h0m-.9-1.4h0m-.2-1h0m-.5 2.2h0m-1.4-2.6h0m-.9 2.5h0m-.9-1.1h0m-1.5-.5h0m-.7-.3h0m-.1 1.9h0m-1.3-2.1h0m-.5 .6h0m-.1-.3h0m-.2 .8h0m-.3 .7h0m0-1.6h0m-.1 .6h0m-.8 .1h0m-2.1 .6h0m-.4-1.4h0m-1.7 1.6h0m-1.4 1.6h0m1.1 0h0m.2 .8h0m.7 .1h0m.8 1.2h0m.6-2.1h0m.5-.7h0m2.9 1.9h0m.1 .3h0m0-1.9h0m.3 .3h0m.8 1.6h0m.5-.4h0m1.5 .7h0m.2 0h0m.4 .2h0m1.1-1.3h0m.3 .3h0m.1 .5h0m.2-2.3h0m.1 2.5h0m.2 .1h0m.5-1.7h0m.5 1.6h0m.9-1.8h0m.8 .5h0m2.7 .2h0m.8-.7h0m1.6 1.2h0m1.7-.6h0m.1 1.5h0m.3-1.2h0m8-.2h0m1.4-.9h0m1 .3h0m.3 .2h0m.4 1.5h0m.3-1h0m.5 .5h0m.4 .2h0m.3 .2h0m.1-.6h0m.3 .4h0m2.9 .4h0m.1-1.2h0m.7-1.1h0m2.2 2.3h0m.3-2h0m.4 1.3h0m.4 .7h0m.1-.3h0m1.5-.8h0m.1-1.4h0m2.4 .3h0m1.3 2.1h0m.5-.6h0m1.5-.7h0m.2 .5h0m1.7 .7h0m.2-1.2h0m.8-.9h0m.7 1.7h0m.2-1.9h0m.2 1.4h0m.3-.1h0m3.9-.1h0m.9 .8h0m.6 .3h0m-5 1.3h0m-.3 1.6h0m-3.1-.7h0m-.5-1.4h0m-.8 2.1h0m-.2 .6h0m0-1.3h0m-1 .1h0m-.1-.8h0m-1.2 0h0m-.7 1.1h0m0 .9h0m-.2-1h0m-.7-.6h0m-.1 .2h0m0 .3h0m-.6 .8h0m-.1-2.3h0m-1.2 .1h0m-.5 1.1h0m-.1 .3h0m-1.5-.3h0m-.4 .5h0m-.4-1.9h0m-.6 .9h0m-.9 1.9h0m-.5-.9h0m-.6-.3h0m-1.1-.6h0m-.8-.9h0m-.4 1.4h0m-.4-.2h0m-.8-.9h0m-.2 1.9h0m-.1 .2h0m-.1-1.8h0m-.4-.3h0m-10.3 2.4h0m-.4-1h0m-3.3-1h0m-.1 1.6h0m-1.3-1.5h0m-.1 .5h0m-.6-1.4h0m-.1 .1h0m-.1 .8h0m-.2-.7h0m-.8 .1h0m-1.1-.3h0m-1.3 .1h0m-.3 2.3h0m-.3-.7h0m-1.4-1.4h0m-.7 .5h0m-1.1-.3h0m-.3 0h0m-.9 1.4h0m-.4 .4h0m-1.2-.5h0m-1.2-1.2h0m-.1-.5h0m-.9 1.3h0m-.6-.6h0m1.6 4.6h0m.1-2.4h0m1.4 .1h0m.8 2.2h0m.4-1.8h0m1.5-.2h0m.2 2.1h0m.3-.5h0m.1-1.9h0m.6 2.2h0m.6-.4h0m.4-.3h0m2 0h0m.1 .3h0m.1-1.7h0m2 .4h0m0 1.9h0m.1-.7h0m.8-.1h0m.5-.9h0m2.5 2h0m2.7-2.1h0m.8 2.1h0m.3-.5h0m.6-1.5h0m.5 0h0m.5 1.2h0m.7 .5h0m5.2-2.3h0m3.3 .5h0m1.4 1.4h0m.6-1.5h0m.4 .9h0m.7 .6h0m.9 .7h0m.2-1.4h0m.2-.7h0m2.6 1.1h0m0 .3h0m1.8-2.1h0m.3 0h0m0 .1h0m4 1.3h0m1.1 1.4h0m0 .1h0m.5-2.5h0m1.3 2.5h0m.4-2.4h0m.2 1.1h0m.9-.6h0m.7-.7h0m.6-.3h0m.1 1.4h0m-1.8 2.3h0m-2.1 1h0m0-.3h0m-1.7-.2h0m-.8 .8h0m-3.6-1.4h0m-.2 0h0m-.8 .3h0m-2.1 .1h0m-.7 1.2h0m-13.3 .3h0m-1.9-.5h0m-2.3-.6h0m-.2-1.1h0m-.4 2h0m-1.1-.2h0m-.4 .2h0m-.4-1.1h0m-.4-1.2h0m-.3 2.3h0m-.4-2.3h0m-.9 2h0m0 .9h0m-.4-2.6h0m-1.4 1.4h0m-.1-.5h0m-2.4 .3h0m-1 .4h0m-.8 0h0m-1.6-1.3h0m-.6-.5h0m-1 .8h0m-.2-.9h0m-3.3 2h0m-.4 .3h0m-.1 .5h0m-.3-2.8h0m-.2 .5h0m2.3 5h0m0-1.2h0m.1-.1h0m.6 0h0m1.9 1.6h0m2.1-.6h0m1.2-1.8h0m1.2 1.7h0m.7-1h0m.2 .3h0m.6 1.1h0m1.1-1.8h0m1.1 1.4h0m.4 .2h0m0-2.1h0m0 1.7h0m1.4-.5h0m.1-.7h0m.2 1.5h0m.2 .4h0m1.4-2.3h0m.1 1.2h0m.5-.8h0m.7 1.3h0m.7-.6h0m.9-1.3h0m0 1.4h0m1.2-.2h0m.3 1.5h0m.3-1.8h0m-1.4 4.7h0m-1.2-1.6h0m-1.3 1.3h0m-.5-.5h0m-4.2-.6h0m-.1-.7h0m-.3 1.6h0m-1.9 .3h0m-3.3 0h0m-.6 .4h0m-.9-.5h0m-.7-1.2h0m-1 .5h0m-.2-.4h0m-.3 .5h0m-.3 1h0m1.9 .2h0m.1 .2h0m1.3-.2h0m.3 2.1h0m1.9 0h0m.8-.4h0m0-1.7h0m.5 2.4h0m.3-1.5h0m.3-.9h0m1.1 .4h0m.4 1.5h0m.2 .6h0m1.4-2.1h0m2.7 1.9h0m1.7-1.1h0m.3-1.2h0m-4.3 3.5h0m-2.4 .2h0" fill="none" stroke="#c4c4c4" stroke-width="2.1" stroke-linecap="round"/>
<path d="M724.6 540.3h0m8.5 .8h0m5.2 1.1h0m3.8 3.2h0m-2.1-2.1h0m-4.1 1.7h0m-.8-.8h0m-2 1.5h0m-.7 0h0m-16.1-.7h0m-.2 2.7h0m.2-.4h0m7.3 1.3h0m.3-.2h0m3.8-1.4h0m4.5 .4h0m2.3 1.5h0m2.6-1.8h0m5.8 4.3h0m-11 .3h0m-7.5-.6h0m-1.3 0h0m-3.9-.9h0m-2.3 .2h0m-.3 1.4h0m4.1 1.6h0m1.3 1.3h0m4.8-1.9h0m2.4-.2h0m8 .1h0m6.1-.4h0m-4.8 5.5h0m-2.3-1.8h0m-2.3 .7h0m-4.2 .3h0m-1.4-1.2h0m-1.5 2.1h0m-3.2-.3h0m-3.6-2.1h0m-4.9 .7h0m4.3 4.1h0m.3 .3h0m1.3-.7h0m2.8-.2h0m.2-1.3h0m1.7-.2h0m1 0h0m2.5 .9h0m1.2 .5h0m1.8 .2h0m.6 .6h0m.7-2.1h0m.4 2.3h0m1.5-2.5h0m1.7 2.6h0m.4 2.7h0m-2.7-1.7h0m-4.7 1h0m-.9-1.6h0m-.4 2.7h0m-2.7-.7h0m-2.8-1.8h0m-1.2 1.7h0m-.9-.1h0m-1.2-.1h0m-56.4 .8h0m-6 .4h0m9 1.5h0m1.2 .8h0m.7-2.3h0m47.9 1.9h0m1.6-.9h0m2-1h0m0 2.2h0m2.2-2.2h0m5.8 2.6h0m6.2-.3h0m1.6 .4h0m1.8-.3h0m-1.7 2.5h0m-.2-.9h0m-7.1 0h0m-.1-.8h0m-3.4-.2h0m-1.1 .7h0m-3.2 2.2h0m-.1-2.9h0m-.4 .1h0m-1.7 .5h0m-.7-.3h0m-42.8 1.3h0m-.2-1.2h0m-.3 1.3h0m-5 .4h0m-1.6-1.9h0m-2.5 .5h0m-4.2 1.4h0m-2.5-1.3h0m-.1 3h0m6.5 0h0m5.7 1h0m3.2 .6h0m.6-.2h0m42.7-1.2h0m.9-1h0m.5 0h0m6.2 1.9h0m.5 .7h0m10-.3h0m-1.6 3.4h0m-.4-2h0m-11.5 2.1h0m-2.7-1.6h0m-.8-.8h0m-46.6-.1h0m-5.2 1.9h0m-9.5-1.6h0m-.5 1.8h0m-2.3 3.4h0m.7-.4h0m2.5-1.6h0m6.7 .2h0m1 1.3h0m1.1 .2h0m.6-1.7h0m6.1-.8h0m1.6 1.4h0m.2 .5h0m15.3-.2h0m11.1-1.7h0m0 2.5h0m3.3 0h0m.7-1.6h0m1.4 .4h0m2.9 1.6h0m4.8-1.9h0m.3-.5h0m2.6 .9h0m3-.7h0m3.6 .6h0m-37.3 4.5h0m-17.9-2.2h0m-.1-.6h0m-4.1 .4h0m-6.9 .1h0m5.2 2.6h0m2.6 .4h0m3.2 .3h0m22.2 0h0m.4 .1h0m11.2 1.2h0m1.9-1.5h0m.6-.6h0m.5 1.9h0m1.9-1.5h0m.8 2.1h0m3.2 0h0m.4-1h0m.7 .7h0m3.4-1.5h0m2.3 .9h0m1.8-.9h0m6.4 3.2h0m-3.1 .3h0m-10.6 1.6h0m-1-1.2h0m0-.5h0m-5.7-.9h0m-2.4 1.7h0m-9.9 .1h0m-3 .3h0m-8.4 2.1h0m3.6 1.3h0m8-2.2h0m3.3 1.4h0m4.6 0h0m8.8-.4h0m.2 1.2h0m9.8-.9h0m2.6 4h0m-1.9-.9h0m-.2-.5h0m-1.6 .7h0m-.1 .5h0m-.8-2.6h0m-5.3 1.7h0m-5.7-.2h0m-4.5-.9h0m-3.2 0h0m-1.7-.5h0m-12.6 .5h0m1.5 3.5h0m.3-.2h0m1.8-.9h0m1.6 1.1h0m5.3 1.7h0m14.1-.5h0m1.8-.1h0m.4-.5h0m5.7 .7h0m9 1.3h0m-3.8 .6h0m-.3 1.4h0m-.1-1.1h0m-2.4-1.6h0m0 1.9h0m-2.7-.4h0m-7.2 .5h0m-1.9 .8h0m-2.7 .1h0m-.2-.6h0m-4-2.1h0m-.4 .9h0m-1-.3h0m-7.1 .9h0m-2.4-1.6h0m-1.5 2.1h0m-2.2-.6h0m-1-1.6h0m-2.9 .8h0m5.6 4.1h0m4.5-1.5h0m5 .9h0m.6 .1h0m2-1.1h0m.3 2.4h0m.4-1.2h0m1.6-1.5h0m1.6 1.8h0m4.4 .6h0m.7-2.4h0m2.6 .1h0m.4 .7h0m11.3-.4h0m1.2 2h0m16.9 .5h0m7-1.1h0m-2.3 1.7h0m-6.3 1.3h0m-.5 0h0m-17.2-1.6h0m-8.8 1.6h0m-3.7-.1h0m-2.1 .4h0m-.6-1.6h0m-.4 2.3h0m-4.4-1.4h0m-6 .5h0m-2 1.7h0m4.3 1.6h0m1.1-.4h0m.3 0h0m1.2 .7h0m10.9-1.5h0m1.9 1.4h0m25.4-.2h0m6.1-2h0m1.8 2.6h0m6.3 2.3h0m-.7-1.7h0m-27.6 1.7h0m-14.5-.5h0m-1.9-.2h0m-.3-1.2h0m-.8 2.3h0m-2.3-.8h0m-3.3-.6h0m-.5 .7h0m-2.7-1.8h0m-1.1 1.2h0m-.3 0h0m3.5 4.3h0m2.1-1.1h0m3.1-1h0m7.2 1.2h0m9-1.2h0m.3 .3h0m.5 .9h0m.9-1.4h0m1.2 3.9h0m-2 1.5h0m-4.9-.1h0m-5-1.9h0m-.6-.3h0m-6.4 2.5h0m0 0h0m-2.6-1.8h0m-1.9 1.8h0m-.8-1.7h0m-1.3 4h0m1.2-1.7h0m4.1 2.1h0m4.6 .4h0m1.6-1.7h0m.4 .6h0m.3 .6h0m4.1-1.3h0m2.7 1.3h0m2.1 .8h0m-4.7 1.6h0m-1.1-.9h0m-4.8-.8h0m-.1 2.8h0m-11-.5h0m-1 0h0m-1.4-1.4h0m-19.8 1.1h0m-6.5-.1h0m-2.8 2.1h0m.2-.6h0m.9 2h0m2.6 .2h0m2.7-1.2h0m19.9-.5h0m7.3-.9h0m.6 1.5h0m.6-.3h0m1.9 .4h0m4.5 1h0m.8-1.5h0m5.2-.8h0m.6 0h0m1.1 .6h0m5.2 .5h0m1 .5h0m-1.4 1.9h0m-3.8 .9h0m-.4-.2h0m-.9-1.6h0m-1.8 .4h0m-5.7 .7h0m-.1 1.8h0m-6.1-.6h0m-4.1-1.8h0m-1.5 2h0m-17.7-.8h0m-1.4-1.5h0m-1.5 1h0m-.9 .9h0m-1.9 .6h0m-.6-2.3h0m-4.4 1.7h0m-4.1 2h0m11.5 1.1h0m.8 .7h0m0-1.7h0m.4-.4h0m2.1-.1h0m1.7 2.2h0m3-1.2h0m11.9 .4h0m2.1-2.1h0m1.7 2.4h0m.1 0h0m.2-2h0m3.6 1.6h0m.3 0h0m8.5-.3h0m3.9 .7h0m1.6 .4h0m2.7-2.6h0m1.2 .8h0m-1.1 4.6h0m-17.6-1.7h0m-1.5 .2h0m-.4 1h0m-.1-.9h0m-1.4-1.1h0m-10.4 2h0m-.5-1h0m-8.4-.6h0m-3.1-.4h0m-4 1.2h0m-.5-1h0m-7.6 .2h0m9.3 5.2h0m1.8-2.1h0m.9 1.3h0m3.7-1h0m4.1 2h0m3.7-1.6h0m11.3-.9h0m.4 1.1h0m4.6-1.2h0m2.6 1.3h0m8.3 .5h0m0 .4h0m2.5-.8h0m1.4-.7h0m-5.3 2.3h0m-2.4 .4h0m-1.1 1.2h0m-5.8-1.7h0m-15.4 1.2h0m-1.7 1.2h0m-.2-1.8h0m-8.8 .1h0m-8.2 1.7h0m-1-.4h0m.3 2.8h0m.5-1.3h0m4.6-.3h0m3.3 1.2h0m2.7-.7h0m4.1-.8h0m1.2 1.7h0m1.7-.5h0m1.5 2.5h0m-2.4-.1h0m-.6 .1h0m-2.3 .3h0m-.4 .5h0m-4.1 .9h0m-1.4-1.1h0m-4.1 .7h0m-1.5 1.7h0m2.6 1h0m.6-.7h0m2.8 .3h0m.3 1.7h0" fill="none" stroke="#1f77b8" stroke-width="1.9" stroke-linecap="round"/>
<line x1="647.2" y1="660" x2="647.2" y2="625.8" stroke="#000" stroke-width="1.1"/>
<path d="M647.2 622.5L644.8 628L647.2 626.4L649.6 628Z" fill="#000"/>
<line x1="646.7" y1="659.7" x2="681.2" y2="659.7" stroke="#000" stroke-width="1.1"/>
<path d="M684.5 659.7L679 657.3L680.6 659.7L679 662.1Z" fill="#000"/>
<text font-size="9.9" fill="#111" transform="translate(641.8 660.2) rotate(-90) scale(1 1.08)">UMAP2</text>
<text font-size="9.9" fill="#111" textLength="33.9" lengthAdjust="spacing" transform="translate(646.9 673.3) scale(1 1.08)">UMAP1</text>
<g fill="#fdeee7" opacity="0.5" filter="url(#ebl)">
<ellipse cx="942.8" cy="410.3" rx="14.1" ry="11.4"/>
<ellipse cx="940.6" cy="426.6" rx="11.4" ry="10"/>
<ellipse cx="878.3" cy="430.6" rx="12.4" ry="10.3"/>
<ellipse cx="918.3" cy="450.6" rx="23.3" ry="16.4"/>
<ellipse cx="925.5" cy="466" rx="16.4" ry="13.8"/>
<ellipse cx="923.7" cy="486.9" rx="14.1" ry="12.4"/>
<ellipse cx="960.9" cy="466" rx="7.2" ry="6.9"/>
<ellipse cx="894.7" cy="498.7" rx="10.7" ry="10.3"/>
<ellipse cx="886.5" cy="486.9" rx="8.3" ry="6.6"/>
</g>
<path d="M920.3 436.1h0m-2.1 3.7h0m.6 .6h0m6.4 2.5h0m-19.3 2.1h0m19.1-.1h0m11.8 1.2h0m-38.6 3.1h0m15.5 2.9h0m3.8-.7h0m1.6 1.9h0m17.5 5.5h0m-17.8 3.4h0m22.5-.2h0m26.4 2.2h0m-52 2.7h0m-1.8-.9h0m-1.5 2.6h0m9.3 .7h0m2.4 7.4h0m10.1 1.4h0m-10.1 .8h0m7.2 4.5h0m-12.1 3.9h0m17.2-1h0m-16.2 4h0m1.1 2.9h0" fill="none" stroke="#fcd3c1" stroke-width="2.0" stroke-linecap="round"/>
<path d="M950.6 401.3h0m-26.3 30.9h0m.6 7h0m6.4 1.1h0m5.8-1.5h0m-.1 5.8h0m-11.4 5.5h0m7.2 4.8h0m-37.1 3.2h0m33-.1h0m-5.4 3.4h0m-7.8-1.6h0m-13 .8h0m9.9 4h0m4.4-1.8h0m2.7 1.2h0m.2-2h0m15.3 1.3h0m29.9 1.8h0m-28.1 1.6h0m-16.1-.8h0m16.4 4.9h0m-20.6 5.4h0m14.9 .7h0m3.4 2.8h0m-14.2-1.8h0m-1.6 1.1h0m-6.1 .6h0m18.3 1.4h0m2.6-.3h0m3.7 3.7h0m-7.5-1.4h0m-8 2h0m7.4 1.3h0m-18.8 4.2h0m3.6 2.5h0" fill="none" stroke="#fcab8f" stroke-width="2.0" stroke-linecap="round"/>
<path d="M920.5 433.8h0m7.7 1.6h0m-9.5 2.2h0m-47.8 .2h0m53.6 4.6h0m-19.8-.3h0m-2.9 7.5h0m11 1.2h0m18.9 1.4h0m-4.7 3.6h0m-2.6-.1h0m-11-.7h0m-13.4 .4h0m3.1 2.2h0m19.6-1.2h0m7.5 2.3h0m-5.8 2.6h0m-.6-1.9h0m-5.4 2.3h0m-5.7-1.9h0m-10.1 .5h0m4.1 3.8h0m7.8-1.1h0m6.5-.9h0m1 .7h0m12.9-.5h0m19.2 .9h0m5.2-.9h0m-37.8 5.3h0m.8 2.3h0m4.6-1.9h0m6.7 1h0m3.4 1.5h0m23.8-1.1h0m-39.7 2.6h0m-3.4 2.9h0m.9 1.7h0m11.4 1.2h0m-3.4 1h0m-1.6-.1h0m-8.8-.6h0m14.5 3.5h0m5.8 2.3h0m1.4 2.8h0m-11.1 6.4h0m8.5 .9h0" fill="none" stroke="#fb7555" stroke-width="2.0" stroke-linecap="round"/>
<path d="M949.6 425.1h0m-61.7 5.7h0m36.6 18.3h0m-8.9-.8h0m19.2 1.8h0m-6.2 5.4h0m-10.6 .2h0m-11.7 3.2h0m1.6-1.3h0m15.9 .8h0m3.9-2.2h0m1 2.5h0m8.4-2h0m27.2 4.1h0m-53.4 2.5h0m1.3 1.3h0m6.1 .1h0m9.7-1.5h0m7.7 1.4h0m28.9-2.5h0m-47 4.5h0m16.5 1.6h0m4.7 2.4h0m15.9-.3h0m-31.6 1.9h0m-5.4-.4h0m6.2 4.1h0m1.1 3.7h0m1.7 1.7h0m5.9 .3h0m1.5 4h0m-7.1 .1h0m10.5 1.8h0m-45 4.1h0" fill="none" stroke="#e53c2e" stroke-width="2.0" stroke-linecap="round"/>
<path d="M928.5 434.9h0m3.2-2.1h0m-8.8 7.9h0m4.6 5.5h0m-15.8 4.9h0m15.9 1.6h0m3.8-.4h0m-30.5 1.2h0m12.5 4.5h0m3.7 .4h0m2.2-.4h0m7.9-.6h0m10.2 1.1h0m18.3 2.8h0m-20.4-.4h0m-5 .6h0m-4.9-.9h0m-2 .4h0m-4.6-.8h0m-8.8-.9h0m29 6.3h0m-13.7 3.4h0m5.7 1.4h0m33.6-1.8h0m3.5 .9h0m-43.3 4.5h0m8.2 1.9h0m7-1.4h0m-7.7 4.2h0m-5.3 .5h0" fill="none" stroke="#b81419" stroke-width="2.0" stroke-linecap="round"/>
<path d="M931.3 415.4h0m-7.5 23.5h0m-34.6 3.8h0m28 9.7h0m3.9 2.6h0m-14.2-.6h0m12.9 3.9h0m13.2 .4h0m27.9 3.2h0m-28.7-.1h0m-18.4-1.4h0m-1.4-.2h0m11.1 4.3h0m42.7 4.5h0m-28.9 2.1h0m-4 .8h0m-12.1 1.8h0m6.4 4.8h0m-4.3 9.8h0m3.5 4h0" fill="none" stroke="#6b0410" stroke-width="2.0" stroke-linecap="round"/>
<path d="M918 425.8C920.2 425.8 924.3 428.2 927.5 430.2C930.6 432.2 934.1 434.9 936.9 438C939.6 441 941.9 445.2 943.7 448.5C945.6 451.9 947.6 455.6 948 458.2C948.4 460.8 947.7 461.7 946.3 464C944.8 466.2 941 468.7 939.4 471.6C937.9 474.5 936.6 478.5 936.9 481.3C937.1 484 940.3 485.8 941.2 488C942 490.3 942.6 492.7 942 494.8C941.4 496.8 940.2 499 937.8 500.5C935.3 502.1 930.6 503.7 927.5 504C924.3 504.3 921.7 503.9 918.9 502.5C916 501.1 913 498.1 910.3 495.7C907.6 493.3 904.2 490.1 902.7 488C901.1 486 900.6 484.5 900.9 483.2C901.2 481.9 902.9 480.6 904.3 480.3C905.8 480 908.6 481.6 909.5 481.3C910.3 480.9 910.5 479.8 909.5 478.4C908.5 477 905.6 474.6 903.5 472.6C901.4 470.7 898.8 468.9 896.7 466.8C894.5 464.7 892.1 462.2 890.7 460.1C889.2 458 888.1 456.1 888.1 454.3C888.1 452.5 889.2 450.9 890.7 449.5C892.1 448 894.8 447.4 896.7 445.6C898.5 443.9 900.4 440.4 901.8 438.9C903.2 437.5 903.7 437.4 905.2 436.9C906.8 436.4 909.7 437.1 911.2 436C912.8 434.9 913.5 431.9 914.6 430.2C915.8 428.5 915.9 425.8 918 425.8Z" fill="none" stroke="#1f7bc2" stroke-width="1.5" stroke-dasharray="5.6 2.9"/>
<text font-size="12.8" fill="#111" textLength="30.4" lengthAdjust="spacing" transform="translate(900.8 392.9) scale(1 1.08)"><tspan font-style="italic">Cd8a</tspan></text>
<g fill="#fdeee7" opacity="0.5" filter="url(#ebl)">
<ellipse cx="1049" cy="409.7" rx="14.1" ry="11.4"/>
<ellipse cx="1046.8" cy="426.1" rx="11.4" ry="10"/>
<ellipse cx="984.5" cy="430.1" rx="12.4" ry="10.3"/>
<ellipse cx="1024.5" cy="450" rx="23.3" ry="16.4"/>
<ellipse cx="1031.7" cy="465.5" rx="16.4" ry="13.8"/>
<ellipse cx="1029.9" cy="486.4" rx="14.1" ry="12.4"/>
<ellipse cx="1067.1" cy="465.5" rx="7.2" ry="6.9"/>
<ellipse cx="1000.9" cy="498.2" rx="10.7" ry="10.3"/>
<ellipse cx="992.7" cy="486.4" rx="8.3" ry="6.6"/>
</g>
<path d="M1043.3 399.5h0m3.7 2.9h0m7.6 1.8h0m3.8-.6h0m-14.7 2.8h0m-7.3-1.2h0m-.4 7.4h0m5.4 2h0m4.4 1.4h0m6 .8h0m2.2 1.7h0m-8.6 1.5h0m1.5 .4h0m9.4 .2h0m-3.9 2.7h0m-4.1 2.3h0m-5.1-1.2h0m-3.1-.4h0m-1.8-.7h0m-56.5 .9h0m-4.8-.2h0m69.3 3.3h0m1.5-.8h0m7.3-.3h0m3 2.3h0m-15.3 3.4h0m-61.9 1.7h0m66.4 .8h0m-11 3.3h0m-3.6-1.4h0m-23.5-.8h0m-19.6 5.2h0m56.7 3.1h0m-26.3 1h0m11.7 1.5h0m-6.4 6.5h0m14.6-2.6h0m5.4 1.4h0m-1.4 3.6h0m-30.5-1.6h0m15.2 4h0m15.3 3.7h0m-31 2.3h0m14.5 .1h0m17.4 .2h0m-22.9 2.5h0m19 7.8h0m-3.8 3.3h0m-2.7 .3h0m.3 4.8h0m1.5-.1h0m-41.8 5h0m2.3 .3h0m3.4 .8h0m-3.1 1.9h0m21.8 2.9h0m-22.6 6.8h0m.7-1.5h0m-5.9 3.1h0m4.4 3.2h0m4.6 .8h0" fill="none" stroke="#fcd3c1" stroke-width="2.0" stroke-linecap="round"/>
<path d="M1044.7 403.1h0m4-1h0m11.8 5.4h0m-7.3-.4h0m-2.3-1.4h0m-14.3 4h0m13.7 .2h0m4.8-.9h0m-13.1 4.1h0m-1.1-.5h0m-.9 .8h0m13.5 2.8h0m-75.8 5.7h0m3.3-1.7h0m3.8 2.1h0m66.3-2h0m-11.5 5.4h0m-50.6-1.1h0m-12.5 2.7h0m77.9 3.3h0m-4.3 2.8h0m-25.7 3.4h0m-4-.9h0m-36.8-.4h0m4 3.7h0m31-1.2h0m8.3 1.6h0m10.6 2.2h0m-5.7-.4h0m-6.3 .4h0m-13.4 2.7h0m20.6 1.2h0m5.8 3.2h0m-8.5-1.2h0m-23.3 0h0m-4.8 1.3h0m18 2.6h0m13.1-1.6h0m.2 .6h0m13.5 3.3h0m-36.2 1.3h0m3.6 1.9h0m3.3-1.1h0m8.6 1.8h0m.5-.4h0m9.4 .8h0m3.3-.1h0m.2-.7h0m3.7 3.7h0m-1.6-.8h0m-6-.8h0m-9.6 2h0m-17.2-1.5h0m26.4 2.7h0m-4.9 4.4h0m-.9-.1h0m-2.4-1.7h0m-8.5 2.8h0m24.8 1.9h0m-13.4 6.9h0m.5-.8h0m3.1-.4h0m7.6 2.8h0m-4.1-1.5h0m-7.9 2h0m-37.6 1.9h0m6.4 0h0m22.9 1.7h0m2 .1h0m17.3-2.5h0m1.4 1.5h0m2.5 3.6h0m-.2-1.4h0m-11 .8h0m-2.1-1.7h0m-2.7 4.1h0m6.1 .3h0m-37.1 2.6h0m29.1 2.3h0m6.9 5.3h0m-10.5-2.3h0m-17 8.6h0m-2.3 2.3h0m.3 3.1h0" fill="none" stroke="#fcab8f" stroke-width="2.0" stroke-linecap="round"/>
<path d="M1053.1 398.9h0m3.7 1.9h0m-8.1-.9h0m-2.1 .2h0m-3.9 3.3h0m.5 .4h0m14.6 1.2h0m-3.3 1.7h0m-13.3 .5h0m-4.5-.6h0m6.5 2.3h0m4.1 1.6h0m1.6-1h0m5 .3h0m4.1-1.8h0m-22.8 6h0m19.3 5.6h0m-15.1-1.5h0m-62.7 4.1h0m1-1h0m60.4 1.7h0m1.9-1.1h0m1.3-1.7h0m2.7 1.7h0m1.4-1.1h0m4.2-.4h0m-.2 3h0m-.9 1.8h0m-6.2 .2h0m-2-.3h0m-44.7-1.1h0m-1.9 .9h0m-4.1 .8h0m-1.6-.5h0m-.2-1h0m-7.2 0h0m-5.2 .1h0m-.5 4.3h0m13.1-1.3h0m50.6 1.2h0m10.1-1.3h0m3.2 1.2h0m1.6 3.3h0m-5.8 .1h0m-3.8-.9h0m-3.2 .4h0m-2.9-1.6h0m-65.7 .8h0m55.3 2.5h0m4.2 1.3h0m3.1 .2h0m3.2-2.2h0m1.1 .2h0m-8.2 5.2h0m-36.8 .3h0m16.9 2.8h0m27.3 .7h0m-.2 .3h0m-43.6 .5h0m12.1 4.5h0m40.6-.3h0m-4.6 1h0m-1.9 .3h0m-16.9 .8h0m-.6 1h0m-19.8 .6h0m3.2 2.3h0m17.9 .2h0m8 1h0m-12.8 .9h0m-3.6 .2h0m-2.9 1.4h0m.1 .5h0m3 2.2h0m3.4-1.3h0m3.7 .3h0m2.2-.3h0m2 .8h0m-.5 1.5h0m-6.1-.6h0m10.6 3.8h0m17.1 1.4h0m-13.8 1.3h0m-10.7 .4h0m-6.5 1.4h0m1.4 2.9h0m14.6-2.2h0m2.9 2.6h0m9.8 .7h0m-9.7-.1h0m-5.4 2.2h0m-.7-1.4h0m-2.8 1.1h0m-12-.2h0m11.6 2.5h0m11.4 2.5h0m-6.2-.4h0m-2 1.3h0m-41.7 3.3h0m29.3-1.5h0m1 .4h0m19.8 3.6h0m-4.8-.7h0m-9.4-.5h0m-4.8 .7h0m-24.5 .3h0m-1.6 .7h0m-4.2-1h0m3.6 3.1h0m3.1-.5h0m20.9 1.8h0m16.7-2.2h0m2.6 .4h0m1.8 2.5h0m-1.1 .9h0m-4.4-.5h0m-.6 .6h0m-12.4-.4h0m-14.9-.5h0m-3.6 1.9h0m-16-2.4h0m4.6 3.4h0m20.2 .6h0m9.9 1.5h0m7.5-1.9h0m5.5-.1h0m2.5-.1h0m1.3 3.5h0m-8.9 1.9h0m-20.5-.7h0m-10.6-1.3h0m5.9 4.3h0m.3-.4h0m1.3 .8h0m30.6-2.3h0m-24.8 3h0m-5.4 1.2h0m-12.4-1.4h0m.9 3.2h0m.7 2.4h0m.4-2.5h0m.7 1.1h0m4.9 .1h0" fill="none" stroke="#fb7555" stroke-width="2.0" stroke-linecap="round"/>
<path d="M1049 399.3h0m-8.3 3.9h0m14.5-1.1h0m6.5 1.9h0m.9 3.3h0m-.3-2.1h0m-27 1.6h0m20.5 3.6h0m7.2-1.1h0m-1.2 2.7h0m-19 4h0m11.1 2.9h0m-6.7-1.5h0m-66.3 2.1h0m3.1 1.5h0m4.5 .9h0m.2-1.5h0m4.9 2.4h0m50.7-1.1h0m11.4 4.2h0m-7-.1h0m-75.4-1.9h0m1.9 4.5h0m62.2 .5h0m15.4-1.7h0m-22.3 4.4h0m-34.4-2.3h0m-17.5 1.2h0m-4.6-1.3h0m-.3 3.4h0m6.6 .8h0m1.2 .1h0m12.8 .1h0m.4-.5h0m47.4 .6h0m4.3 .2h0m-16.7 2.8h0m-.4-.9h0m-5.8-.1h0m-26.7-.1h0m-1.2 .5h0m-.6-.4h0m-1.4-.6h0m-9.6 2.3h0m-6.9-.1h0m-1.3-1.4h0m6.8 2.2h0m2.9 1.7h0m2.5-1.7h0m18.5 2.5h0m17.9-1.3h0m4.7 .8h0m.9 .2h0m1.1-1.7h0m4.8 .2h0m-5.2 3h0m-7.7-.5h0m-5.2 2h0m-.8 .4h0m-6.1-2.1h0m-4.7 3.9h0m7.6 .9h0m29.8-1.4h0m-21.5 3.1h0m-15 4.8h0m1.1-2h0m31.2 0h0m6.1 4.2h0m-6.5-.8h0m-11.6-.1h0m-24.4 1.6h0m3.8 2.6h0m17.6-1.5h0m5.2 .6h0m11.8-.8h0m5 1h0m-3.7 1.8h0m-21.1-.1h0m-4.7 1.3h0m-.3-.5h0m-5.5 1h0m11.7 1.1h0m.2 0h0m8.1 2.1h0m3.7 1.8h0m-15.5-.2h0m-.6 3.5h0m21.5-.9h0m7 .3h0m-3.2 2.5h0m-3.8 1.3h0m-5.9-1.3h0m-1.5 2.3h0m-9.8-1.2h0m-.5-1.2h0m-1 3.1h0m17.4 5h0m-5.2-1.2h0m-2.5 1.1h0m-4.2-.3h0m-1-.6h0m-.3 .9h0m-26.9 3.4h0m31.1-1h0m.3 .7h0m4-2.4h0m1.6 2.2h0m1.5-1.1h0m-.9 3.1h0m-6.7 1.7h0m-1-.1h0m-10.8-2.4h0m-18.6 .2h0m-.5 1.4h0m-10.2-.3h0m.9 2.2h0m13.7 1.6h0m19.7 .8h0m-16.3 1.3h0m-1.9-.8h0m-.4 1.9h0m-2-2.4h0m-.2 2.5h0m-6.1-2.5h0m-.1 2.5h0m-5-.3h0m-1.6 .3h0m5.8 2.4h0m6.6 .5h0m8-.1h0m.5 0h0m11.4-2.6h0m1 .5h0m3.1 .4h0m8.5 .2h0m3.2 1.8h0m1.2-1.8h0m.2 .8h0m0 1.4h0m-37.2 .4h0m-2.2 0h0m5 3.4h0m3.8 4.8h0m-.2-2.7h0m-.7 .6h0m-7.9-.3h0m1.4 3.9h0" fill="none" stroke="#e53c2e" stroke-width="2.0" stroke-linecap="round"/>
<path d="M1050.3 398.9h0m1.9 6.4h0m-11 2.1h0m-2-1.6h0m22.2 4.9h0m-22.7 2.4h0m5.4 3.1h0m2.7-.5h0m.2 2.6h0m-59.6 1.9h0m53.8 1.6h0m9.6-.4h0m-12.9 4.5h0m-63.7-2.6h0m8.7 3.7h0m68.6-.8h0m-59 5.6h0m-13.9-2.5h0m-3 .3h0m-.5 2h0m12.5 .8h0m.4 .8h0m.1 1.2h0m38.6-1.2h0m4.2 .1h0m7.2 3.1h0m-25.2 .7h0m-28.4 .2h0m-1.8-.3h0m-2.4 .4h0m-2.6 1.7h0m18.9-.4h0m15.4 1.5h0m16.6-2.1h0m-32.9 3.6h0m13.4 3.9h0m11.6 0h0m20.2-.6h0m-5 5.9h0m-13 4.7h0m-15.5-.9h0m14 1.3h0m4.1 .2h0m10.9 0h0m7.2-.2h0m-14.1 4.8h0m-3-1.8h0m-7.9 5.1h0m8.3-1.3h0m2.8 1.2h0m1.9 .8h0m7.8-1.2h0m-7.9 4.9h0m13.5 1.6h0m-14.1 1.6h0m-8.2 3.9h0m4.6 0h0m11.9-.2h0m-47.9 7.4h0m26.9 2.8h0m-19-.3h0m-4.2-1.9h0m2.5 5.4h0m.6-.2h0m27.9-.1h0m3.4-2.1h0m4.8 2.6h0m-6 2.3h0m-7.5-.3h0m-27.2 3.4h0m3.7 0h0m5.6 .3h0m1.5-1.4h0m24.7 .6h0m12.5-.4h0m-4.8 2.8h0m-37.4-.8h0m-6.1 .8h0m-3.9 1h0m2.4 2.1h0m9.5 1.1h0m4.3-1.4h0m29.5-.6h0m-26.7 5.1h0m-.6 .1h0m-16.1-2.6h0m0 0h0m4.9 6.5h0m-.3 .4h0" fill="none" stroke="#b81419" stroke-width="2.0" stroke-linecap="round"/>
<path d="M1059.9 403.8h0m-21.8 1.8h0m4 4.3h0m-56 12h0m3.4 .7h0m2-1.7h0m0 .7h0m1.8 2.9h0m-13.9-1.2h0m-3.6 5.5h0m12.6-2.1h0m49.9 1.2h0m17.6-1.2h0m-60.9 5h0m-.3-1.7h0m-8.3-.7h0m-9.1 2.2h0m-2.4 .9h0m20.5 2.3h0m26-.8h0m5.5-.7h0m-31.3 2h0m-9.3 1.6h0m-11-1.4h0m10.8 3.2h0m35.2-.6h0m-26.8 3.6h0m45.2 6.8h0m-2.4-1.3h0m-13.8 2.2h0m-13.6-.3h0m6.4 5.1h0m-8.7 4.6h0m13.4-.6h0m8.1 .5h0m11.9 .7h0m-2.6 1.9h0m-7.5-.5h0m-5.9-1h0m-3.6 .1h0m-15-.4h0m17.3 5.4h0m.4-.6h0m10.8 3.4h0m-8-.5h0m-8.1 2.5h0m15.5 3.9h0m-3.3 0h0m-12.7-.5h0m11.1 2.6h0m5.2 3.5h0m-11.5-1.2h0m-.7-.4h0m-34.3 3.9h0m.3 1.2h0m48.7-2h0m5.2 5.2h0m-22.6-.4h0m-33.9 1.6h0m5.8 1.5h0m7.2 0h0m.7-2.2h0m34-.2h0m-12.9 4.9h0m-10.9 .9h0m-7.5-.8h0m-15.9-1.6h0m50.3 6h0m-2.4 1.2h0m-31.6 .5h0m-11.7-.9h0m6.8 2.4h0m9.3 .5h0m3.7 1.6h0m-6.5 .5h0m-1.9 .6h0m-2.2 .4h0m-6.7 2.2h0m8.1 3.2h0m-.5 1.8h0" fill="none" stroke="#6b0410" stroke-width="2.0" stroke-linecap="round"/>
<path d="M1024.2 428.4C1026.5 428.4 1030.9 430.6 1034.2 432.4C1037.5 434.3 1041.3 436.7 1044.2 439.6C1047.1 442.4 1049.5 446.2 1051.5 449.3C1053.5 452.4 1055.6 455.8 1056 458.2C1056.4 460.5 1055.7 461.4 1054.2 463.5C1052.6 465.5 1048.6 467.9 1046.9 470.5C1045.3 473.2 1043.9 476.9 1044.2 479.4C1044.5 481.9 1047.9 483.6 1048.8 485.7C1049.7 487.7 1050.3 489.9 1049.7 491.8C1049 493.7 1047.7 495.7 1045.1 497.1C1042.6 498.6 1037.6 500 1034.2 500.3C1030.9 500.6 1028.2 500.2 1025.1 499C1022.1 497.7 1018.9 494.9 1016.1 492.7C1013.2 490.5 1009.6 487.6 1007.9 485.7C1006.3 483.7 1005.8 482.4 1006.1 481.2C1006.4 480 1008.2 478.8 1009.7 478.5C1011.2 478.2 1014.3 479.7 1015.2 479.4C1016.1 479.1 1016.2 478.1 1015.2 476.8C1014.1 475.5 1011.1 473.3 1008.8 471.5C1006.6 469.7 1003.8 468 1001.6 466.1C999.3 464.2 996.7 461.8 995.2 459.9C993.7 458 992.5 456.2 992.5 454.6C992.5 453 993.7 451.5 995.2 450.2C996.7 448.8 999.6 448.2 1001.6 446.6C1003.5 445 1005.5 441.8 1007 440.4C1008.6 439.1 1009 439.1 1010.7 438.6C1012.3 438.2 1015.3 438.8 1017 437.7C1018.7 436.7 1019.4 434 1020.6 432.4C1021.8 430.9 1022 428.4 1024.2 428.4Z" fill="none" stroke="#1f7bc2" stroke-width="1.5" stroke-dasharray="5.6 2.9"/>
<text font-size="12.8" fill="#111" textLength="80.8" lengthAdjust="spacing" transform="translate(983.1 392.9) scale(1 1.08)"><tspan font-style="italic">Itgae</tspan> (CD103)</text>
<g fill="#fdeee7" opacity="0.5" filter="url(#ebl)">
<ellipse cx="1153.2" cy="409.7" rx="14.1" ry="11.4"/>
<ellipse cx="1151.1" cy="426" rx="11.4" ry="10"/>
<ellipse cx="1088.8" cy="430" rx="12.4" ry="10.3"/>
<ellipse cx="1128.7" cy="450" rx="23.3" ry="16.4"/>
<ellipse cx="1136" cy="465.4" rx="16.4" ry="13.8"/>
<ellipse cx="1134.2" cy="486.3" rx="14.1" ry="12.4"/>
<ellipse cx="1171.4" cy="465.4" rx="7.2" ry="6.9"/>
<ellipse cx="1105.1" cy="498.1" rx="10.7" ry="10.3"/>
<ellipse cx="1097" cy="486.3" rx="8.3" ry="6.6"/>
</g>
<path d="M1157.4 398.9h0m-10.9 1.4h0m5.5 4.5h0m8.2-2h0m4.3 12.7h0m-5.8 4h0m-.5-1.1h0m-1.4 .6h0m-12.8-.6h0m5.6 2.3h0m6.9-.5h0m-6.3 4.2h0m-5 .2h0m-3 1.2h0m-62.6-1.7h0m63 3.7h0m-3.2 1.7h0m-8.5 3.7h0m-5.3 3.1h0m-34.3 1.9h0m28.8 0h0m1.3 2.7h0m13.9-2.3h0m8.9 1.9h0m3.5-.5h0m-5.1 1h0m8.8 7.8h0m-9.8-1.8h0m-31.6 1.2h0m2.7 1.9h0m22.6 1.8h0m8.6-1.1h0m4.2 4.4h0m-2.5-.9h0m-17.1 3.2h0m16.2-.8h0m1-.1h0m.3 1.6h0m1.2-.4h0m.1 3.2h0m-5.6 .2h0m-7 .7h0m-8.8-2.6h0m-4.6 3.4h0m32.1 5.1h0m-26.2 .1h0m-2.2-2.3h0m-.9 3.7h0m22.7 4.2h0m-19 3h0m3.7-.9h0m6.4 2.5h0m-3.1 .6h0m-.1 .2h0m-13.7 3.4h0m7.9-.6h0m12.8-1.3h0m-9.1 5.2h0m-12.9 .1h0m-16 .6h0m21 1.2h0m15.9 1.5h0m-3.6 .7h0m-.5 .6h0m-13.5-.5h0m-22.1 1.4h0m-1.7-.6h0m-4.1 .9h0m.1 2.4h0m43.1-.2h0m-.8 4.3h0m-27.9 5.9h0m-6.7-2h0m8.8 5.1h0" fill="none" stroke="#fcd3c1" stroke-width="2.0" stroke-linecap="round"/>
<path d="M1157.9 401.1h0m-12 1.7h0m14.7 .6h0m6.6 2.8h0m-2.3 4.9h0m-8.3 5.4h0m-12.9 1.6h0m-64.9 7.3h0m76.9 1h0m-6.9 2.9h0m-6.6 .7h0m-52.7-1h0m-11.6 4.1h0m18-1.1h0m28.1 1.7h0m8.2-1.7h0m26 1.5h0m-24.7 2h0m-2.7 0h0m-1.6-.5h0m-1.5 1.6h0m-10.6 .4h0m33.5 6.7h0m-7.5-2.1h0m-6-.4h0m-1.1 1.1h0m-5.8 .7h0m-20.2 3.7h0m8.1-.4h0m4.6-.6h0m1.6-1h0m4.2-.7h0m7.4 .4h0m2.1 1.2h0m7.1-.6h0m-.3 2.6h0m-30.7-.5h0m13.6 4.7h0m14.4-.2h0m-3.1 3.3h0m-3.9-1.1h0m-3.3 .9h0m-4.7 .9h0m14.7 2.2h0m5.3-.8h0m4.6 4.4h0m-6.9-.9h0m-8.9 0h0m-2.4-.3h0m-2.3-.4h0m-6.9 0h0m2.3 4.5h0m5.7 .3h0m6.2-.9h0m34.7-.1h0m1.3 3.8h0m-29.7-1.4h0m-7.5 1.4h0m-3.8-2.2h0m-4.9-.2h0m-7.5 1.1h0m5.4 3.5h0m4.8 .6h0m.3 .1h0m9.9-.5h0m8.5 .7h0m-11.5 2.9h0m-9.7-.1h0m-.6-2.1h0m5.5 4.4h0m9.1 3.4h0m-3.9 0h0m-.3-1.2h0m-5.9-.6h0m-3.4 2.2h0m-2.6-1.9h0m-1.8 .4h0m-28.7 4.9h0m30.7-.2h0m4.1 .1h0m3.9-2.6h0m5.6 2.5h0m-11 .9h0m-5.5 1.8h0m-5.4-.6h0m21 1.9h0m-8.4 3.5h0m-28.8 .8h0m-4.5 .2h0m5.8 2.9h0m37.3 2.3h0m-8.3-.9h0m-22.4 4.7h0m4.1 1h0m-6 .1h0" fill="none" stroke="#fcab8f" stroke-width="2.0" stroke-linecap="round"/>
<path d="M1154.6 398.8h0m5.8 2.7h0m-15.9 2.8h0m4.8-.3h0m17.1-.8h0m-6.3 2.6h0m-3.6-.6h0m-8.3 1h0m-4.9 1.4h0m-1.4 2.2h0m.4-.1h0m24.9-.5h0m-20.6 6.1h0m8.6 1.4h0m-1 .3h0m-1.9 7.4h0m-4 1.1h0m-3 0h0m-2.5-1.9h0m-47.6 1.4h0m-1.9-.4h0m51.3 3.1h0m.1-.1h0m5.9-.4h0m9.6-.5h0m2.2 1.8h0m-7.1 1.1h0m-5.5 .8h0m-4.8 .4h0m-3.5-1.5h0m-42.2 2.4h0m-21.2-2.7h0m45.5 5.6h0m24.1-2h0m3-.6h0m-19.9 3.3h0m-36.5 .2h0m-9.2 3.2h0m3.3 .6h0m2-1.3h0m1.4 1.3h0m50.4 2.3h0m-4.9 .3h0m-38.6 .2h0m10.9 3h0m3.8 .4h0m1.8 1.1h0m30.6-2.6h0m1.5 1.5h0m-1.9 1.5h0m-5.3 1.3h0m-5.2 .9h0m-8.9-1.5h0m-1.9 1.7h0m-5.7-.5h0m-6.1 .1h0m-7.4 1h0m6.7 2.7h0m8.7-1.9h0m8.3 1.8h0m3.3 .3h0m11.7-1.5h0m1.9-.7h0m7.5 4h0m-14.1 .9h0m-1.4-.4h0m-12.1 .4h0m-.8 0h0m-7.3-1.8h0m-6.3 4.5h0m2.3-.7h0m.3 1.2h0m6.8-.1h0m9.6 .2h0m4.2-1.1h0m5 .3h0m1.4-.1h0m1-.8h0m1.9 .9h0m3.5 .1h0m20.1 2.1h0m-21.8-1h0m-10.1 1.3h0m-7.8 .5h0m-2.2-1.2h0m-2.1-.4h0m-1.7 .9h0m2.8 3.6h0m3.1-1.8h0m1.4 1.9h0m9.3-.8h0m14-1.1h0m26.1 1.4h0m-3.7 4.1h0m-25-2.7h0m-4.8 2.6h0m-5.5-2h0m-8-.3h0m-4.4 3.3h0m4.1 .8h0m2-.1h0m15 1.2h0m19.6 .7h0m-16.8 .2h0m-13.5 1.3h0m-10.9 1.2h0m-1.4-2.3h0m-2.2 1.3h0m11.5 3.9h0m6.4-1.1h0m2.7 1.5h0m-1.7 2.1h0m-.2-1.4h0m-5.9 .2h0m-6.2 .4h0m-38.5 4.3h0m50.4-1.8h0m5.5 .3h0m-19 1.8h0m-4.8 2.5h0m-27.7-.1h0m-2-2h0m30 4.3h0m19.4 1.5h0m-.4 .5h0m-2.8 1.2h0m-6.6-1.7h0m-3.2 1.6h0m-.6 .9h0m-4.1-.9h0m-21.9 .1h0m-2.2-.9h0m-.8 3.8h0m23.3-.7h0m1-1h0m2-.2h0m2.4 2.5h0m2.6 1.4h0m-2.8-.7h0m-2.8 .7h0m-.1-.6h0m-12.4 1.3h0m-3.5 0h0m-8.1-1.2h0m-7.8 1.4h0m9.9 4.1h0m1.9-2.4h0m3.8-.5h0m29.9 .5h0m-26.7 5h0m-3.6-1.1h0m-4.5-.1h0m-.7-.9h0m-7.2-.4h0m.9 3.1h0m9.9 2.1h0m1.9-1.8h0" fill="none" stroke="#fb7555" stroke-width="2.0" stroke-linecap="round"/>
<path d="M1148.6 398.4h0m.3-.3h0m15.4 3h0m-3.3-.4h0m-4.9 .4h0m-9.7-.4h0m2.8 3.4h0m6.7-1.7h0m3.9 5h0m-16.3-1.6h0m-1.2-.2h0m-1.1 2.6h0m9.5 5.5h0m-4.4-.6h0m-6.9 .9h0m2.4 .8h0m8.1 .9h0m.1 .3h0m12.9 1.9h0m-10.5 .9h0m-2.6-.9h0m-67.6 2.6h0m59.1-.3h0m1.1 .3h0m4.1 1.3h0m4.6-1.4h0m6.1 2.5h0m2.8 2.9h0m-10.6-1h0m-6.5 .6h0m-.4-2.1h0m-56.3 1.6h0m-4.1-.4h0m-.7 .6h0m-4.1 3.6h0m7.2 0h0m.5-.8h0m2.2-1h0m5 .3h0m1.7-.3h0m5-.4h0m1.1-.5h0m2.3 2.9h0m59.6 0h0m-19.2 2.1h0m-52.1-1.8h0m-12.7 3.3h0m47.7 1.3h0m1.3 .8h0m8.2-1.4h0m8.5-1.2h0m-2 3.2h0m-3 .7h0m-4 1.2h0m-.1 .6h0m-3.5-2.6h0m-15 1.3h0m-18.1-1.4h0m-9.1 2.2h0m-10.1-.6h0m5.9 4.3h0m41.8-1.3h0m2.2 .8h0m2 .4h0m.5-1.2h0m1.8-.4h0m4.9 0h0m-2.2 2.5h0m0 .6h0m-13.6 .9h0m-5.5 .3h0m-1.3-2h0m-4.3 4.3h0m25.1 .5h0m12.7 .2h0m-5.7 2.6h0m-2.4-.3h0m-2.9-1.6h0m-2.7 1.3h0m-.2-1.2h0m-8.4 .7h0m-15.1 4.9h0m11.1-.3h0m9.4-2.3h0m10.7 2.3h0m4.7 2.3h0m-1.4-.3h0m0 .8h0m-2.5-1.1h0m-8.6 .2h0m-2.9-1.2h0m-17.1 1.9h0m-1.5-2h0m-2.8 1.6h0m1 1.6h0m10.3-.4h0m3.4 2.6h0m.1-.5h0m1.8 .8h0m3-1.8h0m3.9 .3h0m.4 1.4h0m6.3-2.7h0m4.1 1.3h0m5.6 1.7h0m-2.1 2.2h0m-4.8 .5h0m-.7-.6h0m-2.9-1.7h0m-4.5 .2h0m-3.8 1.8h0m-1.2 0h0m-1.1-1.9h0m-8 1h0m-10.6-1.3h0m6.6 4.2h0m3.7 1h0m1.8-.5h0m.2 0h0m1.4 .7h0m3.6 0h0m2.1-1.3h0m1.7-.3h0m6.8-.5h0m.4 .4h0m10.2 .9h0m-5.1 2.8h0m-9.5 .3h0m-1.7-1.3h0m-.8 1.3h0m-4-1h0m-1.8 .3h0m-3.2 3.2h0m.2 .8h0m4.3-.2h0m3-1.6h0m1.6 .2h0m17.1 1.3h0m1.1-1.1h0m24.3 2h0m-26.3 .5h0m-7.8-.4h0m-14.4 1.3h0m-3.9 1.1h0m3.5 1h0m.1 1.4h0m8.6-.5h0m6.8 1.6h0m6.2-1.7h0m-2.2 3.9h0m-1.2-1.2h0m-3.8 1.8h0m-2.4-2.2h0m-4.5 1.5h0m-10-.3h0m-.7-1.6h0m-29.8 5.8h0m30.8-2.9h0m16.8 2.4h0m.2-.2h0m2.9-1.9h0m2.2 1.4h0m2.4 3.6h0m-8.5-.1h0m-11.2 .2h0m-1.6-1.8h0m-.7 1.9h0m-1 2.7h0m12.7-2.1h0m3.6 2h0m1.4 1.1h0m-4.1 .3h0m-5.1 1.6h0m-11.4-.8h0m-11.4 .3h0m-19.4 .1h0m-1.1 .6h0m12.3 2h0m9.7 .4h0m18 3.3h0m-.3 .8h0m-32.2-1h0m9.5 2.9h0m7.6-1.5h0m-16.1 7.8h0m5.4-.2h0m6.9-.6h0" fill="none" stroke="#e53c2e" stroke-width="2.0" stroke-linecap="round"/>
<path d="M1151.1 399.6h0m-4.2 3.7h0m12.5-1.3h0m-18.8 3.1h0m-.2 .4h0m-.3 .5h0m6.3 3.8h0m4.1-1.8h0m2.5 2.9h0m.5-2.3h0m-9.7 5.2h0m-.9-.8h0m-2-1.9h0m6.1 4.9h0m12.8 3.2h0m-1.6-.3h0m-10.6 .2h0m-58.5 3.1h0m4.6 .4h0m46.6 .2h0m8.3-1.2h0m6.7-1.4h0m3.2 1.8h0m-5.6 3.8h0m-6.2-1.6h0m-46.8-.3h0m-10.1 1.6h0m-11.4-2.3h0m2.4 4.1h0m.4-.3h0m65 .2h0m10 1.1h0m1.1 0h0m-10.3 3.5h0m-2.8-2.8h0m-49 .6h0m-4.3-.1h0m-11.5 2.1h0m-3.9 0h0m1.6 2.5h0m2.1 .4h0m10 .4h0m7-1.6h0m1.2 .5h0m41.6 .5h0m4.2-2h0m13.9 1.6h0m-8.9 1.2h0m-4.1 1.6h0m-15.4 0h0m-1.5 .4h0m-26.9-.7h0m-1.6-.2h0m-1.8-.5h0m-3.6 1.3h0m-3.7-.9h0m-1.6-.8h0m-2.9 3.1h0m2 1.5h0m3.3-1.4h0m22.7 1.7h0m8.3-1.3h0m20.4 .8h0m-12.1 2h0m-3 .2h0m-30-.2h0m-2.1 .8h0m16.2 2.5h0m9.7 1.2h0m16.4-.6h0m4.2-.2h0m-10 4h0m-8.7-.5h0m-8.7-.3h0m-7.6 .3h0m20.9 1.3h0m1 .6h0m4.6 1.2h0m4 .9h0m1-1.4h0m11.9 .1h0m-4.8 3.2h0m-8.1-1.3h0m-1.7 1.6h0m-9.3 .8h0m-1.8-1.5h0m-15.5-1.1h0m14.5 3.1h0m2 .4h0m1.3 .6h0m2.5-.5h0m2.1 2h0m1-2.3h0m0 1.7h0m8.5-.1h0m.5-.1h0m4.8-1.8h0m.8 .5h0m.9 1.9h0m.6-.8h0m2.8-.2h0m16.8 2.2h0m-33 1.9h0m-2.3-.5h0m-3.3-.2h0m-.1-2h0m-1.8 2.4h0m26 2.8h0m21.2 1.1h0m-3.8-.1h0m-18.8 2.2h0m-10.6-1.4h0m-4.7 .8h0m-13.3-1.2h0m-.5 2.2h0m-.5-.4h0m-2.1-2.2h0m19.2 3.2h0m1.8 2.2h0m24.3-1h0m8 1.1h0m-5.4 .9h0m-26.8-.3h0m-9 1.9h0m-4.9 2.3h0m8.3-1.6h0m6.7 .4h0m-6.6 4.5h0m-4.4-.3h0m-4.6 3.3h0m3.6-1.8h0m5 2.3h0m.3-1h0m2.2-1.2h0m2.5 2h0m6.9 3.5h0m-24.8-2.3h0m-.8 .7h0m-31.7 4.8h0m5.4-2.8h0m25.5 2.2h0m1 .3h0m12.3-.9h0m1.8-.3h0m12 2.5h0m-22.8 .3h0m-1.8 1.4h0m-.4-.3h0m-23.5 .1h0m-9.2-2h0m17.2 2.9h0m6.9 2.3h0m18.9 2.8h0m-22 3.1h0m4.1 .3h0m-11.4 7.4h0" fill="none" stroke="#b81419" stroke-width="2.0" stroke-linecap="round"/>
<path d="M1147.6 399.5h0m-2.8 2.2h0m.2 1.5h0m19.2-1h0m-17 5.5h0m-3.8-1.4h0m-5.8 3.3h0m3.3 0h0m1.2 .6h0m6.6-1.3h0m5.9 .9h0m4.7-.8h0m2.2 1.5h0m4.1 .1h0m.4 1.4h0m-2.6 1.6h0m-2.7-2.2h0m-15.6 1.1h0m3.2 3.8h0m5.7-1.5h0m2.2 1.5h0m-6.8 .8h0m-68.5 5.1h0m1-1h0m6.3-.3h0m2.5 0h0m2.3-.6h0m2.7 .6h0m58.2-.1h0m.5 2.7h0m-6.4 2.1h0m-4.4-2.2h0m-1.5 .4h0m-49.3 .2h0m-.5 1h0m-.2-.9h0m-3.2 1.2h0m-2.8-1.1h0m-1-.7h0m-2.2 1.2h0m3.4 1.8h0m1.7 2.3h0m11.9-1.9h0m41.8 1.9h0m16.9 1.7h0m-.8 1h0m-3.5 .4h0m-4.9-2.7h0m-49.1 .1h0m-1.3 .7h0m-.6 .2h0m-6.6-.8h0m-2.6 1.4h0m-5.6-1.5h0m-.8 1.1h0m-2.9-.8h0m-.9 4.3h0m.2 .6h0m2.7 .1h0m2.8-2.6h0m12.5 1.8h0m34 1.4h0m-17.7 .2h0m-20.6 1.4h0m-12.9-1h0m5.7 4.5h0m5.7-2.2h0m.5 1h0m.1 0h0m.3-1.1h0m2.2 1.3h0m6 1h0m.3-1.7h0m14.7 2.1h0m20.4 3.2h0m-1-2.6h0m-21.5 2.3h0m-14.6-2h0m32.3 3.1h0m3.7-.3h0m4.2 2.2h0m7.7 .7h0m-10.6 2.2h0m-25.4 2.8h0m1.1-1.1h0m22.9 .3h0m1.4 1.3h0m9.2-2.6h0m.5 1.1h0m-3.5 2.9h0m-.5 0h0m-10.1 0h0m-3.9 .2h0m-19.5 0h0m10.1 2.6h0m5.5 .4h0m2.1 .8h0m3.8-2.1h0m2.3 .5h0m1.2 1.9h0m1.5-1.7h0m7.2-.5h0m5.2 1.2h0m.3-1.4h0m-8.3 3.9h0m-4.3 .7h0m-7.3 .9h0m-4.6-.1h0m-3.7 2.9h0m4.3-2h0m3.4-.1h0m1.4 1.9h0m2.8-1.5h0m4.7 2h0m1.8-.7h0m1.6-1.3h0m6.2 0h0m.6 1.3h0m-.5 1.3h0m-5.1 2.6h0m-6.9-.9h0m-10.7 1h0m22.3 2.2h0m2.3 0h0m-3.7 1.1h0m-12.1 1.8h0m-.1-1.7h0m-2.7 2.4h0m-2.2-2.6h0m7.9 4.9h0m5.8-.7h0m4.2 2.1h0m-7.8 .1h0m-43.8 4.7h0m33.5-1.1h0m-23 4.1h0m28.6 .7h0m-6.3 5.9h0m-20.5-.7h0m-4.1-.8h0m7.7 6.4h0m-2.3-1.3h0m-7 1h0m-3.6 2.9h0m10.4 1.3h0m-6.2 5h0m3.7 1h0m9.7-1.2h0" fill="none" stroke="#6b0410" stroke-width="2.0" stroke-linecap="round"/>
<path d="M1128.5 428.1C1130.7 428.1 1135 430.3 1138.3 432.2C1141.5 434 1145.2 436.5 1148 439.3C1150.9 442.2 1153.3 446 1155.2 449.1C1157.1 452.3 1159.2 455.7 1159.6 458.1C1160 460.5 1159.3 461.3 1157.8 463.4C1156.3 465.5 1152.3 467.9 1150.7 470.5C1149.1 473.2 1147.7 476.9 1148 479.5C1148.3 482 1151.6 483.7 1152.5 485.7C1153.4 487.8 1154 490 1153.4 492C1152.8 493.9 1151.5 495.9 1149 497.3C1146.4 498.7 1141.5 500.2 1138.3 500.5C1135 500.8 1132.3 500.4 1129.4 499.1C1126.4 497.9 1123.3 495.1 1120.5 492.8C1117.7 490.6 1114.1 487.7 1112.5 485.7C1110.9 483.8 1110.4 482.5 1110.7 481.3C1111 480.1 1112.8 478.9 1114.3 478.6C1115.7 478.3 1118.7 479.7 1119.6 479.5C1120.5 479.2 1120.6 478.1 1119.6 476.8C1118.6 475.5 1115.6 473.3 1113.4 471.5C1111.2 469.7 1108.5 468 1106.3 466.1C1104.1 464.1 1101.6 461.8 1100.1 459.8C1098.6 457.9 1097.4 456.1 1097.4 454.5C1097.4 452.9 1098.6 451.4 1100.1 450C1101.6 448.7 1104.4 448.1 1106.3 446.4C1108.2 444.8 1110.2 441.6 1111.6 440.2C1113.1 438.9 1113.6 438.8 1115.2 438.4C1116.8 437.9 1119.8 438.5 1121.4 437.5C1123 436.5 1123.8 433.7 1125 432.2C1126.1 430.6 1126.3 428.1 1128.5 428.1Z" fill="none" stroke="#1f7bc2" stroke-width="1.5" stroke-dasharray="5.6 2.9"/>
<text font-size="12.8" fill="#111" textLength="30.2" lengthAdjust="spacing" transform="translate(1114.8 392.9) scale(1 1.08)"><tspan font-style="italic">Cd69</tspan></text>
<g fill="#fdeee7" opacity="0.5" filter="url(#ebl)">
<ellipse cx="1261.5" cy="410.6" rx="14.1" ry="11.4"/>
<ellipse cx="1259.3" cy="426.9" rx="11.4" ry="10"/>
<ellipse cx="1197" cy="430.9" rx="12.4" ry="10.3"/>
<ellipse cx="1237" cy="450.9" rx="23.3" ry="16.4"/>
<ellipse cx="1244.2" cy="466.3" rx="16.4" ry="13.8"/>
<ellipse cx="1242.4" cy="487.2" rx="14.1" ry="12.4"/>
<ellipse cx="1279.6" cy="466.3" rx="7.2" ry="6.9"/>
<ellipse cx="1213.4" cy="499" rx="10.7" ry="10.3"/>
<ellipse cx="1205.2" cy="487.2" rx="8.3" ry="6.6"/>
</g>
<path d="M1245.7 442.3h0m-14.8 4.3h0m24.8-1.7h0m3.1-.3h0m-.8 11.3h0m.9 2.7h0m-40 1.6h0m17 3h0m11.4 3.9h0m-10.7-.2h0m-9.1-1.6h0m16.8 15.5h0" fill="none" stroke="#fcd3c1" stroke-width="2.0" stroke-linecap="round"/>
<path d="M1248.3 449.2h0m-31.4 .3h0m37.2 2.8h0m-4.1 2.8h0m-8.6 1.6h0m-7.7 4.7h0m18.6 6.2h0m-22.6 21.9h0m19.4 6.8h0m-9.7 .5h0" fill="none" stroke="#fcab8f" stroke-width="2.0" stroke-linecap="round"/>
<path d="M1253.9 441.3h0m-8.7 5.2h0m10.9-.6h0m-40.3 5.1h0m10.1-.4h0m19.8 .8h0m-8.9 7h0m8.9-2.3h0m3.2 .9h0m-15.3 6h0m3.5-1h0m22.9 .3h0m-13.9 4.7h0m7.4 4.1h0m-10.5 1.9h0m-7.5 .9h0m-2.5-1.4h0m20.5 6.8h0m-1.3-.5h0m-9.4 1.1h0m4.2 10.5h0" fill="none" stroke="#fb7555" stroke-width="2.0" stroke-linecap="round"/>
<path d="M1234.6 448.9h0m20.7 5.6h0m1.8 1.8h0m-21.6 6.8h0m6.2 3h0m-2.3 .1h0m-.7 .4h0m-3.8-1.4h0m-4.4 3.1h0m14.4 1.2h0m7.8-.1h0m3.8 2.9h0m-2.8 0h0m-19.7 4.4h0m16.1 .5h0m-8.6 2.7h0m11.3 5.5h0m-20.9 .8h0m6.6 3.1h0" fill="none" stroke="#e53c2e" stroke-width="2.0" stroke-linecap="round"/>
<path d="M1193.3 439.3h0m47.8 10.2h0m15.3 6.6h0m-22.3 4.1h0m-3.2 4.7h0m8.5 3h0m7.4 4.4h0m-10.4-.2h0m-2 1.1h0m3.2 7.1h0m12.3 1h0m1.5-1h0m.2 2.2h0m-12.1 8.5h0m-8.2 3.3h0" fill="none" stroke="#b81419" stroke-width="2.0" stroke-linecap="round"/>
<path d="M1239.8 455.3h0m-6.3 5.5h0m7.4 3h0m2-1h0m-13.6 4.3h0m7.1 8.1h0m14.6 3.8h0m-6.5-.2h0" fill="none" stroke="#6b0410" stroke-width="2.0" stroke-linecap="round"/>
<path d="M1236.8 429C1239 429 1243.4 431.2 1246.7 433.1C1250 434.9 1253.8 437.4 1256.7 440.2C1259.6 443.1 1262 446.9 1264 450C1266 453.2 1268.1 456.6 1268.5 459C1268.9 461.4 1268.2 462.2 1266.7 464.3C1265.1 466.4 1261.1 468.8 1259.4 471.4C1257.8 474.1 1256.4 477.8 1256.7 480.4C1257 482.9 1260.4 484.6 1261.3 486.6C1262.2 488.7 1262.8 490.9 1262.2 492.9C1261.5 494.8 1260.2 496.8 1257.6 498.2C1255.1 499.6 1250.1 501.1 1246.7 501.4C1243.4 501.7 1240.7 501.3 1237.6 500C1234.6 498.8 1231.4 496 1228.6 493.7C1225.7 491.5 1222.1 488.6 1220.4 486.6C1218.8 484.7 1218.3 483.4 1218.6 482.2C1218.9 481 1220.7 479.8 1222.2 479.5C1223.7 479.2 1226.8 480.6 1227.7 480.4C1228.6 480.1 1228.7 479 1227.7 477.7C1226.6 476.4 1223.6 474.2 1221.3 472.4C1219.1 470.6 1216.3 468.9 1214.1 467C1211.8 465 1209.2 462.7 1207.7 460.7C1206.2 458.8 1205 457 1205 455.4C1205 453.8 1206.2 452.3 1207.7 450.9C1209.2 449.6 1212.1 449 1214.1 447.3C1216 445.7 1218 442.5 1219.5 441.1C1221.1 439.8 1221.5 439.7 1223.2 439.3C1224.8 438.8 1227.8 439.4 1229.5 438.4C1231.2 437.4 1231.9 434.6 1233.1 433.1C1234.3 431.5 1234.5 429 1236.8 429Z" fill="none" stroke="#1f7bc2" stroke-width="1.5" stroke-dasharray="5.6 2.9"/>
<text font-size="12.8" fill="#111" textLength="82.4" lengthAdjust="spacing" transform="translate(1195.3 392.9) scale(1 1.08)"><tspan font-style="italic">Znf683</tspan> (Hobit)</text>
<g fill="#fdeee7" opacity="0.5" filter="url(#ebl)">
<ellipse cx="835.7" cy="553" rx="14.1" ry="11.4"/>
<ellipse cx="833.5" cy="569.3" rx="11.4" ry="10"/>
<ellipse cx="771.2" cy="573.3" rx="12.4" ry="10.3"/>
<ellipse cx="811.2" cy="593.3" rx="23.3" ry="16.4"/>
<ellipse cx="818.4" cy="608.7" rx="16.4" ry="13.8"/>
<ellipse cx="816.6" cy="629.6" rx="14.1" ry="12.4"/>
<ellipse cx="853.8" cy="608.7" rx="7.2" ry="6.9"/>
<ellipse cx="787.6" cy="641.4" rx="10.7" ry="10.3"/>
<ellipse cx="779.4" cy="629.6" rx="8.3" ry="6.6"/>
</g>
<path d="M778.3 575.3h0m-1.8-.9h0m29.9 2.6h0m11.8 3.2h0m-22.6 3.3h0m29.8 3.4h0m-30.1 4h0m35.9-1.1h0m-5.8 2.6h0m-15-.7h0m0 4.6h0m23 .1h0m-7.9 1.1h0m-32.6 .6h0m12.1 4.7h0m1.3-2.1h0m10.4 .4h0m16.8 3.5h0m-15.7-1.6h0m-.2 .9h0m-1.6-.4h0m-1.1 2h0m13.2 3.1h0m-6.6 .9h0m-11.1 3.7h0m0 3.4h0m4.7 3.9h0m10.8-1.9h0m-8 2.8h0m-5.2 .2h0m6.8 6.8h0m-15.3 3.7h0m15.3 .9h0m-2.6 2.4h0m-1.8 3.3h0m9-.6h0m-.6 1.1h0m-13.7 0h0" fill="none" stroke="#fcd3c1" stroke-width="2.0" stroke-linecap="round"/>
<path d="M817.8 581.9h0m1.4 5.3h0m-1.8-2.1h0m5.1 6.5h0m-4 1.2h0m-13.7-.6h0m-14.8 1.2h0m10.1 3.4h0m10.5-1.1h0m9.9-.3h0m1.1-.7h0m4.4 0h0m2.2 4h0m-32.2 3.4h0m12.6-1.4h0m13 0h0m7.8 2.1h0m-2.1 1h0m-22.2 3.5h0m14.7 3.4h0m-14.3 2.1h0m4.2 3.5h0m14.6 3.3h0m-4.9 3.6h0m-15-.1h0m5 3.6h0m8.1-1h0m-7.2 5.7h0" fill="none" stroke="#fcab8f" stroke-width="2.0" stroke-linecap="round"/>
<path d="M796.9 578.8h0m11.6-1.4h0m4.7 1.4h0m1 1h0m-6.2 1.5h0m-8.4-1h0m16.2 3.9h0m2.6 1.4h0m-2.2 .3h0m-5.2 1.4h0m-22 3.2h0m20.5 3h0m-3-.8h0m-10.8 3.8h0m22-1.3h0m9 3.8h0m-12.7-1.3h0m-4.4 1.2h0m-2.2-.6h0m-11.4 2h0m9.5 2.5h0m10.7 1.3h0m-3.6 .6h0m-.9 .2h0m-1.6 0h0m-6.3 1.1h0m14.5 2h0m-3.1 1h0m-10.1 2.3h0m-.2-.1h0m2.3 2.7h0m1.7-1h0m4.8 .6h0m2.3 1.4h0m7.9-1.8h0m-6 9.4h0m-8 1.8h0m20.7 2.5h0m-14.5 2.8h0m-7.7-.9h0m4.3 2.1h0m12.6 1.7h0m-18.2 3.2h0m15.6 4.3h0m-9.9 .3h0" fill="none" stroke="#fb7555" stroke-width="2.0" stroke-linecap="round"/>
<path d="M845.1 543.3h0m-14.7 15.4h0m1.4 9.4h0m-23.7 9h0m5.3-.6h0m3.7 3.9h0m-1.8 .9h0m-12.7 .2h0m-4.7 2.5h0m11-1.1h0m2.2-.4h0m0 1.2h0m2.5-.8h0m5.9 1.6h0m-1.6 3.1h0m-18-.1h0m-1.1 .2h0m11.4 .3h0m-1.7 3h0m-15.9 .8h0m-1.4 1.9h0m25.9 1.1h0m4.2 4.1h0m-16 .8h0m-11.7-1.1h0m18.8 3.6h0m10.6-.9h0m.1 .1h0m2.8 0h0m4.7 3.2h0m-7-1.6h0m-.4 1.2h0m-5.9 1.6h0m-3.6-2.7h0m-3.6 2.5h0m-.2-1.2h0m-2.2-1.2h0m-4.1 .7h0m-3.6 2.9h0m21 .2h0m6.9-1h0m-8.8 5.9h0m-5.8 .8h0m.7 2h0m-10.6 .5h0m23.7 5.6h0m-1.7 .5h0m-8.1 2.1h0m-1.6-1.1h0m-3.3 .2h0m-.8-.7h0m7.4 5.3h0m-4.5 2.2h0m-9.9 1.3h0m16.1 0h0m2.3 1.7h0m4.1-1.4h0m-21.6 2.2h0" fill="none" stroke="#e53c2e" stroke-width="2.0" stroke-linecap="round"/>
<path d="M814.6 575.3h0m-47.4 0h0m48.8 3.7h0m-22.6 3.9h0m2.4-.4h0m22.3 3.1h0m-13.3-.1h0m-.3 1h0m2.5 1.7h0m23.3 .1h0m-15 3.6h0m-6.7-.5h0m-18.2 4.8h0m22.2-1.1h0m8 3.8h0m-5 .2h0m-1.4-1.1h0m-5.8 .3h0m-.3 .9h0m-10.6-1h0m-4.3-.8h0m-.1 5.2h0m14.6-1.2h0m.6 1.2h0m4.9-1.9h0m3.1 0h0m1-.6h0m-9 5.2h0m-.2-2.3h0m-3.5 5.3h0m9-2.3h0m-2.8 3.3h0m-7.3 .1h0m21 8.3h0m-5-.7h0m-13.7 7.5h0" fill="none" stroke="#b81419" stroke-width="2.0" stroke-linecap="round"/>
<path d="M798.7 583.5h0m18 0h0m-11 5.9h0m10.3 1h0m13.2 .2h0m-7.8 .5h0m-11.6 1.6h0m-8 .4h0m-5.2-.8h0m-2.2 1.2h0m8.3 .6h0m2.1 1.8h0m.8 6.6h0m2 0h0m0-.6h0m.8 .6h0m21.2-.5h0m-20.2 2.8h0m-6.1-1.3h0m-7.8-.5h0m-2.3 1.7h0m13 3.2h0m.5 .1h0m6.9 .7h0m-9 8h0m15.3 5.2h0m-2.9-.3h0m-.9 2.5h0" fill="none" stroke="#6b0410" stroke-width="2.0" stroke-linecap="round"/>
<path d="M811 570.8C813.2 570.8 817.7 573 821 574.9C824.4 576.8 828.2 579.4 831.1 582.2C834 585.1 836.5 589 838.4 592.2C840.4 595.4 842.6 598.9 843 601.3C843.4 603.7 842.7 604.6 841.1 606.7C839.6 608.8 835.5 611.2 833.8 613.9C832.2 616.6 830.8 620.4 831.1 623C831.4 625.6 834.8 627.3 835.7 629.4C836.6 631.5 837.2 633.8 836.6 635.7C836 637.7 834.6 639.7 832 641.2C829.4 642.6 824.4 644.1 821 644.4C817.6 644.7 814.9 644.3 811.8 643C808.8 641.7 805.6 638.9 802.7 636.6C799.8 634.3 796.2 631.4 794.5 629.4C792.8 627.4 792.3 626.1 792.6 624.9C792.9 623.6 794.7 622.4 796.3 622.1C797.8 621.8 800.9 623.3 801.8 623C802.7 622.7 802.9 621.7 801.8 620.3C800.7 619 797.7 616.7 795.4 614.9C793.1 613.1 790.4 611.4 788.1 609.4C785.8 607.4 783.2 605 781.7 603.1C780.1 601.1 778.9 599.3 778.9 597.6C778.9 596 780.1 594.5 781.7 593.1C783.2 591.7 786.1 591.1 788.1 589.4C790.1 587.8 792.1 584.5 793.6 583.1C795.1 581.8 795.6 581.7 797.2 581.3C798.9 580.8 802 581.4 803.6 580.4C805.3 579.3 806.1 576.5 807.3 574.9C808.5 573.3 808.7 570.8 811 570.8Z" fill="none" stroke="#1f7bc2" stroke-width="1.5" stroke-dasharray="5.6 2.9"/>
<text font-size="12.8" fill="#111" textLength="21.8" lengthAdjust="spacing" transform="translate(798.8 535.3) scale(1 1.08)"><tspan font-style="italic">Ifng</tspan></text>
<g fill="#fdeee7" opacity="0.5" filter="url(#ebl)">
<ellipse cx="940.5" cy="551.7" rx="14.1" ry="11.4"/>
<ellipse cx="938.4" cy="568" rx="11.4" ry="10"/>
<ellipse cx="876.1" cy="572" rx="12.4" ry="10.3"/>
<ellipse cx="916" cy="592" rx="23.3" ry="16.4"/>
<ellipse cx="923.3" cy="607.4" rx="16.4" ry="13.8"/>
<ellipse cx="921.5" cy="628.3" rx="14.1" ry="12.4"/>
<ellipse cx="958.7" cy="607.4" rx="7.2" ry="6.9"/>
<ellipse cx="892.4" cy="640.1" rx="10.7" ry="10.3"/>
<ellipse cx="884.3" cy="628.3" rx="8.3" ry="6.6"/>
</g>
<path d="M914.2 576.6h0m.8 2h0m-11.5 .6h0m-19.5 4.5h0m39.8 1h0m6.5 .9h0m-24.6 5.3h0m9.3 2.9h0m-3.6-2.4h0m-11.7 1.4h0m33.3 5.8h0m-14 0h0m8.9 1.4h0m6 1.5h0m-17.9 4.6h0m9.1 1.6h0m-13 5.9h0m17.2 2.8h0m-7.6 .9h0m1.8 2.6h0m.2-.9h0m2.2 .8h0m5.4 .1h0m-3.8 1.8h0m-6 1.9h0m-12.9 2.5h0m17.6-1.5h0m6.6 2.5h0m-22.7 .5h0m9.9 3.7h0m2.5-1.1h0m10.6 5.2h0m-11.5-.8h0" fill="none" stroke="#fcd3c1" stroke-width="2.0" stroke-linecap="round"/>
<path d="M928.2 553.1h0m19.7 9.4h0m-77 2.7h0m18.7 5.7h0m45.2 9.3h0m-1.4-.3h0m-5.6-.3h0m-6.3 .7h0m-1.3 .9h0m-11.5-.3h0m-8 .3h0m21.5 2.1h0m15.7 2.4h0m-5.5 1.3h0m-32.3 2.6h0m15.2 .8h0m-13.9 .6h0m3.6 4.5h0m14 .7h0m15.4 2.8h0m-2.4-.3h0m-16.2 .8h0m-3.1-1.9h0m-12.1 2h0m-1.9-1.2h0m9 2.3h0m25.1 4h0m-7 1h0m-5.8-.8h0m-3.9-1.8h0m-12.9 .2h0m3.9 4h0m4.9 .3h0m1.6-1.5h0m7.2 1.1h0m15.4-.2h0m.5 0h0m-26.6 7.5h0m15.7-1.1h0m1.8 1.2h0m.2 3.1h0m-17.2 3h0m10.8-1.9h0m.4 1.5h0m7 2.7h0m.8 6.9h0m-.9 2.3h0m-16.3 4h0m7.6 1.2h0" fill="none" stroke="#fcab8f" stroke-width="2.0" stroke-linecap="round"/>
<path d="M929.8 565.3h0m.1 4.5h0m-45.2 6h0m-4.2-2.7h0m-14 3.4h0m44.4 .1h0m6.9-.1h0m6.4 1.8h0m.9 2.9h0m-22.3 1.5h0m6.9 1.5h0m4.8-1h0m1.1-.2h0m.3-.6h0m5.6-.2h0m1.8 1.1h0m15.9 2.6h0m-17.1 .5h0m-9.9 1.2h0m1.2 2.5h0m12.9-1.5h0m6.5-.4h0m-.2 3.3h0m-7.7 2h0m-2.7-2.3h0m-22.6-.2h0m-.4 1.2h0m-2.3-1.2h0m32.9 3.6h0m.5 1.6h0m4.6-1.7h0m-2.1 3.8h0m-.8 1.1h0m-2.7-1.1h0m-9.1 1.3h0m-5.4 .2h0m-10.8 .5h0m.4 2.5h0m22.1-2.7h0m.6 1.4h0m.4-1.3h0m.6 2.7h0m-9.6 1.8h0m-2-1.1h0m-1.8-.5h0m-4.9 2.3h0m-1.6 1.1h0m1.8-.5h0m1.3 2.8h0m1-1.2h0m2.9-.9h0m.1 1.3h0m.4-1.4h0m3.9 0h0m14.9 1.5h0m19.4 3.6h0m-26.7-1.6h0m-6.3-1.1h0m-4 2.4h0m20.8 4.5h0m-24.2 0h0m-4-.5h0m.4 3.7h0m15.3 1h0m3.5-.7h0m3.8 1.7h0m-3.9 1.5h0m-10.3 2.1h0m13.5 1.8h0m-22.6 .9h0m26.3 4.8h0m-21.3 2.3h0m-18.4 8h0" fill="none" stroke="#fb7555" stroke-width="2.0" stroke-linecap="round"/>
<path d="M873.5 566.9h0m13.6 11.1h0m33.7-.3h0m0-.2h0m2.2 1.4h0m3 .3h0m-9.5-.2h0m-18.5 3.6h0m22.6 .3h0m.1-.8h0m1.8 2h0m.4 .2h0m6.2-.5h0m3.2-1.1h0m-17.2 4h0m-10.3-.5h0m26.6 5.9h0m-2 1.5h0m-2.9-.2h0m-3.9 .5h0m-5.1-.1h0m-21.9 1.5h0m3.3-.6h0m22.8 1.4h0m.3 .4h0m1.5-.5h0m9.6 .6h0m2 3.3h0m-8.6-.5h0m-1.5-.6h0m-4.5-1h0m-3.2 1.3h0m-4.4-1.2h0m-2.8 .5h0m-4.4 .6h0m7.2 2.7h0m11.6-1.1h0m3.5-.5h0m2.8 0h0m.1 3.4h0m-4.3 1.2h0m-1.3 .6h0m-6.3-.2h0m-1.4-1.6h0m-.3 1.9h0m-3-1.1h0m-3.3 2.3h0m2.5 1.7h0m10.9-1.5h0m8.5 .5h0m4.7 3.6h0m-25.5 1.7h0m1.3 1.7h0m1.1 .2h0m4.4-2.2h0m3.1 1.8h0m3 3.5h0m-8.9-2.3h0m-2.1 4.2h0m15.2 .7h0m3.8 3.5h0m-19.3 .2h0m3.2 4.8h0m-1.9 .4h0m19 2h0" fill="none" stroke="#e53c2e" stroke-width="2.0" stroke-linecap="round"/>
<path d="M911.9 577.8h0m19.5 .9h0m-9.1 .9h0m-2.1 .4h0m-32.1 .6h0m-6.9 2h0m43.4 1.3h0m-30.8 5.3h0m28.5 1.3h0m2.7-1.3h0m8.1 4.1h0m-1.9-.5h0m-2 .9h0m-5.3 1.1h0m9 1.5h0m-5.6 2.3h0m-1.1-1h0m-5.9-.4h0m-2.2 2.2h0m-2.7-2h0m7.8 4.6h0m3.3 0h0m2-.3h0m3.6 .8h0m.5-1.2h0m21.3 1.4h0m-24.9 .5h0m-6.9 1.3h0m-7.5-.3h0m-4.4 3.5h0m5.5-1.5h0m10.7 1.4h0m-1.8 1.8h0m7.2 5.2h0m6.7-2.5h0m-12.7 3.3h0m-6.6-.1h0m-3.7 1h0m2 4h0m11.6 3.4h0m-.3-2.4h0m-6.2 2.1h0m-.7-2.4h0m-13.7 15h0m8.4 5h0" fill="none" stroke="#b81419" stroke-width="2.0" stroke-linecap="round"/>
<path d="M918.4 575.1h0m-46.5 7.8h0m15.4 .8h0m32.4 .6h0m1.4 .3h0m2.9-.6h0m9.1 9.4h0m-.5-1.2h0m-1.6 .7h0m-6.2-.4h0m-6.4-1.1h0m-7.3 5h0m4 0h0m.1-1.4h0m1.6-.3h0m2.3 2h0m15.2-1.1h0m3.9 .2h0m-2.1 1.6h0m-3 0h0m-11.9 1.7h0m-14 .2h0m4 1h0m1.2 .9h0m.9 0h0m4.7-.3h0m4 3h0m-2.3 .3h0m-.7 1.4h0m-1.5-2.2h0m.9 3.9h0m15-1.3h0m-7 3.5h0m-18.2 4.4h0m7.7 22.6h0m-25.7 7.4h0" fill="none" stroke="#6b0410" stroke-width="2.0" stroke-linecap="round"/>
<path d="M915.8 569.5C918.1 569.5 922.5 571.7 925.9 573.6C929.3 575.5 933.1 578.1 936 580.9C938.9 583.8 941.4 587.7 943.4 590.9C945.4 594.1 947.5 597.6 948 600C948.5 602.4 947.7 603.3 946.1 605.4C944.6 607.5 940.5 609.9 938.8 612.6C937.1 615.3 935.7 619.1 936 621.7C936.3 624.3 939.7 626 940.7 628.1C941.6 630.2 942.2 632.5 941.6 634.4C940.9 636.4 939.6 638.4 937 639.9C934.4 641.3 929.3 642.8 925.9 643.1C922.5 643.4 919.8 643 916.7 641.7C913.6 640.4 910.4 637.6 907.5 635.3C904.6 633 900.9 630.1 899.2 628.1C897.6 626.1 897.1 624.8 897.4 623.6C897.7 622.3 899.5 621.1 901.1 620.8C902.6 620.5 905.7 622 906.6 621.7C907.5 621.4 907.7 620.4 906.6 619C905.5 617.7 902.4 615.4 900.2 613.6C897.9 611.8 895.1 610.1 892.8 608.1C890.5 606.1 887.9 603.7 886.4 601.8C884.8 599.8 883.6 598 883.6 596.3C883.6 594.7 884.8 593.2 886.4 591.8C887.9 590.4 890.8 589.8 892.8 588.1C894.8 586.5 896.8 583.2 898.3 581.8C899.9 580.5 900.3 580.4 902 580C903.7 579.5 906.8 580.1 908.5 579.1C910.1 578 910.9 575.2 912.1 573.6C913.4 572 913.5 569.5 915.8 569.5Z" fill="none" stroke="#1f7bc2" stroke-width="1.5" stroke-dasharray="5.6 2.9"/>
<text font-size="12.8" fill="#111" textLength="33.6" lengthAdjust="spacing" transform="translate(899.9 535.8) scale(1 1.08)"><tspan font-style="italic">Cxcr3</tspan></text>
<g fill="#fdeee7" opacity="0.5" filter="url(#ebl)">
<ellipse cx="1047.5" cy="554.8" rx="14.1" ry="11.4"/>
<ellipse cx="1045.3" cy="571.1" rx="11.4" ry="10"/>
<ellipse cx="983" cy="575.1" rx="12.4" ry="10.3"/>
<ellipse cx="1023" cy="595.1" rx="23.3" ry="16.4"/>
<ellipse cx="1030.2" cy="610.5" rx="16.4" ry="13.8"/>
<ellipse cx="1028.4" cy="631.4" rx="14.1" ry="12.4"/>
<ellipse cx="1065.6" cy="610.5" rx="7.2" ry="6.9"/>
<ellipse cx="999.4" cy="643.2" rx="10.7" ry="10.3"/>
<ellipse cx="991.2" cy="631.4" rx="8.3" ry="6.6"/>
</g>
<path d="M1034.7 551.6h0m12.4 .7h0m5.4 .4h0m-7.2 3h0m-1.1 1.7h0m-4.8-.6h0m7.9 1.6h0m.8 .2h0m10.6 2h0m-13.4 .5h0m-65.8 4.1h0m5.4 .8h0m38.7 14.4h0m-37-.9h0m42.9 7.7h0m-3.8 .8h0m4.5 3.4h0m-27.2 4.1h0m18.3-.2h0m23.9 3.6h0m-22.5 1.3h0m2.7 7.6h0m38.6-1h0m-48.8 2.8h0m23.5 4h0m-5.9 2.9h0m4.6 5.8h0m-14 1.3h0m5 3.1h0m13.8 2.2h0m-22 0h0m-1-1.2h0m-27.5 4.8h0m43.3-.6h0m-51.1 1.8h0m38.6 3.1h0m6.9 1h0" fill="none" stroke="#fcd3c1" stroke-width="2.0" stroke-linecap="round"/>
<path d="M1056.9 545.1h0m-16.8 2.8h0m7.8 3.2h0m-.5 3.4h0m-6.9 5.1h0m3.2 2.6h0m-4.1 .6h0m1 3.1h0m4.2 6.4h0m-69.8 1.2h0m16.7 5.4h0m36.8 4.5h0m5.9 12.5h0m-28.6 1.9h0m27.5 2.2h0m9.1 6.4h0m-9.1 4.3h0m-10.3-1.5h0m-.1 .9h0m36.4 4.3h0m-40.3 1.3h0m13.8 2.8h0m-.2 20.3h0" fill="none" stroke="#fcab8f" stroke-width="2.0" stroke-linecap="round"/>
<path d="M1043.5 549.1h0m-4.1 8.5h0m14.6 6.7h0m-66 3.4h0m-8.9 1.5h0m57.3 1.7h0m-54.6 2.6h0m9.2 3.4h0m28.9 2h0m30.7 1.1h0m-17.7-.1h0m-5.1 .9h0m-45.7 1.4h0m6.6 2.2h0m6.4-.7h0m15.4 1.6h0m-17.5 1.4h0m-4.5 .1h0m17.4 13h0m16.9 2.8h0m10.6 .6h0m-4.3 2.6h0m16 .8h0m-26.7 2.5h0m47.1 4.8h0m-30.4 2.6h0m-12 1.9h0m-40.2 15.3h0m9 15.9h0" fill="none" stroke="#fb7555" stroke-width="2.0" stroke-linecap="round"/>
<path d="M1053.1 549.2h0m-3.6 12.6h0m-73.3 5.1h0m1.5 .8h0m59.5 8.1h0m-53.2 9.1h0m55.4 1.7h0m-8.2 4.1h0m-5 7.3h0m-2.4-.2h0m-5.7 4.7h0m13.8 6.6h0" fill="none" stroke="#e53c2e" stroke-width="2.0" stroke-linecap="round"/>
<path d="M1033.8 551.9h0m26.9 4.8h0m-81.3 7.9h0m64.5 1.2h0m-7.3 2.1h0m-.6 2h0m-43.9-2h0m-7.5-.9h0m-5.2 1.6h0m2 3.4h0m-2 6.7h0m1.9 4.1h0m34.4 3.2h0m12.8 16.9h0m39.4 1.8h0m-6.3 .3h0m8.1 3.6h0m1.3-2.3h0m-3.8 4.8h0m1.5 1.4h0m3.5-.2h0m-4.8 3.6h0m-.8-.3h0m-68.8 30.4h0" fill="none" stroke="#b81419" stroke-width="2.0" stroke-linecap="round"/>
<path d="M992.2 569.9h0m-14.3-1.6h0m5.5 4.3h0m3.1-.3h0m.3-1.4h0m-.8 3.6h0m.5 3.9h0m74.3 27.4h0m-.4 0h0m-1.6 1.6h0m5.3 3.5h0m-5.4 .2h0m12.2 2.4h0m.9 1.1h0m-3 1.4h0m-7.2 .3h0m-.3-.9h0" fill="none" stroke="#6b0410" stroke-width="2.0" stroke-linecap="round"/>
<path d="M1022.8 572.6C1025 572.6 1029.5 574.8 1032.8 576.7C1036.2 578.6 1040 581.2 1042.9 584C1045.8 586.9 1048.3 590.8 1050.2 594C1052.2 597.2 1054.4 600.7 1054.8 603.1C1055.2 605.5 1054.5 606.4 1052.9 608.5C1051.4 610.6 1047.3 613 1045.6 615.7C1044 618.4 1042.6 622.2 1042.9 624.8C1043.2 627.4 1046.6 629.1 1047.5 631.2C1048.4 633.3 1049 635.6 1048.4 637.5C1047.8 639.5 1046.4 641.5 1043.8 643C1041.2 644.4 1036.2 645.9 1032.8 646.2C1029.4 646.5 1026.7 646.1 1023.6 644.8C1020.6 643.5 1017.4 640.7 1014.5 638.4C1011.6 636.1 1008 633.2 1006.3 631.2C1004.6 629.2 1004.1 627.9 1004.4 626.7C1004.7 625.4 1006.5 624.2 1008.1 623.9C1009.6 623.6 1012.7 625.1 1013.6 624.8C1014.5 624.5 1014.7 623.5 1013.6 622.1C1012.5 620.8 1009.5 618.5 1007.2 616.7C1004.9 614.9 1002.2 613.2 999.9 611.2C997.6 609.2 995 606.8 993.5 604.9C991.9 602.9 990.7 601.1 990.7 599.4C990.7 597.8 991.9 596.3 993.5 594.9C995 593.5 997.9 592.9 999.9 591.2C1001.9 589.6 1003.9 586.3 1005.4 584.9C1006.9 583.6 1007.4 583.5 1009 583.1C1010.7 582.6 1013.8 583.2 1015.4 582.2C1017.1 581.1 1017.9 578.3 1019.1 576.7C1020.3 575.1 1020.5 572.6 1022.8 572.6Z" fill="none" stroke="#1f7bc2" stroke-width="1.5" stroke-dasharray="5.6 2.9"/>
<text font-size="12.8" fill="#111" textLength="26.7" lengthAdjust="spacing" transform="translate(1009.8 535.8) scale(1 1.08)"><tspan font-style="italic">Ccr7</tspan></text>
<g fill="#fdeee7" opacity="0.5" filter="url(#ebl)">
<ellipse cx="1155.1" cy="552.8" rx="14.1" ry="11.4"/>
<ellipse cx="1152.9" cy="569.2" rx="11.4" ry="10"/>
<ellipse cx="1090.6" cy="573.2" rx="12.4" ry="10.3"/>
<ellipse cx="1130.6" cy="593.1" rx="23.3" ry="16.4"/>
<ellipse cx="1137.8" cy="608.6" rx="16.4" ry="13.8"/>
<ellipse cx="1136" cy="629.5" rx="14.1" ry="12.4"/>
<ellipse cx="1173.2" cy="608.6" rx="7.2" ry="6.9"/>
<ellipse cx="1107" cy="641.3" rx="10.7" ry="10.3"/>
<ellipse cx="1098.8" cy="629.5" rx="8.3" ry="6.6"/>
</g>
<path d="M1092.4 562.9h0m-2.7 1.7h0m4.9 .4h0m-7.2 5.1h0m5.3 2.6h0m.9-.2h0m6.8-1.4h0m3.8 .9h0m-25 3.3h0m4.5 2.5h0m17.8 0h0m-1.4 3.2h0m-5-.9h0m-5.4 .2h0m-.9-.2h0" fill="none" stroke="#fcd3c1" stroke-width="2.0" stroke-linecap="round"/>
<path d="M1083.8 565h0m8.6 5h0m8.4 3.1h0m-3.2 1h0m-6.2 1.1h0m-.4-1.2h0m-8.2 4.5h0m4.8-1.9h0m7.7 .7h0m-.3 1.7h0m42.2 56.9h0" fill="none" stroke="#fcab8f" stroke-width="2.0" stroke-linecap="round"/>
<path d="M1087 562.6h0m-1.7 3.1h0m6.9-.7h0m8.8 3.3h0m-6.6 .7h0m-13 3.6h0m5.4-1.5h0m4.2-.5h0m10.1 4.2h0m-5.5-1.7h0m-5.5 1.9h0m-3.5 .1h0m-5.4-.4h0m67.9 26.2h0m-14.2 39.7h0" fill="none" stroke="#fb7555" stroke-width="2.0" stroke-linecap="round"/>
<path d="M1082.8 565.3h0m12.3 2.4h0m-4.3 .8h0m-4.1-1.3h0m2.3 2.9h0m-4.4 3.5h0m-.2 1.5h0m-1.9 .4h0m10.6 2.2h0m5.9-.7h0m-2.3 4.8h0m-5.5-.3h0m5.1 .9h0" fill="none" stroke="#e53c2e" stroke-width="2.0" stroke-linecap="round"/>
<path d="M1084.3 568.7h0m-.4-1.1h0m14.2 6.7h0" fill="none" stroke="#b81419" stroke-width="2.0" stroke-linecap="round"/>
<path d="M1090.8 568.3h0m-11.4-1.3h0m10 4.6h0m26 30.3h0" fill="none" stroke="#6b0410" stroke-width="2.0" stroke-linecap="round"/>
<path d="M1130.3 570.3C1132.6 570.3 1137.1 572.6 1140.4 574.5C1143.8 576.4 1147.6 578.9 1150.5 581.8C1153.4 584.7 1155.9 588.7 1157.8 591.9C1159.8 595.1 1162 598.6 1162.4 601.1C1162.8 603.5 1162.1 604.4 1160.5 606.5C1159 608.7 1154.9 611.1 1153.2 613.8C1151.6 616.6 1150.2 620.4 1150.5 623C1150.8 625.6 1154.2 627.3 1155.1 629.5C1156 631.6 1156.6 633.9 1156 635.8C1155.4 637.8 1154 639.9 1151.4 641.3C1148.8 642.8 1143.8 644.3 1140.4 644.6C1137 644.9 1134.3 644.5 1131.2 643.2C1128.2 641.9 1125 639 1122.1 636.7C1119.2 634.4 1115.6 631.4 1113.9 629.5C1112.2 627.5 1111.7 626.1 1112 624.9C1112.3 623.6 1114.1 622.4 1115.7 622.1C1117.2 621.8 1120.3 623.3 1121.2 623C1122.1 622.7 1122.3 621.7 1121.2 620.3C1120.1 618.9 1117.1 616.6 1114.8 614.8C1112.5 613 1109.8 611.2 1107.5 609.3C1105.2 607.3 1102.6 604.8 1101.1 602.9C1099.5 600.9 1098.3 599.1 1098.3 597.4C1098.3 595.7 1099.5 594.2 1101.1 592.8C1102.6 591.4 1105.5 590.8 1107.5 589.1C1109.5 587.4 1111.5 584.1 1113 582.7C1114.5 581.4 1115 581.3 1116.6 580.9C1118.3 580.4 1121.4 581 1123 580C1124.7 578.9 1125.5 576.1 1126.7 574.5C1127.9 572.9 1128.1 570.3 1130.3 570.3Z" fill="none" stroke="#1f7bc2" stroke-width="1.5" stroke-dasharray="5.6 2.9"/>
<text font-size="12.8" fill="#111" textLength="29.8" lengthAdjust="spacing" transform="translate(1114.8 535.5) scale(1 1.08)"><tspan font-style="italic">Klrg1</tspan></text>
<g fill="#fdeee7" opacity="0.5" filter="url(#ebl)">
<ellipse cx="1262.2" cy="552.4" rx="14.1" ry="11.4"/>
<ellipse cx="1260" cy="568.8" rx="11.4" ry="10"/>
<ellipse cx="1197.7" cy="572.8" rx="12.4" ry="10.3"/>
<ellipse cx="1237.7" cy="592.7" rx="23.3" ry="16.4"/>
<ellipse cx="1244.9" cy="608.2" rx="16.4" ry="13.8"/>
<ellipse cx="1243.1" cy="629.1" rx="14.1" ry="12.4"/>
<ellipse cx="1280.3" cy="608.2" rx="7.2" ry="6.9"/>
<ellipse cx="1214.1" cy="640.9" rx="10.7" ry="10.3"/>
<ellipse cx="1205.9" cy="629.1" rx="8.3" ry="6.6"/>
</g>
<path d="M1273.4 608.7h0m10.9-1.4h0m-.3 3.5h0m-8.7 .2h0m.2 1.4h0m1.2 2h0m-65.8 12.3h0" fill="none" stroke="#fcd3c1" stroke-width="2.0" stroke-linecap="round"/>
<path d="M1275.5 603.5h0m7.8 6.9h0m-1.2 2h0m1.4 1.3h0" fill="none" stroke="#fcab8f" stroke-width="2.0" stroke-linecap="round"/>
<path d="M1254.4 589.7h0m32.1 22.6h0" fill="none" stroke="#fb7555" stroke-width="2.0" stroke-linecap="round"/>
<path d="M1276.3 602.7h0m6.2 9.7h0m-69.2 32.6h0" fill="none" stroke="#e53c2e" stroke-width="2.0" stroke-linecap="round"/>
<path d="M1282.6 602.4h0m-5 3.5h0m3.7 7.3h0m4.4-.5h0" fill="none" stroke="#b81419" stroke-width="2.0" stroke-linecap="round"/>
<path d="M1237.5 569.9C1239.7 569.9 1244.2 572.2 1247.5 574.1C1250.9 576 1254.7 578.5 1257.6 581.4C1260.5 584.3 1263 588.3 1264.9 591.5C1266.9 594.7 1269.1 598.2 1269.5 600.7C1269.9 603.1 1269.2 604 1267.6 606.1C1266.1 608.3 1262 610.7 1260.3 613.4C1258.7 616.2 1257.3 620 1257.6 622.6C1257.9 625.2 1261.3 626.9 1262.2 629.1C1263.1 631.2 1263.7 633.5 1263.1 635.4C1262.5 637.4 1261.1 639.5 1258.5 640.9C1255.9 642.4 1250.9 643.9 1247.5 644.2C1244.1 644.5 1241.4 644.1 1238.3 642.8C1235.3 641.5 1232.1 638.6 1229.2 636.3C1226.3 634 1222.7 631 1221 629.1C1219.3 627.1 1218.8 625.7 1219.1 624.5C1219.4 623.2 1221.2 622 1222.8 621.7C1224.3 621.4 1227.4 622.9 1228.3 622.6C1229.2 622.3 1229.4 621.3 1228.3 619.9C1227.2 618.5 1224.2 616.2 1221.9 614.4C1219.6 612.6 1216.9 610.8 1214.6 608.9C1212.3 606.9 1209.7 604.4 1208.2 602.5C1206.6 600.5 1205.4 598.7 1205.4 597C1205.4 595.3 1206.6 593.8 1208.2 592.4C1209.7 591 1212.6 590.4 1214.6 588.7C1216.6 587 1218.6 583.7 1220.1 582.3C1221.6 581 1222.1 580.9 1223.7 580.5C1225.4 580 1228.5 580.6 1230.1 579.6C1231.8 578.5 1232.6 575.7 1233.8 574.1C1235 572.5 1235.2 569.9 1237.5 569.9Z" fill="none" stroke="#1f7bc2" stroke-width="1.5" stroke-dasharray="5.6 2.9"/>
<text font-size="12.8" fill="#111" textLength="73.8" lengthAdjust="spacing" transform="translate(1199.9 535.5) scale(1 1.08)"><tspan font-style="italic">Sell</tspan> (CD62L)</text>
<rect x="1214.5" y="659.2" width="56.4" height="6.8" fill="url(#cbar)" stroke="#000" stroke-width="0.9"/>
<text font-size="9.8" fill="#111" transform="translate(1209 675.2) scale(1 1.08)">Min</text>
<text font-size="9.8" fill="#111" transform="translate(1260.3 675.2) scale(1 1.08)">Max</text>
<text font-size="23" font-weight="bold" transform="translate(22.8 768.7) scale(1 1.08)">F</text>
<text font-size="12.8" fill="#2b7bba" font-weight="bold" textLength="50.6" lengthAdjust="spacing" transform="translate(36.8 789.8) scale(1 1.08)">CNO i.d.</text>
<text font-size="12.8" fill="#111" textLength="48.1" lengthAdjust="spacing" transform="translate(96 789.8) scale(1 1.08)">Analysis</text>
<line x1="60.6" y1="805.9" x2="122" y2="805.9" stroke="#111" stroke-width="1.2"/>
<line x1="61.1" y1="805.9" x2="61.1" y2="800" stroke="#111" stroke-width="1"/>
<line x1="91.4" y1="805.9" x2="91.4" y2="802" stroke="#111" stroke-width="1"/>
<line x1="122" y1="806.4" x2="122" y2="796.5" stroke="#000" stroke-width="1.1"/>
<path d="M122 793.5L119.4 798.5L122 797L124.6 798.5Z" fill="#000"/>
<path d="M58.4 792.3L63.8 792.3L61.1 803Z" fill="#1a6fb5"/>
<text font-size="12.6" fill="#111" text-anchor="middle" transform="translate(60.8 817.4) scale(1 1.08)">0</text>
<text font-size="12.6" fill="#111" text-anchor="middle" transform="translate(91.6 817.4) scale(1 1.08)">1</text>
<text font-size="12.6" fill="#111" text-anchor="middle" transform="translate(121.4 817.4) scale(1 1.08)">2</text>
<text font-size="12.6" fill="#111" textLength="22.8" lengthAdjust="spacing" transform="translate(129.3 817.4) scale(1 1.08)">Day</text>
<path d="M60 863 C60 846 78 836.4 98 836.4 C118 836.4 137 846 153.3 863.7 C137 881 118 890 98 890 C78 890 60 880 60 863Z" fill="#fff" stroke="#8a8a8a" stroke-width="0.9"/>
<path d="M125.5 853 C126 860 131 862.5 136 861.5" fill="none" stroke="#8a8a8a" stroke-width="0.9"/>
<path d="M125.5 874 C126 867 131 864.8 136 865.8" fill="none" stroke="#8a8a8a" stroke-width="0.9"/>
<path d="M61 865.5 C50 863 45.5 852 52 844.5 C56.5 839.5 63.5 836.5 63.2 832.5" fill="none" stroke="#8a8a8a" stroke-width="4.4" stroke-linecap="round"/>
<path d="M61 865.5 C50 863 45.5 852 52 844.5 C56.5 839.5 63.5 836.5 63.2 832.5" fill="none" stroke="#fff" stroke-width="2.8" stroke-linecap="round"/>
<line x1="61.1" y1="863.5" x2="130.7" y2="863.5" stroke="#999" stroke-width="0.9" stroke-dasharray="3.4 2"/>
<circle cx="90.8" cy="846.8" r="8" fill="#ececec" stroke="#b4b4b4" stroke-width="0.8"/>
<circle cx="90.8" cy="880.3" r="8.2" fill="#0b6fba"/>
<text font-size="14.8" fill="#111" textLength="41.6" lengthAdjust="spacing" transform="translate(102.5 852.3) scale(1 1.08)">Saline</text>
<text font-size="14.6" fill="#1a6fb5" font-weight="bold" textLength="32.4" lengthAdjust="spacing" transform="translate(103 886.1) scale(1 1.08)">CNO</text>
<text font-size="14.6" fill="#333" font-weight="bold" transform="translate(187.4 779.9)" textLength="362" lengthAdjust="spacing">Inhibition of local sympathetic nerves in the skin</text>
<text font-size="15" fill="#111" textLength="43.2" lengthAdjust="spacing" transform="translate(248.6 802.7) scale(1 1.08)">Saline</text>
<text font-size="14.8" fill="#1a6fb5" font-weight="bold" textLength="34.8" lengthAdjust="spacing" transform="translate(447.6 802.7) scale(1 1.08)">CNO</text>
<clipPath id="cF1"><circle cx="270.8" cy="904.2" r="92.2"/></clipPath>
<g clip-path="url(#cF1)">
<rect x="178.6" y="812" width="184.4" height="184.4" fill="#030549"/>
<rect x="178.6" y="812" width="184.4" height="184.4" fill="#000" filter="url(#nz)"/>
<g filter="url(#bl)">
<path d="M232.6 818.7C231.1 819.3 231 821 230.1 822.2C229.3 823.3 227.5 824.5 227.4 825.6C227.3 826.8 228.8 827.9 229.4 829.1C229.9 830.2 230.3 831.4 230.8 832.5C231.3 833.6 231.9 834.8 232.4 835.9C232.9 837.1 233.3 838.2 233.6 839.4C234 840.5 233.8 841.7 234.7 842.8C235.7 844 238 846.4 239.4 846.4C240.7 846.4 242.3 844 242.9 842.8C243.6 841.7 243 840.5 243.1 839.4C243.2 838.2 243.2 837.1 243.4 835.9C243.6 834.8 243.7 833.6 244.3 832.5C244.8 831.4 246.6 830.2 246.7 829.1C246.7 827.9 245.3 826.8 244.7 825.6C244 824.5 243.6 823.3 242.7 822.2C241.8 821 240.9 819.3 239.2 818.7C237.5 818.2 234.1 818.2 232.6 818.7Z" fill="url(#folg2)"/><ellipse cx="238.1" cy="836.5" rx="3.2" ry="5.3" fill="#1533b0" opacity="0.75"/><ellipse cx="239.4" cy="842.8" rx="4" ry="3.2" fill="#2c90ee" opacity="0.9"/>
<path d="M252.5 816.9C251 817.9 251.1 820.8 250.6 822.7C250.2 824.6 250 826.5 249.8 828.4C249.6 830.3 249.3 832.3 249.7 834.2C250.1 836.1 251.4 838 252.2 839.9C253 841.8 254 843.7 254.6 845.7C255.2 847.6 255.4 849.5 255.9 851.4C256.3 853.3 256.2 855.6 257.2 857.1C258.2 858.7 260.5 860.7 261.9 860.7C263.3 860.7 265 858.7 265.6 857.1C266.2 855.6 265.3 853.3 265.3 851.4C265.3 849.5 265.2 847.6 265.4 845.7C265.7 843.7 266.4 841.8 266.8 839.9C267.2 838 267.8 836.1 267.8 834.2C267.8 832.3 267.9 830.3 267 828.4C266.2 826.5 264 824.6 262.8 822.7C261.6 820.8 261.6 817.9 259.9 816.9C258.1 816 254 816 252.5 816.9Z" fill="url(#folg2)"/><ellipse cx="259.9" cy="845" rx="3.2" ry="8.3" fill="#1533b0" opacity="0.75"/><ellipse cx="261.9" cy="857.1" rx="4" ry="3.2" fill="#2c90ee" opacity="0.9"/>
<path d="M266.3 815.2C264.9 815.7 265 817.5 264.4 818.7C263.8 819.9 263.2 821.1 262.7 822.3C262.2 823.5 261.1 824.7 261.4 825.9C261.6 827.1 263.3 828.2 264.2 829.4C265.1 830.6 266.2 831.8 266.8 833C267.4 834.2 267.4 835.4 267.7 836.6C268 837.8 267.8 839 268.7 840.2C269.7 841.3 272 843.8 273.4 843.8C274.8 843.8 276.3 841.3 276.9 840.2C277.6 839 277.1 837.8 277.1 836.6C277.2 835.4 277 834.2 277.3 833C277.6 831.8 278.7 830.6 278.9 829.4C279.2 828.2 278.9 827.1 279 825.9C279.1 824.7 279.9 823.5 279.6 822.3C279.3 821.1 278.1 819.9 277 818.7C275.9 817.5 274.8 815.7 273 815.2C271.2 814.6 267.7 814.6 266.3 815.2Z" fill="url(#folg2)"/><ellipse cx="272.1" cy="833.5" rx="3.2" ry="5.4" fill="#1533b0" opacity="0.75"/><ellipse cx="273.4" cy="840.2" rx="4" ry="3.2" fill="#2c90ee" opacity="0.9"/>
<path d="M281.6 816.9C280 817.8 279.6 820.4 279.1 822.2C278.6 823.9 278.5 825.7 278.5 827.4C278.4 829.1 278.4 830.9 278.7 832.6C279 834.4 279.5 836.1 280.2 837.9C280.9 839.6 282.3 841.4 283 843.1C283.7 844.8 284.1 846.6 284.5 848.3C285 850.1 284.8 852.1 285.7 853.6C286.7 855 288.9 857.2 290.2 857.2C291.6 857.2 293.5 855 294 853.6C294.6 852.1 293.8 850.1 293.7 848.3C293.7 846.6 293.6 844.8 293.9 843.1C294.1 841.4 294.7 839.6 295.1 837.9C295.6 836.1 296.6 834.4 296.6 832.6C296.5 830.9 295.9 829.1 295.1 827.4C294.2 825.7 292.5 823.9 291.4 822.2C290.3 820.4 290.2 817.8 288.6 816.9C286.9 816.1 283.2 816.1 281.6 816.9Z" fill="url(#folg2)"/><ellipse cx="288.4" cy="842.7" rx="3.2" ry="7.6" fill="#1533b0" opacity="0.75"/><ellipse cx="290.2" cy="853.6" rx="4" ry="3.2" fill="#2c90ee" opacity="0.9"/>
<path d="M205.9 834.8C204.4 835.8 204.6 838.6 203.8 840.4C203 842.3 201.4 844.2 201.1 846C200.9 847.9 201.7 849.8 202.3 851.7C202.9 853.5 203.9 855.4 204.8 857.3C205.8 859.1 207.4 861 208.1 862.9C208.9 864.8 208.9 866.6 209.4 868.5C209.8 870.4 209.8 872.6 210.8 874.1C211.8 875.7 214 877.7 215.3 877.7C216.7 877.7 218.3 875.7 218.9 874.1C219.5 872.6 218.8 870.4 218.7 868.5C218.7 866.6 218.4 864.8 218.7 862.9C219.1 861 220.4 859.1 220.8 857.3C221.2 855.4 221.4 853.5 221.2 851.7C220.9 849.8 219.9 847.9 219.1 846C218.3 844.2 217.3 842.3 216.2 840.4C215.2 838.6 214.5 835.8 212.8 834.8C211 833.9 207.4 833.9 205.9 834.8Z" fill="url(#folg2)"/><ellipse cx="213.4" cy="862.3" rx="3.2" ry="8.2" fill="#1533b0" opacity="0.75"/><ellipse cx="215.3" cy="874.1" rx="4" ry="3.2" fill="#2c90ee" opacity="0.9"/>
<path d="M223.7 831.2C222.2 832.5 222.4 836.2 221.7 838.6C221.1 841.1 219.9 843.6 219.8 846C219.6 848.5 220.2 851 220.9 853.4C221.6 855.9 223 858.4 223.9 860.8C224.8 863.3 225.5 865.8 226.1 868.3C226.8 870.7 227.3 873.2 227.8 875.7C228.4 878.1 228.3 881.2 229.3 883.1C230.3 884.9 232.6 886.7 234 886.7C235.4 886.7 237.3 884.9 237.8 883.1C238.4 881.2 237.5 878.1 237.4 875.7C237.2 873.2 236.9 870.7 237 868.3C237 865.8 237.2 863.3 237.4 860.8C237.7 858.4 238.4 855.9 238.4 853.4C238.5 851 238.5 848.5 237.7 846C236.9 843.6 234.8 841.1 233.6 838.6C232.4 836.2 232 832.5 230.4 831.2C228.7 830 225.1 830 223.7 831.2Z" fill="url(#folg2)"/><ellipse cx="231.5" cy="866.7" rx="3.2" ry="10.5" fill="#1533b0" opacity="0.75"/><ellipse cx="234" cy="883.1" rx="4" ry="3.2" fill="#2c90ee" opacity="0.9"/>
<path d="M268.8 865.2C267.3 866.3 266.9 869.5 266.3 871.6C265.7 873.7 265.5 875.8 265.3 878C265 880.1 264.5 882.2 265 884.3C265.4 886.5 267.1 888.6 268.1 890.7C269.1 892.9 270.2 895 270.9 897.1C271.6 899.2 271.8 901.4 272.2 903.5C272.7 905.6 272.5 908.2 273.5 909.9C274.5 911.5 276.9 913.5 278.2 913.5C279.6 913.5 281.3 911.5 281.8 909.9C282.4 908.2 281.5 905.6 281.5 903.5C281.4 901.4 281.4 899.2 281.5 897.1C281.6 895 281.7 892.9 282 890.7C282.3 888.6 283.1 886.5 283.3 884.3C283.5 882.2 284 880.1 283.3 878C282.6 875.8 280.4 873.7 279.1 871.6C277.8 869.5 277.3 866.3 275.6 865.2C273.8 864.1 270.4 864.1 268.8 865.2Z" fill="url(#folg2)"/><ellipse cx="276" cy="896.1" rx="3.2" ry="9.2" fill="#1533b0" opacity="0.75"/><ellipse cx="278.2" cy="909.9" rx="4" ry="3.2" fill="#2c90ee" opacity="0.9"/>
<path d="M287.7 872.4C286.3 873.5 286.9 877.1 286.4 879.5C285.9 881.9 284.9 884.3 284.8 886.6C284.8 889 285.6 891.4 286.2 893.8C286.8 896.2 287.7 898.6 288.4 900.9C289.1 903.3 289.8 905.7 290.4 908.1C291.1 910.5 291.7 912.9 292.2 915.2C292.7 917.6 292.5 920.6 293.5 922.4C294.5 924.2 296.9 926 298.3 926C299.6 926 301.2 924.2 301.8 922.4C302.4 920.6 301.7 917.6 301.7 915.2C301.6 912.9 301.3 910.5 301.4 908.1C301.6 905.7 302.2 903.3 302.6 900.9C302.9 898.6 303.5 896.2 303.5 893.8C303.5 891.4 303.2 889 302.5 886.6C301.8 884.3 300.6 881.9 299.3 879.5C298 877.1 296.9 873.5 295 872.4C293.1 871.2 289.1 871.2 287.7 872.4Z" fill="url(#folg2)"/><ellipse cx="295.8" cy="906.7" rx="3.2" ry="10.2" fill="#1533b0" opacity="0.75"/><ellipse cx="298.3" cy="922.4" rx="4" ry="3.2" fill="#2c90ee" opacity="0.9"/>
<path d="M325.2 861.6C323.6 862.9 323.1 866.6 322.7 869C322.2 871.5 322.5 874 322.6 876.4C322.7 878.9 322.8 881.4 323.1 883.8C323.5 886.3 324 888.8 324.8 891.2C325.6 893.7 327.1 896.2 327.9 898.6C328.8 901.1 329.4 903.6 330 906C330.5 908.5 330.3 911.6 331.3 913.4C332.3 915.3 334.6 917 335.9 917C337.3 917 338.9 915.3 339.4 913.4C340 911.6 339.4 908.5 339.3 906C339.2 903.6 338.9 901.1 338.9 898.6C338.9 896.2 339 893.7 339.2 891.2C339.4 888.8 339.9 886.3 340.1 883.8C340.3 881.4 341.1 878.9 340.4 876.4C339.6 874 336.8 871.5 335.5 869C334.1 866.6 334 862.9 332.3 861.6C330.6 860.4 326.8 860.4 325.2 861.6Z" fill="url(#folg2)"/><ellipse cx="333.4" cy="897.1" rx="3.2" ry="10.5" fill="#1533b0" opacity="0.75"/><ellipse cx="335.9" cy="913.4" rx="4" ry="3.2" fill="#2c90ee" opacity="0.9"/>
<path d="M343.7 870.6C342.4 871.9 343.1 875.9 342.7 878.6C342.2 881.3 341.1 884 340.9 886.6C340.8 889.3 341.3 892 341.7 894.7C342.1 897.4 342.4 900 343.3 902.7C344.1 905.4 345.9 908.1 346.8 910.8C347.7 913.5 348.3 916.1 348.9 918.8C349.5 921.5 349.5 924.9 350.5 926.9C351.5 928.8 353.6 930.5 355 930.5C356.4 930.5 358.3 928.8 358.8 926.9C359.3 924.9 358.1 921.5 358 918.8C357.9 916.1 357.9 913.5 358 910.8C358.1 908.1 358.3 905.4 358.5 902.7C358.7 900 359.6 897.4 359.5 894.7C359.3 892 358.5 889.3 357.7 886.6C357 884 356 881.3 354.8 878.6C353.6 875.9 352.3 871.9 350.4 870.6C348.6 869.2 345 869.2 343.7 870.6Z" fill="url(#folg2)"/><ellipse cx="352.2" cy="908.9" rx="3.2" ry="11.4" fill="#1533b0" opacity="0.75"/><ellipse cx="355" cy="926.9" rx="4" ry="3.2" fill="#2c90ee" opacity="0.9"/>
<path d="M191.2 888.4C189.6 889.7 189.5 893.4 188.8 895.8C188.1 898.3 187.4 900.8 187.2 903.2C187.1 905.7 187.2 908.2 187.8 910.7C188.4 913.1 190 915.6 191 918.1C192.1 920.5 193.3 923 194 925.5C194.8 927.9 195.2 930.4 195.7 932.9C196.2 935.3 196.1 938.4 197.1 940.3C198.1 942.1 200.4 943.9 201.8 943.9C203.3 943.9 205 942.1 205.6 940.3C206.1 938.4 205.2 935.3 205.1 932.9C205 930.4 204.9 927.9 205.1 925.5C205.2 923 205.8 920.5 205.9 918.1C206 915.6 205.6 913.1 205.7 910.7C205.7 908.2 207.1 905.7 206.4 903.2C205.8 900.8 202.9 898.3 201.5 895.8C200.2 893.4 199.9 889.7 198.2 888.4C196.4 887.2 192.7 887.2 191.2 888.4Z" fill="url(#folg2)"/><ellipse cx="199.3" cy="923.9" rx="3.2" ry="10.5" fill="#1533b0" opacity="0.75"/><ellipse cx="201.8" cy="940.3" rx="4" ry="3.2" fill="#2c90ee" opacity="0.9"/>
<path d="M206.6 879.5C205 880.7 204.6 884.4 203.8 886.8C203.1 889.2 201.9 891.6 202.1 894.1C202.3 896.5 204.2 898.9 205 901.3C205.8 903.8 206.2 906.2 206.9 908.6C207.6 911 208.6 913.5 209.2 915.9C209.9 918.3 210.4 920.7 210.9 923.2C211.4 925.6 211.2 928.6 212.3 930.4C213.3 932.2 215.6 934 217 934C218.4 934 220.3 932.2 220.8 930.4C221.4 928.6 220.4 925.6 220.3 923.2C220.1 920.7 219.9 918.3 220 915.9C220.2 913.5 221 911 221.3 908.6C221.6 906.2 221.8 903.8 221.8 901.3C221.9 898.9 222.3 896.5 221.6 894.1C221 891.6 219.1 889.2 217.8 886.8C216.5 884.4 215.6 880.7 213.7 879.5C211.9 878.3 208.3 878.3 206.6 879.5Z" fill="url(#folg2)"/><ellipse cx="214.5" cy="914.4" rx="3.2" ry="10.4" fill="#1533b0" opacity="0.75"/><ellipse cx="217" cy="930.4" rx="4" ry="3.2" fill="#2c90ee" opacity="0.9"/>
<path d="M225.2 893.8C223.8 895.1 224.2 899.1 223.6 901.7C222.9 904.4 221.4 907 221.3 909.6C221.2 912.3 222.4 914.9 223.2 917.5C223.9 920.2 225 922.8 225.9 925.5C226.7 928.1 227.5 930.7 228.2 933.4C228.9 936 229.5 938.6 230 941.3C230.6 943.9 230.5 947.3 231.5 949.2C232.5 951.1 234.7 952.8 236 952.8C237.4 952.8 239.2 951.1 239.7 949.2C240.2 947.3 239.1 943.9 239 941.3C238.9 938.6 238.9 936 239.1 933.4C239.3 930.7 240.1 928.1 240.3 925.5C240.4 922.8 240 920.2 240 917.5C239.9 914.9 240.5 912.3 239.8 909.6C239 907 236.9 904.4 235.5 901.7C234.2 899.1 233.4 895.1 231.7 893.8C230 892.5 226.5 892.5 225.2 893.8Z" fill="url(#folg2)"/><ellipse cx="233.4" cy="931.6" rx="3.2" ry="11.2" fill="#1533b0" opacity="0.75"/><ellipse cx="236" cy="949.2" rx="4" ry="3.2" fill="#2c90ee" opacity="0.9"/>
<path d="M243 892C241.7 893.2 242.2 896.9 241.5 899.3C240.9 901.7 239.2 904.1 238.9 906.6C238.6 909 239 911.4 239.7 913.8C240.4 916.3 242.2 918.7 243.3 921.1C244.3 923.5 245.2 926 246 928.4C246.7 930.8 247.2 933.2 247.7 935.7C248.2 938.1 248 941.1 249 942.9C250 944.8 252.2 946.5 253.6 946.5C255 946.5 256.8 944.8 257.3 942.9C257.8 941.1 256.9 938.1 256.8 935.7C256.7 933.2 256.7 930.8 256.7 928.4C256.6 926 256.6 923.5 256.7 921.1C256.8 918.7 257.1 916.3 257.3 913.8C257.5 911.4 258.5 909 257.8 906.6C257.2 904.1 254.7 901.7 253.3 899.3C252 896.9 251.3 893.2 249.6 892C247.8 890.8 244.3 890.8 243 892Z" fill="url(#folg2)"/><ellipse cx="251.1" cy="926.9" rx="3.2" ry="10.4" fill="#1533b0" opacity="0.75"/><ellipse cx="253.6" cy="942.9" rx="4" ry="3.2" fill="#2c90ee" opacity="0.9"/>
<path d="M290.4 942.1C289 943.1 289.3 946 288.8 947.9C288.2 949.9 287.3 951.9 287.1 953.8C286.9 955.8 287.1 957.7 287.6 959.7C288.1 961.6 289.1 963.6 289.8 965.6C290.6 967.5 291.6 969.5 292.3 971.4C292.9 973.4 293.3 975.3 293.7 977.3C294.1 979.2 293.8 981.6 294.8 983.2C295.7 984.7 298.1 986.8 299.5 986.8C300.8 986.8 302.4 984.7 303 983.2C303.6 981.6 303 979.2 303 977.3C303 975.3 302.7 973.4 302.9 971.4C303.1 969.5 304.2 967.5 304.3 965.6C304.5 963.6 304.1 961.6 303.9 959.7C303.7 957.7 303.7 955.8 303.1 953.8C302.5 951.9 301.5 949.9 300.5 947.9C299.5 946 298.7 943.1 297.1 942.1C295.4 941.1 291.8 941.1 290.4 942.1Z" fill="url(#folg2)"/><ellipse cx="297.4" cy="970.7" rx="3.2" ry="8.5" fill="#1533b0" opacity="0.75"/><ellipse cx="299.5" cy="983.2" rx="4" ry="3.2" fill="#2c90ee" opacity="0.9"/>
<path d="M317.7 945.6C316.2 946.4 316 948.5 315.1 950C314.2 951.4 312.6 952.9 312.3 954.3C312 955.8 312.9 957.2 313.5 958.7C314 960.1 314.5 961.6 315.4 963C316.3 964.4 318 965.9 318.8 967.3C319.5 968.8 319.6 970.2 320 971.7C320.3 973.1 319.9 974.7 320.9 976C321.8 977.3 324.2 979.6 325.6 979.6C327 979.6 328.5 977.3 329.1 976C329.7 974.7 329.2 973.1 329.2 971.7C329.3 970.2 329.1 968.8 329.4 967.3C329.8 965.9 331 964.4 331.3 963C331.5 961.6 331.1 960.1 330.9 958.7C330.8 957.2 331.1 955.8 330.6 954.3C330.1 952.9 328.8 951.4 327.7 950C326.7 948.5 325.9 946.4 324.3 945.6C322.6 944.9 319.2 944.9 317.7 945.6Z" fill="url(#folg2)"/><ellipse cx="324" cy="967.4" rx="3.2" ry="6.5" fill="#1533b0" opacity="0.75"/><ellipse cx="325.6" cy="976" rx="4" ry="3.2" fill="#2c90ee" opacity="0.9"/>
<path d="M330.6 931.3C329.2 932 329.2 934.1 328.6 935.4C327.9 936.8 326.9 938.2 326.5 939.5C326 940.9 325.4 942.2 325.6 943.6C325.9 945 327 946.3 327.9 947.7C328.8 949 330.3 950.4 331 951.8C331.8 953.1 331.9 954.5 332.3 955.8C332.6 957.2 332.3 958.6 333.2 959.9C334.2 961.2 336.6 963.5 338 963.5C339.4 963.5 341 961.2 341.6 959.9C342.2 958.6 341.6 957.2 341.6 955.8C341.7 954.5 341.6 953.1 341.9 951.8C342.2 950.4 343.2 949 343.5 947.7C343.9 946.3 343.9 945 344 943.6C344.1 942.2 344.4 940.9 344 939.5C343.5 938.2 342.3 936.8 341.1 935.4C340 934.1 339 932 337.2 931.3C335.5 930.7 332 930.7 330.6 931.3Z" fill="url(#folg2)"/><ellipse cx="336.5" cy="951.9" rx="3.2" ry="6.1" fill="#1533b0" opacity="0.75"/><ellipse cx="338" cy="959.9" rx="4" ry="3.2" fill="#2c90ee" opacity="0.9"/>
<path d="M225.1 968.9C223.6 969.4 223.8 970.8 222.9 971.7C222 972.6 219.9 973.6 219.6 974.5C219.3 975.4 220.7 976.4 221.3 977.3C221.9 978.2 222.7 979.2 223.4 980.1C224 981 224.6 982 225.2 982.9C225.7 983.8 226.2 984.8 226.6 985.7C226.9 986.7 226.4 987.5 227.3 988.5C228.2 989.6 230.5 992.1 231.9 992.1C233.3 992.1 235 989.6 235.6 988.5C236.3 987.5 235.9 986.7 236 985.7C236.1 984.8 235.8 983.8 236.2 982.9C236.6 982 237.8 981 238.3 980.1C238.8 979.2 239 978.2 239 977.3C239 976.4 238.9 975.4 238.4 974.5C237.8 973.6 236.6 972.6 235.5 971.7C234.5 970.8 233.8 969.4 232 968.9C230.3 968.4 226.7 968.4 225.1 968.9Z" fill="url(#folg2)"/><ellipse cx="230.9" cy="983.8" rx="3.2" ry="4.4" fill="#1533b0" opacity="0.75"/><ellipse cx="231.9" cy="988.5" rx="4" ry="3.2" fill="#2c90ee" opacity="0.9"/>
<path d="M249.1 972.5C247.7 972.9 248 974.3 247 975.3C245.9 976.2 243.4 977.1 242.8 978.1C242.2 979 242.9 979.9 243.4 980.9C243.9 981.8 244.9 982.7 245.7 983.7C246.6 984.6 247.8 985.6 248.5 986.5C249.1 987.4 249.3 988.4 249.6 989.3C249.9 990.2 249.5 991 250.4 992.1C251.3 993.2 253.8 995.7 255.2 995.7C256.6 995.7 258.3 993.2 258.9 992.1C259.5 991 258.9 990.2 259 989.3C259 988.4 259.2 987.4 259.4 986.5C259.5 985.6 259.4 984.6 259.9 983.7C260.4 982.7 262.1 981.8 262.4 980.9C262.6 979.9 262 979 261.4 978.1C260.8 977.1 259.8 976.2 258.8 975.3C257.9 974.3 257.3 972.9 255.6 972.5C254 972 250.6 972 249.1 972.5Z" fill="url(#folg2)"/><ellipse cx="254.1" cy="987.3" rx="3.2" ry="4.4" fill="#1533b0" opacity="0.75"/><ellipse cx="255.2" cy="992.1" rx="4" ry="3.2" fill="#2c90ee" opacity="0.9"/>
<path d="M264.6 968.9C263.1 969.5 263.2 971.3 262.4 972.5C261.6 973.6 260.4 974.8 259.9 976C259.4 977.2 259.2 978.4 259.6 979.6C259.9 980.8 261 982 261.9 983.2C262.8 984.4 264.2 985.6 264.9 986.7C265.6 987.9 265.7 989.1 266.1 990.3C266.5 991.5 266.2 992.7 267.2 993.9C268.1 995.1 270.2 997.5 271.6 997.5C273 997.5 274.7 995.1 275.4 993.9C276 992.7 275.4 991.5 275.5 990.3C275.5 989.1 275.3 987.9 275.6 986.7C275.9 985.6 276.7 984.4 277.2 983.2C277.8 982 278.7 980.8 278.7 979.6C278.8 978.4 278 977.2 277.4 976C276.8 974.8 276.1 973.6 275.1 972.5C274.1 971.3 273.1 969.5 271.4 968.9C269.6 968.3 266.1 968.3 264.6 968.9Z" fill="url(#folg2)"/><ellipse cx="270.3" cy="987.2" rx="3.2" ry="5.4" fill="#1533b0" opacity="0.75"/><ellipse cx="271.6" cy="993.9" rx="4" ry="3.2" fill="#2c90ee" opacity="0.9"/>
<path d="M187.2 940.3C185.6 940.7 184.6 942 184 942.8C183.3 943.7 183.2 944.5 183.2 945.4C183.1 946.2 183.3 947.1 183.7 947.9C184.1 948.8 185 949.6 185.5 950.5C186 951.3 186.3 952.2 186.7 953C187.1 953.9 187.7 954.7 188 955.6C188.3 956.4 187.7 957.1 188.6 958.1C189.5 959.2 192 961.7 193.4 961.7C194.8 961.7 196.3 959.2 197 958.1C197.7 957.1 197.3 956.4 197.4 955.6C197.5 954.7 197.4 953.9 197.7 953C198 952.2 199 951.3 199.3 950.5C199.7 949.6 199.5 948.8 199.7 947.9C200 947.1 201.2 946.2 200.8 945.4C200.4 944.5 198.4 943.7 197.2 942.8C196 942 195.5 940.7 193.8 940.3C192.2 939.9 188.9 939.9 187.2 940.3Z" fill="url(#folg2)"/><ellipse cx="192.4" cy="954" rx="3.2" ry="4.1" fill="#1533b0" opacity="0.75"/><ellipse cx="193.4" cy="958.1" rx="4" ry="3.2" fill="#2c90ee" opacity="0.9"/>
<path d="M354 883.1C352.5 883.8 352.4 885.8 351.7 887.2C350.9 888.5 350 889.9 349.6 891.2C349.3 892.6 349.4 894 349.7 895.3C349.9 896.7 350.4 898 351.2 899.4C352 900.8 353.6 902.1 354.3 903.5C355 904.9 355 906.2 355.4 907.6C355.8 908.9 355.7 910.4 356.7 911.7C357.6 912.9 359.9 915.3 361.2 915.3C362.6 915.3 364.2 912.9 364.8 911.7C365.4 910.4 364.7 908.9 364.7 907.6C364.8 906.2 364.7 904.9 364.9 903.5C365.2 902.1 365.8 900.8 366.3 899.4C366.9 898 367.7 896.7 368 895.3C368.2 894 368.6 892.6 367.9 891.2C367.2 889.9 365 888.5 363.8 887.2C362.5 885.8 362 883.8 360.4 883.1C358.8 882.4 355.4 882.4 354 883.1Z" fill="url(#folg2)"/><ellipse cx="359.8" cy="903.7" rx="3.2" ry="6.1" fill="#1533b0" opacity="0.75"/><ellipse cx="361.2" cy="911.7" rx="4" ry="3.2" fill="#2c90ee" opacity="0.9"/>
</g>
<g filter="url(#rb)" fill="#ff2a5d">
<ellipse cx="225.1" cy="870" rx="0.9" ry="1.3"/>
<ellipse cx="214" cy="900.6" rx="0.9" ry="1.3"/>
<ellipse cx="293.9" cy="941.2" rx="0.9" ry="1.3"/>
<ellipse cx="272.1" cy="991.2" rx="0.9" ry="1.3"/>
<ellipse cx="209" cy="895.6" rx="0.9" ry="1.3"/>
<ellipse cx="273" cy="976" rx="0.9" ry="1.3"/>
</g></g>
<circle cx="270.8" cy="904.2" r="92.2" fill="none" stroke="#9a9a9a" stroke-width="2.4"/>
<clipPath id="cF2"><circle cx="465.2" cy="904.2" r="93"/></clipPath>
<g clip-path="url(#cF2)">
<rect x="372.2" y="811.2" width="186" height="186" fill="#030549"/>
<rect x="372.2" y="811.2" width="186" height="186" fill="#000" filter="url(#nz)"/>
<g filter="url(#bl)">
<path d="M417.7 818.7C416.1 819.1 415.7 820.3 414.6 821C413.5 821.8 411.5 822.6 411.2 823.3C410.8 824.1 412.2 824.8 412.5 825.6C412.8 826.4 413 827.1 413.2 827.9C413.5 828.7 413.9 829.4 414.2 830.2C414.4 831 414.6 831.7 414.7 832.5C414.9 833.3 414.4 833.8 415.1 834.8C415.8 835.8 417.6 838.4 419 838.4C420.3 838.4 422.5 835.8 423.3 834.8C424.2 833.8 423.9 833.3 424.2 832.5C424.5 831.7 424.8 831 425.2 830.2C425.6 829.4 426 828.7 426.7 827.9C427.5 827.1 429.5 826.4 429.8 825.6C430.1 824.8 428.9 824.1 428.5 823.3C428.1 822.6 427.8 821.8 427.2 821C426.5 820.3 426 819.1 424.4 818.7C422.8 818.3 419.4 818.3 417.7 818.7Z" fill="url(#folg2)"/><ellipse cx="419.7" cy="831.3" rx="3.2" ry="3.7" fill="#1533b0" opacity="0.75"/><ellipse cx="419" cy="834.8" rx="4" ry="3.2" fill="#2c90ee" opacity="0.9"/>
<path d="M433.9 815.2C432.2 815.4 431.9 816 431.2 816.4C430.4 816.8 429.9 817.3 429.4 817.7C429 818.1 428.3 818.5 428.4 819C428.5 819.4 429.5 819.8 430.1 820.2C430.6 820.7 431.3 821.1 431.6 821.5C431.9 821.9 431.9 822.4 432 822.8C432.2 823.2 431.8 823.3 432.5 824.1C433.2 824.9 434.9 827.7 436.3 827.7C437.7 827.7 440 824.9 440.9 824.1C441.7 823.3 441.2 823.2 441.4 822.8C441.7 822.4 441.9 821.9 442.4 821.5C443 821.1 444 820.7 444.7 820.2C445.4 819.8 446.2 819.4 446.6 819C446.9 818.5 447.2 818.1 446.7 817.7C446.1 817.3 444.3 816.8 443.4 816.4C442.5 816 442.8 815.4 441.3 815.2C439.7 814.9 435.6 814.9 433.9 815.2Z" fill="url(#folg2)"/><ellipse cx="436.7" cy="823.2" rx="3.2" ry="2.4" fill="#1533b0" opacity="0.75"/><ellipse cx="436.3" cy="824.1" rx="4" ry="3.2" fill="#2c90ee" opacity="0.9"/>
<path d="M476.2 816.9C474.5 818.4 474 822.9 472.9 825.9C471.9 828.9 470.8 831.8 469.9 834.8C468.9 837.8 467.4 840.8 467.2 843.7C467 846.7 468.2 849.7 468.7 852.7C469.1 855.7 469.8 858.6 469.9 861.6C470 864.6 469.6 867.6 469.4 870.5C469.3 873.5 468.5 877.4 469.1 879.5C469.7 881.6 471.6 883.1 473 883.1C474.3 883.1 476.4 881.6 477.3 879.5C478.3 877.4 478.3 873.5 478.9 870.5C479.4 867.6 479.7 864.6 480.4 861.6C481.2 858.6 482.7 855.7 483.4 852.7C484.1 849.7 484.2 846.7 484.8 843.7C485.3 840.8 486.7 837.8 486.8 834.8C486.9 831.8 486.2 828.9 485.5 825.9C484.9 822.9 484.4 818.4 482.9 816.9C481.3 815.4 477.8 815.4 476.2 816.9Z" fill="url(#folg2)"/><ellipse cx="475.3" cy="859.3" rx="3.2" ry="12.6" fill="#1533b0" opacity="0.75"/><ellipse cx="473" cy="879.5" rx="4" ry="3.2" fill="#2c90ee" opacity="0.9"/>
<path d="M493.7 831.2C491.9 832.6 490.7 836.5 489.7 839.2C488.7 841.8 488.2 844.4 487.6 847.1C487 849.7 486.6 852.3 486.4 855C486.2 857.6 486.2 860.3 486.4 862.9C486.6 865.5 487.5 868.2 487.7 870.8C487.9 873.4 487.8 876.1 487.8 878.7C487.8 881.4 487 884.7 487.5 886.6C488.1 888.5 489.8 890.2 491.2 890.2C492.6 890.2 494.9 888.5 495.8 886.6C496.8 884.7 496.5 881.4 497 878.7C497.5 876.1 497.9 873.4 498.6 870.8C499.3 868.2 500.4 865.5 501.3 862.9C502.2 860.3 503.7 857.6 504.2 855C504.7 852.3 504.6 849.7 504.2 847.1C503.9 844.4 502.6 841.8 502 839.2C501.4 836.5 502 832.6 500.6 831.2C499.2 829.9 495.5 829.9 493.7 831.2Z" fill="url(#folg2)"/><ellipse cx="493.2" cy="869" rx="3.2" ry="11.2" fill="#1533b0" opacity="0.75"/><ellipse cx="491.2" cy="886.6" rx="4" ry="3.2" fill="#2c90ee" opacity="0.9"/>
<path d="M511.2 840.2C509.5 841.5 508.9 845.6 507.6 848.3C506.2 851.1 504.1 853.8 503.3 856.5C502.6 859.2 502.8 862 502.9 864.7C503 867.4 503.5 870.1 503.9 872.9C504.4 875.6 505.4 878.3 505.7 881C505.9 883.7 505.5 886.5 505.4 889.2C505.3 891.9 504.7 895.4 505.3 897.4C505.9 899.3 507.6 901 509 901C510.3 901 512.4 899.3 513.4 897.4C514.3 895.4 514.3 891.9 514.7 889.2C515.2 886.5 515.4 883.7 516.3 881C517.2 878.3 519 875.6 519.9 872.9C520.8 870.1 521.6 867.4 521.8 864.7C522.1 862 521.6 859.2 521.3 856.5C521 853.8 520.5 851.1 520 848.3C519.4 845.6 519.5 841.5 518.1 840.2C516.6 838.8 513 838.8 511.2 840.2Z" fill="url(#folg2)"/><ellipse cx="511.1" cy="879.1" rx="3.2" ry="11.5" fill="#1533b0" opacity="0.75"/><ellipse cx="509" cy="897.4" rx="4" ry="3.2" fill="#2c90ee" opacity="0.9"/>
<path d="M530.7 840.2C529 841.1 528.4 843.9 527.2 845.8C526.1 847.7 524.4 849.5 523.7 851.4C523.1 853.3 523.2 855.1 523.4 857C523.5 858.9 524.4 860.8 524.8 862.6C525.2 864.5 525.4 866.4 525.5 868.3C525.7 870.1 525.7 872 525.7 873.9C525.7 875.7 525 877.9 525.6 879.5C526.3 881 528.1 883.1 529.5 883.1C531 883.1 533.2 881 534.2 879.5C535.1 877.9 534.9 875.7 535.2 873.9C535.6 872 535.8 870.1 536.3 868.3C536.9 866.4 537.6 864.5 538.3 862.6C539.1 860.8 540.3 858.9 540.9 857C541.4 855.1 542 853.3 541.7 851.4C541.4 849.5 539.8 847.7 539.1 845.8C538.4 843.9 538.8 841.1 537.4 840.2C536 839.2 532.4 839.2 530.7 840.2Z" fill="url(#folg2)"/><ellipse cx="531" cy="867.6" rx="3.2" ry="8.2" fill="#1533b0" opacity="0.75"/><ellipse cx="529.5" cy="879.5" rx="4" ry="3.2" fill="#2c90ee" opacity="0.9"/>
<path d="M395.9 859.8C394.1 861.3 392.8 865.6 391.7 868.5C390.5 871.4 389.7 874.3 388.9 877.2C388.1 880.1 387 883 386.9 885.9C386.8 888.8 387.9 891.7 388.4 894.6C388.8 897.5 389.4 900.3 389.5 903.2C389.6 906.1 389.2 909 389.1 911.9C389 914.8 388.1 918.5 388.7 920.6C389.3 922.6 391.2 924.2 392.6 924.2C394 924.2 396.1 922.6 397 920.6C398 918.5 397.8 914.8 398.3 911.9C398.8 909 399.4 906.1 400 903.2C400.7 900.3 401.4 897.5 402.3 894.6C403.2 891.7 404.5 888.8 405.3 885.9C406.1 883 407.1 880.1 407 877.2C406.8 874.3 405.2 871.4 404.4 868.5C403.7 865.6 404 861.3 402.6 859.8C401.2 858.4 397.7 858.4 395.9 859.8Z" fill="url(#folg2)"/><ellipse cx="394.8" cy="901" rx="3.2" ry="12.2" fill="#1533b0" opacity="0.75"/><ellipse cx="392.6" cy="920.6" rx="4" ry="3.2" fill="#2c90ee" opacity="0.9"/>
<path d="M413.2 868.8C411.5 869.8 411.4 872.7 410.4 874.6C409.5 876.6 407.9 878.6 407.3 880.5C406.8 882.5 407 884.4 407.1 886.4C407.2 888.3 407.7 890.3 407.9 892.3C408.1 894.2 408.3 896.2 408.4 898.1C408.5 900.1 408.6 902 408.6 904C408.6 906 407.8 908.3 408.4 909.9C409 911.4 411 913.5 412.4 913.5C413.7 913.5 415.8 911.4 416.7 909.9C417.7 908.3 417.7 906 418.1 904C418.6 902 418.7 900.1 419.4 898.1C420.1 896.2 421.2 894.2 422 892.3C422.9 890.3 423.9 888.3 424.4 886.4C424.9 884.4 425.2 882.5 425 880.5C424.8 878.6 424.1 876.6 423.3 874.6C422.6 872.7 422.2 869.8 420.5 868.8C418.8 867.8 414.9 867.8 413.2 868.8Z" fill="url(#folg2)"/><ellipse cx="413.9" cy="897.4" rx="3.2" ry="8.5" fill="#1533b0" opacity="0.75"/><ellipse cx="412.4" cy="909.9" rx="4" ry="3.2" fill="#2c90ee" opacity="0.9"/>
<path d="M434.4 843.8C432.4 845.4 431 850.4 429.9 853.7C428.8 857 428.5 860.3 427.9 863.7C427.3 867 426.8 870.3 426.5 873.6C426.2 876.9 426 880.3 426.2 883.6C426.3 886.9 427.1 890.2 427.4 893.5C427.6 896.9 427.5 900.2 427.4 903.5C427.3 906.8 426.3 911.2 426.8 913.4C427.3 915.7 429.2 917 430.6 917C431.9 917 433.9 915.7 434.9 913.4C436 911.2 436.2 906.8 436.8 903.5C437.3 900.2 437.7 896.9 438.3 893.5C439 890.2 439.7 886.9 440.6 883.6C441.4 880.3 442.6 876.9 443.5 873.6C444.3 870.3 445.8 867 445.7 863.7C445.5 860.3 443.4 857 442.7 853.7C442 850.4 442.9 845.4 441.5 843.8C440.1 842.1 436.3 842.1 434.4 843.8Z" fill="url(#folg2)"/><ellipse cx="433.1" cy="890.7" rx="3.2" ry="13.9" fill="#1533b0" opacity="0.75"/><ellipse cx="430.6" cy="913.4" rx="4" ry="3.2" fill="#2c90ee" opacity="0.9"/>
<path d="M455.4 842C453.8 843.4 453.5 847.6 452.4 850.4C451.3 853.2 449.6 856 448.8 858.8C448 861.6 447.9 864.4 447.7 867.2C447.5 870 447.2 872.9 447.4 875.7C447.6 878.5 448.7 881.3 449 884.1C449.3 886.9 449.2 889.7 449.2 892.5C449.2 895.3 448.3 898.9 448.9 900.9C449.5 902.9 451.2 904.5 452.6 904.5C454 904.5 456.2 902.9 457.2 900.9C458.1 898.9 457.8 895.3 458.3 892.5C458.8 889.7 459.5 886.9 460.2 884.1C460.9 881.3 461.7 878.5 462.6 875.7C463.5 872.9 464.9 870 465.4 867.2C465.9 864.4 465.7 861.6 465.6 858.8C465.4 856 465.1 853.2 464.5 850.4C463.9 847.6 463.6 843.4 462.1 842C460.5 840.6 457 840.6 455.4 842Z" fill="url(#folg2)"/><ellipse cx="454.8" cy="882" rx="3.2" ry="11.9" fill="#1533b0" opacity="0.75"/><ellipse cx="452.6" cy="900.9" rx="4" ry="3.2" fill="#2c90ee" opacity="0.9"/>
<path d="M533 879.5C531.2 880.9 530.1 885 528.9 887.7C527.6 890.4 526.3 893.1 525.5 895.8C524.8 898.6 524.3 901.3 524.3 904C524.4 906.7 525.3 909.5 525.8 912.2C526.2 914.9 526.8 917.6 527 920.3C527.2 923.1 527 925.8 526.9 928.5C526.8 931.2 525.9 934.7 526.5 936.7C527.1 938.6 529 940.3 530.4 940.3C531.8 940.3 534 938.6 535 936.7C535.9 934.7 535.8 931.2 536.3 928.5C536.8 925.8 537.3 923.1 538 920.3C538.7 917.6 540 914.9 540.6 912.2C541.3 909.5 541.5 906.7 542.2 904C542.9 901.3 544.8 898.6 544.7 895.8C544.7 893.1 542.4 890.4 541.6 887.7C540.8 885 541.5 880.9 540 879.5C538.6 878.1 534.9 878.1 533 879.5Z" fill="url(#folg2)"/><ellipse cx="532.6" cy="918.4" rx="3.2" ry="11.5" fill="#1533b0" opacity="0.75"/><ellipse cx="530.4" cy="936.7" rx="4" ry="3.2" fill="#2c90ee" opacity="0.9"/>
<path d="M549.7 883.1C547.8 884.2 546.5 887.5 545.3 889.7C544 891.9 542.3 894.1 542 896.4C541.6 898.6 543 900.8 543.2 903C543.5 905.2 543.4 907.4 543.5 909.6C543.7 911.8 544.1 914 544.3 916.3C544.4 918.5 544.3 920.7 544.3 922.9C544.2 925.1 543.4 927.8 544.1 929.5C544.7 931.2 546.5 933.1 547.9 933.1C549.4 933.1 551.6 931.2 552.6 929.5C553.6 927.8 553.3 925.1 553.7 922.9C554.1 920.7 554.3 918.5 555.1 916.3C555.8 914 557.1 911.8 557.9 909.6C558.7 907.4 559.5 905.2 560.1 903C560.6 900.8 561.6 898.6 561.5 896.4C561.3 894.1 560 891.9 559.2 889.7C558.5 887.5 558.4 884.2 556.8 883.1C555.2 882 551.6 882 549.7 883.1Z" fill="url(#folg2)"/><ellipse cx="549.7" cy="915.1" rx="3.2" ry="9.5" fill="#1533b0" opacity="0.75"/><ellipse cx="547.9" cy="929.5" rx="4" ry="3.2" fill="#2c90ee" opacity="0.9"/>
<path d="M412.8 924.2C411.1 925.2 410.7 928.1 409.5 930.1C408.3 932 406.2 934 405.6 935.9C405 937.9 405.7 939.8 405.9 941.8C406.1 943.8 406.7 945.7 407 947.7C407.3 949.6 407.5 951.6 407.7 953.5C407.8 955.5 407.9 957.5 407.9 959.4C407.9 961.4 407.1 963.7 407.7 965.3C408.3 966.9 410.1 968.9 411.5 968.9C412.8 968.9 415 966.9 415.9 965.3C416.8 963.7 416.5 961.4 416.9 959.4C417.3 957.5 417.8 955.5 418.6 953.5C419.3 951.6 420.7 949.6 421.3 947.7C422 945.7 422.2 943.8 422.7 941.8C423.1 939.8 424.3 937.9 424.1 935.9C423.9 934 422.3 932 421.5 930.1C420.7 928.1 420.7 925.2 419.2 924.2C417.8 923.2 414.4 923.2 412.8 924.2Z" fill="url(#folg2)"/><ellipse cx="413" cy="952.8" rx="3.2" ry="8.5" fill="#1533b0" opacity="0.75"/><ellipse cx="411.5" cy="965.3" rx="4" ry="3.2" fill="#2c90ee" opacity="0.9"/>
<path d="M439.8 929.6C438.2 930.8 437.9 934.7 436.7 937.2C435.4 939.8 433.2 942.3 432.3 944.9C431.4 947.4 431.2 950 431.4 952.5C431.5 955.1 432.8 957.6 433.2 960.2C433.7 962.7 434.1 965.3 434.3 967.8C434.4 970.4 434.3 973 434.3 975.5C434.2 978.1 433.3 981.3 433.8 983.2C434.4 985 436.3 986.8 437.6 986.8C439 986.8 441.2 985 442.2 983.2C443.1 981.3 442.9 978.1 443.3 975.5C443.8 973 444.4 970.4 444.9 967.8C445.5 965.3 446 962.7 446.7 960.2C447.3 957.6 448.2 955.1 449 952.5C449.7 950 451.3 947.4 451.2 944.9C451.1 942.3 449.3 939.8 448.5 937.2C447.7 934.7 447.8 930.8 446.4 929.6C444.9 928.3 441.4 928.3 439.8 929.6Z" fill="url(#folg2)"/><ellipse cx="439.6" cy="966.2" rx="3.2" ry="10.9" fill="#1533b0" opacity="0.75"/><ellipse cx="437.6" cy="983.2" rx="4" ry="3.2" fill="#2c90ee" opacity="0.9"/>
<path d="M459.9 913.5C458.3 914.8 457.8 918.7 456.7 921.4C455.6 924 454.2 926.7 453.5 929.3C452.8 931.9 452.5 934.6 452.4 937.2C452.3 939.8 452.8 942.5 453.1 945.1C453.4 947.8 453.8 950.4 454 953C454.1 955.7 453.9 958.3 453.8 960.9C453.7 963.6 452.8 966.9 453.4 968.9C453.9 970.8 455.8 972.5 457.2 972.5C458.6 972.5 460.6 970.8 461.6 968.9C462.6 966.9 462.7 963.6 463.2 960.9C463.7 958.3 463.9 955.7 464.6 953C465.4 950.4 466.9 947.8 467.6 945.1C468.3 942.5 468.4 939.8 468.7 937.2C469 934.6 469.5 931.9 469.4 929.3C469.4 926.7 468.9 924 468.4 921.4C467.9 918.7 467.9 914.8 466.5 913.5C465.1 912.2 461.5 912.2 459.9 913.5Z" fill="url(#folg2)"/><ellipse cx="459.3" cy="951.2" rx="3.2" ry="11.2" fill="#1533b0" opacity="0.75"/><ellipse cx="457.2" cy="968.9" rx="4" ry="3.2" fill="#2c90ee" opacity="0.9"/>
<path d="M483.3 902.7C481.5 904.2 480.6 908.7 479.2 911.7C477.8 914.7 475.7 917.6 474.9 920.6C474.2 923.6 474.6 926.6 474.6 929.5C474.7 932.5 474.7 935.5 475.1 938.5C475.5 941.5 476.7 944.4 477 947.4C477.3 950.4 476.9 953.4 476.8 956.4C476.6 959.3 475.7 963.2 476.2 965.3C476.8 967.4 478.7 968.9 480.1 968.9C481.5 968.9 483.5 967.4 484.5 965.3C485.5 963.2 485.5 959.3 486 956.4C486.6 953.4 486.9 950.4 487.7 947.4C488.5 944.4 490.3 941.5 491 938.5C491.7 935.5 491.7 932.5 492.1 929.5C492.5 926.6 493.3 923.6 493.2 920.6C493.2 917.6 492.4 914.7 491.8 911.7C491.2 908.7 491.2 904.2 489.8 902.7C488.4 901.3 485 901.3 483.3 902.7Z" fill="url(#folg2)"/><ellipse cx="482.4" cy="945.1" rx="3.2" ry="12.6" fill="#1533b0" opacity="0.75"/><ellipse cx="480.1" cy="965.3" rx="4" ry="3.2" fill="#2c90ee" opacity="0.9"/>
<path d="M493 951C491.4 951.9 490.9 954.6 489.9 956.4C488.8 958.2 487.6 959.9 486.7 961.7C485.9 963.5 484.9 965.3 484.8 967.1C484.7 968.9 485.5 970.7 486 972.4C486.5 974.2 487.7 976 488.1 977.8C488.5 979.6 488.3 981.4 488.3 983.2C488.3 985 487.5 987 488.1 988.5C488.8 990 490.7 992.1 492.1 992.1C493.5 992.1 495.6 990 496.5 988.5C497.5 987 497.2 985 497.6 983.2C498 981.4 498.3 979.6 499 977.8C499.6 976 501 974.2 501.7 972.4C502.4 970.7 502.7 968.9 503.2 967.1C503.6 965.3 504.4 963.5 504.2 961.7C504.1 959.9 503.2 958.2 502.5 956.4C501.7 954.6 501.2 951.9 499.6 951C498 950.1 494.6 950.1 493 951Z" fill="url(#folg2)"/><ellipse cx="493.5" cy="977.3" rx="3.2" ry="7.8" fill="#1533b0" opacity="0.75"/><ellipse cx="492.1" cy="988.5" rx="4" ry="3.2" fill="#2c90ee" opacity="0.9"/>
<path d="M514 940.3C512.3 941.2 512 944 510.8 945.9C509.6 947.8 507.1 949.6 506.6 951.5C506 953.4 507 955.3 507.3 957.1C507.7 959 508.2 960.9 508.5 962.7C508.8 964.6 509.1 966.5 509.4 968.4C509.6 970.2 509.8 972.1 509.8 974C509.9 975.8 509 978.1 509.6 979.6C510.2 981.1 512.1 983.2 513.4 983.2C514.8 983.2 517 981.1 518 979.6C518.9 978.1 518.8 975.8 519.2 974C519.6 972.1 519.7 970.2 520.4 968.4C521.1 966.5 522.7 964.6 523.4 962.7C524.2 960.9 524.7 959 525 957.1C525.4 955.3 525.6 953.4 525.3 951.5C525.1 949.6 524.2 947.8 523.4 945.9C522.7 944 522.4 941.2 520.8 940.3C519.3 939.3 515.6 939.3 514 940.3Z" fill="url(#folg2)"/><ellipse cx="514.9" cy="967.7" rx="3.2" ry="8.2" fill="#1533b0" opacity="0.75"/><ellipse cx="513.4" cy="979.6" rx="4" ry="3.2" fill="#2c90ee" opacity="0.9"/>
<path d="M472.8 968.9C471.2 969.4 471.2 971.1 469.9 972.2C468.7 973.3 465.9 974.4 465.1 975.5C464.2 976.6 464.7 977.7 465 978.8C465.2 979.9 466 981 466.6 982.2C467.2 983.3 468.2 984.4 468.7 985.5C469.1 986.6 469 987.7 469.1 988.8C469.2 989.9 468.5 990.9 469.2 992.1C469.9 993.3 471.7 995.7 473.1 995.7C474.5 995.7 476.8 993.3 477.7 992.1C478.6 990.9 478.1 989.9 478.5 988.8C478.8 987.7 479.2 986.6 479.6 985.5C480 984.4 480.1 983.3 480.8 982.2C481.5 981 483.5 979.9 483.9 978.8C484.4 977.7 484 976.6 483.7 975.5C483.3 974.4 482.5 973.3 481.8 972.2C481.1 971.1 480.8 969.4 479.3 968.9C477.8 968.3 474.3 968.3 472.8 968.9Z" fill="url(#folg2)"/><ellipse cx="474.1" cy="986" rx="3.2" ry="5.1" fill="#1533b0" opacity="0.75"/><ellipse cx="473.1" cy="992.1" rx="4" ry="3.2" fill="#2c90ee" opacity="0.9"/>
<path d="M452.8 968.9C451.2 969.4 450.9 970.9 449.8 971.9C448.8 973 447.2 974 446.5 975C445.8 976 445.4 977 445.4 978.1C445.5 979.1 446.3 980.1 447 981.1C447.6 982.2 448.8 983.2 449.3 984.2C449.7 985.2 449.5 986.2 449.6 987.3C449.8 988.3 449.3 989.2 449.9 990.3C450.6 991.4 452.2 993.9 453.6 993.9C454.9 993.9 457.2 991.4 458.2 990.3C459.1 989.2 458.7 988.3 459 987.3C459.3 986.2 459.3 985.2 459.9 984.2C460.4 983.2 461.5 982.2 462.3 981.1C463.1 980.1 464.3 979.1 464.6 978.1C464.9 977 464.4 976 464.1 975C463.7 974 463.3 973 462.5 971.9C461.8 970.9 461.2 969.4 459.5 968.9C457.9 968.4 454.4 968.4 452.8 968.9Z" fill="url(#folg2)"/><ellipse cx="454.4" cy="984.9" rx="3.2" ry="4.8" fill="#1533b0" opacity="0.75"/><ellipse cx="453.6" cy="990.3" rx="4" ry="3.2" fill="#2c90ee" opacity="0.9"/>
<path d="M543.5 933.1C541.8 933.5 540.6 934.5 539.7 935.2C538.9 935.9 538.6 936.5 538.4 937.2C538.2 937.9 538.2 938.6 538.4 939.3C538.6 939.9 539.3 940.6 539.6 941.3C539.9 942 540.1 942.7 540.3 943.3C540.5 944 540.9 944.7 541.1 945.4C541.2 946.1 540.5 946.5 541.2 947.4C541.8 948.4 543.7 951 545.1 951C546.5 951 548.6 948.4 549.5 947.4C550.4 946.5 550.2 946.1 550.5 945.4C550.8 944.7 550.8 944 551.3 943.3C551.8 942.7 553 942 553.5 941.3C554 940.6 554 939.9 554.4 939.3C554.8 938.6 556.3 937.9 556 937.2C555.8 936.5 553.9 935.9 552.9 935.2C552 934.5 551.7 933.5 550.1 933.1C548.5 932.8 545.2 932.8 543.5 933.1Z" fill="url(#folg2)"/><ellipse cx="545.7" cy="944.6" rx="3.2" ry="3.4" fill="#1533b0" opacity="0.75"/><ellipse cx="545.1" cy="947.4" rx="4" ry="3.2" fill="#2c90ee" opacity="0.9"/>
<path d="M379.7 897.4C378.1 897.9 377.6 899.4 376.6 900.4C375.6 901.5 374.3 902.5 373.7 903.5C373.1 904.5 372.9 905.5 372.9 906.6C372.9 907.6 373.1 908.6 373.6 909.6C374.1 910.6 375.4 911.7 375.8 912.7C376.3 913.7 376 914.7 376.1 915.7C376.3 916.8 375.8 917.7 376.5 918.8C377.2 919.9 378.9 922.4 380.3 922.4C381.6 922.4 383.8 919.9 384.7 918.8C385.5 917.7 385.1 916.8 385.4 915.7C385.8 914.7 385.9 913.7 386.5 912.7C387 911.7 387.9 910.6 388.7 909.6C389.5 908.6 390.7 907.6 391.2 906.6C391.7 905.5 392.4 904.5 392 903.5C391.5 902.5 389.6 901.5 388.7 900.4C387.7 899.4 387.6 897.9 386.1 897.4C384.6 896.9 381.3 896.9 379.7 897.4Z" fill="url(#folg2)"/><ellipse cx="381.1" cy="913.4" rx="3.2" ry="4.8" fill="#1533b0" opacity="0.75"/><ellipse cx="380.3" cy="918.8" rx="4" ry="3.2" fill="#2c90ee" opacity="0.9"/>
</g>
<g filter="url(#rb)" fill="#ff2a5d">
<ellipse cx="477.2" cy="833" rx="0.9" ry="1.3"/>
<ellipse cx="509.3" cy="840.2" rx="0.9" ry="1.3"/>
<ellipse cx="513.8" cy="840.5" rx="0.9" ry="1.3"/>
<ellipse cx="440.5" cy="846.4" rx="0.9" ry="1.3"/>
<ellipse cx="444.1" cy="848.2" rx="0.9" ry="1.3"/>
<ellipse cx="411" cy="869.7" rx="0.9" ry="1.3"/>
<ellipse cx="416.4" cy="881.3" rx="0.9" ry="1.3"/>
<ellipse cx="476.3" cy="872.4" rx="0.9" ry="1.3"/>
<ellipse cx="491.5" cy="851.8" rx="0.9" ry="1.3"/>
<ellipse cx="515.6" cy="859.8" rx="0.9" ry="1.3"/>
<ellipse cx="532.6" cy="886.7" rx="0.9" ry="1.3"/>
<ellipse cx="486.1" cy="906.3" rx="0.9" ry="1.3"/>
<ellipse cx="489.7" cy="907.2" rx="0.9" ry="1.3"/>
<ellipse cx="541.5" cy="901" rx="0.9" ry="1.3"/>
<ellipse cx="551.3" cy="888.4" rx="0.9" ry="1.3"/>
<ellipse cx="431.6" cy="919.7" rx="0.9" ry="1.3"/>
<ellipse cx="420.8" cy="926" rx="0.9" ry="1.3"/>
<ellipse cx="458.4" cy="925.1" rx="0.9" ry="1.3"/>
<ellipse cx="475.4" cy="943.9" rx="0.9" ry="1.3"/>
<ellipse cx="432.5" cy="950.1" rx="0.9" ry="1.3"/>
<ellipse cx="451.2" cy="952.8" rx="0.9" ry="1.3"/>
<ellipse cx="512.9" cy="965" rx="0.9" ry="1.3"/>
</g></g>
<circle cx="465.2" cy="904.2" r="93" fill="none" stroke="#1a6fb5" stroke-width="2.4"/>
<clipPath id="cF3"><rect x="178.6" y="1002.1" width="184.4" height="30.9"/></clipPath>
<g clip-path="url(#cF3)">
<rect x="178.6" y="1002.1" width="184.4" height="30.9" fill="#000"/>
<g filter="url(#bl2)">
<polygon points="178.6,1015.1 233.9,1015.1 363,1026.8 363,1042.3 178.6,1042.3" fill="#163fae"/>
<polygon points="178.6,1019.1 270.8,1026.8 363,1034.5 270.8,1036.1 178.6,1026.8" fill="#2563d6"/>
<polygon points="233.9,1017.5 363,1028.4 363,1031.5 233.9,1021.3" fill="#2159cc"/>
</g>
<g filter="url(#rb2)" fill="#ff1f5a" opacity="0.92">
<ellipse cx="190.6" cy="1009.8" rx="1.1" ry="2.5"/>
<ellipse cx="199.8" cy="1012.3" rx="0.9" ry="2.1"/>
<ellipse cx="234.8" cy="1025.3" rx="1.1" ry="2.5"/>
<ellipse cx="260.7" cy="1020.6" rx="0.9" ry="2.1"/>
<ellipse cx="262.5" cy="1023.7" rx="0.9" ry="2.1"/>
<ellipse cx="305.8" cy="1018.2" rx="1.1" ry="2.5"/>
<ellipse cx="354.7" cy="1015.1" rx="1.1" ry="2.5"/>
<ellipse cx="245" cy="1021.3" rx="0.7" ry="1.6"/>
</g></g>
<rect x="178.6" y="1002.1" width="184.4" height="30.9" fill="none" stroke="#8a8a8a" stroke-width="1.4"/>
<clipPath id="cF4"><rect x="372.2" y="1002.1" width="186" height="30.9"/></clipPath>
<g clip-path="url(#cF4)">
<rect x="372.2" y="1002.1" width="186" height="30.9" fill="#000"/>
<g filter="url(#bl2)">
<polygon points="372.2,1005.2 558.2,1003.6 558.2,1042.3 372.2,1042.3" fill="#0e2a86"/>
<polygon points="372.2,1011.4 465.2,1017.5 558.2,1029.9 558.2,1034.5 465.2,1025.3 372.2,1019.1" fill="#2768da"/>
<polygon points="428,1005.2 558.2,1017.5 558.2,1022.2 428,1010.8" fill="#1f58c8"/>
<polygon points="372.2,1025.3 446.6,1033 372.2,1036.1" fill="#2462d4"/>
</g>
<g filter="url(#rb2)" fill="#ff1f5a" opacity="0.92">
<ellipse cx="416.1" cy="1008.2" rx="1" ry="2.3"/>
<ellipse cx="401" cy="1007.7" rx="1" ry="2.3"/>
<ellipse cx="542.9" cy="1017.9" rx="1.2" ry="2.7"/>
<ellipse cx="413.5" cy="1014.2" rx="0.9" ry="2.2"/>
<ellipse cx="404.3" cy="1008.2" rx="0.9" ry="2.1"/>
<ellipse cx="544.7" cy="1018.3" rx="1.2" ry="2.8"/>
<ellipse cx="521.1" cy="1009.4" rx="1" ry="2.2"/>
<ellipse cx="488.8" cy="1016.9" rx="1.2" ry="2.8"/>
<ellipse cx="535.9" cy="1007.9" rx="1.1" ry="2.5"/>
<ellipse cx="497.1" cy="1013.8" rx="0.9" ry="2"/>
<ellipse cx="460.3" cy="1008" rx="1.3" ry="2.9"/>
<ellipse cx="533.2" cy="1014.3" rx="1" ry="2.2"/>
<ellipse cx="541.2" cy="1014.7" rx="1.2" ry="2.9"/>
<ellipse cx="529.9" cy="1013.8" rx="1" ry="2.3"/>
<ellipse cx="483.6" cy="1012.7" rx="0.9" ry="2"/>
<ellipse cx="429" cy="1018" rx="0.8" ry="1.9"/>
<ellipse cx="380.8" cy="1015.4" rx="0.9" ry="2.2"/>
<ellipse cx="471.6" cy="1013.3" rx="1" ry="2.2"/>
<ellipse cx="557.7" cy="1009.5" rx="1" ry="2.3"/>
<ellipse cx="409.9" cy="1015.5" rx="0.9" ry="2.2"/>
<ellipse cx="438.4" cy="1017.1" rx="1" ry="2.2"/>
<ellipse cx="476.1" cy="1019.3" rx="0.9" ry="2"/>
<ellipse cx="383.7" cy="1009.9" rx="1.2" ry="2.7"/>
<ellipse cx="486.7" cy="1010" rx="1" ry="2.2"/>
<ellipse cx="405.2" cy="1013.1" rx="0.8" ry="1.9"/>
<ellipse cx="501.9" cy="1019.2" rx="1.3" ry="2.9"/>
<ellipse cx="508.9" cy="1020.1" rx="0.8" ry="1.9"/>
<ellipse cx="426" cy="1020.2" rx="1.2" ry="2.7"/>
<ellipse cx="448.5" cy="1019.9" rx="1.1" ry="2.6"/>
<ellipse cx="524.3" cy="1010.8" rx="0.9" ry="2.1"/>
<ellipse cx="454.8" cy="1008.6" rx="1" ry="2.3"/>
<ellipse cx="551.1" cy="1011.3" rx="0.8" ry="1.9"/>
<ellipse cx="380.5" cy="1009.1" rx="1.2" ry="2.7"/>
<ellipse cx="439.7" cy="1010.8" rx="0.8" ry="2"/>
<ellipse cx="554.8" cy="1012.6" rx="0.9" ry="2.1"/>
<ellipse cx="383.2" cy="1007.5" rx="0.9" ry="2"/>
<ellipse cx="498.1" cy="1008.8" rx="0.8" ry="1.9"/>
<ellipse cx="463.5" cy="1010.2" rx="1.3" ry="3"/>
<ellipse cx="394.9" cy="1014.1" rx="1.2" ry="2.7"/>
<ellipse cx="448.3" cy="1020.5" rx="1" ry="2.4"/>
<ellipse cx="417.2" cy="1012.4" rx="0.8" ry="1.9"/>
<ellipse cx="450.5" cy="1010.2" rx="1.2" ry="2.9"/>
</g></g>
<rect x="372.2" y="1002.1" width="186" height="30.9" fill="none" stroke="#14509a" stroke-width="1.6"/>
<text font-size="11.5" fill="#111" text-anchor="middle" transform="translate(170.2 905.5) rotate(-90) scale(1 1.08)">X-Y</text>
<text font-size="11.5" fill="#111" text-anchor="middle" transform="translate(170.2 1017.4) rotate(-90) scale(1 1.08)">Y-Z</text>
<text font-size="12.6" textLength="83.6" lengthAdjust="spacing" transform="translate(178.6 1047.6) scale(1 1.08)"><tspan fill="#e8212b">CD8</tspan> <tspan fill="#3fa0e0">K14</tspan> <tspan fill="#2a2ad8">DAPI</tspan></text>
<text font-size="9.8" fill="#111" textLength="33.8" lengthAdjust="spacing" transform="translate(523.4 992.3) scale(1 1.08)">100 μm</text>
<line x1="525.7" y1="995.6" x2="557.2" y2="995.6" stroke="#000" stroke-width="2.2"/>
<path d="M663.2 906.6C663.5 906.6 664 923.6 664.2 931.6C664.4 939.7 664 949.2 664.5 955.1C665 961 666.7 963.2 667.5 966.8C668.3 970.4 669.8 973.3 669.5 976.6C669.2 979.9 667 984.4 666 986.4C665 988.4 664.1 988.7 663.2 988.7C662.3 988.7 661.4 988.4 660.4 986.4C659.4 984.4 657.2 979.9 657 976.6C656.8 973.3 658.2 970.4 659 966.8C659.8 963.2 661.5 961 662 955.1C662.5 949.2 662 939.7 662.2 931.6C662.4 923.6 662.9 906.6 663.2 906.6Z" fill="#d2d2d2" stroke="#000" stroke-width="1"/>
<path d="M699.5 878.1C697.6 878.8 695.4 880.1 694 882.4C692.6 884.7 691.5 888.6 691 891.9C690.5 895.2 690.5 898.7 691 902.2C691.5 905.6 693 909.1 694 912.5C695 915.9 697.1 919.7 697 922.8C696.9 926 694.5 929 693.5 931.4C692.5 933.9 690.8 935.6 691 937.4C691.2 939.3 693.1 941.5 694.5 942.6C695.9 943.7 697.7 944 699.5 944.3C701.3 944.6 703.7 944.6 705.5 944.3C707.3 944 709.1 943.7 710.5 942.6C711.9 941.5 713.8 939.3 714 937.4C714.2 935.6 712.5 933.9 711.5 931.4C710.5 929 708.1 926 708 922.8C707.9 919.7 710 915.9 711 912.5C712 909.1 713.5 905.6 714 902.2C714.5 898.7 714.5 895.2 714 891.9C713.5 888.6 712.4 884.7 711 882.4C709.6 880.1 707.4 878.8 705.5 878.1C703.6 877.4 701.4 877.4 699.5 878.1Z" fill="#7ba7d7" stroke="#4a86c5" stroke-width="1"/>
<circle cx="663.4" cy="909.6" r="3.2" fill="#fff" stroke="#000" stroke-width="1.3"/>
<circle cx="663.4" cy="920.5" r="3.2" fill="#fff" stroke="#000" stroke-width="1.3"/>
<circle cx="663.4" cy="941.4" r="3.2" fill="#fff" stroke="#000" stroke-width="1.3"/>
<circle cx="663.4" cy="959.4" r="3.2" fill="#fff" stroke="#000" stroke-width="1.3"/>
<circle cx="657" cy="969.4" r="3.2" fill="#fff" stroke="#000" stroke-width="1.3"/>
<circle cx="669.7" cy="971.7" r="3.2" fill="#fff" stroke="#000" stroke-width="1.3"/>
<circle cx="665.8" cy="975" r="3.2" fill="#fff" stroke="#000" stroke-width="1.3"/>
<circle cx="653.1" cy="978.9" r="3.2" fill="#fff" stroke="#000" stroke-width="1.3"/>
<circle cx="657" cy="979.5" r="3.2" fill="#fff" stroke="#000" stroke-width="1.3"/>
<circle cx="669.7" cy="980.5" r="3.2" fill="#fff" stroke="#000" stroke-width="1.3"/>
<circle cx="673.6" cy="980.1" r="3.2" fill="#fff" stroke="#000" stroke-width="1.3"/>
<circle cx="660.3" cy="982.5" r="3.2" fill="#fff" stroke="#000" stroke-width="1.3"/>
<circle cx="666.8" cy="984.4" r="3.2" fill="#fff" stroke="#000" stroke-width="1.3"/>
<circle cx="657" cy="986.4" r="3.2" fill="#fff" stroke="#000" stroke-width="1.3"/>
<circle cx="669.7" cy="987.3" r="3.2" fill="#fff" stroke="#000" stroke-width="1.3"/>
<circle cx="693.1" cy="881.8" r="3.2" fill="#fff" stroke="#4a86c5" stroke-width="1.3"/>
<circle cx="705.8" cy="882.4" r="3.2" fill="#fff" stroke="#4a86c5" stroke-width="1.3"/>
<circle cx="699.4" cy="884.7" r="3.2" fill="#fff" stroke="#4a86c5" stroke-width="1.3"/>
<circle cx="693.1" cy="888.6" r="3.2" fill="#fff" stroke="#4a86c5" stroke-width="1.3"/>
<circle cx="712.3" cy="890" r="3.2" fill="#fff" stroke="#4a86c5" stroke-width="1.3"/>
<circle cx="699.4" cy="900.4" r="3.2" fill="#fff" stroke="#4a86c5" stroke-width="1.3"/>
<circle cx="693.1" cy="904.3" r="3.2" fill="#fff" stroke="#4a86c5" stroke-width="1.3"/>
<circle cx="712.3" cy="904.3" r="3.2" fill="#fff" stroke="#4a86c5" stroke-width="1.3"/>
<circle cx="705.8" cy="905.8" r="3.2" fill="#fff" stroke="#4a86c5" stroke-width="1.3"/>
<circle cx="699.4" cy="912.1" r="3.2" fill="#fff" stroke="#4a86c5" stroke-width="1.3"/>
<circle cx="712.3" cy="912.1" r="3.2" fill="#fff" stroke="#4a86c5" stroke-width="1.3"/>
<circle cx="702.5" cy="924.8" r="3.2" fill="#fff" stroke="#4a86c5" stroke-width="1.3"/>
<circle cx="699.4" cy="936.1" r="3.2" fill="#fff" stroke="#4a86c5" stroke-width="1.3"/>
<circle cx="712.3" cy="937.1" r="3.2" fill="#fff" stroke="#4a86c5" stroke-width="1.3"/>
<circle cx="693.1" cy="940.4" r="3.2" fill="#fff" stroke="#4a86c5" stroke-width="1.3"/>
<circle cx="705.8" cy="940.4" r="3.2" fill="#fff" stroke="#4a86c5" stroke-width="1.3"/>
<line x1="637.8" y1="860.4" x2="637.8" y2="998.5" stroke="#000" stroke-width="1.3"/>
<line x1="632.2" y1="998.5" x2="730.3" y2="998.5" stroke="#000" stroke-width="1.3"/>
<line x1="632.2" y1="998.5" x2="637.8" y2="998.5" stroke="#000" stroke-width="1.3"/>
<text font-size="12.8" fill="#111" text-anchor="end" transform="translate(629 1003) scale(1 1.08)">0</text>
<line x1="632.2" y1="964.1" x2="637.8" y2="964.1" stroke="#000" stroke-width="1.3"/>
<text font-size="12.8" fill="#111" text-anchor="end" transform="translate(629 968.6) scale(1 1.08)">20</text>
<line x1="632.2" y1="929.7" x2="637.8" y2="929.7" stroke="#000" stroke-width="1.3"/>
<text font-size="12.8" fill="#111" text-anchor="end" transform="translate(629 934.2) scale(1 1.08)">40</text>
<line x1="632.2" y1="895.3" x2="637.8" y2="895.3" stroke="#000" stroke-width="1.3"/>
<text font-size="12.8" fill="#111" text-anchor="end" transform="translate(629 899.8) scale(1 1.08)">60</text>
<line x1="632.2" y1="860.9" x2="637.8" y2="860.9" stroke="#000" stroke-width="1.3"/>
<text font-size="12.8" fill="#111" text-anchor="end" transform="translate(629 865.4) scale(1 1.08)">80</text>
<line x1="663.2" y1="998.5" x2="663.2" y2="1004" stroke="#000" stroke-width="1.3"/>
<line x1="702.5" y1="998.5" x2="702.5" y2="1004" stroke="#000" stroke-width="1.3"/>
<text font-size="12.8" fill="#111" textLength="35.8" lengthAdjust="spacing" transform="translate(641.3 1019.6) scale(1 1.08)">Saline</text>
<text font-size="12.8" fill="#111" textLength="28.8" lengthAdjust="spacing" transform="translate(689.2 1019.6) scale(1 1.08)">CNO</text>
<line x1="662.8" y1="860.9" x2="702.9" y2="860.9" stroke="#000" stroke-width="1.2"/>
<text font-size="15" text-anchor="middle" letter-spacing="0.6" transform="translate(682.4 860.5) scale(1 1.08)">***</text>
<text font-size="12.8" fill="#111" text-anchor="middle" textLength="108.5" lengthAdjust="spacing" transform="translate(593 925) rotate(-90) scale(1 1.08)">No. of CD8<tspan font-size="7.5" dy="-4.5">+</tspan><tspan dy="4.5"> T cells</tspan></text>
<text font-size="12.8" fill="#111" text-anchor="middle" textLength="75" lengthAdjust="spacing" transform="translate(608.1 925) rotate(-90) scale(1 1.08)">per mm² skin</text>
<defs><linearGradient id="hairg" x1="0" x2="1" y1="0" y2="0"><stop offset="0" stop-color="#d2d2d2"/><stop offset="1" stop-color="#efefef"/></linearGradient><radialGradient id="orb" cx="0.5" cy="0.5" r="0.5"><stop offset="0" stop-color="#fcc593"/><stop offset="0.5" stop-color="#f9973d"/><stop offset="1" stop-color="#f6851f"/></radialGradient></defs>
<text font-size="23" font-weight="bold" transform="translate(759.3 769.2) scale(1 1.08)">G</text>
<text font-size="18" fill="#333" font-weight="bold" textLength="379.5" lengthAdjust="spacing" transform="translate(854.5 785)">Inhibition of cutaneous sympathetic signals</text>
<text font-size="18" fill="#333" font-weight="bold" textLength="250.9" lengthAdjust="spacing" transform="translate(918.3 807)">increases skin CD8<tspan font-size="10.5" dy="-6">+</tspan><tspan dy="6"> T</tspan><tspan font-size="9.8" dy="4">RM</tspan><tspan dy="-4"> cells</tspan></text>
<path d="M943 815.6C942.2 815.6 931 831.9 925.3 840C919.6 848.1 914 855.9 909 864C904 872.1 899.4 881.2 895.6 888.4C891.9 895.6 889.1 901 886.5 907C883.9 913 881.8 918.9 879.9 924.7C878 930.5 876.4 936.1 875 942C873.6 947.9 873.1 953.6 871.4 959.9C869.7 966.2 867.1 972 864.8 979.8C862.5 987.6 859.2 999.9 857.7 1006.6C856.2 1013.3 855.9 1016.5 855.9 1020C855.9 1023.5 856.4 1025.7 857.5 1027.5C858.6 1029.3 860.9 1030.8 862.6 1030.8C864.3 1030.8 866.6 1029.3 867.8 1027.5C869 1025.7 869 1023.5 869.7 1020C870.4 1016.5 870.6 1013.3 872 1006.6C873.4 999.9 875.7 987.6 877.8 979.8C879.9 972 882.8 966.2 884.7 959.9C886.6 953.6 887.4 947.9 889 942C890.6 936.1 892.7 930.5 894.4 924.7C896.1 918.9 897.4 913 899 907C900.6 901 901.3 895.6 904.1 888.4C906.9 881.2 911.6 872.1 916 864C920.4 855.9 925.7 848.1 930.2 840C934.7 831.9 943.8 815.6 943 815.6Z" fill="url(#hairg)" stroke="#bdbdbd" stroke-width="0.7"/>
<path d="M818.3 894.2C820.9 894.4 827.6 893.7 833.5 894.9C839.4 896.1 848 897.9 853.6 901.6C859.2 905.3 864.2 911.7 867 917.3C869.8 922.8 870.4 929.2 870.4 935.1C870.4 941.1 869.1 947.4 867 953C865 958.6 861.3 963.8 858.1 968.7C854.9 973.5 850.3 977.6 848 982.1C845.8 986.5 844.9 991 844.7 995.5C844.5 999.9 846.7 1004.8 846.9 1008.9C847.1 1013 845.6 1016.3 845.8 1020.1C846 1023.8 846.6 1028.3 848 1031.2C849.5 1034.1 852 1036.4 854.7 1037.5C857.5 1038.6 862 1038.6 864.8 1037.9C867.6 1037.3 869.8 1036.1 871.5 1033.5C873.2 1030.9 873.4 1025.5 874.9 1022.3C876.4 1019.1 878.8 1016.7 880.4 1014.5C882.1 1012.2 884 1012 884.9 1008.9C885.8 1005.7 885.8 999.9 886 995.5C886.2 991 885.7 987.7 886 982.1C886.4 976.5 887.3 967.4 888.3 962C889.2 956.6 890.3 952 891.6 949.7C892.9 947.4 893.5 948.1 896.1 948.1C898.7 948.1 903.9 949 907.3 949.7C910.6 950.3 913.2 951.9 916.2 951.9C919.2 951.9 922.5 951.3 925.1 949.7C927.7 948 930.9 944.8 931.8 941.8C932.8 938.9 932 934.6 930.7 931.8C929.4 929 926.8 926.8 924 925.1C921.2 923.4 916.9 923.2 914 921.7C911 920.2 908 918.4 906.1 916.1C904.3 913.9 902.6 910.9 902.8 908.3C903 905.7 904.7 902.6 907.3 900.5C909.9 898.5 914.3 897 918.4 896C922.5 895 925.5 894.7 931.8 894.5C938.2 894.2 946.6 894.5 956.4 894.5C966.3 894.5 985.3 894.5 991.1 894.5" fill="none" stroke="#6c9fd6" stroke-width="2.1" stroke-linecap="round" stroke-linejoin="round"/>
<path d="M956.9 894.9C957.5 897.2 960.5 903.5 960.4 908.3C960.4 913.2 959.3 918.8 956.4 924C953.5 929.2 946.2 934.4 943 939.6C939.9 944.8 941.2 950.2 937.4 955.3C933.7 960.3 926.8 966.2 920.7 969.8C914.5 973.3 906.3 974.4 900.6 976.5C894.8 978.5 890.9 980 886 982.1C881.2 984.1 876.5 986.7 871.5 988.8C866.5 990.8 860.3 993.6 855.9 994.4C851.4 995.1 847.5 994.9 844.7 993.2C841.9 991.6 839.8 987.2 839.1 984.3C838.4 981.4 838.8 977.8 840.7 975.8C842.5 973.8 848.7 973 850.3 972.5" fill="none" stroke="#16a294" stroke-width="1.5"/>
<path d="M953.7 894.9C953 897.5 949.4 905.2 949.3 910.6C949.2 916 954.9 922.1 953.1 927.3C951.3 932.5 943 936.1 938.5 941.8C934.1 947.6 931.8 956.6 926.3 962C920.7 967.4 910.8 971.1 905 974.2C899.3 977.4 895.3 978.7 891.6 980.9C887.9 983.2 886.8 985.4 882.7 987.7C878.6 989.9 872.3 992.9 867 994.4C861.8 995.8 855.5 996.9 851.4 996.6C847.3 996.3 843.9 993.4 842.5 992.8" fill="none" stroke="#16a294" stroke-width="1.5"/>
<path d="M957.8 894.9C956.9 897.2 954.7 903.3 952.4 908.3C950.1 913.4 945.1 919.7 944.1 925.1C943.1 930.5 949.5 935.9 946.4 940.7C943.2 945.6 929.2 949.3 925.1 954.1C921 959 926.3 966.3 921.8 969.8C917.3 973.2 904.5 973.5 898.3 974.9C892.1 976.3 887 976 884.5 978C881.9 980.1 884.9 983.6 883.1 987C881.3 990.3 877.8 995 873.7 998.2C869.6 1001.3 863.1 1005 858.5 1005.8C854 1006.5 849.5 1004.6 846.5 1002.6C843.5 1000.6 841.6 995.2 840.7 993.7" fill="none" stroke="#16a294" stroke-width="1.5"/>
<path d="M955.1 894.9C955.4 897.9 958.5 907.2 956.9 912.8C955.2 918.4 948.6 923.2 945.3 928.4C941.9 933.6 939 939.1 936.8 944.1C934.5 949.1 936 953.3 931.8 958.6C927.7 963.9 918.8 971.8 911.7 975.8C904.7 979.8 894.9 979.9 889.4 982.5C883.9 985.1 882.4 988.6 878.7 991.5C874.9 994.3 871.2 997.8 867 999.5C862.9 1001.2 855.9 1001.4 853.6 1001.7" fill="none" stroke="#16a294" stroke-width="1.5"/>
<path d="M1230 815.6C1229.2 815.6 1218 831.9 1212.3 840C1206.6 848.1 1201 855.9 1196 864C1191 872.1 1186.3 881.2 1182.6 888.4C1178.8 895.6 1176.1 901 1173.5 907C1170.9 913 1168.8 918.9 1166.9 924.7C1165 930.5 1163.4 936.1 1162 942C1160.6 947.9 1160.1 953.6 1158.4 959.9C1156.7 966.2 1154.1 972 1151.8 979.8C1149.5 987.6 1146.2 999.9 1144.7 1006.6C1143.2 1013.3 1142.9 1016.5 1142.9 1020C1142.9 1023.5 1143.4 1025.7 1144.5 1027.5C1145.6 1029.3 1147.9 1030.8 1149.6 1030.8C1151.3 1030.8 1153.6 1029.3 1154.8 1027.5C1156 1025.7 1156 1023.5 1156.7 1020C1157.4 1016.5 1157.7 1013.3 1159 1006.6C1160.3 999.9 1162.7 987.6 1164.8 979.8C1166.9 972 1169.8 966.2 1171.7 959.9C1173.6 953.6 1174.4 947.9 1176 942C1177.6 936.1 1179.7 930.5 1181.4 924.7C1183.1 918.9 1184.4 913 1186 907C1187.6 901 1188.3 895.6 1191.1 888.4C1193.9 881.2 1198.7 872.1 1203 864C1207.3 855.9 1212.7 848.1 1217.2 840C1221.7 831.9 1230.8 815.6 1230 815.6Z" fill="url(#hairg)" stroke="#bdbdbd" stroke-width="0.7"/>
<path d="M1105.3 894.2C1107.9 894.4 1114.6 893.7 1120.5 894.9C1126.4 896.1 1135 897.9 1140.6 901.6C1146.2 905.3 1151.2 911.7 1154 917.3C1156.8 922.8 1157.4 929.2 1157.4 935.1C1157.4 941.1 1156.1 947.4 1154 953C1152 958.6 1148.3 963.8 1145.1 968.7C1141.9 973.5 1137.3 977.6 1135 982.1C1132.8 986.5 1131.9 991 1131.7 995.5C1131.5 999.9 1133.7 1004.8 1133.9 1008.9C1134.1 1013 1132.6 1016.3 1132.8 1020.1C1133 1023.8 1133.6 1028.3 1135 1031.2C1136.5 1034.1 1139 1036.4 1141.7 1037.5C1144.5 1038.6 1149 1038.6 1151.8 1037.9C1154.6 1037.3 1156.8 1036.1 1158.5 1033.5C1160.2 1030.9 1160.4 1025.5 1161.9 1022.3C1163.4 1019.1 1165.8 1016.7 1167.4 1014.5C1169.1 1012.2 1171 1012 1171.9 1008.9C1172.8 1005.7 1172.8 999.9 1173 995.5C1173.2 991 1172.7 987.7 1173 982.1C1173.4 976.5 1174.3 967.4 1175.3 962C1176.2 956.6 1177.3 952 1178.6 949.7C1179.9 947.4 1180.5 948.1 1183.1 948.1C1185.7 948.1 1190.9 949 1194.3 949.7C1197.6 950.3 1200.2 951.9 1203.2 951.9C1206.2 951.9 1209.5 951.3 1212.1 949.7C1214.7 948 1217.9 944.8 1218.8 941.8C1219.8 938.9 1219 934.6 1217.7 931.8C1216.4 929 1213.8 926.8 1211 925.1C1208.2 923.4 1203.9 923.2 1201 921.7C1198 920.2 1195 918.4 1193.1 916.1C1191.3 913.9 1189.6 910.9 1189.8 908.3C1190 905.7 1191.7 902.6 1194.3 900.5C1196.9 898.5 1201.3 897 1205.4 896C1209.5 895 1212.5 894.7 1218.8 894.5C1225.2 894.2 1233.6 894.5 1243.4 894.5C1253.3 894.5 1272.3 894.5 1278.1 894.5" fill="none" stroke="#6c9fd6" stroke-width="2.1" stroke-linecap="round" stroke-linejoin="round"/>
<path d="M1243.9 894.9C1244.5 897.2 1247.5 903.5 1247.4 908.3C1247.4 913.2 1246.3 918.8 1243.4 924C1240.5 929.2 1233.2 934.4 1230 939.6C1226.9 944.8 1228.2 950.2 1224.4 955.3C1220.7 960.3 1213.8 966.2 1207.7 969.8C1201.5 973.3 1193.3 974.4 1187.6 976.5C1181.8 978.5 1177.9 980 1173 982.1C1168.2 984.1 1163.5 986.7 1158.5 988.8C1153.5 990.8 1147.3 993.6 1142.9 994.4C1138.4 995.1 1134.5 994.9 1131.7 993.2C1128.9 991.6 1126.8 987.2 1126.1 984.3C1125.4 981.4 1125.8 977.8 1127.7 975.8C1129.5 973.8 1135.7 973 1137.3 972.5" fill="none" stroke="#1a6fb5" stroke-width="1.5" stroke-dasharray="4 2.4"/>
<path d="M1240.7 894.9C1240 897.5 1236.4 905.2 1236.3 910.6C1236.2 916 1241.9 922.1 1240.1 927.3C1238.3 932.5 1230 936.1 1225.5 941.8C1221.1 947.6 1218.8 956.6 1213.3 962C1207.7 967.4 1197.8 971.1 1192 974.2C1186.3 977.4 1182.3 978.7 1178.6 980.9C1174.9 983.2 1173.8 985.4 1169.7 987.7C1165.6 989.9 1159.3 992.9 1154 994.4C1148.8 995.8 1142.5 996.9 1138.4 996.6C1134.3 996.3 1130.9 993.4 1129.5 992.8" fill="none" stroke="#1a6fb5" stroke-width="1.5" stroke-dasharray="4 2.4"/>
<path d="M1244.8 894.9C1243.9 897.2 1241.7 903.3 1239.4 908.3C1237.1 913.4 1232.1 919.7 1231.1 925.1C1230.1 930.5 1236.5 935.9 1233.4 940.7C1230.2 945.6 1216.2 949.3 1212.1 954.1C1208 959 1213.3 966.3 1208.8 969.8C1204.3 973.2 1191.5 973.5 1185.3 974.9C1179.1 976.3 1174 976 1171.5 978C1168.9 980.1 1171.9 983.6 1170.1 987C1168.3 990.3 1164.8 995 1160.7 998.2C1156.6 1001.3 1150.1 1005 1145.5 1005.8C1141 1006.5 1136.5 1004.6 1133.5 1002.6C1130.5 1000.6 1128.6 995.2 1127.7 993.7" fill="none" stroke="#1a6fb5" stroke-width="1.5" stroke-dasharray="4 2.4"/>
<circle cx="823" cy="884.9" r="7.4" fill="url(#orb)" stroke="#f26a21" stroke-width="1.3"/>
<circle cx="926.9" cy="884.9" r="7.4" fill="url(#orb)" stroke="#f26a21" stroke-width="1.3"/>
<circle cx="914" cy="941.2" r="7.4" fill="url(#orb)" stroke="#f26a21" stroke-width="1.3"/>
<circle cx="1104.3" cy="884.8" r="7.4" fill="url(#orb)" stroke="#f26a21" stroke-width="1.3"/>
<circle cx="1147.2" cy="894.4" r="7.4" fill="url(#orb)" stroke="#f26a21" stroke-width="1.3"/>
<circle cx="1163.5" cy="917.7" r="7.4" fill="url(#orb)" stroke="#f26a21" stroke-width="1.3"/>
<circle cx="1186.7" cy="923.9" r="7.4" fill="url(#orb)" stroke="#f26a21" stroke-width="1.3"/>
<circle cx="1206.8" cy="941.1" r="7.4" fill="url(#orb)" stroke="#f26a21" stroke-width="1.3"/>
<circle cx="1160.6" cy="947.8" r="7.4" fill="url(#orb)" stroke="#f26a21" stroke-width="1.3"/>
<circle cx="1213.8" cy="884.8" r="7.4" fill="url(#orb)" stroke="#f26a21" stroke-width="1.3"/>
<circle cx="1239.9" cy="884.8" r="7.4" fill="url(#orb)" stroke="#f26a21" stroke-width="1.3"/>
<circle cx="1266.3" cy="884.8" r="7.4" fill="url(#orb)" stroke="#f26a21" stroke-width="1.3"/>
<text font-size="17.8" fill="#f15a29" font-weight="bold" textLength="74.9" lengthAdjust="spacing" transform="translate(808.9 869.2) scale(1 1.08)">CD8<tspan font-size="10.5" dy="-6">+</tspan><tspan dy="6"> T</tspan><tspan font-size="9.8" dy="3.5">RM</tspan></text>
<text font-size="17.8" fill="#f15a29" font-weight="bold" textLength="74.8" lengthAdjust="spacing" transform="translate(1091.8 869.2) scale(1 1.08)">CD8<tspan font-size="10.5" dy="-6">+</tspan><tspan dy="6"> T</tspan><tspan font-size="9.8" dy="3.5">RM</tspan></text>
<line x1="1179.6" y1="873.7" x2="1179.6" y2="853" stroke="#e8192c" stroke-width="1.7"/>
<path d="M1179.6 845.2L1173.4 858.5L1179.6 856L1185.8 858.5Z" fill="#e8192c"/>
<text font-size="18.4" fill="#5b7fa8" font-weight="bold" textLength="111.5" lengthAdjust="spacing" transform="translate(982.8 936.2) scale(1 1.08)">SN inhibition</text>
<line x1="975.5" y1="958.9" x2="1102" y2="958.9" stroke="#5b7fa8" stroke-width="1.7" stroke-dasharray="11.2 3.2"/>
<path d="M1113.8 958.9L1101.5 954L1104.5 958.9L1101.5 963.8Z" fill="#5b7fa8"/>
</svg></body></html>
